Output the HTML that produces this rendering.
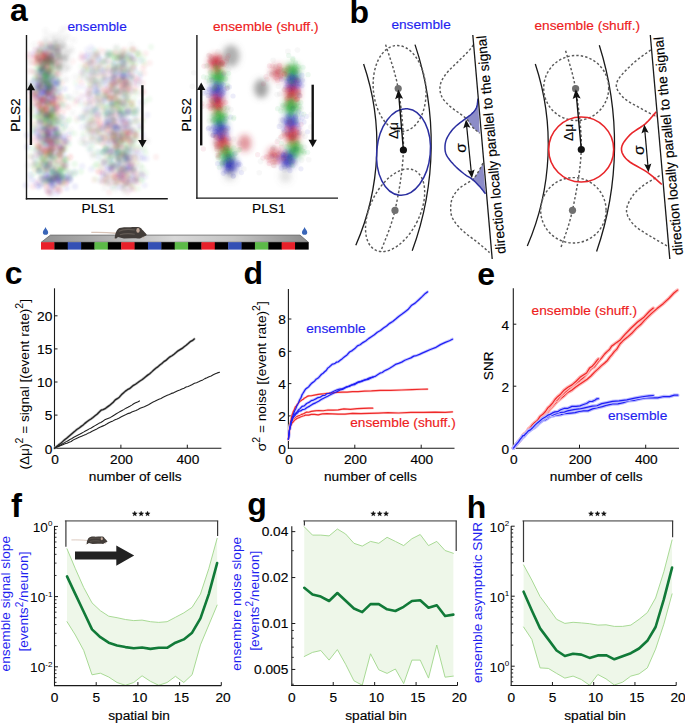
<!DOCTYPE html>
<html><head><meta charset="utf-8"><style>html,body{margin:0;padding:0;background:#fff;}svg{display:block;}text{font-family:"Liberation Sans", sans-serif;}</style></head>
<body><svg width="685" height="724" viewBox="0 0 685 724" font-family="Liberation Sans, sans-serif">
<rect width="685" height="724" fill="#fff"/>
<text x="10.1" y="21.4" font-size="32" text-anchor="start" fill="#000" font-weight="bold">a</text>
<text x="67.4" y="30.5" font-size="13.7" text-anchor="start" fill="#1f1ff0" stroke="#1f1ff0" stroke-width="0.15">ensemble</text>
<text x="213" y="30.5" font-size="13.7" text-anchor="start" fill="#ee2020" stroke="#ee2020" stroke-width="0.15">ensemble (shuff.)</text>
<defs><filter id="bl" x="-20%" y="-20%" width="140%" height="140%"><feGaussianBlur stdDeviation="0.8"/></filter><filter id="bl2" x="-50%" y="-50%" width="200%" height="200%"><feGaussianBlur stdDeviation="3.2"/></filter><filter id="bl3" x="-20%" y="-20%" width="140%" height="140%"><feGaussianBlur stdDeviation="0.7"/></filter></defs>
<g filter="url(#bl)">
<circle cx="47.92" cy="137.46" r="3.2" fill="rgb(225,40,40)" fill-opacity="0.07"/>
<circle cx="65.46" cy="170.79" r="3.2" fill="rgb(40,180,40)" fill-opacity="0.07"/>
<circle cx="47.79" cy="93.25" r="3.2" fill="rgb(225,40,40)" fill-opacity="0.07"/>
<circle cx="38.27" cy="122.41" r="3.2" fill="rgb(225,40,40)" fill-opacity="0.07"/>
<circle cx="51.55" cy="179.11" r="3.2" fill="rgb(40,40,200)" fill-opacity="0.07"/>
<circle cx="28.9" cy="54.18" r="3.2" fill="rgb(225,40,40)" fill-opacity="0.07"/>
<circle cx="45.29" cy="114.83" r="3.2" fill="rgb(40,40,200)" fill-opacity="0.07"/>
<circle cx="45.78" cy="74.45" r="3.2" fill="rgb(40,180,40)" fill-opacity="0.07"/>
<circle cx="47.13" cy="87.37" r="3.2" fill="rgb(40,40,200)" fill-opacity="0.07"/>
<circle cx="59.12" cy="146.18" r="3.2" fill="rgb(40,40,200)" fill-opacity="0.07"/>
<circle cx="59.94" cy="178.25" r="3.2" fill="rgb(110,110,110)" fill-opacity="0.07"/>
<circle cx="46.45" cy="105.8" r="3.2" fill="rgb(225,40,40)" fill-opacity="0.07"/>
<circle cx="47.09" cy="190.82" r="3.2" fill="rgb(40,40,200)" fill-opacity="0.07"/>
<circle cx="41.68" cy="66.06" r="3.2" fill="rgb(40,40,200)" fill-opacity="0.07"/>
<circle cx="45.83" cy="178.27" r="3.2" fill="rgb(225,40,40)" fill-opacity="0.07"/>
<circle cx="51.82" cy="168.77" r="3.2" fill="rgb(40,40,200)" fill-opacity="0.07"/>
<circle cx="50.63" cy="173.27" r="3.2" fill="rgb(40,40,200)" fill-opacity="0.07"/>
<circle cx="48.53" cy="127.63" r="3.2" fill="rgb(40,180,40)" fill-opacity="0.07"/>
<circle cx="56.51" cy="100.15" r="3.2" fill="rgb(110,110,110)" fill-opacity="0.07"/>
<circle cx="49.53" cy="173.59" r="3.2" fill="rgb(40,40,200)" fill-opacity="0.07"/>
<circle cx="39.89" cy="156.02" r="3.2" fill="rgb(110,110,110)" fill-opacity="0.07"/>
<circle cx="43.25" cy="58.82" r="3.2" fill="rgb(225,40,40)" fill-opacity="0.07"/>
<circle cx="46.81" cy="167.12" r="3.2" fill="rgb(40,40,200)" fill-opacity="0.07"/>
<circle cx="54.86" cy="120.81" r="3.2" fill="rgb(110,110,110)" fill-opacity="0.07"/>
<circle cx="53.68" cy="178.5" r="3.2" fill="rgb(40,40,200)" fill-opacity="0.07"/>
<circle cx="49.67" cy="111.7" r="3.2" fill="rgb(225,40,40)" fill-opacity="0.07"/>
<circle cx="40.02" cy="112.8" r="3.2" fill="rgb(40,180,40)" fill-opacity="0.07"/>
<circle cx="34.62" cy="103.5" r="3.2" fill="rgb(225,40,40)" fill-opacity="0.07"/>
<circle cx="36.09" cy="97.45" r="3.2" fill="rgb(225,40,40)" fill-opacity="0.07"/>
<circle cx="47.87" cy="120.05" r="3.2" fill="rgb(40,180,40)" fill-opacity="0.07"/>
<circle cx="42.15" cy="108.67" r="3.2" fill="rgb(225,40,40)" fill-opacity="0.07"/>
<circle cx="55.76" cy="108.72" r="3.2" fill="rgb(40,40,200)" fill-opacity="0.07"/>
<circle cx="46.89" cy="159.93" r="3.2" fill="rgb(40,180,40)" fill-opacity="0.07"/>
<circle cx="37.22" cy="94.71" r="3.2" fill="rgb(110,110,110)" fill-opacity="0.07"/>
<circle cx="38.91" cy="76.7" r="3.2" fill="rgb(110,110,110)" fill-opacity="0.07"/>
<circle cx="37.8" cy="138.95" r="3.2" fill="rgb(40,40,200)" fill-opacity="0.07"/>
<circle cx="53.38" cy="185.61" r="3.2" fill="rgb(40,40,200)" fill-opacity="0.07"/>
<circle cx="43.73" cy="56.38" r="3.2" fill="rgb(225,40,40)" fill-opacity="0.07"/>
<circle cx="47.01" cy="63.59" r="3.2" fill="rgb(225,40,40)" fill-opacity="0.07"/>
<circle cx="50.24" cy="178.88" r="3.2" fill="rgb(110,110,110)" fill-opacity="0.07"/>
<circle cx="51.3" cy="89.59" r="3.2" fill="rgb(40,40,200)" fill-opacity="0.07"/>
<circle cx="57.98" cy="135.27" r="3.2" fill="rgb(110,110,110)" fill-opacity="0.07"/>
<circle cx="53.13" cy="95.98" r="3.2" fill="rgb(40,40,200)" fill-opacity="0.07"/>
<circle cx="57.38" cy="129.3" r="3.2" fill="rgb(110,110,110)" fill-opacity="0.07"/>
<circle cx="65.68" cy="168.15" r="3.2" fill="rgb(110,110,110)" fill-opacity="0.07"/>
<circle cx="39.92" cy="100" r="3.2" fill="rgb(225,40,40)" fill-opacity="0.07"/>
<circle cx="49.02" cy="84.85" r="3.2" fill="rgb(110,110,110)" fill-opacity="0.07"/>
<circle cx="43.87" cy="155.98" r="3.2" fill="rgb(225,40,40)" fill-opacity="0.07"/>
<circle cx="54.36" cy="127.51" r="3.2" fill="rgb(40,40,200)" fill-opacity="0.07"/>
<circle cx="42.83" cy="158.25" r="3.2" fill="rgb(40,180,40)" fill-opacity="0.07"/>
<circle cx="47.87" cy="73.71" r="3.2" fill="rgb(225,40,40)" fill-opacity="0.07"/>
<circle cx="53.31" cy="180.03" r="3.2" fill="rgb(40,180,40)" fill-opacity="0.07"/>
<circle cx="49.86" cy="143.67" r="3.2" fill="rgb(110,110,110)" fill-opacity="0.07"/>
<circle cx="50.44" cy="146.04" r="3.2" fill="rgb(40,180,40)" fill-opacity="0.07"/>
<circle cx="42.51" cy="66.67" r="3.2" fill="rgb(110,110,110)" fill-opacity="0.07"/>
<circle cx="43.05" cy="149.19" r="3.2" fill="rgb(110,110,110)" fill-opacity="0.07"/>
<circle cx="51.15" cy="155.51" r="3.2" fill="rgb(110,110,110)" fill-opacity="0.07"/>
<circle cx="46.18" cy="63.42" r="3.2" fill="rgb(40,180,40)" fill-opacity="0.07"/>
<circle cx="62.53" cy="162.19" r="3.2" fill="rgb(225,40,40)" fill-opacity="0.07"/>
<circle cx="60.67" cy="96.5" r="3.2" fill="rgb(225,40,40)" fill-opacity="0.07"/>
<circle cx="27.94" cy="165.47" r="3.2" fill="rgb(110,110,110)" fill-opacity="0.07"/>
<circle cx="40.49" cy="121.92" r="3.2" fill="rgb(40,40,200)" fill-opacity="0.07"/>
<circle cx="52.08" cy="128.74" r="3.2" fill="rgb(110,110,110)" fill-opacity="0.07"/>
<circle cx="43.22" cy="73.21" r="3.2" fill="rgb(40,40,200)" fill-opacity="0.07"/>
<circle cx="59.92" cy="183.27" r="3.2" fill="rgb(225,40,40)" fill-opacity="0.07"/>
<circle cx="46.21" cy="74.64" r="3.2" fill="rgb(40,180,40)" fill-opacity="0.07"/>
<circle cx="43.01" cy="99.87" r="3.2" fill="rgb(225,40,40)" fill-opacity="0.07"/>
<circle cx="39.5" cy="102.09" r="3.2" fill="rgb(40,180,40)" fill-opacity="0.07"/>
<circle cx="50.19" cy="163.06" r="3.2" fill="rgb(110,110,110)" fill-opacity="0.07"/>
<circle cx="49.48" cy="148.56" r="3.2" fill="rgb(40,180,40)" fill-opacity="0.07"/>
<circle cx="67.97" cy="179.35" r="3.2" fill="rgb(110,110,110)" fill-opacity="0.07"/>
<circle cx="47.05" cy="71.99" r="3.2" fill="rgb(40,180,40)" fill-opacity="0.07"/>
<circle cx="50.65" cy="184.25" r="3.2" fill="rgb(110,110,110)" fill-opacity="0.07"/>
<circle cx="38.89" cy="116.61" r="3.2" fill="rgb(40,180,40)" fill-opacity="0.07"/>
<circle cx="60.47" cy="117.12" r="3.2" fill="rgb(40,180,40)" fill-opacity="0.07"/>
<circle cx="42.32" cy="83.24" r="3.2" fill="rgb(110,110,110)" fill-opacity="0.07"/>
<circle cx="53.4" cy="54.72" r="3.2" fill="rgb(110,110,110)" fill-opacity="0.07"/>
<circle cx="47.84" cy="165.32" r="3.2" fill="rgb(40,180,40)" fill-opacity="0.07"/>
<circle cx="46.85" cy="123.9" r="3.2" fill="rgb(40,180,40)" fill-opacity="0.07"/>
<circle cx="62.14" cy="106.61" r="3.2" fill="rgb(110,110,110)" fill-opacity="0.07"/>
<circle cx="47.9" cy="62.07" r="3.2" fill="rgb(225,40,40)" fill-opacity="0.07"/>
<circle cx="52.22" cy="186.67" r="3.2" fill="rgb(40,40,200)" fill-opacity="0.07"/>
<circle cx="59.3" cy="173.55" r="3.2" fill="rgb(40,40,200)" fill-opacity="0.07"/>
<circle cx="45.98" cy="77.96" r="3.2" fill="rgb(40,180,40)" fill-opacity="0.07"/>
<circle cx="61.67" cy="150.42" r="3.2" fill="rgb(40,180,40)" fill-opacity="0.07"/>
<circle cx="46.06" cy="93.69" r="3.2" fill="rgb(110,110,110)" fill-opacity="0.07"/>
<circle cx="39.22" cy="171.69" r="3.2" fill="rgb(40,40,200)" fill-opacity="0.07"/>
<circle cx="35.18" cy="125" r="3.2" fill="rgb(40,180,40)" fill-opacity="0.07"/>
<circle cx="54.15" cy="87.4" r="3.2" fill="rgb(40,40,200)" fill-opacity="0.07"/>
<circle cx="51.92" cy="113.04" r="3.2" fill="rgb(40,180,40)" fill-opacity="0.07"/>
<circle cx="47.37" cy="147.79" r="3.2" fill="rgb(40,40,200)" fill-opacity="0.07"/>
<circle cx="65.43" cy="149.74" r="3.2" fill="rgb(40,180,40)" fill-opacity="0.07"/>
<circle cx="59.94" cy="147.89" r="3.2" fill="rgb(110,110,110)" fill-opacity="0.07"/>
<circle cx="41.01" cy="129.01" r="3.2" fill="rgb(110,110,110)" fill-opacity="0.07"/>
<circle cx="44.34" cy="112.29" r="3.2" fill="rgb(110,110,110)" fill-opacity="0.07"/>
<circle cx="39.14" cy="127.76" r="3.2" fill="rgb(40,40,200)" fill-opacity="0.07"/>
<circle cx="43.46" cy="112.71" r="3.2" fill="rgb(40,180,40)" fill-opacity="0.07"/>
<circle cx="42.53" cy="120.28" r="3.2" fill="rgb(40,180,40)" fill-opacity="0.07"/>
<circle cx="46.88" cy="108.4" r="3.2" fill="rgb(225,40,40)" fill-opacity="0.07"/>
<circle cx="49.07" cy="113.99" r="3.2" fill="rgb(40,180,40)" fill-opacity="0.07"/>
<circle cx="36.24" cy="163.94" r="3.2" fill="rgb(40,180,40)" fill-opacity="0.07"/>
<circle cx="60.92" cy="148.14" r="3.2" fill="rgb(225,40,40)" fill-opacity="0.07"/>
<circle cx="53.93" cy="137.22" r="3.2" fill="rgb(225,40,40)" fill-opacity="0.07"/>
<circle cx="50.03" cy="87.36" r="3.2" fill="rgb(40,40,200)" fill-opacity="0.07"/>
<circle cx="62.97" cy="104.4" r="3.2" fill="rgb(40,180,40)" fill-opacity="0.07"/>
<circle cx="48.14" cy="102.68" r="3.2" fill="rgb(225,40,40)" fill-opacity="0.07"/>
<circle cx="42.01" cy="138.37" r="3.2" fill="rgb(40,40,200)" fill-opacity="0.07"/>
<circle cx="39.33" cy="160.43" r="3.2" fill="rgb(40,180,40)" fill-opacity="0.07"/>
<circle cx="39.67" cy="103.63" r="3.2" fill="rgb(40,180,40)" fill-opacity="0.07"/>
<circle cx="37.77" cy="146.36" r="3.2" fill="rgb(225,40,40)" fill-opacity="0.07"/>
<circle cx="41.68" cy="109.83" r="3.2" fill="rgb(40,180,40)" fill-opacity="0.07"/>
<circle cx="47.06" cy="101.64" r="3.2" fill="rgb(40,180,40)" fill-opacity="0.07"/>
<circle cx="59.7" cy="122.25" r="3.2" fill="rgb(40,180,40)" fill-opacity="0.07"/>
<circle cx="42.67" cy="91.97" r="3.2" fill="rgb(40,40,200)" fill-opacity="0.07"/>
<circle cx="50.18" cy="150.34" r="3.2" fill="rgb(40,40,200)" fill-opacity="0.07"/>
<circle cx="43.08" cy="153.11" r="3.2" fill="rgb(225,40,40)" fill-opacity="0.07"/>
<circle cx="39.32" cy="155.92" r="3.2" fill="rgb(40,40,200)" fill-opacity="0.07"/>
<circle cx="32.38" cy="116.34" r="3.2" fill="rgb(40,180,40)" fill-opacity="0.07"/>
<circle cx="42.93" cy="67.35" r="3.2" fill="rgb(40,180,40)" fill-opacity="0.07"/>
<circle cx="37.73" cy="75.72" r="3.2" fill="rgb(110,110,110)" fill-opacity="0.07"/>
<circle cx="47.47" cy="114.94" r="3.2" fill="rgb(40,180,40)" fill-opacity="0.07"/>
<circle cx="52.23" cy="137.01" r="3.2" fill="rgb(40,40,200)" fill-opacity="0.07"/>
<circle cx="59.41" cy="176.45" r="3.2" fill="rgb(110,110,110)" fill-opacity="0.07"/>
<circle cx="55.29" cy="135.48" r="3.2" fill="rgb(40,180,40)" fill-opacity="0.07"/>
<circle cx="38.25" cy="182.5" r="3.2" fill="rgb(225,40,40)" fill-opacity="0.07"/>
<circle cx="38.4" cy="166.18" r="3.2" fill="rgb(40,180,40)" fill-opacity="0.07"/>
<circle cx="53.15" cy="142.14" r="3.2" fill="rgb(225,40,40)" fill-opacity="0.07"/>
<circle cx="38.98" cy="119.81" r="3.2" fill="rgb(40,180,40)" fill-opacity="0.07"/>
<circle cx="61.87" cy="167.95" r="3.2" fill="rgb(110,110,110)" fill-opacity="0.07"/>
<circle cx="49.14" cy="71.17" r="3.2" fill="rgb(225,40,40)" fill-opacity="0.07"/>
<circle cx="56.8" cy="176.83" r="3.2" fill="rgb(40,180,40)" fill-opacity="0.07"/>
<circle cx="50.38" cy="105.43" r="3.2" fill="rgb(225,40,40)" fill-opacity="0.07"/>
<circle cx="31.25" cy="156.87" r="3.2" fill="rgb(225,40,40)" fill-opacity="0.07"/>
<circle cx="47.53" cy="181.14" r="3.2" fill="rgb(110,110,110)" fill-opacity="0.07"/>
<circle cx="51" cy="151.43" r="3.2" fill="rgb(110,110,110)" fill-opacity="0.07"/>
<circle cx="58.81" cy="132.71" r="3.2" fill="rgb(40,40,200)" fill-opacity="0.07"/>
<circle cx="49.74" cy="131.76" r="3.2" fill="rgb(40,40,200)" fill-opacity="0.07"/>
<circle cx="52.17" cy="168.37" r="3.2" fill="rgb(40,40,200)" fill-opacity="0.07"/>
<circle cx="40.52" cy="108.08" r="3.2" fill="rgb(225,40,40)" fill-opacity="0.07"/>
<circle cx="38.76" cy="187.06" r="3.2" fill="rgb(40,40,200)" fill-opacity="0.07"/>
<circle cx="56.87" cy="108.67" r="3.2" fill="rgb(225,40,40)" fill-opacity="0.07"/>
<circle cx="54.49" cy="90.26" r="3.2" fill="rgb(225,40,40)" fill-opacity="0.07"/>
<circle cx="45.91" cy="55.29" r="3.2" fill="rgb(225,40,40)" fill-opacity="0.07"/>
<circle cx="47.25" cy="83.98" r="3.2" fill="rgb(110,110,110)" fill-opacity="0.07"/>
<circle cx="51.2" cy="68.09" r="3.2" fill="rgb(225,40,40)" fill-opacity="0.07"/>
<circle cx="66.7" cy="141.04" r="3.2" fill="rgb(110,110,110)" fill-opacity="0.07"/>
<circle cx="48.21" cy="128.13" r="3.2" fill="rgb(110,110,110)" fill-opacity="0.07"/>
<circle cx="40.8" cy="88.37" r="3.2" fill="rgb(225,40,40)" fill-opacity="0.07"/>
<circle cx="46.2" cy="186.32" r="3.2" fill="rgb(225,40,40)" fill-opacity="0.07"/>
<circle cx="47.97" cy="59.96" r="3.2" fill="rgb(225,40,40)" fill-opacity="0.07"/>
<circle cx="47.04" cy="99.19" r="3.2" fill="rgb(40,40,200)" fill-opacity="0.07"/>
<circle cx="36.42" cy="128.77" r="3.2" fill="rgb(225,40,40)" fill-opacity="0.07"/>
<circle cx="52.03" cy="83.03" r="3.2" fill="rgb(110,110,110)" fill-opacity="0.07"/>
<circle cx="47.54" cy="133.43" r="3.2" fill="rgb(40,40,200)" fill-opacity="0.07"/>
<circle cx="45.27" cy="127.44" r="3.2" fill="rgb(110,110,110)" fill-opacity="0.07"/>
<circle cx="58.52" cy="165.13" r="3.2" fill="rgb(40,180,40)" fill-opacity="0.07"/>
<circle cx="44.44" cy="76.52" r="3.2" fill="rgb(110,110,110)" fill-opacity="0.07"/>
<circle cx="34.93" cy="94.51" r="3.2" fill="rgb(40,40,200)" fill-opacity="0.07"/>
<circle cx="43.43" cy="71.22" r="3.2" fill="rgb(40,180,40)" fill-opacity="0.07"/>
<circle cx="58.41" cy="73.92" r="3.2" fill="rgb(225,40,40)" fill-opacity="0.07"/>
<circle cx="47.45" cy="156.71" r="3.2" fill="rgb(110,110,110)" fill-opacity="0.07"/>
<circle cx="38.39" cy="171.61" r="3.2" fill="rgb(40,180,40)" fill-opacity="0.07"/>
<circle cx="42.06" cy="72.53" r="3.2" fill="rgb(110,110,110)" fill-opacity="0.07"/>
<circle cx="58.84" cy="79.76" r="3.2" fill="rgb(40,180,40)" fill-opacity="0.07"/>
<circle cx="57.09" cy="86.06" r="3.2" fill="rgb(40,40,200)" fill-opacity="0.07"/>
<circle cx="44.73" cy="106.2" r="3.2" fill="rgb(225,40,40)" fill-opacity="0.07"/>
<circle cx="46.6" cy="101.98" r="3.2" fill="rgb(110,110,110)" fill-opacity="0.07"/>
<circle cx="39.75" cy="113.26" r="3.2" fill="rgb(110,110,110)" fill-opacity="0.07"/>
<circle cx="52.2" cy="149.39" r="3.2" fill="rgb(225,40,40)" fill-opacity="0.07"/>
<circle cx="55" cy="65.7" r="3.2" fill="rgb(110,110,110)" fill-opacity="0.07"/>
<circle cx="52.18" cy="93.64" r="3.2" fill="rgb(225,40,40)" fill-opacity="0.07"/>
<circle cx="42.83" cy="62.26" r="3.2" fill="rgb(225,40,40)" fill-opacity="0.07"/>
<circle cx="47.56" cy="135.34" r="3.2" fill="rgb(40,40,200)" fill-opacity="0.07"/>
<circle cx="66.33" cy="159.34" r="3.2" fill="rgb(40,180,40)" fill-opacity="0.07"/>
<circle cx="41.35" cy="109.48" r="3.2" fill="rgb(40,180,40)" fill-opacity="0.07"/>
<circle cx="53.37" cy="98.1" r="3.2" fill="rgb(40,40,200)" fill-opacity="0.07"/>
<circle cx="53.21" cy="110.15" r="3.2" fill="rgb(40,180,40)" fill-opacity="0.07"/>
<circle cx="54.28" cy="144.29" r="3.2" fill="rgb(40,180,40)" fill-opacity="0.07"/>
<circle cx="37.24" cy="92.77" r="3.2" fill="rgb(225,40,40)" fill-opacity="0.07"/>
<circle cx="35.76" cy="132.96" r="3.2" fill="rgb(40,40,200)" fill-opacity="0.07"/>
<circle cx="42.36" cy="91.27" r="3.2" fill="rgb(40,40,200)" fill-opacity="0.07"/>
<circle cx="64.57" cy="88.89" r="3.2" fill="rgb(40,40,200)" fill-opacity="0.07"/>
<circle cx="40.93" cy="150.65" r="3.2" fill="rgb(40,180,40)" fill-opacity="0.07"/>
<circle cx="39.82" cy="81.07" r="3.2" fill="rgb(40,180,40)" fill-opacity="0.07"/>
<circle cx="55.38" cy="185.06" r="3.2" fill="rgb(40,180,40)" fill-opacity="0.07"/>
<circle cx="56.72" cy="131.12" r="3.2" fill="rgb(40,40,200)" fill-opacity="0.07"/>
<circle cx="40.8" cy="57.39" r="3.2" fill="rgb(225,40,40)" fill-opacity="0.07"/>
<circle cx="48.95" cy="101.78" r="3.2" fill="rgb(40,40,200)" fill-opacity="0.07"/>
<circle cx="44.98" cy="75.87" r="3.2" fill="rgb(40,180,40)" fill-opacity="0.07"/>
<circle cx="56.11" cy="173.54" r="3.2" fill="rgb(40,40,200)" fill-opacity="0.07"/>
<circle cx="42.57" cy="46.89" r="3.2" fill="rgb(110,110,110)" fill-opacity="0.07"/>
<circle cx="53.03" cy="142.65" r="3.2" fill="rgb(40,40,200)" fill-opacity="0.07"/>
<circle cx="53" cy="104.34" r="3.2" fill="rgb(225,40,40)" fill-opacity="0.07"/>
<circle cx="49.24" cy="131.56" r="3.2" fill="rgb(40,40,200)" fill-opacity="0.07"/>
<circle cx="49.6" cy="163.99" r="3.2" fill="rgb(110,110,110)" fill-opacity="0.07"/>
<circle cx="52.71" cy="168.35" r="3.2" fill="rgb(40,180,40)" fill-opacity="0.07"/>
<circle cx="42.08" cy="161.2" r="3.2" fill="rgb(110,110,110)" fill-opacity="0.07"/>
<circle cx="74.27" cy="172.03" r="3.2" fill="rgb(40,180,40)" fill-opacity="0.07"/>
<circle cx="47.85" cy="93.45" r="3.2" fill="rgb(40,40,200)" fill-opacity="0.07"/>
<circle cx="63.59" cy="148.12" r="3.2" fill="rgb(225,40,40)" fill-opacity="0.07"/>
<circle cx="47.06" cy="91.64" r="3.2" fill="rgb(110,110,110)" fill-opacity="0.07"/>
<circle cx="50.02" cy="47.8" r="3.2" fill="rgb(110,110,110)" fill-opacity="0.07"/>
<circle cx="57.45" cy="120.83" r="3.2" fill="rgb(40,180,40)" fill-opacity="0.07"/>
<circle cx="44.02" cy="68.48" r="3.2" fill="rgb(225,40,40)" fill-opacity="0.07"/>
<circle cx="41.48" cy="148.16" r="3.2" fill="rgb(225,40,40)" fill-opacity="0.07"/>
<circle cx="59.17" cy="144.96" r="3.2" fill="rgb(225,40,40)" fill-opacity="0.07"/>
<circle cx="40.55" cy="60.72" r="3.2" fill="rgb(110,110,110)" fill-opacity="0.07"/>
<circle cx="43.08" cy="82.72" r="3.2" fill="rgb(225,40,40)" fill-opacity="0.07"/>
<circle cx="45.62" cy="117.25" r="3.2" fill="rgb(110,110,110)" fill-opacity="0.07"/>
<circle cx="64.64" cy="178.66" r="3.2" fill="rgb(40,180,40)" fill-opacity="0.07"/>
<circle cx="44.62" cy="93.23" r="3.2" fill="rgb(225,40,40)" fill-opacity="0.07"/>
<circle cx="55.61" cy="129.28" r="3.2" fill="rgb(40,40,200)" fill-opacity="0.07"/>
<circle cx="52.7" cy="104.13" r="3.2" fill="rgb(40,40,200)" fill-opacity="0.07"/>
<circle cx="55.61" cy="126.95" r="3.2" fill="rgb(40,40,200)" fill-opacity="0.07"/>
<circle cx="56.47" cy="169.16" r="3.2" fill="rgb(40,180,40)" fill-opacity="0.07"/>
<circle cx="57.4" cy="169.82" r="3.2" fill="rgb(225,40,40)" fill-opacity="0.07"/>
<circle cx="46.24" cy="90.18" r="3.2" fill="rgb(40,40,200)" fill-opacity="0.07"/>
<circle cx="44.36" cy="68.6" r="3.2" fill="rgb(110,110,110)" fill-opacity="0.07"/>
<circle cx="43.18" cy="80.14" r="3.2" fill="rgb(40,180,40)" fill-opacity="0.07"/>
<circle cx="48.73" cy="79.81" r="3.2" fill="rgb(40,40,200)" fill-opacity="0.07"/>
<circle cx="62.27" cy="181.92" r="3.2" fill="rgb(40,180,40)" fill-opacity="0.07"/>
<circle cx="53.53" cy="175.18" r="3.2" fill="rgb(40,180,40)" fill-opacity="0.07"/>
<circle cx="30.8" cy="62.12" r="3.2" fill="rgb(110,110,110)" fill-opacity="0.07"/>
<circle cx="45.43" cy="88.66" r="3.2" fill="rgb(110,110,110)" fill-opacity="0.07"/>
<circle cx="38.83" cy="72.45" r="3.2" fill="rgb(40,180,40)" fill-opacity="0.07"/>
<circle cx="49.28" cy="60.77" r="3.2" fill="rgb(40,180,40)" fill-opacity="0.07"/>
<circle cx="54.06" cy="124.54" r="3.2" fill="rgb(40,180,40)" fill-opacity="0.07"/>
<circle cx="53.8" cy="116.61" r="3.2" fill="rgb(40,180,40)" fill-opacity="0.07"/>
<circle cx="32.63" cy="92.43" r="3.2" fill="rgb(40,40,200)" fill-opacity="0.07"/>
<circle cx="49.37" cy="154.38" r="3.2" fill="rgb(40,180,40)" fill-opacity="0.07"/>
<circle cx="42.2" cy="175.08" r="3.2" fill="rgb(40,180,40)" fill-opacity="0.07"/>
<circle cx="45.24" cy="180.89" r="3.2" fill="rgb(40,180,40)" fill-opacity="0.07"/>
<circle cx="42.53" cy="179.32" r="3.2" fill="rgb(40,40,200)" fill-opacity="0.07"/>
<circle cx="43.94" cy="121.59" r="3.2" fill="rgb(40,40,200)" fill-opacity="0.07"/>
<circle cx="39.08" cy="105.47" r="3.2" fill="rgb(225,40,40)" fill-opacity="0.07"/>
<circle cx="46.49" cy="91.57" r="3.2" fill="rgb(225,40,40)" fill-opacity="0.07"/>
<circle cx="43.44" cy="61.97" r="3.2" fill="rgb(40,40,200)" fill-opacity="0.07"/>
<circle cx="49.84" cy="158.47" r="3.2" fill="rgb(110,110,110)" fill-opacity="0.07"/>
<circle cx="40.56" cy="66.42" r="3.2" fill="rgb(110,110,110)" fill-opacity="0.07"/>
<circle cx="43.97" cy="117.21" r="3.2" fill="rgb(40,180,40)" fill-opacity="0.07"/>
<circle cx="58.99" cy="66.3" r="3.2" fill="rgb(225,40,40)" fill-opacity="0.07"/>
<circle cx="46.38" cy="66.56" r="3.2" fill="rgb(225,40,40)" fill-opacity="0.07"/>
<circle cx="49.21" cy="55.7" r="3.2" fill="rgb(40,40,200)" fill-opacity="0.07"/>
<circle cx="46.89" cy="90.01" r="3.2" fill="rgb(40,40,200)" fill-opacity="0.07"/>
<circle cx="49.35" cy="78.16" r="3.2" fill="rgb(40,180,40)" fill-opacity="0.07"/>
<circle cx="58.46" cy="153.67" r="3.2" fill="rgb(110,110,110)" fill-opacity="0.07"/>
<circle cx="42.75" cy="113.93" r="3.2" fill="rgb(110,110,110)" fill-opacity="0.07"/>
<circle cx="42.83" cy="111.37" r="3.2" fill="rgb(225,40,40)" fill-opacity="0.07"/>
<circle cx="32.61" cy="93.73" r="3.2" fill="rgb(225,40,40)" fill-opacity="0.07"/>
<circle cx="42.7" cy="109.63" r="3.2" fill="rgb(40,180,40)" fill-opacity="0.07"/>
<circle cx="52.15" cy="65.54" r="3.2" fill="rgb(40,180,40)" fill-opacity="0.07"/>
<circle cx="54.05" cy="121.66" r="3.2" fill="rgb(110,110,110)" fill-opacity="0.07"/>
<circle cx="44.31" cy="183.4" r="3.2" fill="rgb(110,110,110)" fill-opacity="0.07"/>
<circle cx="44.74" cy="181.59" r="3.2" fill="rgb(40,180,40)" fill-opacity="0.07"/>
<circle cx="59.36" cy="140.1" r="3.2" fill="rgb(110,110,110)" fill-opacity="0.07"/>
<circle cx="41.45" cy="109.31" r="3.2" fill="rgb(110,110,110)" fill-opacity="0.07"/>
<circle cx="46.11" cy="116.42" r="3.2" fill="rgb(40,40,200)" fill-opacity="0.07"/>
<circle cx="33.96" cy="93.17" r="3.2" fill="rgb(40,180,40)" fill-opacity="0.07"/>
<circle cx="42.7" cy="52.82" r="3.2" fill="rgb(225,40,40)" fill-opacity="0.07"/>
<circle cx="53.32" cy="178.98" r="3.2" fill="rgb(40,40,200)" fill-opacity="0.07"/>
<circle cx="46.68" cy="151.98" r="3.2" fill="rgb(40,180,40)" fill-opacity="0.07"/>
<circle cx="59.35" cy="146.82" r="3.2" fill="rgb(40,40,200)" fill-opacity="0.07"/>
<circle cx="44.06" cy="69.23" r="3.2" fill="rgb(40,40,200)" fill-opacity="0.07"/>
<circle cx="45.23" cy="128.09" r="3.2" fill="rgb(40,40,200)" fill-opacity="0.07"/>
<circle cx="36.58" cy="185.61" r="3.2" fill="rgb(40,40,200)" fill-opacity="0.07"/>
<circle cx="52.38" cy="180.32" r="3.2" fill="rgb(40,180,40)" fill-opacity="0.07"/>
<circle cx="55.98" cy="141.72" r="3.2" fill="rgb(225,40,40)" fill-opacity="0.07"/>
<circle cx="35.22" cy="56.81" r="3.2" fill="rgb(225,40,40)" fill-opacity="0.07"/>
<circle cx="45.87" cy="61.63" r="3.2" fill="rgb(110,110,110)" fill-opacity="0.07"/>
<circle cx="46.41" cy="128.63" r="3.2" fill="rgb(110,110,110)" fill-opacity="0.07"/>
<circle cx="52.99" cy="107.72" r="3.2" fill="rgb(40,180,40)" fill-opacity="0.07"/>
<circle cx="52.36" cy="103.38" r="3.2" fill="rgb(225,40,40)" fill-opacity="0.07"/>
<circle cx="60.04" cy="155.37" r="3.2" fill="rgb(40,180,40)" fill-opacity="0.07"/>
<circle cx="56.08" cy="189.22" r="3.2" fill="rgb(225,40,40)" fill-opacity="0.07"/>
<circle cx="42.96" cy="97.18" r="3.2" fill="rgb(40,180,40)" fill-opacity="0.07"/>
<circle cx="54.73" cy="84.2" r="3.2" fill="rgb(40,40,200)" fill-opacity="0.07"/>
<circle cx="40.9" cy="165.2" r="3.2" fill="rgb(40,180,40)" fill-opacity="0.07"/>
<circle cx="45.54" cy="129.71" r="3.2" fill="rgb(40,40,200)" fill-opacity="0.07"/>
<circle cx="56.91" cy="180.69" r="3.2" fill="rgb(225,40,40)" fill-opacity="0.07"/>
<circle cx="46.88" cy="100.56" r="3.2" fill="rgb(40,40,200)" fill-opacity="0.07"/>
<circle cx="61.87" cy="147.62" r="3.2" fill="rgb(40,40,200)" fill-opacity="0.07"/>
<circle cx="55.69" cy="143.9" r="3.2" fill="rgb(110,110,110)" fill-opacity="0.07"/>
<circle cx="63.75" cy="145.67" r="3.2" fill="rgb(40,180,40)" fill-opacity="0.07"/>
<circle cx="65.43" cy="144.42" r="3.2" fill="rgb(225,40,40)" fill-opacity="0.07"/>
<circle cx="55.77" cy="64.46" r="3.2" fill="rgb(225,40,40)" fill-opacity="0.07"/>
<circle cx="45.66" cy="58.23" r="3.2" fill="rgb(225,40,40)" fill-opacity="0.07"/>
<circle cx="49.1" cy="87.64" r="3.2" fill="rgb(40,40,200)" fill-opacity="0.07"/>
<circle cx="57.52" cy="143.37" r="3.2" fill="rgb(40,180,40)" fill-opacity="0.07"/>
<circle cx="50.03" cy="115.91" r="3.2" fill="rgb(40,180,40)" fill-opacity="0.07"/>
<circle cx="56.89" cy="81.24" r="3.2" fill="rgb(40,40,200)" fill-opacity="0.07"/>
<circle cx="60.95" cy="104.66" r="3.2" fill="rgb(110,110,110)" fill-opacity="0.07"/>
<circle cx="61.37" cy="166.57" r="3.2" fill="rgb(225,40,40)" fill-opacity="0.07"/>
<circle cx="40.02" cy="96.16" r="3.2" fill="rgb(40,40,200)" fill-opacity="0.07"/>
<circle cx="60" cy="160.23" r="3.2" fill="rgb(225,40,40)" fill-opacity="0.07"/>
<circle cx="37.66" cy="86.72" r="3.2" fill="rgb(110,110,110)" fill-opacity="0.07"/>
<circle cx="37.85" cy="85.12" r="3.2" fill="rgb(40,40,200)" fill-opacity="0.07"/>
<circle cx="55.65" cy="179.28" r="3.2" fill="rgb(40,180,40)" fill-opacity="0.07"/>
<circle cx="57.99" cy="133.33" r="3.2" fill="rgb(40,180,40)" fill-opacity="0.07"/>
<circle cx="42.16" cy="59.91" r="3.2" fill="rgb(40,40,200)" fill-opacity="0.07"/>
<circle cx="38.75" cy="142.25" r="3.2" fill="rgb(225,40,40)" fill-opacity="0.07"/>
<circle cx="57.04" cy="150.24" r="3.2" fill="rgb(40,180,40)" fill-opacity="0.07"/>
<circle cx="49.23" cy="81.12" r="3.2" fill="rgb(40,180,40)" fill-opacity="0.07"/>
<circle cx="64.05" cy="142.36" r="3.2" fill="rgb(225,40,40)" fill-opacity="0.07"/>
<circle cx="61.82" cy="150.07" r="3.2" fill="rgb(225,40,40)" fill-opacity="0.07"/>
<circle cx="42.12" cy="99.13" r="3.2" fill="rgb(40,40,200)" fill-opacity="0.07"/>
<circle cx="41.21" cy="115.44" r="3.2" fill="rgb(40,180,40)" fill-opacity="0.07"/>
<circle cx="37.92" cy="79.98" r="3.2" fill="rgb(40,180,40)" fill-opacity="0.07"/>
<circle cx="54.4" cy="174.34" r="3.2" fill="rgb(40,40,200)" fill-opacity="0.07"/>
<circle cx="63.9" cy="167.79" r="3.2" fill="rgb(40,40,200)" fill-opacity="0.07"/>
<circle cx="53.66" cy="91.09" r="3.2" fill="rgb(225,40,40)" fill-opacity="0.07"/>
<circle cx="47.1" cy="76.3" r="3.2" fill="rgb(40,180,40)" fill-opacity="0.07"/>
<circle cx="40.6" cy="135.7" r="3.2" fill="rgb(110,110,110)" fill-opacity="0.07"/>
<circle cx="48.14" cy="73.76" r="3.2" fill="rgb(40,180,40)" fill-opacity="0.07"/>
<circle cx="47.38" cy="73.39" r="3.2" fill="rgb(110,110,110)" fill-opacity="0.07"/>
<circle cx="49.49" cy="177.92" r="3.2" fill="rgb(110,110,110)" fill-opacity="0.07"/>
<circle cx="49.28" cy="134.31" r="3.2" fill="rgb(40,40,200)" fill-opacity="0.07"/>
<circle cx="44.39" cy="152.04" r="3.2" fill="rgb(225,40,40)" fill-opacity="0.07"/>
<circle cx="50.42" cy="190.03" r="3.2" fill="rgb(40,40,200)" fill-opacity="0.07"/>
<circle cx="41.79" cy="88.33" r="3.2" fill="rgb(40,180,40)" fill-opacity="0.07"/>
<circle cx="52.97" cy="148.66" r="3.2" fill="rgb(40,40,200)" fill-opacity="0.07"/>
<circle cx="42.76" cy="98.04" r="3.2" fill="rgb(225,40,40)" fill-opacity="0.07"/>
<circle cx="59.56" cy="60.77" r="3.2" fill="rgb(225,40,40)" fill-opacity="0.07"/>
<circle cx="63.07" cy="145.04" r="3.2" fill="rgb(40,40,200)" fill-opacity="0.07"/>
<circle cx="39.37" cy="88.63" r="3.2" fill="rgb(40,40,200)" fill-opacity="0.07"/>
<circle cx="51.67" cy="94.08" r="3.2" fill="rgb(40,40,200)" fill-opacity="0.07"/>
<circle cx="55.18" cy="98.61" r="3.2" fill="rgb(40,40,200)" fill-opacity="0.07"/>
<circle cx="38.88" cy="49.7" r="3.2" fill="rgb(225,40,40)" fill-opacity="0.07"/>
<circle cx="42.21" cy="55.57" r="3.2" fill="rgb(225,40,40)" fill-opacity="0.07"/>
<circle cx="38.75" cy="104.61" r="3.2" fill="rgb(225,40,40)" fill-opacity="0.07"/>
<circle cx="51.26" cy="83.12" r="3.2" fill="rgb(40,180,40)" fill-opacity="0.07"/>
<circle cx="37.07" cy="71.96" r="3.2" fill="rgb(40,40,200)" fill-opacity="0.07"/>
<circle cx="57.95" cy="110.31" r="3.2" fill="rgb(225,40,40)" fill-opacity="0.07"/>
<circle cx="40.98" cy="61.5" r="3.2" fill="rgb(225,40,40)" fill-opacity="0.07"/>
<circle cx="36.42" cy="88.74" r="3.2" fill="rgb(40,40,200)" fill-opacity="0.07"/>
<circle cx="46.55" cy="92.95" r="3.2" fill="rgb(40,40,200)" fill-opacity="0.07"/>
<circle cx="80.77" cy="171.46" r="3.2" fill="rgb(40,180,40)" fill-opacity="0.07"/>
<circle cx="51.35" cy="167.75" r="3.2" fill="rgb(40,180,40)" fill-opacity="0.07"/>
<circle cx="49.84" cy="161.87" r="3.2" fill="rgb(110,110,110)" fill-opacity="0.07"/>
<circle cx="59.81" cy="101.12" r="3.2" fill="rgb(225,40,40)" fill-opacity="0.07"/>
<circle cx="50.34" cy="153.46" r="3.2" fill="rgb(40,180,40)" fill-opacity="0.07"/>
<circle cx="41.28" cy="45.98" r="3.2" fill="rgb(110,110,110)" fill-opacity="0.07"/>
<circle cx="57.91" cy="89.19" r="3.2" fill="rgb(110,110,110)" fill-opacity="0.07"/>
<circle cx="40.02" cy="83.07" r="3.2" fill="rgb(40,40,200)" fill-opacity="0.07"/>
<circle cx="46.57" cy="80.72" r="3.2" fill="rgb(40,40,200)" fill-opacity="0.07"/>
<circle cx="38.18" cy="79.82" r="3.2" fill="rgb(225,40,40)" fill-opacity="0.07"/>
<circle cx="47.39" cy="114.56" r="3.2" fill="rgb(40,40,200)" fill-opacity="0.07"/>
<circle cx="57.15" cy="130.07" r="3.2" fill="rgb(40,40,200)" fill-opacity="0.07"/>
<circle cx="48.75" cy="115.93" r="3.2" fill="rgb(40,180,40)" fill-opacity="0.07"/>
<circle cx="54.33" cy="145.33" r="3.2" fill="rgb(225,40,40)" fill-opacity="0.07"/>
<circle cx="45.33" cy="77.5" r="3.2" fill="rgb(110,110,110)" fill-opacity="0.07"/>
<circle cx="47.42" cy="133.9" r="3.2" fill="rgb(110,110,110)" fill-opacity="0.07"/>
<circle cx="55.98" cy="133.8" r="3.2" fill="rgb(40,180,40)" fill-opacity="0.07"/>
<circle cx="41.64" cy="92.32" r="3.2" fill="rgb(40,40,200)" fill-opacity="0.07"/>
<circle cx="52.51" cy="139.18" r="3.2" fill="rgb(40,180,40)" fill-opacity="0.07"/>
<circle cx="41.93" cy="144.17" r="3.2" fill="rgb(110,110,110)" fill-opacity="0.07"/>
<circle cx="56.49" cy="177.12" r="3.2" fill="rgb(40,180,40)" fill-opacity="0.07"/>
<circle cx="50.26" cy="118.46" r="3.2" fill="rgb(40,180,40)" fill-opacity="0.07"/>
<circle cx="51.2" cy="155.16" r="3.2" fill="rgb(40,40,200)" fill-opacity="0.07"/>
<circle cx="51.65" cy="181.48" r="3.2" fill="rgb(225,40,40)" fill-opacity="0.07"/>
<circle cx="38.03" cy="58.14" r="3.2" fill="rgb(225,40,40)" fill-opacity="0.07"/>
<circle cx="43.76" cy="99.93" r="3.2" fill="rgb(225,40,40)" fill-opacity="0.07"/>
<circle cx="68.66" cy="143.94" r="3.2" fill="rgb(40,180,40)" fill-opacity="0.07"/>
<circle cx="56.36" cy="148.1" r="3.2" fill="rgb(225,40,40)" fill-opacity="0.07"/>
<circle cx="31.46" cy="86.09" r="3.2" fill="rgb(40,180,40)" fill-opacity="0.07"/>
<circle cx="46.42" cy="106.45" r="3.2" fill="rgb(225,40,40)" fill-opacity="0.07"/>
<circle cx="52.33" cy="148.35" r="3.2" fill="rgb(225,40,40)" fill-opacity="0.07"/>
<circle cx="50.79" cy="147.59" r="3.2" fill="rgb(110,110,110)" fill-opacity="0.07"/>
<circle cx="56.9" cy="136.98" r="3.2" fill="rgb(40,40,200)" fill-opacity="0.07"/>
<circle cx="38.67" cy="111.66" r="3.2" fill="rgb(40,40,200)" fill-opacity="0.07"/>
<circle cx="31.62" cy="91.15" r="3.2" fill="rgb(40,40,200)" fill-opacity="0.07"/>
<circle cx="38.17" cy="76.7" r="3.2" fill="rgb(225,40,40)" fill-opacity="0.07"/>
<circle cx="52.15" cy="101.48" r="3.2" fill="rgb(225,40,40)" fill-opacity="0.07"/>
<circle cx="51.77" cy="105.66" r="3.2" fill="rgb(40,180,40)" fill-opacity="0.07"/>
<circle cx="46.82" cy="56.34" r="3.2" fill="rgb(225,40,40)" fill-opacity="0.07"/>
<circle cx="65.36" cy="179.84" r="3.2" fill="rgb(110,110,110)" fill-opacity="0.07"/>
<circle cx="54.48" cy="178.7" r="3.2" fill="rgb(40,180,40)" fill-opacity="0.07"/>
<circle cx="40.42" cy="177.86" r="3.2" fill="rgb(110,110,110)" fill-opacity="0.07"/>
<circle cx="31.29" cy="113.46" r="3.2" fill="rgb(110,110,110)" fill-opacity="0.07"/>
<circle cx="47.91" cy="91.86" r="3.2" fill="rgb(40,40,200)" fill-opacity="0.07"/>
<circle cx="50.25" cy="57.85" r="3.2" fill="rgb(225,40,40)" fill-opacity="0.07"/>
<circle cx="43.46" cy="163.2" r="3.2" fill="rgb(40,180,40)" fill-opacity="0.07"/>
<circle cx="45.47" cy="95.72" r="3.2" fill="rgb(40,40,200)" fill-opacity="0.07"/>
<circle cx="40.4" cy="68.81" r="3.2" fill="rgb(40,40,200)" fill-opacity="0.07"/>
<circle cx="55.45" cy="95.82" r="3.2" fill="rgb(40,180,40)" fill-opacity="0.07"/>
<circle cx="35.68" cy="50.43" r="3.2" fill="rgb(40,40,200)" fill-opacity="0.07"/>
<circle cx="47.39" cy="184.45" r="3.2" fill="rgb(225,40,40)" fill-opacity="0.07"/>
<circle cx="56.89" cy="173.24" r="3.2" fill="rgb(40,40,200)" fill-opacity="0.07"/>
<circle cx="52.17" cy="149.8" r="3.2" fill="rgb(40,180,40)" fill-opacity="0.07"/>
<circle cx="49.04" cy="87.26" r="3.2" fill="rgb(40,40,200)" fill-opacity="0.07"/>
<circle cx="54.5" cy="139.41" r="3.2" fill="rgb(40,180,40)" fill-opacity="0.07"/>
<circle cx="40.41" cy="94.92" r="3.2" fill="rgb(40,40,200)" fill-opacity="0.07"/>
<circle cx="61.56" cy="153" r="3.2" fill="rgb(40,180,40)" fill-opacity="0.07"/>
<circle cx="42.3" cy="179.26" r="3.2" fill="rgb(40,40,200)" fill-opacity="0.07"/>
<circle cx="38.04" cy="82.55" r="3.2" fill="rgb(40,40,200)" fill-opacity="0.07"/>
<circle cx="55.36" cy="46.2" r="3.2" fill="rgb(40,180,40)" fill-opacity="0.07"/>
<circle cx="65.49" cy="165.67" r="3.2" fill="rgb(225,40,40)" fill-opacity="0.07"/>
<circle cx="45.22" cy="169.66" r="3.2" fill="rgb(40,40,200)" fill-opacity="0.07"/>
<circle cx="74.46" cy="174.16" r="3.2" fill="rgb(40,180,40)" fill-opacity="0.07"/>
<circle cx="40.11" cy="136.57" r="3.2" fill="rgb(40,40,200)" fill-opacity="0.07"/>
<circle cx="45.46" cy="52.66" r="3.2" fill="rgb(110,110,110)" fill-opacity="0.07"/>
<circle cx="33.25" cy="165.51" r="3.2" fill="rgb(40,180,40)" fill-opacity="0.07"/>
<circle cx="36.88" cy="58.08" r="3.2" fill="rgb(225,40,40)" fill-opacity="0.07"/>
<circle cx="41.04" cy="152.89" r="3.2" fill="rgb(40,40,200)" fill-opacity="0.07"/>
<circle cx="50.28" cy="55.04" r="3.2" fill="rgb(110,110,110)" fill-opacity="0.07"/>
<circle cx="60.9" cy="151.31" r="3.2" fill="rgb(40,180,40)" fill-opacity="0.07"/>
<circle cx="56.5" cy="99.77" r="3.2" fill="rgb(225,40,40)" fill-opacity="0.07"/>
<circle cx="51.49" cy="128.46" r="3.2" fill="rgb(225,40,40)" fill-opacity="0.07"/>
<circle cx="44.19" cy="68.92" r="3.2" fill="rgb(225,40,40)" fill-opacity="0.07"/>
<circle cx="50.17" cy="184.56" r="3.2" fill="rgb(40,40,200)" fill-opacity="0.07"/>
<circle cx="52.19" cy="147.14" r="3.2" fill="rgb(40,40,200)" fill-opacity="0.07"/>
<circle cx="70.38" cy="177.58" r="3.2" fill="rgb(40,40,200)" fill-opacity="0.07"/>
<circle cx="51.52" cy="152.12" r="3.2" fill="rgb(40,40,200)" fill-opacity="0.07"/>
<circle cx="52.92" cy="116.89" r="3.2" fill="rgb(225,40,40)" fill-opacity="0.07"/>
<circle cx="62.08" cy="168.57" r="3.2" fill="rgb(40,180,40)" fill-opacity="0.07"/>
<circle cx="45.29" cy="95.08" r="3.2" fill="rgb(40,40,200)" fill-opacity="0.07"/>
<circle cx="47.37" cy="88.98" r="3.2" fill="rgb(40,180,40)" fill-opacity="0.07"/>
<circle cx="48.15" cy="170.28" r="3.2" fill="rgb(110,110,110)" fill-opacity="0.07"/>
<circle cx="41.59" cy="72.46" r="3.2" fill="rgb(40,180,40)" fill-opacity="0.07"/>
<circle cx="59.88" cy="69.9" r="3.2" fill="rgb(110,110,110)" fill-opacity="0.07"/>
<circle cx="48.75" cy="87.06" r="3.2" fill="rgb(40,40,200)" fill-opacity="0.07"/>
<circle cx="52.86" cy="97.17" r="3.2" fill="rgb(40,40,200)" fill-opacity="0.07"/>
<circle cx="45.91" cy="80.54" r="3.2" fill="rgb(110,110,110)" fill-opacity="0.07"/>
<circle cx="45.98" cy="110.46" r="3.2" fill="rgb(40,180,40)" fill-opacity="0.07"/>
<circle cx="44.5" cy="136.06" r="3.2" fill="rgb(40,40,200)" fill-opacity="0.07"/>
<circle cx="33.62" cy="128.75" r="3.2" fill="rgb(40,180,40)" fill-opacity="0.07"/>
<circle cx="46.06" cy="89.3" r="3.2" fill="rgb(40,40,200)" fill-opacity="0.07"/>
<circle cx="44.69" cy="74.86" r="3.2" fill="rgb(110,110,110)" fill-opacity="0.07"/>
<circle cx="51.27" cy="85.01" r="3.2" fill="rgb(40,40,200)" fill-opacity="0.07"/>
<circle cx="38.69" cy="85.26" r="3.2" fill="rgb(110,110,110)" fill-opacity="0.07"/>
<circle cx="41.2" cy="87.63" r="3.2" fill="rgb(40,180,40)" fill-opacity="0.07"/>
<circle cx="49.46" cy="115.59" r="3.2" fill="rgb(225,40,40)" fill-opacity="0.07"/>
<circle cx="45.52" cy="74.99" r="3.2" fill="rgb(40,40,200)" fill-opacity="0.07"/>
<circle cx="45.08" cy="174.49" r="3.2" fill="rgb(40,40,200)" fill-opacity="0.07"/>
<circle cx="58.8" cy="162.91" r="3.2" fill="rgb(110,110,110)" fill-opacity="0.07"/>
<circle cx="45.5" cy="138.9" r="3.2" fill="rgb(110,110,110)" fill-opacity="0.07"/>
<circle cx="49.99" cy="117.21" r="3.2" fill="rgb(110,110,110)" fill-opacity="0.07"/>
<circle cx="40.07" cy="43.53" r="3.2" fill="rgb(225,40,40)" fill-opacity="0.07"/>
<circle cx="43.6" cy="75.52" r="3.2" fill="rgb(40,180,40)" fill-opacity="0.07"/>
<circle cx="47.33" cy="168.7" r="3.2" fill="rgb(225,40,40)" fill-opacity="0.07"/>
<circle cx="34.94" cy="77.85" r="3.2" fill="rgb(110,110,110)" fill-opacity="0.07"/>
<circle cx="54.05" cy="156.96" r="3.2" fill="rgb(110,110,110)" fill-opacity="0.07"/>
<circle cx="53.46" cy="155.84" r="3.2" fill="rgb(225,40,40)" fill-opacity="0.07"/>
<circle cx="50.56" cy="115.77" r="3.2" fill="rgb(110,110,110)" fill-opacity="0.07"/>
<circle cx="45.8" cy="74.01" r="3.2" fill="rgb(40,180,40)" fill-opacity="0.07"/>
<circle cx="40.39" cy="138.99" r="3.2" fill="rgb(110,110,110)" fill-opacity="0.07"/>
<circle cx="29.91" cy="84.62" r="3.2" fill="rgb(110,110,110)" fill-opacity="0.07"/>
<circle cx="68.72" cy="138.11" r="3.2" fill="rgb(225,40,40)" fill-opacity="0.07"/>
<circle cx="38.97" cy="79.05" r="3.2" fill="rgb(40,180,40)" fill-opacity="0.07"/>
<circle cx="69.17" cy="173.6" r="3.2" fill="rgb(40,40,200)" fill-opacity="0.07"/>
<circle cx="63.04" cy="141.79" r="3.2" fill="rgb(225,40,40)" fill-opacity="0.07"/>
<circle cx="37.88" cy="115.22" r="3.2" fill="rgb(40,180,40)" fill-opacity="0.07"/>
<circle cx="51.51" cy="150.27" r="3.2" fill="rgb(225,40,40)" fill-opacity="0.07"/>
<circle cx="34.64" cy="96.54" r="3.2" fill="rgb(225,40,40)" fill-opacity="0.07"/>
<circle cx="35.99" cy="55.06" r="3.2" fill="rgb(225,40,40)" fill-opacity="0.07"/>
<circle cx="46.75" cy="132.18" r="3.2" fill="rgb(40,40,200)" fill-opacity="0.07"/>
<circle cx="46.58" cy="114.81" r="3.2" fill="rgb(40,40,200)" fill-opacity="0.07"/>
<circle cx="40.77" cy="61.46" r="3.2" fill="rgb(40,40,200)" fill-opacity="0.07"/>
<circle cx="70.36" cy="156.72" r="3.2" fill="rgb(225,40,40)" fill-opacity="0.07"/>
<circle cx="64.49" cy="119.71" r="3.2" fill="rgb(110,110,110)" fill-opacity="0.07"/>
<circle cx="63.76" cy="138.85" r="3.2" fill="rgb(40,40,200)" fill-opacity="0.07"/>
<circle cx="48.36" cy="148.12" r="3.2" fill="rgb(225,40,40)" fill-opacity="0.07"/>
<circle cx="40.88" cy="97.53" r="3.2" fill="rgb(40,40,200)" fill-opacity="0.07"/>
<circle cx="46.71" cy="100.65" r="3.2" fill="rgb(40,40,200)" fill-opacity="0.07"/>
<circle cx="53.07" cy="143.93" r="3.2" fill="rgb(40,40,200)" fill-opacity="0.07"/>
<circle cx="50.44" cy="63.38" r="3.2" fill="rgb(40,180,40)" fill-opacity="0.07"/>
<circle cx="25.89" cy="185.33" r="3.2" fill="rgb(40,40,200)" fill-opacity="0.07"/>
<circle cx="43.76" cy="110.01" r="3.2" fill="rgb(225,40,40)" fill-opacity="0.07"/>
<circle cx="65.47" cy="177.82" r="3.2" fill="rgb(40,40,200)" fill-opacity="0.07"/>
<circle cx="56.1" cy="175.98" r="3.2" fill="rgb(40,40,200)" fill-opacity="0.07"/>
<circle cx="46.95" cy="144.13" r="3.2" fill="rgb(40,40,200)" fill-opacity="0.07"/>
<circle cx="58.42" cy="171.27" r="3.2" fill="rgb(40,180,40)" fill-opacity="0.07"/>
<circle cx="51.61" cy="77.32" r="3.2" fill="rgb(40,180,40)" fill-opacity="0.07"/>
<circle cx="55.36" cy="75.84" r="3.2" fill="rgb(40,40,200)" fill-opacity="0.07"/>
<circle cx="45.8" cy="109.13" r="3.2" fill="rgb(40,180,40)" fill-opacity="0.07"/>
<circle cx="56.66" cy="192.94" r="3.2" fill="rgb(40,40,200)" fill-opacity="0.07"/>
<circle cx="42.07" cy="69.03" r="3.2" fill="rgb(40,180,40)" fill-opacity="0.07"/>
<circle cx="39.05" cy="57.68" r="3.2" fill="rgb(40,40,200)" fill-opacity="0.07"/>
<circle cx="44.09" cy="83.59" r="3.2" fill="rgb(40,40,200)" fill-opacity="0.07"/>
<circle cx="41.13" cy="87.1" r="3.2" fill="rgb(40,180,40)" fill-opacity="0.07"/>
<circle cx="67.29" cy="181.9" r="3.2" fill="rgb(40,40,200)" fill-opacity="0.07"/>
<circle cx="41.36" cy="135.64" r="3.2" fill="rgb(40,180,40)" fill-opacity="0.07"/>
<circle cx="69.39" cy="119.74" r="3.2" fill="rgb(40,180,40)" fill-opacity="0.07"/>
<circle cx="44.78" cy="83.51" r="3.2" fill="rgb(40,40,200)" fill-opacity="0.07"/>
<circle cx="57.61" cy="177.94" r="3.2" fill="rgb(110,110,110)" fill-opacity="0.07"/>
<circle cx="51.83" cy="76.79" r="3.2" fill="rgb(40,40,200)" fill-opacity="0.07"/>
<circle cx="66.4" cy="159.21" r="3.2" fill="rgb(40,180,40)" fill-opacity="0.07"/>
<circle cx="49.99" cy="141.43" r="3.2" fill="rgb(225,40,40)" fill-opacity="0.07"/>
<circle cx="43.9" cy="56.75" r="3.2" fill="rgb(225,40,40)" fill-opacity="0.07"/>
<circle cx="39.75" cy="48.46" r="3.2" fill="rgb(40,40,200)" fill-opacity="0.07"/>
<circle cx="63.14" cy="158.2" r="3.2" fill="rgb(110,110,110)" fill-opacity="0.07"/>
<circle cx="47.9" cy="154.82" r="3.2" fill="rgb(225,40,40)" fill-opacity="0.07"/>
<circle cx="47.88" cy="102.08" r="3.2" fill="rgb(225,40,40)" fill-opacity="0.07"/>
<circle cx="65.58" cy="181.64" r="3.2" fill="rgb(225,40,40)" fill-opacity="0.07"/>
<circle cx="46.59" cy="108.91" r="3.2" fill="rgb(40,40,200)" fill-opacity="0.07"/>
<circle cx="68.98" cy="157.88" r="3.2" fill="rgb(225,40,40)" fill-opacity="0.07"/>
<circle cx="45.83" cy="80.52" r="3.2" fill="rgb(40,180,40)" fill-opacity="0.07"/>
<circle cx="49.24" cy="163.71" r="3.2" fill="rgb(40,40,200)" fill-opacity="0.07"/>
<circle cx="44.17" cy="56.91" r="3.2" fill="rgb(225,40,40)" fill-opacity="0.07"/>
<circle cx="40.99" cy="68.14" r="3.2" fill="rgb(110,110,110)" fill-opacity="0.07"/>
<circle cx="66.59" cy="188.14" r="3.2" fill="rgb(40,40,200)" fill-opacity="0.07"/>
<circle cx="43.75" cy="92.15" r="3.2" fill="rgb(40,40,200)" fill-opacity="0.07"/>
<circle cx="52.22" cy="47.21" r="3.2" fill="rgb(40,40,200)" fill-opacity="0.07"/>
<circle cx="62.87" cy="162.33" r="3.2" fill="rgb(40,180,40)" fill-opacity="0.07"/>
<circle cx="54.81" cy="170.7" r="3.2" fill="rgb(40,40,200)" fill-opacity="0.07"/>
<circle cx="46.39" cy="59.77" r="3.2" fill="rgb(225,40,40)" fill-opacity="0.07"/>
<circle cx="48.51" cy="90.18" r="3.2" fill="rgb(40,180,40)" fill-opacity="0.07"/>
<circle cx="42.56" cy="84.93" r="3.2" fill="rgb(110,110,110)" fill-opacity="0.07"/>
<circle cx="59.51" cy="147.48" r="3.2" fill="rgb(225,40,40)" fill-opacity="0.07"/>
<circle cx="48.32" cy="67.28" r="3.2" fill="rgb(40,180,40)" fill-opacity="0.07"/>
<circle cx="65.32" cy="141.16" r="3.2" fill="rgb(40,40,200)" fill-opacity="0.07"/>
<circle cx="59.17" cy="190.46" r="3.2" fill="rgb(225,40,40)" fill-opacity="0.07"/>
<circle cx="45.73" cy="93" r="3.2" fill="rgb(40,40,200)" fill-opacity="0.07"/>
<circle cx="51.69" cy="115.37" r="3.2" fill="rgb(225,40,40)" fill-opacity="0.07"/>
<circle cx="38.77" cy="164.69" r="3.2" fill="rgb(40,180,40)" fill-opacity="0.07"/>
<circle cx="44.04" cy="118.62" r="3.2" fill="rgb(225,40,40)" fill-opacity="0.07"/>
<circle cx="55.5" cy="105.94" r="3.2" fill="rgb(225,40,40)" fill-opacity="0.07"/>
<circle cx="58.86" cy="106.63" r="3.2" fill="rgb(225,40,40)" fill-opacity="0.07"/>
<circle cx="57.36" cy="107.14" r="3.2" fill="rgb(40,40,200)" fill-opacity="0.07"/>
<circle cx="47.25" cy="85.97" r="3.2" fill="rgb(225,40,40)" fill-opacity="0.07"/>
<circle cx="54.01" cy="161.11" r="3.2" fill="rgb(225,40,40)" fill-opacity="0.07"/>
<circle cx="46.02" cy="109.72" r="3.2" fill="rgb(225,40,40)" fill-opacity="0.07"/>
<circle cx="38.35" cy="70.31" r="3.2" fill="rgb(40,180,40)" fill-opacity="0.07"/>
<circle cx="44.66" cy="111.35" r="3.2" fill="rgb(225,40,40)" fill-opacity="0.07"/>
<circle cx="55.93" cy="163.96" r="3.2" fill="rgb(40,180,40)" fill-opacity="0.07"/>
<circle cx="58.83" cy="176.8" r="3.2" fill="rgb(225,40,40)" fill-opacity="0.07"/>
<circle cx="50.64" cy="118.55" r="3.2" fill="rgb(40,180,40)" fill-opacity="0.07"/>
<circle cx="44.54" cy="155.12" r="3.2" fill="rgb(40,180,40)" fill-opacity="0.07"/>
<circle cx="49.36" cy="88.49" r="3.2" fill="rgb(40,40,200)" fill-opacity="0.07"/>
<circle cx="44.23" cy="82.41" r="3.2" fill="rgb(40,180,40)" fill-opacity="0.07"/>
<circle cx="46.24" cy="149.65" r="3.2" fill="rgb(225,40,40)" fill-opacity="0.07"/>
<circle cx="67.32" cy="141.91" r="3.2" fill="rgb(40,40,200)" fill-opacity="0.07"/>
<circle cx="59.91" cy="103.15" r="3.2" fill="rgb(40,180,40)" fill-opacity="0.07"/>
<circle cx="50.52" cy="121.09" r="3.2" fill="rgb(40,180,40)" fill-opacity="0.07"/>
<circle cx="45.91" cy="153.61" r="3.2" fill="rgb(40,180,40)" fill-opacity="0.07"/>
<circle cx="52.93" cy="95.23" r="3.2" fill="rgb(40,180,40)" fill-opacity="0.07"/>
<circle cx="55.41" cy="58.13" r="3.2" fill="rgb(225,40,40)" fill-opacity="0.07"/>
<circle cx="57.77" cy="133.68" r="3.2" fill="rgb(40,180,40)" fill-opacity="0.07"/>
<circle cx="45.48" cy="76.74" r="3.2" fill="rgb(40,180,40)" fill-opacity="0.07"/>
<circle cx="51.19" cy="108.25" r="3.2" fill="rgb(110,110,110)" fill-opacity="0.07"/>
<circle cx="51.4" cy="145.96" r="3.2" fill="rgb(225,40,40)" fill-opacity="0.07"/>
<circle cx="53.05" cy="173.12" r="3.2" fill="rgb(40,40,200)" fill-opacity="0.07"/>
<circle cx="55.11" cy="151.77" r="3.2" fill="rgb(40,40,200)" fill-opacity="0.07"/>
<circle cx="52.37" cy="81.08" r="3.2" fill="rgb(110,110,110)" fill-opacity="0.07"/>
<circle cx="55.22" cy="84.51" r="3.2" fill="rgb(40,180,40)" fill-opacity="0.07"/>
<circle cx="42.12" cy="184.12" r="3.2" fill="rgb(110,110,110)" fill-opacity="0.07"/>
<circle cx="58.45" cy="190.3" r="3.2" fill="rgb(40,40,200)" fill-opacity="0.07"/>
<circle cx="40.12" cy="115.74" r="3.2" fill="rgb(225,40,40)" fill-opacity="0.07"/>
<circle cx="31.6" cy="91.73" r="3.2" fill="rgb(225,40,40)" fill-opacity="0.07"/>
<circle cx="48.29" cy="192.29" r="3.2" fill="rgb(225,40,40)" fill-opacity="0.07"/>
<circle cx="53.36" cy="125.21" r="3.2" fill="rgb(40,180,40)" fill-opacity="0.07"/>
<circle cx="63.71" cy="100.14" r="3.2" fill="rgb(225,40,40)" fill-opacity="0.07"/>
<circle cx="40" cy="167.87" r="3.2" fill="rgb(225,40,40)" fill-opacity="0.07"/>
<circle cx="60.26" cy="141.02" r="3.2" fill="rgb(40,180,40)" fill-opacity="0.07"/>
<circle cx="46.39" cy="58.57" r="3.2" fill="rgb(225,40,40)" fill-opacity="0.07"/>
<circle cx="48.7" cy="114.87" r="3.2" fill="rgb(40,180,40)" fill-opacity="0.07"/>
<circle cx="52.37" cy="184.44" r="3.2" fill="rgb(40,40,200)" fill-opacity="0.07"/>
<circle cx="64.86" cy="178.42" r="3.2" fill="rgb(40,40,200)" fill-opacity="0.07"/>
<circle cx="45.54" cy="117.13" r="3.2" fill="rgb(40,180,40)" fill-opacity="0.07"/>
<circle cx="44.66" cy="90.14" r="3.2" fill="rgb(40,40,200)" fill-opacity="0.07"/>
<circle cx="46.32" cy="60.55" r="3.2" fill="rgb(225,40,40)" fill-opacity="0.07"/>
<circle cx="45.54" cy="121.44" r="3.2" fill="rgb(110,110,110)" fill-opacity="0.07"/>
<circle cx="52.18" cy="87.99" r="3.2" fill="rgb(40,40,200)" fill-opacity="0.07"/>
<circle cx="52.69" cy="80.53" r="3.2" fill="rgb(40,40,200)" fill-opacity="0.07"/>
<circle cx="51.43" cy="114.85" r="3.2" fill="rgb(40,180,40)" fill-opacity="0.07"/>
<circle cx="49.74" cy="83.57" r="3.2" fill="rgb(40,180,40)" fill-opacity="0.07"/>
<circle cx="37.7" cy="154.63" r="3.2" fill="rgb(225,40,40)" fill-opacity="0.07"/>
<circle cx="41.28" cy="178.09" r="3.2" fill="rgb(110,110,110)" fill-opacity="0.07"/>
<circle cx="46.67" cy="174.86" r="3.2" fill="rgb(40,40,200)" fill-opacity="0.07"/>
<circle cx="44.88" cy="134.22" r="3.2" fill="rgb(40,180,40)" fill-opacity="0.07"/>
<circle cx="54.8" cy="178.27" r="3.2" fill="rgb(40,40,200)" fill-opacity="0.07"/>
<circle cx="48.36" cy="162.75" r="3.2" fill="rgb(225,40,40)" fill-opacity="0.07"/>
<circle cx="53.43" cy="130.31" r="3.2" fill="rgb(40,40,200)" fill-opacity="0.07"/>
<circle cx="51.85" cy="124.78" r="3.2" fill="rgb(110,110,110)" fill-opacity="0.07"/>
<circle cx="39.48" cy="67.83" r="3.2" fill="rgb(40,180,40)" fill-opacity="0.07"/>
<circle cx="46.81" cy="70.93" r="3.2" fill="rgb(225,40,40)" fill-opacity="0.07"/>
<circle cx="62.02" cy="150.52" r="3.2" fill="rgb(225,40,40)" fill-opacity="0.07"/>
<circle cx="49.62" cy="85.13" r="3.2" fill="rgb(40,40,200)" fill-opacity="0.07"/>
<circle cx="57.44" cy="83.17" r="3.2" fill="rgb(40,40,200)" fill-opacity="0.07"/>
<circle cx="50.32" cy="91.94" r="3.2" fill="rgb(225,40,40)" fill-opacity="0.07"/>
<circle cx="46.38" cy="154.31" r="3.2" fill="rgb(225,40,40)" fill-opacity="0.07"/>
<circle cx="36.8" cy="150.48" r="3.2" fill="rgb(40,40,200)" fill-opacity="0.07"/>
<circle cx="54.67" cy="130.27" r="3.2" fill="rgb(40,40,200)" fill-opacity="0.07"/>
<circle cx="53.54" cy="98.77" r="3.2" fill="rgb(225,40,40)" fill-opacity="0.07"/>
<circle cx="44.12" cy="103.9" r="3.2" fill="rgb(40,40,200)" fill-opacity="0.07"/>
<circle cx="40.58" cy="108.7" r="3.2" fill="rgb(225,40,40)" fill-opacity="0.07"/>
<circle cx="50.93" cy="57.8" r="3.2" fill="rgb(110,110,110)" fill-opacity="0.07"/>
<circle cx="38.24" cy="146.55" r="3.2" fill="rgb(225,40,40)" fill-opacity="0.07"/>
<circle cx="46.49" cy="47.83" r="3.2" fill="rgb(40,40,200)" fill-opacity="0.07"/>
<circle cx="46.6" cy="81.75" r="3.2" fill="rgb(225,40,40)" fill-opacity="0.07"/>
<circle cx="44.72" cy="115.09" r="3.2" fill="rgb(40,180,40)" fill-opacity="0.07"/>
<circle cx="44.8" cy="135.18" r="3.2" fill="rgb(40,180,40)" fill-opacity="0.07"/>
<circle cx="40.58" cy="152.61" r="3.2" fill="rgb(225,40,40)" fill-opacity="0.07"/>
<circle cx="63.53" cy="161.25" r="3.2" fill="rgb(110,110,110)" fill-opacity="0.07"/>
<circle cx="56.94" cy="155.98" r="3.2" fill="rgb(40,180,40)" fill-opacity="0.07"/>
<circle cx="38.19" cy="56.16" r="3.2" fill="rgb(225,40,40)" fill-opacity="0.07"/>
<circle cx="37.75" cy="62.3" r="3.2" fill="rgb(225,40,40)" fill-opacity="0.07"/>
<circle cx="64.74" cy="160.92" r="3.2" fill="rgb(40,180,40)" fill-opacity="0.07"/>
<circle cx="37.78" cy="64.56" r="3.2" fill="rgb(110,110,110)" fill-opacity="0.07"/>
<circle cx="53.6" cy="122.49" r="3.2" fill="rgb(40,180,40)" fill-opacity="0.07"/>
<circle cx="31.45" cy="83.33" r="3.2" fill="rgb(40,40,200)" fill-opacity="0.07"/>
<circle cx="40.12" cy="147.29" r="3.2" fill="rgb(225,40,40)" fill-opacity="0.07"/>
<circle cx="51.6" cy="100.47" r="3.2" fill="rgb(40,40,200)" fill-opacity="0.07"/>
<circle cx="63.12" cy="111.73" r="3.2" fill="rgb(225,40,40)" fill-opacity="0.07"/>
<circle cx="40.57" cy="87.02" r="3.2" fill="rgb(40,40,200)" fill-opacity="0.07"/>
<circle cx="49.42" cy="69.27" r="3.2" fill="rgb(225,40,40)" fill-opacity="0.07"/>
<circle cx="45.13" cy="161.18" r="3.2" fill="rgb(40,180,40)" fill-opacity="0.07"/>
<circle cx="41.43" cy="147.78" r="3.2" fill="rgb(225,40,40)" fill-opacity="0.07"/>
<circle cx="46.45" cy="59.46" r="3.2" fill="rgb(225,40,40)" fill-opacity="0.07"/>
<circle cx="41.64" cy="62.13" r="3.2" fill="rgb(110,110,110)" fill-opacity="0.07"/>
<circle cx="55.84" cy="112.51" r="3.2" fill="rgb(40,180,40)" fill-opacity="0.07"/>
<circle cx="42.87" cy="106.66" r="3.2" fill="rgb(110,110,110)" fill-opacity="0.07"/>
<circle cx="38.26" cy="86.28" r="3.2" fill="rgb(40,40,200)" fill-opacity="0.07"/>
<circle cx="53.86" cy="117.7" r="3.2" fill="rgb(40,180,40)" fill-opacity="0.07"/>
<circle cx="46.41" cy="83.94" r="3.2" fill="rgb(110,110,110)" fill-opacity="0.07"/>
<circle cx="41.3" cy="101.17" r="3.2" fill="rgb(40,40,200)" fill-opacity="0.07"/>
<circle cx="45.65" cy="166.21" r="3.2" fill="rgb(40,180,40)" fill-opacity="0.07"/>
<circle cx="41.11" cy="153.45" r="3.2" fill="rgb(40,180,40)" fill-opacity="0.07"/>
<circle cx="46.93" cy="178.27" r="3.2" fill="rgb(110,110,110)" fill-opacity="0.07"/>
<circle cx="32.8" cy="109.32" r="3.2" fill="rgb(40,180,40)" fill-opacity="0.07"/>
<circle cx="53.34" cy="101.17" r="3.2" fill="rgb(225,40,40)" fill-opacity="0.07"/>
<circle cx="51.01" cy="113.97" r="3.2" fill="rgb(110,110,110)" fill-opacity="0.07"/>
<circle cx="50.65" cy="109.76" r="3.2" fill="rgb(40,40,200)" fill-opacity="0.07"/>
<circle cx="56.1" cy="78.15" r="3.2" fill="rgb(40,180,40)" fill-opacity="0.07"/>
<circle cx="45.17" cy="138.87" r="3.2" fill="rgb(225,40,40)" fill-opacity="0.07"/>
<circle cx="41.42" cy="102.49" r="3.2" fill="rgb(40,40,200)" fill-opacity="0.07"/>
<circle cx="57.26" cy="157.31" r="3.2" fill="rgb(40,180,40)" fill-opacity="0.07"/>
<circle cx="60.25" cy="176.1" r="3.2" fill="rgb(40,40,200)" fill-opacity="0.07"/>
<circle cx="45.22" cy="50.69" r="3.2" fill="rgb(40,40,200)" fill-opacity="0.07"/>
<circle cx="53.7" cy="102.45" r="3.2" fill="rgb(225,40,40)" fill-opacity="0.07"/>
<circle cx="40.56" cy="52.82" r="3.2" fill="rgb(225,40,40)" fill-opacity="0.07"/>
<circle cx="68.23" cy="176.45" r="3.2" fill="rgb(40,40,200)" fill-opacity="0.07"/>
<circle cx="46.08" cy="113.35" r="3.2" fill="rgb(225,40,40)" fill-opacity="0.07"/>
<circle cx="37.65" cy="62.44" r="3.2" fill="rgb(225,40,40)" fill-opacity="0.07"/>
<circle cx="54.2" cy="167.91" r="3.2" fill="rgb(225,40,40)" fill-opacity="0.07"/>
<circle cx="48.91" cy="117" r="3.2" fill="rgb(225,40,40)" fill-opacity="0.07"/>
<circle cx="44.53" cy="142.52" r="3.2" fill="rgb(40,180,40)" fill-opacity="0.07"/>
<circle cx="49.67" cy="55.32" r="3.2" fill="rgb(225,40,40)" fill-opacity="0.07"/>
<circle cx="51.16" cy="67.68" r="3.2" fill="rgb(40,180,40)" fill-opacity="0.07"/>
<circle cx="49.88" cy="91.5" r="3.2" fill="rgb(225,40,40)" fill-opacity="0.07"/>
<circle cx="46.83" cy="179.02" r="3.2" fill="rgb(40,40,200)" fill-opacity="0.07"/>
<circle cx="49.49" cy="182.33" r="3.2" fill="rgb(40,40,200)" fill-opacity="0.07"/>
<circle cx="58.32" cy="135.87" r="3.2" fill="rgb(40,40,200)" fill-opacity="0.07"/>
<circle cx="49.39" cy="135.25" r="3.2" fill="rgb(225,40,40)" fill-opacity="0.07"/>
<circle cx="53" cy="132.11" r="3.2" fill="rgb(40,40,200)" fill-opacity="0.07"/>
<circle cx="57.79" cy="179.26" r="3.2" fill="rgb(225,40,40)" fill-opacity="0.07"/>
<circle cx="58.02" cy="124.88" r="3.2" fill="rgb(40,180,40)" fill-opacity="0.07"/>
<circle cx="59.48" cy="148.9" r="3.2" fill="rgb(40,40,200)" fill-opacity="0.07"/>
<circle cx="50.44" cy="119.04" r="3.2" fill="rgb(110,110,110)" fill-opacity="0.07"/>
<circle cx="33.98" cy="103.32" r="3.2" fill="rgb(225,40,40)" fill-opacity="0.07"/>
<circle cx="42.88" cy="55.57" r="3.2" fill="rgb(225,40,40)" fill-opacity="0.07"/>
<circle cx="48.11" cy="134.45" r="3.2" fill="rgb(40,40,200)" fill-opacity="0.07"/>
<circle cx="46.25" cy="108.88" r="3.2" fill="rgb(225,40,40)" fill-opacity="0.07"/>
<circle cx="35.85" cy="129.57" r="3.2" fill="rgb(40,40,200)" fill-opacity="0.07"/>
<circle cx="38.54" cy="83.29" r="3.2" fill="rgb(110,110,110)" fill-opacity="0.07"/>
<circle cx="45.74" cy="143.82" r="3.2" fill="rgb(110,110,110)" fill-opacity="0.07"/>
<circle cx="52.89" cy="178.15" r="3.2" fill="rgb(225,40,40)" fill-opacity="0.07"/>
<circle cx="35.72" cy="87.85" r="3.2" fill="rgb(110,110,110)" fill-opacity="0.07"/>
<circle cx="48.13" cy="116.51" r="3.2" fill="rgb(40,180,40)" fill-opacity="0.07"/>
<circle cx="62.52" cy="174.68" r="3.2" fill="rgb(40,180,40)" fill-opacity="0.07"/>
<circle cx="58.13" cy="154.42" r="3.2" fill="rgb(40,40,200)" fill-opacity="0.07"/>
<circle cx="55.09" cy="136.47" r="3.2" fill="rgb(110,110,110)" fill-opacity="0.07"/>
<circle cx="46.18" cy="73.84" r="3.2" fill="rgb(110,110,110)" fill-opacity="0.07"/>
<circle cx="44.08" cy="63" r="3.2" fill="rgb(40,180,40)" fill-opacity="0.07"/>
<circle cx="56.86" cy="104.36" r="3.2" fill="rgb(225,40,40)" fill-opacity="0.07"/>
<circle cx="48.88" cy="92.27" r="3.2" fill="rgb(225,40,40)" fill-opacity="0.07"/>
<circle cx="31.5" cy="179.41" r="3.2" fill="rgb(40,40,200)" fill-opacity="0.07"/>
<circle cx="58.03" cy="52.46" r="3.2" fill="rgb(225,40,40)" fill-opacity="0.07"/>
<circle cx="54.62" cy="188.23" r="3.2" fill="rgb(225,40,40)" fill-opacity="0.07"/>
<circle cx="47.24" cy="82.73" r="3.2" fill="rgb(110,110,110)" fill-opacity="0.07"/>
<circle cx="41.4" cy="131.94" r="3.2" fill="rgb(110,110,110)" fill-opacity="0.07"/>
<circle cx="42.05" cy="52.58" r="3.2" fill="rgb(110,110,110)" fill-opacity="0.07"/>
<circle cx="58.95" cy="140.37" r="3.2" fill="rgb(225,40,40)" fill-opacity="0.07"/>
<circle cx="62.38" cy="184.65" r="3.2" fill="rgb(40,180,40)" fill-opacity="0.07"/>
<circle cx="47.68" cy="82.99" r="3.2" fill="rgb(40,180,40)" fill-opacity="0.07"/>
<circle cx="53.06" cy="99.5" r="3.2" fill="rgb(40,40,200)" fill-opacity="0.07"/>
<circle cx="59.38" cy="170.99" r="3.2" fill="rgb(40,180,40)" fill-opacity="0.07"/>
<circle cx="59.93" cy="190.36" r="3.2" fill="rgb(225,40,40)" fill-opacity="0.07"/>
<circle cx="39.05" cy="148.42" r="3.2" fill="rgb(225,40,40)" fill-opacity="0.07"/>
<circle cx="43.4" cy="84.02" r="3.2" fill="rgb(40,40,200)" fill-opacity="0.07"/>
<circle cx="58.02" cy="54.84" r="3.2" fill="rgb(40,180,40)" fill-opacity="0.07"/>
<circle cx="40.96" cy="70.43" r="3.2" fill="rgb(40,180,40)" fill-opacity="0.07"/>
<circle cx="47.86" cy="139.66" r="3.2" fill="rgb(225,40,40)" fill-opacity="0.07"/>
<circle cx="45.07" cy="170.77" r="3.2" fill="rgb(40,180,40)" fill-opacity="0.07"/>
<circle cx="39.97" cy="81.54" r="3.2" fill="rgb(40,40,200)" fill-opacity="0.07"/>
<circle cx="62.52" cy="178.11" r="3.2" fill="rgb(40,40,200)" fill-opacity="0.07"/>
<circle cx="49.36" cy="153.99" r="3.2" fill="rgb(110,110,110)" fill-opacity="0.07"/>
<circle cx="58.1" cy="183.52" r="3.2" fill="rgb(40,40,200)" fill-opacity="0.07"/>
<circle cx="47.18" cy="58.86" r="3.2" fill="rgb(225,40,40)" fill-opacity="0.07"/>
<circle cx="60.07" cy="155.06" r="3.2" fill="rgb(225,40,40)" fill-opacity="0.07"/>
<circle cx="48.41" cy="64.25" r="3.2" fill="rgb(225,40,40)" fill-opacity="0.07"/>
<circle cx="51.61" cy="181.5" r="3.2" fill="rgb(40,40,200)" fill-opacity="0.07"/>
<circle cx="64.9" cy="140.75" r="3.2" fill="rgb(110,110,110)" fill-opacity="0.07"/>
<circle cx="36.3" cy="74.02" r="3.2" fill="rgb(40,180,40)" fill-opacity="0.07"/>
<circle cx="69.74" cy="180.31" r="3.2" fill="rgb(40,40,200)" fill-opacity="0.07"/>
<circle cx="46.02" cy="60.74" r="3.2" fill="rgb(40,180,40)" fill-opacity="0.07"/>
<circle cx="66.4" cy="96.96" r="3.2" fill="rgb(40,180,40)" fill-opacity="0.07"/>
<circle cx="39.06" cy="170.43" r="3.2" fill="rgb(40,40,200)" fill-opacity="0.07"/>
<circle cx="74.54" cy="164.03" r="3.2" fill="rgb(40,180,40)" fill-opacity="0.07"/>
<circle cx="49.28" cy="79.41" r="3.2" fill="rgb(110,110,110)" fill-opacity="0.07"/>
<circle cx="51.59" cy="119.21" r="3.2" fill="rgb(225,40,40)" fill-opacity="0.07"/>
<circle cx="70.01" cy="176.6" r="3.2" fill="rgb(40,180,40)" fill-opacity="0.07"/>
<circle cx="47.6" cy="136.83" r="3.2" fill="rgb(40,40,200)" fill-opacity="0.07"/>
<circle cx="51.91" cy="148.32" r="3.2" fill="rgb(225,40,40)" fill-opacity="0.07"/>
<circle cx="45.77" cy="168.4" r="3.2" fill="rgb(40,180,40)" fill-opacity="0.07"/>
<circle cx="51.75" cy="69.29" r="3.2" fill="rgb(40,180,40)" fill-opacity="0.07"/>
<circle cx="41.5" cy="109.28" r="3.2" fill="rgb(225,40,40)" fill-opacity="0.07"/>
<circle cx="46.82" cy="106.93" r="3.2" fill="rgb(225,40,40)" fill-opacity="0.07"/>
<circle cx="52.3" cy="60.18" r="3.2" fill="rgb(225,40,40)" fill-opacity="0.07"/>
<circle cx="48.4" cy="155.39" r="3.2" fill="rgb(40,180,40)" fill-opacity="0.07"/>
<circle cx="45.18" cy="169.63" r="3.2" fill="rgb(225,40,40)" fill-opacity="0.07"/>
<circle cx="50.81" cy="151.55" r="3.2" fill="rgb(225,40,40)" fill-opacity="0.07"/>
<circle cx="43.69" cy="126.56" r="3.2" fill="rgb(110,110,110)" fill-opacity="0.07"/>
<circle cx="35.82" cy="154.08" r="3.2" fill="rgb(110,110,110)" fill-opacity="0.07"/>
<circle cx="59.04" cy="98.69" r="3.2" fill="rgb(225,40,40)" fill-opacity="0.07"/>
<circle cx="52.44" cy="181.73" r="3.2" fill="rgb(40,40,200)" fill-opacity="0.07"/>
<circle cx="44.71" cy="124.9" r="3.2" fill="rgb(225,40,40)" fill-opacity="0.07"/>
<circle cx="39.75" cy="96.99" r="3.2" fill="rgb(40,40,200)" fill-opacity="0.07"/>
<circle cx="52.17" cy="111.68" r="3.2" fill="rgb(110,110,110)" fill-opacity="0.07"/>
<circle cx="41.25" cy="145.46" r="3.2" fill="rgb(40,40,200)" fill-opacity="0.07"/>
<circle cx="46.99" cy="133.68" r="3.2" fill="rgb(40,40,200)" fill-opacity="0.07"/>
<circle cx="42.47" cy="100.05" r="3.2" fill="rgb(225,40,40)" fill-opacity="0.07"/>
<circle cx="53.69" cy="179.06" r="3.2" fill="rgb(40,40,200)" fill-opacity="0.07"/>
<circle cx="50.58" cy="153.78" r="3.2" fill="rgb(110,110,110)" fill-opacity="0.07"/>
<circle cx="41.52" cy="59.34" r="3.2" fill="rgb(225,40,40)" fill-opacity="0.07"/>
<circle cx="57.23" cy="120.69" r="3.2" fill="rgb(110,110,110)" fill-opacity="0.07"/>
<circle cx="41.12" cy="122.06" r="3.2" fill="rgb(225,40,40)" fill-opacity="0.07"/>
<circle cx="39.19" cy="84.58" r="3.2" fill="rgb(110,110,110)" fill-opacity="0.07"/>
<circle cx="70" cy="173.56" r="3.2" fill="rgb(110,110,110)" fill-opacity="0.07"/>
<circle cx="51.03" cy="143.06" r="3.2" fill="rgb(40,40,200)" fill-opacity="0.07"/>
<circle cx="44.61" cy="62.82" r="3.2" fill="rgb(110,110,110)" fill-opacity="0.07"/>
<circle cx="47.38" cy="62.28" r="3.2" fill="rgb(225,40,40)" fill-opacity="0.07"/>
<circle cx="44.51" cy="53.01" r="3.2" fill="rgb(225,40,40)" fill-opacity="0.07"/>
<circle cx="56.36" cy="104.74" r="3.2" fill="rgb(225,40,40)" fill-opacity="0.07"/>
<circle cx="49.76" cy="141.3" r="3.2" fill="rgb(225,40,40)" fill-opacity="0.07"/>
<circle cx="57.44" cy="82.9" r="3.2" fill="rgb(40,40,200)" fill-opacity="0.07"/>
<circle cx="52.26" cy="55.36" r="3.2" fill="rgb(40,40,200)" fill-opacity="0.07"/>
<circle cx="38.11" cy="53.04" r="3.2" fill="rgb(40,180,40)" fill-opacity="0.07"/>
<circle cx="53.27" cy="163.52" r="3.2" fill="rgb(40,180,40)" fill-opacity="0.07"/>
<circle cx="49.83" cy="70.38" r="3.2" fill="rgb(40,180,40)" fill-opacity="0.07"/>
<circle cx="31.89" cy="54.46" r="3.2" fill="rgb(40,40,200)" fill-opacity="0.07"/>
<circle cx="40.09" cy="90.79" r="3.2" fill="rgb(225,40,40)" fill-opacity="0.07"/>
<circle cx="42.47" cy="80.01" r="3.2" fill="rgb(40,180,40)" fill-opacity="0.07"/>
<circle cx="53.8" cy="90.95" r="3.2" fill="rgb(40,40,200)" fill-opacity="0.07"/>
<circle cx="64.81" cy="125.23" r="3.2" fill="rgb(40,40,200)" fill-opacity="0.07"/>
<circle cx="55.94" cy="74.46" r="3.2" fill="rgb(225,40,40)" fill-opacity="0.07"/>
<circle cx="46.57" cy="134.98" r="3.2" fill="rgb(40,180,40)" fill-opacity="0.07"/>
<circle cx="39.55" cy="109.72" r="3.2" fill="rgb(225,40,40)" fill-opacity="0.07"/>
<circle cx="37.27" cy="149.01" r="3.2" fill="rgb(40,180,40)" fill-opacity="0.07"/>
<circle cx="63.11" cy="131.91" r="3.2" fill="rgb(110,110,110)" fill-opacity="0.07"/>
<circle cx="49.75" cy="179.84" r="3.2" fill="rgb(110,110,110)" fill-opacity="0.07"/>
<circle cx="31.65" cy="101.17" r="3.2" fill="rgb(110,110,110)" fill-opacity="0.07"/>
<circle cx="39.76" cy="167.37" r="3.2" fill="rgb(40,180,40)" fill-opacity="0.07"/>
<circle cx="46.61" cy="118.45" r="3.2" fill="rgb(110,110,110)" fill-opacity="0.07"/>
<circle cx="48.29" cy="140.81" r="3.2" fill="rgb(110,110,110)" fill-opacity="0.07"/>
<circle cx="52.32" cy="181.08" r="3.2" fill="rgb(40,40,200)" fill-opacity="0.07"/>
<circle cx="60.32" cy="96.69" r="3.2" fill="rgb(40,180,40)" fill-opacity="0.07"/>
<circle cx="43.8" cy="85.47" r="3.2" fill="rgb(40,40,200)" fill-opacity="0.07"/>
<circle cx="33.69" cy="79.7" r="3.2" fill="rgb(40,180,40)" fill-opacity="0.07"/>
<circle cx="38.55" cy="117.91" r="3.2" fill="rgb(40,180,40)" fill-opacity="0.07"/>
<circle cx="40.99" cy="88.38" r="3.2" fill="rgb(225,40,40)" fill-opacity="0.07"/>
<circle cx="47.54" cy="53.56" r="3.2" fill="rgb(225,40,40)" fill-opacity="0.07"/>
<circle cx="51.07" cy="107.99" r="3.2" fill="rgb(40,180,40)" fill-opacity="0.07"/>
<circle cx="50.99" cy="142.2" r="3.2" fill="rgb(225,40,40)" fill-opacity="0.07"/>
<circle cx="55.39" cy="62.66" r="3.2" fill="rgb(225,40,40)" fill-opacity="0.07"/>
<circle cx="44.41" cy="63.54" r="3.2" fill="rgb(40,180,40)" fill-opacity="0.07"/>
<circle cx="44.17" cy="141.7" r="3.2" fill="rgb(225,40,40)" fill-opacity="0.07"/>
<circle cx="36.08" cy="94.51" r="3.2" fill="rgb(225,40,40)" fill-opacity="0.07"/>
<circle cx="46.8" cy="105.8" r="3.2" fill="rgb(225,40,40)" fill-opacity="0.07"/>
<circle cx="47.97" cy="69.27" r="3.2" fill="rgb(40,180,40)" fill-opacity="0.07"/>
<circle cx="36.53" cy="132.12" r="3.2" fill="rgb(40,40,200)" fill-opacity="0.07"/>
<circle cx="42.36" cy="129.99" r="3.2" fill="rgb(40,40,200)" fill-opacity="0.07"/>
<circle cx="47.72" cy="83.98" r="3.2" fill="rgb(225,40,40)" fill-opacity="0.07"/>
<circle cx="49.65" cy="152.39" r="3.2" fill="rgb(225,40,40)" fill-opacity="0.07"/>
<circle cx="44.62" cy="139.33" r="3.2" fill="rgb(40,40,200)" fill-opacity="0.07"/>
<circle cx="45.97" cy="150.56" r="3.2" fill="rgb(225,40,40)" fill-opacity="0.07"/>
<circle cx="65.46" cy="181.56" r="3.2" fill="rgb(225,40,40)" fill-opacity="0.07"/>
<circle cx="42.81" cy="64.49" r="3.2" fill="rgb(225,40,40)" fill-opacity="0.07"/>
<circle cx="49.46" cy="62.62" r="3.2" fill="rgb(40,40,200)" fill-opacity="0.07"/>
<circle cx="48.18" cy="94.84" r="3.2" fill="rgb(225,40,40)" fill-opacity="0.07"/>
<circle cx="44" cy="142.73" r="3.2" fill="rgb(110,110,110)" fill-opacity="0.07"/>
<circle cx="32.92" cy="186.47" r="3.2" fill="rgb(225,40,40)" fill-opacity="0.07"/>
<circle cx="40.57" cy="134.03" r="3.2" fill="rgb(40,40,200)" fill-opacity="0.07"/>
<circle cx="47.55" cy="91.56" r="3.2" fill="rgb(40,180,40)" fill-opacity="0.07"/>
<circle cx="45.18" cy="118.54" r="3.2" fill="rgb(40,180,40)" fill-opacity="0.07"/>
<circle cx="36.87" cy="97.65" r="3.2" fill="rgb(40,40,200)" fill-opacity="0.07"/>
<circle cx="43.62" cy="98.82" r="3.2" fill="rgb(225,40,40)" fill-opacity="0.07"/>
<circle cx="45.97" cy="66.25" r="3.2" fill="rgb(110,110,110)" fill-opacity="0.07"/>
<circle cx="56.84" cy="121.43" r="3.2" fill="rgb(110,110,110)" fill-opacity="0.07"/>
<circle cx="43.8" cy="83.3" r="3.2" fill="rgb(40,180,40)" fill-opacity="0.07"/>
<circle cx="44.45" cy="165.56" r="3.2" fill="rgb(110,110,110)" fill-opacity="0.07"/>
<circle cx="36.33" cy="63.45" r="3.2" fill="rgb(225,40,40)" fill-opacity="0.07"/>
<circle cx="53.25" cy="137.23" r="3.2" fill="rgb(110,110,110)" fill-opacity="0.07"/>
<circle cx="52.14" cy="111.03" r="3.2" fill="rgb(40,40,200)" fill-opacity="0.07"/>
<circle cx="57.4" cy="116.74" r="3.2" fill="rgb(225,40,40)" fill-opacity="0.07"/>
<circle cx="27.2" cy="146.75" r="3.2" fill="rgb(40,40,200)" fill-opacity="0.07"/>
<circle cx="35.69" cy="49.86" r="3.2" fill="rgb(225,40,40)" fill-opacity="0.07"/>
<circle cx="43.98" cy="164.31" r="3.2" fill="rgb(40,40,200)" fill-opacity="0.07"/>
<circle cx="47.69" cy="104.04" r="3.2" fill="rgb(110,110,110)" fill-opacity="0.07"/>
<circle cx="39.34" cy="184.61" r="3.2" fill="rgb(40,40,200)" fill-opacity="0.07"/>
<circle cx="37.17" cy="146.8" r="3.2" fill="rgb(40,180,40)" fill-opacity="0.07"/>
<circle cx="59.18" cy="175.77" r="3.2" fill="rgb(40,180,40)" fill-opacity="0.07"/>
<circle cx="43.77" cy="68.6" r="3.2" fill="rgb(40,180,40)" fill-opacity="0.07"/>
<circle cx="51.84" cy="95.06" r="3.2" fill="rgb(225,40,40)" fill-opacity="0.07"/>
<circle cx="45.8" cy="143.63" r="3.2" fill="rgb(40,180,40)" fill-opacity="0.07"/>
<circle cx="47.64" cy="101.91" r="3.2" fill="rgb(225,40,40)" fill-opacity="0.07"/>
<circle cx="47.19" cy="176.41" r="3.2" fill="rgb(40,40,200)" fill-opacity="0.07"/>
<circle cx="53.41" cy="69.59" r="3.2" fill="rgb(40,180,40)" fill-opacity="0.07"/>
<circle cx="69.88" cy="178.84" r="3.2" fill="rgb(110,110,110)" fill-opacity="0.07"/>
<circle cx="40.1" cy="51.5" r="3.2" fill="rgb(40,180,40)" fill-opacity="0.07"/>
<circle cx="59.49" cy="66.96" r="3.2" fill="rgb(40,180,40)" fill-opacity="0.07"/>
<circle cx="48.18" cy="114.52" r="3.2" fill="rgb(40,40,200)" fill-opacity="0.07"/>
<circle cx="51.39" cy="95.11" r="3.2" fill="rgb(40,40,200)" fill-opacity="0.07"/>
<circle cx="35.12" cy="78.08" r="3.2" fill="rgb(40,180,40)" fill-opacity="0.07"/>
<circle cx="45.38" cy="59.9" r="3.2" fill="rgb(110,110,110)" fill-opacity="0.07"/>
<circle cx="52.23" cy="117.56" r="3.2" fill="rgb(40,180,40)" fill-opacity="0.07"/>
<circle cx="50.78" cy="138.73" r="3.2" fill="rgb(40,180,40)" fill-opacity="0.07"/>
<circle cx="54.66" cy="110.14" r="3.2" fill="rgb(40,40,200)" fill-opacity="0.07"/>
<circle cx="43.89" cy="99.76" r="3.2" fill="rgb(225,40,40)" fill-opacity="0.07"/>
<circle cx="27.03" cy="135.28" r="3.2" fill="rgb(40,40,200)" fill-opacity="0.07"/>
<circle cx="37.43" cy="104.78" r="3.2" fill="rgb(225,40,40)" fill-opacity="0.07"/>
<circle cx="38.83" cy="104.18" r="3.2" fill="rgb(110,110,110)" fill-opacity="0.07"/>
<circle cx="37.66" cy="58.51" r="3.2" fill="rgb(110,110,110)" fill-opacity="0.07"/>
<circle cx="46.09" cy="140.07" r="3.2" fill="rgb(110,110,110)" fill-opacity="0.07"/>
<circle cx="45.06" cy="130.01" r="3.2" fill="rgb(40,40,200)" fill-opacity="0.07"/>
<circle cx="41.36" cy="74.1" r="3.2" fill="rgb(225,40,40)" fill-opacity="0.07"/>
<circle cx="43.37" cy="122.68" r="3.2" fill="rgb(40,180,40)" fill-opacity="0.07"/>
<circle cx="56.61" cy="141.29" r="3.2" fill="rgb(110,110,110)" fill-opacity="0.07"/>
<circle cx="58.02" cy="114.87" r="3.2" fill="rgb(110,110,110)" fill-opacity="0.07"/>
<circle cx="38.87" cy="123.8" r="3.2" fill="rgb(110,110,110)" fill-opacity="0.07"/>
<circle cx="47.84" cy="146.58" r="3.2" fill="rgb(225,40,40)" fill-opacity="0.07"/>
<circle cx="46.98" cy="86.27" r="3.2" fill="rgb(40,40,200)" fill-opacity="0.07"/>
<circle cx="42.38" cy="81.54" r="3.2" fill="rgb(40,180,40)" fill-opacity="0.07"/>
<circle cx="46.01" cy="118.18" r="3.2" fill="rgb(40,180,40)" fill-opacity="0.07"/>
<circle cx="38.09" cy="92.89" r="3.2" fill="rgb(40,40,200)" fill-opacity="0.07"/>
<circle cx="62.68" cy="175.86" r="3.2" fill="rgb(40,40,200)" fill-opacity="0.07"/>
<circle cx="43.59" cy="54.98" r="3.2" fill="rgb(225,40,40)" fill-opacity="0.07"/>
<circle cx="49.96" cy="125.73" r="3.2" fill="rgb(40,40,200)" fill-opacity="0.07"/>
<circle cx="59.37" cy="134.84" r="3.2" fill="rgb(40,180,40)" fill-opacity="0.07"/>
<circle cx="53.02" cy="108.53" r="3.2" fill="rgb(110,110,110)" fill-opacity="0.07"/>
<circle cx="34.29" cy="92.28" r="3.2" fill="rgb(225,40,40)" fill-opacity="0.07"/>
<circle cx="63.38" cy="164.11" r="3.2" fill="rgb(110,110,110)" fill-opacity="0.07"/>
<circle cx="64.85" cy="176.63" r="3.2" fill="rgb(40,40,200)" fill-opacity="0.07"/>
<circle cx="57.19" cy="173.53" r="3.2" fill="rgb(40,180,40)" fill-opacity="0.07"/>
<circle cx="47.17" cy="140.1" r="3.2" fill="rgb(225,40,40)" fill-opacity="0.07"/>
<circle cx="53.2" cy="104.2" r="3.2" fill="rgb(225,40,40)" fill-opacity="0.07"/>
<circle cx="48.59" cy="151.61" r="3.2" fill="rgb(40,180,40)" fill-opacity="0.07"/>
<circle cx="54.64" cy="135.23" r="3.2" fill="rgb(110,110,110)" fill-opacity="0.07"/>
<circle cx="48.76" cy="178.54" r="3.2" fill="rgb(40,40,200)" fill-opacity="0.07"/>
<circle cx="41.18" cy="163" r="3.2" fill="rgb(225,40,40)" fill-opacity="0.07"/>
<circle cx="56.7" cy="128.59" r="3.2" fill="rgb(225,40,40)" fill-opacity="0.07"/>
<circle cx="39.33" cy="85.7" r="3.2" fill="rgb(225,40,40)" fill-opacity="0.07"/>
<circle cx="39.88" cy="121.2" r="3.2" fill="rgb(110,110,110)" fill-opacity="0.07"/>
<circle cx="47.53" cy="132.51" r="3.2" fill="rgb(40,180,40)" fill-opacity="0.07"/>
<circle cx="40.4" cy="105.39" r="3.2" fill="rgb(225,40,40)" fill-opacity="0.07"/>
<circle cx="45.81" cy="119.97" r="3.2" fill="rgb(40,180,40)" fill-opacity="0.07"/>
<circle cx="58.15" cy="92.29" r="3.2" fill="rgb(40,40,200)" fill-opacity="0.07"/>
<circle cx="46.8" cy="67.11" r="3.2" fill="rgb(225,40,40)" fill-opacity="0.07"/>
<circle cx="40.42" cy="77.86" r="3.2" fill="rgb(110,110,110)" fill-opacity="0.07"/>
<circle cx="47.89" cy="80.64" r="3.2" fill="rgb(40,40,200)" fill-opacity="0.07"/>
<circle cx="68.73" cy="134.35" r="3.2" fill="rgb(40,40,200)" fill-opacity="0.07"/>
<circle cx="49.7" cy="122.8" r="3.2" fill="rgb(40,40,200)" fill-opacity="0.07"/>
<circle cx="43.09" cy="70.48" r="3.2" fill="rgb(110,110,110)" fill-opacity="0.07"/>
<circle cx="59.67" cy="177.03" r="3.2" fill="rgb(110,110,110)" fill-opacity="0.07"/>
<circle cx="54.65" cy="117.7" r="3.2" fill="rgb(40,180,40)" fill-opacity="0.07"/>
<circle cx="40.77" cy="129.68" r="3.2" fill="rgb(110,110,110)" fill-opacity="0.07"/>
<circle cx="44.02" cy="56.63" r="3.2" fill="rgb(40,180,40)" fill-opacity="0.07"/>
<circle cx="58.74" cy="137.3" r="3.2" fill="rgb(110,110,110)" fill-opacity="0.07"/>
<circle cx="53.61" cy="115.54" r="3.2" fill="rgb(40,180,40)" fill-opacity="0.07"/>
<circle cx="56.31" cy="142.96" r="3.2" fill="rgb(40,40,200)" fill-opacity="0.07"/>
<circle cx="39.71" cy="138.27" r="3.2" fill="rgb(225,40,40)" fill-opacity="0.07"/>
<circle cx="38.46" cy="116.98" r="3.2" fill="rgb(110,110,110)" fill-opacity="0.07"/>
<circle cx="51.47" cy="152.18" r="3.2" fill="rgb(40,180,40)" fill-opacity="0.07"/>
<circle cx="42.09" cy="91.48" r="3.2" fill="rgb(40,40,200)" fill-opacity="0.07"/>
<circle cx="38.35" cy="60.97" r="3.2" fill="rgb(110,110,110)" fill-opacity="0.07"/>
<circle cx="46.93" cy="104.44" r="3.2" fill="rgb(40,180,40)" fill-opacity="0.07"/>
<circle cx="50.85" cy="171.95" r="3.2" fill="rgb(40,180,40)" fill-opacity="0.07"/>
<circle cx="49.35" cy="113.34" r="3.2" fill="rgb(110,110,110)" fill-opacity="0.07"/>
<circle cx="54.89" cy="174.61" r="3.2" fill="rgb(40,180,40)" fill-opacity="0.07"/>
<circle cx="52.02" cy="122.55" r="3.2" fill="rgb(40,180,40)" fill-opacity="0.07"/>
<circle cx="39.55" cy="90.74" r="3.2" fill="rgb(40,40,200)" fill-opacity="0.07"/>
<circle cx="49.31" cy="123.69" r="3.2" fill="rgb(40,180,40)" fill-opacity="0.07"/>
<circle cx="51.98" cy="126.53" r="3.2" fill="rgb(225,40,40)" fill-opacity="0.07"/>
<circle cx="51.64" cy="112.78" r="3.2" fill="rgb(40,180,40)" fill-opacity="0.07"/>
<circle cx="74.84" cy="172.3" r="3.2" fill="rgb(40,40,200)" fill-opacity="0.07"/>
<circle cx="46.24" cy="65.7" r="3.2" fill="rgb(110,110,110)" fill-opacity="0.07"/>
<circle cx="56.01" cy="146.84" r="3.2" fill="rgb(225,40,40)" fill-opacity="0.07"/>
<circle cx="47.31" cy="84.11" r="3.2" fill="rgb(40,180,40)" fill-opacity="0.07"/>
<circle cx="32.95" cy="131.74" r="3.2" fill="rgb(40,180,40)" fill-opacity="0.07"/>
<circle cx="39.32" cy="57.4" r="3.2" fill="rgb(40,180,40)" fill-opacity="0.07"/>
<circle cx="41.2" cy="59.13" r="3.2" fill="rgb(225,40,40)" fill-opacity="0.07"/>
<circle cx="45.01" cy="150.73" r="3.2" fill="rgb(225,40,40)" fill-opacity="0.07"/>
<circle cx="35.88" cy="89.86" r="3.2" fill="rgb(110,110,110)" fill-opacity="0.07"/>
<circle cx="50.19" cy="85.38" r="3.2" fill="rgb(40,180,40)" fill-opacity="0.07"/>
<circle cx="46.84" cy="58.58" r="3.2" fill="rgb(40,180,40)" fill-opacity="0.07"/>
<circle cx="62.42" cy="128.56" r="3.2" fill="rgb(40,180,40)" fill-opacity="0.07"/>
<circle cx="54.9" cy="120.13" r="3.2" fill="rgb(110,110,110)" fill-opacity="0.07"/>
<circle cx="59.64" cy="172.34" r="3.2" fill="rgb(40,40,200)" fill-opacity="0.07"/>
<circle cx="48.31" cy="72.65" r="3.2" fill="rgb(40,180,40)" fill-opacity="0.07"/>
<circle cx="41.47" cy="104.87" r="3.2" fill="rgb(110,110,110)" fill-opacity="0.07"/>
<circle cx="42.35" cy="127.33" r="3.2" fill="rgb(40,40,200)" fill-opacity="0.07"/>
<circle cx="47.28" cy="114.71" r="3.2" fill="rgb(225,40,40)" fill-opacity="0.07"/>
<circle cx="46.74" cy="57.35" r="3.2" fill="rgb(110,110,110)" fill-opacity="0.07"/>
<circle cx="55.62" cy="79.79" r="3.2" fill="rgb(40,40,200)" fill-opacity="0.07"/>
<circle cx="47.96" cy="103.25" r="3.2" fill="rgb(40,180,40)" fill-opacity="0.07"/>
<circle cx="45.61" cy="164.41" r="3.2" fill="rgb(40,40,200)" fill-opacity="0.07"/>
<circle cx="49.25" cy="177.17" r="3.2" fill="rgb(110,110,110)" fill-opacity="0.07"/>
<circle cx="47.97" cy="98.17" r="3.2" fill="rgb(40,40,200)" fill-opacity="0.07"/>
<circle cx="51.6" cy="56.16" r="3.2" fill="rgb(40,40,200)" fill-opacity="0.07"/>
<circle cx="48.9" cy="178.18" r="3.2" fill="rgb(40,40,200)" fill-opacity="0.07"/>
<circle cx="42.22" cy="70.82" r="3.2" fill="rgb(110,110,110)" fill-opacity="0.07"/>
<circle cx="30.39" cy="174.93" r="3.2" fill="rgb(40,40,200)" fill-opacity="0.07"/>
<circle cx="46.78" cy="84.81" r="3.2" fill="rgb(40,40,200)" fill-opacity="0.07"/>
<circle cx="51.59" cy="78.39" r="3.2" fill="rgb(110,110,110)" fill-opacity="0.07"/>
<circle cx="50.53" cy="193.02" r="3.2" fill="rgb(110,110,110)" fill-opacity="0.07"/>
<circle cx="53.11" cy="111.18" r="3.2" fill="rgb(40,180,40)" fill-opacity="0.07"/>
<circle cx="46.82" cy="165.31" r="3.2" fill="rgb(110,110,110)" fill-opacity="0.07"/>
<circle cx="43.97" cy="179.26" r="3.2" fill="rgb(110,110,110)" fill-opacity="0.07"/>
<circle cx="46.94" cy="148.15" r="3.2" fill="rgb(40,40,200)" fill-opacity="0.07"/>
<circle cx="47.86" cy="126.91" r="3.2" fill="rgb(225,40,40)" fill-opacity="0.07"/>
<circle cx="51.91" cy="63.54" r="3.2" fill="rgb(40,180,40)" fill-opacity="0.07"/>
<circle cx="32.15" cy="140.89" r="3.2" fill="rgb(225,40,40)" fill-opacity="0.07"/>
<circle cx="51.97" cy="144.08" r="3.2" fill="rgb(225,40,40)" fill-opacity="0.07"/>
<circle cx="31.38" cy="106.46" r="3.2" fill="rgb(40,180,40)" fill-opacity="0.07"/>
<circle cx="41.02" cy="61.46" r="3.2" fill="rgb(225,40,40)" fill-opacity="0.07"/>
<circle cx="42.85" cy="165.23" r="3.2" fill="rgb(110,110,110)" fill-opacity="0.07"/>
<circle cx="33.82" cy="81.24" r="3.2" fill="rgb(40,40,200)" fill-opacity="0.07"/>
<circle cx="49.58" cy="86.3" r="3.2" fill="rgb(110,110,110)" fill-opacity="0.07"/>
<circle cx="38.43" cy="87.49" r="3.2" fill="rgb(40,40,200)" fill-opacity="0.07"/>
<circle cx="40.13" cy="122.38" r="3.2" fill="rgb(40,40,200)" fill-opacity="0.07"/>
<circle cx="42.75" cy="111.7" r="3.2" fill="rgb(110,110,110)" fill-opacity="0.07"/>
<circle cx="43.29" cy="157.93" r="3.2" fill="rgb(40,180,40)" fill-opacity="0.07"/>
<circle cx="64.14" cy="158.56" r="3.2" fill="rgb(40,180,40)" fill-opacity="0.07"/>
<circle cx="48.4" cy="70.61" r="3.2" fill="rgb(40,180,40)" fill-opacity="0.07"/>
<circle cx="52.49" cy="89.95" r="3.2" fill="rgb(40,40,200)" fill-opacity="0.07"/>
<circle cx="43.74" cy="71.5" r="3.2" fill="rgb(110,110,110)" fill-opacity="0.07"/>
<circle cx="47.89" cy="102.08" r="3.2" fill="rgb(110,110,110)" fill-opacity="0.07"/>
<circle cx="46.54" cy="136.25" r="3.2" fill="rgb(40,40,200)" fill-opacity="0.07"/>
<circle cx="56.3" cy="164.69" r="3.2" fill="rgb(110,110,110)" fill-opacity="0.07"/>
<circle cx="42.93" cy="78.33" r="3.2" fill="rgb(110,110,110)" fill-opacity="0.07"/>
<circle cx="44.46" cy="77.02" r="3.2" fill="rgb(40,180,40)" fill-opacity="0.07"/>
<circle cx="43.78" cy="59.12" r="3.2" fill="rgb(225,40,40)" fill-opacity="0.07"/>
<circle cx="50.87" cy="56.18" r="3.2" fill="rgb(225,40,40)" fill-opacity="0.07"/>
<circle cx="48.54" cy="132" r="3.2" fill="rgb(225,40,40)" fill-opacity="0.07"/>
<circle cx="45.97" cy="129.83" r="3.2" fill="rgb(225,40,40)" fill-opacity="0.07"/>
<circle cx="69.69" cy="179.31" r="3.2" fill="rgb(40,40,200)" fill-opacity="0.07"/>
<circle cx="39.91" cy="97.27" r="3.2" fill="rgb(110,110,110)" fill-opacity="0.07"/>
<circle cx="41.58" cy="68.03" r="3.2" fill="rgb(40,180,40)" fill-opacity="0.07"/>
<circle cx="48.91" cy="92.67" r="3.2" fill="rgb(110,110,110)" fill-opacity="0.07"/>
<circle cx="42.68" cy="120.78" r="3.2" fill="rgb(40,180,40)" fill-opacity="0.07"/>
<circle cx="43.57" cy="140.17" r="3.2" fill="rgb(40,40,200)" fill-opacity="0.07"/>
<circle cx="37.09" cy="99.11" r="3.2" fill="rgb(225,40,40)" fill-opacity="0.07"/>
<circle cx="44.75" cy="138.1" r="3.2" fill="rgb(225,40,40)" fill-opacity="0.07"/>
<circle cx="50.79" cy="61.02" r="3.2" fill="rgb(225,40,40)" fill-opacity="0.07"/>
<circle cx="48.91" cy="88.39" r="3.2" fill="rgb(40,180,40)" fill-opacity="0.07"/>
<circle cx="61.44" cy="82.87" r="3.2" fill="rgb(225,40,40)" fill-opacity="0.07"/>
<circle cx="33.77" cy="164.04" r="3.2" fill="rgb(225,40,40)" fill-opacity="0.07"/>
<circle cx="46.36" cy="58.85" r="3.2" fill="rgb(40,40,200)" fill-opacity="0.07"/>
<circle cx="45.7" cy="136.19" r="3.2" fill="rgb(40,180,40)" fill-opacity="0.07"/>
<circle cx="66.29" cy="164.15" r="3.2" fill="rgb(40,180,40)" fill-opacity="0.07"/>
<circle cx="39.18" cy="170" r="3.2" fill="rgb(40,180,40)" fill-opacity="0.07"/>
<circle cx="51.9" cy="47.91" r="3.2" fill="rgb(110,110,110)" fill-opacity="0.07"/>
<circle cx="41.25" cy="185" r="3.2" fill="rgb(40,40,200)" fill-opacity="0.07"/>
<circle cx="49.13" cy="164.3" r="3.2" fill="rgb(40,40,200)" fill-opacity="0.07"/>
<circle cx="50.54" cy="88.13" r="3.2" fill="rgb(40,40,200)" fill-opacity="0.07"/>
<circle cx="44.23" cy="127.04" r="3.2" fill="rgb(40,180,40)" fill-opacity="0.07"/>
<circle cx="52.65" cy="186.63" r="3.2" fill="rgb(40,40,200)" fill-opacity="0.07"/>
<circle cx="62.15" cy="176.97" r="3.2" fill="rgb(40,180,40)" fill-opacity="0.07"/>
<circle cx="56.04" cy="173.64" r="3.2" fill="rgb(225,40,40)" fill-opacity="0.07"/>
<circle cx="63.1" cy="150.09" r="3.2" fill="rgb(40,40,200)" fill-opacity="0.07"/>
<circle cx="42.71" cy="101.32" r="3.2" fill="rgb(40,40,200)" fill-opacity="0.07"/>
<circle cx="49.36" cy="179.37" r="3.2" fill="rgb(40,180,40)" fill-opacity="0.07"/>
<circle cx="47.34" cy="59.3" r="3.2" fill="rgb(40,40,200)" fill-opacity="0.07"/>
<circle cx="67.05" cy="121.85" r="3.2" fill="rgb(40,180,40)" fill-opacity="0.07"/>
<circle cx="31.5" cy="97.53" r="3.2" fill="rgb(225,40,40)" fill-opacity="0.07"/>
<circle cx="38.15" cy="57.53" r="3.2" fill="rgb(225,40,40)" fill-opacity="0.07"/>
<circle cx="52.82" cy="103.5" r="3.2" fill="rgb(225,40,40)" fill-opacity="0.07"/>
<circle cx="47.41" cy="132.92" r="3.2" fill="rgb(40,40,200)" fill-opacity="0.07"/>
<circle cx="36.87" cy="135.78" r="3.2" fill="rgb(40,40,200)" fill-opacity="0.07"/>
<circle cx="45.14" cy="162.53" r="3.2" fill="rgb(40,180,40)" fill-opacity="0.07"/>
<circle cx="43.98" cy="53.24" r="3.2" fill="rgb(40,40,200)" fill-opacity="0.07"/>
<circle cx="43.32" cy="171.7" r="3.2" fill="rgb(40,180,40)" fill-opacity="0.07"/>
<circle cx="63.01" cy="176.38" r="3.2" fill="rgb(40,180,40)" fill-opacity="0.07"/>
<circle cx="55.94" cy="131.48" r="3.2" fill="rgb(40,180,40)" fill-opacity="0.07"/>
<circle cx="51.88" cy="88.67" r="3.2" fill="rgb(40,180,40)" fill-opacity="0.07"/>
<circle cx="35.35" cy="160.85" r="3.2" fill="rgb(40,180,40)" fill-opacity="0.07"/>
<circle cx="58.76" cy="82.64" r="3.2" fill="rgb(40,180,40)" fill-opacity="0.07"/>
<circle cx="47.57" cy="156.49" r="3.2" fill="rgb(110,110,110)" fill-opacity="0.07"/>
<circle cx="34.89" cy="163.26" r="3.2" fill="rgb(40,40,200)" fill-opacity="0.07"/>
<circle cx="31.14" cy="156.09" r="3.2" fill="rgb(40,180,40)" fill-opacity="0.07"/>
<circle cx="54.93" cy="158.62" r="3.2" fill="rgb(40,180,40)" fill-opacity="0.07"/>
<circle cx="44.3" cy="129.24" r="3.2" fill="rgb(40,180,40)" fill-opacity="0.07"/>
<circle cx="51.37" cy="63.24" r="3.2" fill="rgb(40,180,40)" fill-opacity="0.07"/>
<circle cx="42.16" cy="44.9" r="3.2" fill="rgb(225,40,40)" fill-opacity="0.07"/>
<circle cx="49.83" cy="53.66" r="3.2" fill="rgb(110,110,110)" fill-opacity="0.07"/>
<circle cx="35.06" cy="81.25" r="3.2" fill="rgb(40,40,200)" fill-opacity="0.07"/>
<circle cx="41.12" cy="67.96" r="3.2" fill="rgb(225,40,40)" fill-opacity="0.07"/>
<circle cx="36.13" cy="150.6" r="3.2" fill="rgb(110,110,110)" fill-opacity="0.07"/>
<circle cx="47.91" cy="93.49" r="3.2" fill="rgb(40,40,200)" fill-opacity="0.07"/>
<circle cx="40.63" cy="50.04" r="3.2" fill="rgb(40,180,40)" fill-opacity="0.07"/>
<circle cx="41.79" cy="103.81" r="3.2" fill="rgb(225,40,40)" fill-opacity="0.07"/>
<circle cx="38.12" cy="106.67" r="3.2" fill="rgb(225,40,40)" fill-opacity="0.07"/>
<circle cx="47.07" cy="96.8" r="3.2" fill="rgb(225,40,40)" fill-opacity="0.07"/>
<circle cx="46.59" cy="125.51" r="3.2" fill="rgb(40,180,40)" fill-opacity="0.07"/>
<circle cx="41.14" cy="152.07" r="3.2" fill="rgb(40,40,200)" fill-opacity="0.07"/>
<circle cx="37.49" cy="58.17" r="3.2" fill="rgb(110,110,110)" fill-opacity="0.07"/>
<circle cx="32.35" cy="123.57" r="3.2" fill="rgb(225,40,40)" fill-opacity="0.07"/>
<circle cx="65.23" cy="183.97" r="3.2" fill="rgb(225,40,40)" fill-opacity="0.07"/>
<circle cx="46" cy="110.54" r="3.2" fill="rgb(225,40,40)" fill-opacity="0.07"/>
<circle cx="44.32" cy="61.75" r="3.2" fill="rgb(40,180,40)" fill-opacity="0.07"/>
<circle cx="57.98" cy="81.95" r="3.2" fill="rgb(40,40,200)" fill-opacity="0.07"/>
<circle cx="38.29" cy="100.22" r="3.2" fill="rgb(110,110,110)" fill-opacity="0.07"/>
<circle cx="45.78" cy="89.13" r="3.2" fill="rgb(225,40,40)" fill-opacity="0.07"/>
<circle cx="38.87" cy="76.93" r="3.2" fill="rgb(110,110,110)" fill-opacity="0.07"/>
<circle cx="42.06" cy="71.45" r="3.2" fill="rgb(40,40,200)" fill-opacity="0.07"/>
<circle cx="51.39" cy="82.79" r="3.2" fill="rgb(40,40,200)" fill-opacity="0.07"/>
<circle cx="44.22" cy="100.69" r="3.2" fill="rgb(110,110,110)" fill-opacity="0.07"/>
<circle cx="53.75" cy="148.67" r="3.2" fill="rgb(110,110,110)" fill-opacity="0.07"/>
<circle cx="85.37" cy="143.56" r="3.2" fill="rgb(110,110,110)" fill-opacity="0.07"/>
<circle cx="50.15" cy="46.35" r="3.2" fill="rgb(40,40,200)" fill-opacity="0.07"/>
<circle cx="39.53" cy="136.23" r="3.2" fill="rgb(40,40,200)" fill-opacity="0.07"/>
<circle cx="42.05" cy="86.09" r="3.2" fill="rgb(40,180,40)" fill-opacity="0.07"/>
<circle cx="59.06" cy="181.41" r="3.2" fill="rgb(40,40,200)" fill-opacity="0.07"/>
<circle cx="38.24" cy="170.64" r="3.2" fill="rgb(40,180,40)" fill-opacity="0.07"/>
<circle cx="43.7" cy="80.4" r="3.2" fill="rgb(40,40,200)" fill-opacity="0.07"/>
<circle cx="48.86" cy="95.96" r="3.2" fill="rgb(40,40,200)" fill-opacity="0.07"/>
<circle cx="66.02" cy="105.58" r="3.2" fill="rgb(110,110,110)" fill-opacity="0.07"/>
<circle cx="62.63" cy="171.62" r="3.2" fill="rgb(40,180,40)" fill-opacity="0.07"/>
<circle cx="43.5" cy="132.33" r="3.2" fill="rgb(225,40,40)" fill-opacity="0.07"/>
<circle cx="42.6" cy="159.16" r="3.2" fill="rgb(40,180,40)" fill-opacity="0.07"/>
<circle cx="60.43" cy="170.65" r="3.2" fill="rgb(40,180,40)" fill-opacity="0.07"/>
<circle cx="62.35" cy="180.58" r="3.2" fill="rgb(40,180,40)" fill-opacity="0.07"/>
<circle cx="42.08" cy="112.92" r="3.2" fill="rgb(110,110,110)" fill-opacity="0.07"/>
<circle cx="50.23" cy="59.98" r="3.2" fill="rgb(225,40,40)" fill-opacity="0.07"/>
<circle cx="49.11" cy="71.35" r="3.2" fill="rgb(225,40,40)" fill-opacity="0.07"/>
<circle cx="48.97" cy="77.12" r="3.2" fill="rgb(40,180,40)" fill-opacity="0.07"/>
<circle cx="49.1" cy="182.1" r="3.2" fill="rgb(40,40,200)" fill-opacity="0.07"/>
<circle cx="56.84" cy="112.46" r="3.2" fill="rgb(225,40,40)" fill-opacity="0.07"/>
<circle cx="36.74" cy="86.54" r="3.2" fill="rgb(40,40,200)" fill-opacity="0.07"/>
<circle cx="50.9" cy="122.23" r="3.2" fill="rgb(40,180,40)" fill-opacity="0.07"/>
<circle cx="47.04" cy="150.52" r="3.2" fill="rgb(225,40,40)" fill-opacity="0.07"/>
<circle cx="38.54" cy="61.77" r="3.2" fill="rgb(40,180,40)" fill-opacity="0.07"/>
<circle cx="57.6" cy="51.01" r="3.2" fill="rgb(40,40,200)" fill-opacity="0.07"/>
<circle cx="41.63" cy="92.95" r="3.2" fill="rgb(40,40,200)" fill-opacity="0.07"/>
<circle cx="36.04" cy="105.95" r="3.2" fill="rgb(40,40,200)" fill-opacity="0.07"/>
<circle cx="48.08" cy="77.81" r="3.2" fill="rgb(40,180,40)" fill-opacity="0.07"/>
<circle cx="40.2" cy="80.21" r="3.2" fill="rgb(40,40,200)" fill-opacity="0.07"/>
<circle cx="44.79" cy="75.12" r="3.2" fill="rgb(40,180,40)" fill-opacity="0.07"/>
<circle cx="62.6" cy="149.69" r="3.2" fill="rgb(225,40,40)" fill-opacity="0.07"/>
<circle cx="49.98" cy="100" r="3.2" fill="rgb(110,110,110)" fill-opacity="0.07"/>
<circle cx="52.64" cy="95.4" r="3.2" fill="rgb(110,110,110)" fill-opacity="0.07"/>
<circle cx="29.41" cy="58.01" r="3.2" fill="rgb(225,40,40)" fill-opacity="0.07"/>
<circle cx="49.51" cy="123.18" r="3.2" fill="rgb(110,110,110)" fill-opacity="0.07"/>
<circle cx="53.87" cy="109.74" r="3.2" fill="rgb(225,40,40)" fill-opacity="0.07"/>
<circle cx="45.07" cy="174.89" r="3.2" fill="rgb(40,40,200)" fill-opacity="0.07"/>
<circle cx="42.48" cy="72.61" r="3.2" fill="rgb(40,180,40)" fill-opacity="0.07"/>
<circle cx="41.36" cy="85.3" r="3.2" fill="rgb(225,40,40)" fill-opacity="0.07"/>
<circle cx="46.4" cy="180.55" r="3.2" fill="rgb(110,110,110)" fill-opacity="0.07"/>
<circle cx="49.87" cy="164.86" r="3.2" fill="rgb(225,40,40)" fill-opacity="0.07"/>
<circle cx="64.72" cy="127.24" r="3.2" fill="rgb(40,180,40)" fill-opacity="0.07"/>
<circle cx="50.53" cy="58.45" r="3.2" fill="rgb(225,40,40)" fill-opacity="0.07"/>
<circle cx="50.72" cy="114.84" r="3.2" fill="rgb(225,40,40)" fill-opacity="0.07"/>
<circle cx="48.62" cy="59.7" r="3.2" fill="rgb(110,110,110)" fill-opacity="0.07"/>
<circle cx="49.77" cy="192.7" r="3.2" fill="rgb(225,40,40)" fill-opacity="0.07"/>
<circle cx="55.71" cy="71.53" r="3.2" fill="rgb(225,40,40)" fill-opacity="0.07"/>
<circle cx="59.49" cy="135.42" r="3.2" fill="rgb(225,40,40)" fill-opacity="0.07"/>
<circle cx="48.13" cy="121.75" r="3.2" fill="rgb(110,110,110)" fill-opacity="0.07"/>
<circle cx="42.84" cy="66.21" r="3.2" fill="rgb(225,40,40)" fill-opacity="0.07"/>
<circle cx="43.64" cy="65.34" r="3.2" fill="rgb(40,40,200)" fill-opacity="0.07"/>
<circle cx="50.19" cy="178.56" r="3.2" fill="rgb(40,40,200)" fill-opacity="0.07"/>
<circle cx="42.23" cy="114.27" r="3.2" fill="rgb(40,180,40)" fill-opacity="0.07"/>
<circle cx="54.77" cy="131.89" r="3.2" fill="rgb(110,110,110)" fill-opacity="0.07"/>
<circle cx="46" cy="160.76" r="3.2" fill="rgb(40,180,40)" fill-opacity="0.07"/>
<circle cx="31.89" cy="63.14" r="3.2" fill="rgb(225,40,40)" fill-opacity="0.07"/>
<circle cx="57.33" cy="176.3" r="3.2" fill="rgb(40,40,200)" fill-opacity="0.07"/>
<circle cx="46.96" cy="64.59" r="3.2" fill="rgb(225,40,40)" fill-opacity="0.07"/>
<circle cx="41.76" cy="127.98" r="3.2" fill="rgb(110,110,110)" fill-opacity="0.07"/>
<circle cx="47.22" cy="95.85" r="3.2" fill="rgb(110,110,110)" fill-opacity="0.07"/>
<circle cx="50.82" cy="136.58" r="3.2" fill="rgb(40,40,200)" fill-opacity="0.07"/>
<circle cx="34.4" cy="167.79" r="3.2" fill="rgb(40,180,40)" fill-opacity="0.07"/>
<circle cx="53.65" cy="136.09" r="3.2" fill="rgb(40,40,200)" fill-opacity="0.07"/>
<circle cx="41.62" cy="76.52" r="3.2" fill="rgb(40,40,200)" fill-opacity="0.07"/>
<circle cx="43.69" cy="115.02" r="3.2" fill="rgb(225,40,40)" fill-opacity="0.07"/>
<circle cx="46.49" cy="168.41" r="3.2" fill="rgb(110,110,110)" fill-opacity="0.07"/>
<circle cx="51.92" cy="175.65" r="3.2" fill="rgb(40,180,40)" fill-opacity="0.07"/>
<circle cx="45.93" cy="120.39" r="3.2" fill="rgb(40,180,40)" fill-opacity="0.07"/>
<circle cx="63.64" cy="168.26" r="3.2" fill="rgb(40,180,40)" fill-opacity="0.07"/>
<circle cx="54.55" cy="131.52" r="3.2" fill="rgb(110,110,110)" fill-opacity="0.07"/>
<circle cx="53.19" cy="172.46" r="3.2" fill="rgb(40,180,40)" fill-opacity="0.07"/>
<circle cx="53.24" cy="88.18" r="3.2" fill="rgb(225,40,40)" fill-opacity="0.07"/>
<circle cx="57.41" cy="179.55" r="3.2" fill="rgb(40,40,200)" fill-opacity="0.07"/>
<circle cx="61.25" cy="183.67" r="3.2" fill="rgb(225,40,40)" fill-opacity="0.07"/>
<circle cx="35.56" cy="97.74" r="3.2" fill="rgb(40,40,200)" fill-opacity="0.07"/>
<circle cx="55.81" cy="97.71" r="3.2" fill="rgb(225,40,40)" fill-opacity="0.07"/>
<circle cx="49.61" cy="156.73" r="3.2" fill="rgb(40,180,40)" fill-opacity="0.07"/>
<circle cx="45.4" cy="61.51" r="3.2" fill="rgb(110,110,110)" fill-opacity="0.07"/>
<circle cx="41.54" cy="92.64" r="3.2" fill="rgb(40,40,200)" fill-opacity="0.07"/>
<circle cx="48.39" cy="49.52" r="3.2" fill="rgb(110,110,110)" fill-opacity="0.07"/>
<circle cx="40.65" cy="132.53" r="3.2" fill="rgb(225,40,40)" fill-opacity="0.07"/>
<circle cx="52.76" cy="156.89" r="3.2" fill="rgb(40,180,40)" fill-opacity="0.07"/>
<circle cx="59.13" cy="154.18" r="3.2" fill="rgb(225,40,40)" fill-opacity="0.07"/>
<circle cx="61.43" cy="167.87" r="3.2" fill="rgb(40,180,40)" fill-opacity="0.07"/>
<circle cx="58.91" cy="55.86" r="3.2" fill="rgb(110,110,110)" fill-opacity="0.07"/>
<circle cx="54.13" cy="96.71" r="3.2" fill="rgb(225,40,40)" fill-opacity="0.07"/>
<circle cx="37.93" cy="88.95" r="3.2" fill="rgb(40,180,40)" fill-opacity="0.07"/>
<circle cx="59.52" cy="180.73" r="3.2" fill="rgb(40,40,200)" fill-opacity="0.07"/>
<circle cx="50.23" cy="143.17" r="3.2" fill="rgb(40,40,200)" fill-opacity="0.07"/>
<circle cx="57.35" cy="161.15" r="3.2" fill="rgb(225,40,40)" fill-opacity="0.07"/>
<circle cx="47.52" cy="71.28" r="3.2" fill="rgb(40,40,200)" fill-opacity="0.07"/>
<circle cx="42.23" cy="101.67" r="3.2" fill="rgb(225,40,40)" fill-opacity="0.07"/>
<circle cx="48.83" cy="149.68" r="3.2" fill="rgb(225,40,40)" fill-opacity="0.07"/>
<circle cx="44.37" cy="76.59" r="3.2" fill="rgb(40,180,40)" fill-opacity="0.07"/>
<circle cx="58.38" cy="142" r="3.2" fill="rgb(110,110,110)" fill-opacity="0.07"/>
<circle cx="37.41" cy="92.29" r="3.2" fill="rgb(40,180,40)" fill-opacity="0.07"/>
<circle cx="39.59" cy="170.2" r="3.2" fill="rgb(40,40,200)" fill-opacity="0.07"/>
<circle cx="37.8" cy="59.39" r="3.2" fill="rgb(225,40,40)" fill-opacity="0.07"/>
<circle cx="47.24" cy="58.93" r="3.2" fill="rgb(225,40,40)" fill-opacity="0.07"/>
<circle cx="58.86" cy="186.47" r="3.2" fill="rgb(225,40,40)" fill-opacity="0.07"/>
<circle cx="38.79" cy="52.64" r="3.2" fill="rgb(225,40,40)" fill-opacity="0.07"/>
<circle cx="32.83" cy="174.12" r="3.2" fill="rgb(40,180,40)" fill-opacity="0.07"/>
<circle cx="39.75" cy="72.21" r="3.2" fill="rgb(40,40,200)" fill-opacity="0.07"/>
<circle cx="42.85" cy="150.59" r="3.2" fill="rgb(225,40,40)" fill-opacity="0.07"/>
<circle cx="60.61" cy="181.76" r="3.2" fill="rgb(40,40,200)" fill-opacity="0.07"/>
<circle cx="34.8" cy="62.43" r="3.2" fill="rgb(225,40,40)" fill-opacity="0.07"/>
<circle cx="44.31" cy="179.61" r="3.2" fill="rgb(40,40,200)" fill-opacity="0.07"/>
<circle cx="41.32" cy="54.86" r="3.2" fill="rgb(225,40,40)" fill-opacity="0.07"/>
<circle cx="58.71" cy="151.36" r="3.2" fill="rgb(225,40,40)" fill-opacity="0.07"/>
<circle cx="46.86" cy="142" r="3.2" fill="rgb(40,40,200)" fill-opacity="0.07"/>
<circle cx="44.45" cy="159.15" r="3.2" fill="rgb(225,40,40)" fill-opacity="0.07"/>
<circle cx="35.27" cy="72.56" r="3.2" fill="rgb(225,40,40)" fill-opacity="0.07"/>
<circle cx="60.23" cy="137.31" r="3.2" fill="rgb(40,40,200)" fill-opacity="0.07"/>
<circle cx="52.74" cy="86.13" r="3.2" fill="rgb(110,110,110)" fill-opacity="0.07"/>
<circle cx="39.72" cy="119.86" r="3.2" fill="rgb(110,110,110)" fill-opacity="0.07"/>
<circle cx="37.72" cy="111.8" r="3.2" fill="rgb(40,40,200)" fill-opacity="0.07"/>
<circle cx="48.14" cy="165.07" r="3.2" fill="rgb(40,180,40)" fill-opacity="0.07"/>
<circle cx="50.69" cy="101.44" r="3.2" fill="rgb(225,40,40)" fill-opacity="0.07"/>
<circle cx="55.16" cy="119.23" r="3.2" fill="rgb(40,180,40)" fill-opacity="0.07"/>
<circle cx="48.43" cy="134.23" r="3.2" fill="rgb(225,40,40)" fill-opacity="0.07"/>
<circle cx="41.86" cy="98.6" r="3.2" fill="rgb(225,40,40)" fill-opacity="0.07"/>
<circle cx="47.99" cy="112.34" r="3.2" fill="rgb(40,180,40)" fill-opacity="0.07"/>
<circle cx="54.65" cy="182.77" r="3.2" fill="rgb(40,40,200)" fill-opacity="0.07"/>
<circle cx="52.94" cy="171.57" r="3.2" fill="rgb(40,180,40)" fill-opacity="0.07"/>
<circle cx="43.67" cy="159.61" r="3.2" fill="rgb(110,110,110)" fill-opacity="0.07"/>
<circle cx="48.98" cy="52.44" r="3.2" fill="rgb(225,40,40)" fill-opacity="0.07"/>
<circle cx="55.23" cy="175.13" r="3.2" fill="rgb(40,40,200)" fill-opacity="0.07"/>
<circle cx="54.2" cy="159.26" r="3.2" fill="rgb(110,110,110)" fill-opacity="0.07"/>
<circle cx="48.95" cy="117.15" r="3.2" fill="rgb(40,180,40)" fill-opacity="0.07"/>
<circle cx="34.59" cy="116.87" r="3.2" fill="rgb(40,180,40)" fill-opacity="0.07"/>
<circle cx="41.61" cy="142.03" r="3.2" fill="rgb(40,180,40)" fill-opacity="0.07"/>
<circle cx="40.69" cy="77" r="3.2" fill="rgb(40,40,200)" fill-opacity="0.07"/>
<circle cx="49.59" cy="123.61" r="3.2" fill="rgb(225,40,40)" fill-opacity="0.07"/>
<circle cx="58.33" cy="181.52" r="3.2" fill="rgb(40,40,200)" fill-opacity="0.07"/>
<circle cx="42.28" cy="69.25" r="3.2" fill="rgb(40,40,200)" fill-opacity="0.07"/>
<circle cx="47.72" cy="82.31" r="3.2" fill="rgb(40,180,40)" fill-opacity="0.07"/>
<circle cx="50.48" cy="126.2" r="3.2" fill="rgb(40,180,40)" fill-opacity="0.07"/>
<circle cx="46.61" cy="114.71" r="3.2" fill="rgb(110,110,110)" fill-opacity="0.07"/>
<circle cx="45.22" cy="67.05" r="3.2" fill="rgb(110,110,110)" fill-opacity="0.07"/>
<circle cx="68.15" cy="171.04" r="3.2" fill="rgb(40,180,40)" fill-opacity="0.07"/>
<circle cx="48.26" cy="111.65" r="3.2" fill="rgb(225,40,40)" fill-opacity="0.07"/>
<circle cx="45.02" cy="79.59" r="3.2" fill="rgb(40,180,40)" fill-opacity="0.07"/>
<circle cx="53.53" cy="74.44" r="3.2" fill="rgb(40,180,40)" fill-opacity="0.07"/>
<circle cx="38.14" cy="66.45" r="3.2" fill="rgb(40,180,40)" fill-opacity="0.07"/>
<circle cx="52.54" cy="109.81" r="3.2" fill="rgb(110,110,110)" fill-opacity="0.07"/>
<circle cx="64.01" cy="165.79" r="3.2" fill="rgb(225,40,40)" fill-opacity="0.07"/>
<circle cx="47.19" cy="117.51" r="3.2" fill="rgb(40,40,200)" fill-opacity="0.07"/>
<circle cx="31.72" cy="148.4" r="3.2" fill="rgb(40,180,40)" fill-opacity="0.07"/>
<circle cx="48.64" cy="62.54" r="3.2" fill="rgb(40,180,40)" fill-opacity="0.07"/>
<circle cx="57.05" cy="105.59" r="3.2" fill="rgb(110,110,110)" fill-opacity="0.07"/>
<circle cx="47.22" cy="139.42" r="3.2" fill="rgb(110,110,110)" fill-opacity="0.07"/>
<circle cx="48.57" cy="140.95" r="3.2" fill="rgb(225,40,40)" fill-opacity="0.07"/>
<circle cx="59.21" cy="177.45" r="3.2" fill="rgb(40,40,200)" fill-opacity="0.07"/>
<circle cx="56.87" cy="136.82" r="3.2" fill="rgb(40,40,200)" fill-opacity="0.07"/>
<circle cx="62.29" cy="117.24" r="3.2" fill="rgb(40,40,200)" fill-opacity="0.07"/>
<circle cx="45.2" cy="55.39" r="3.2" fill="rgb(225,40,40)" fill-opacity="0.07"/>
<circle cx="35.37" cy="137.53" r="3.2" fill="rgb(225,40,40)" fill-opacity="0.07"/>
<circle cx="53.28" cy="178.71" r="3.2" fill="rgb(40,40,200)" fill-opacity="0.07"/>
<circle cx="36.07" cy="92.89" r="3.2" fill="rgb(225,40,40)" fill-opacity="0.07"/>
<circle cx="51.67" cy="170.75" r="3.2" fill="rgb(40,180,40)" fill-opacity="0.07"/>
<circle cx="40.99" cy="61.73" r="3.2" fill="rgb(225,40,40)" fill-opacity="0.07"/>
<circle cx="49.13" cy="49.71" r="3.2" fill="rgb(110,110,110)" fill-opacity="0.07"/>
<circle cx="57" cy="68.73" r="3.2" fill="rgb(40,180,40)" fill-opacity="0.07"/>
<circle cx="40.38" cy="140.72" r="3.2" fill="rgb(110,110,110)" fill-opacity="0.07"/>
<circle cx="41" cy="70.77" r="3.2" fill="rgb(40,40,200)" fill-opacity="0.07"/>
<circle cx="61" cy="156.51" r="3.2" fill="rgb(225,40,40)" fill-opacity="0.07"/>
<circle cx="51.16" cy="86.77" r="3.2" fill="rgb(225,40,40)" fill-opacity="0.07"/>
<circle cx="63.79" cy="155.49" r="3.2" fill="rgb(40,40,200)" fill-opacity="0.07"/>
<circle cx="30.66" cy="71.02" r="3.2" fill="rgb(225,40,40)" fill-opacity="0.07"/>
<circle cx="33.61" cy="87.3" r="3.2" fill="rgb(110,110,110)" fill-opacity="0.07"/>
<circle cx="40.72" cy="157.7" r="3.2" fill="rgb(40,180,40)" fill-opacity="0.07"/>
<circle cx="42.62" cy="115.72" r="3.2" fill="rgb(110,110,110)" fill-opacity="0.07"/>
<circle cx="59.15" cy="179.96" r="3.2" fill="rgb(40,40,200)" fill-opacity="0.07"/>
<circle cx="42.2" cy="80.08" r="3.2" fill="rgb(225,40,40)" fill-opacity="0.07"/>
<circle cx="53.25" cy="103.76" r="3.2" fill="rgb(40,180,40)" fill-opacity="0.07"/>
<circle cx="55.07" cy="134.15" r="3.2" fill="rgb(110,110,110)" fill-opacity="0.07"/>
<circle cx="61.2" cy="123.01" r="3.2" fill="rgb(40,180,40)" fill-opacity="0.07"/>
<circle cx="58.62" cy="152.78" r="3.2" fill="rgb(110,110,110)" fill-opacity="0.07"/>
<circle cx="42.64" cy="67.88" r="3.2" fill="rgb(40,180,40)" fill-opacity="0.07"/>
<circle cx="45.6" cy="79.98" r="3.2" fill="rgb(40,180,40)" fill-opacity="0.07"/>
<circle cx="59.76" cy="95.41" r="3.2" fill="rgb(225,40,40)" fill-opacity="0.07"/>
<circle cx="50.17" cy="139.69" r="3.2" fill="rgb(40,180,40)" fill-opacity="0.07"/>
<circle cx="35.87" cy="182.31" r="3.2" fill="rgb(40,40,200)" fill-opacity="0.07"/>
<circle cx="35.84" cy="169.62" r="3.2" fill="rgb(225,40,40)" fill-opacity="0.07"/>
<circle cx="49.31" cy="122.57" r="3.2" fill="rgb(40,40,200)" fill-opacity="0.07"/>
<circle cx="51.32" cy="157.43" r="3.2" fill="rgb(40,40,200)" fill-opacity="0.07"/>
<circle cx="46.19" cy="114.85" r="3.2" fill="rgb(110,110,110)" fill-opacity="0.07"/>
<circle cx="44.67" cy="88.52" r="3.2" fill="rgb(40,40,200)" fill-opacity="0.07"/>
<circle cx="41.57" cy="177.92" r="3.2" fill="rgb(110,110,110)" fill-opacity="0.07"/>
<circle cx="57.11" cy="106.92" r="3.2" fill="rgb(225,40,40)" fill-opacity="0.07"/>
<circle cx="53.65" cy="60.43" r="3.2" fill="rgb(110,110,110)" fill-opacity="0.07"/>
<circle cx="35.56" cy="55.41" r="3.2" fill="rgb(225,40,40)" fill-opacity="0.07"/>
<circle cx="53.4" cy="140.77" r="3.2" fill="rgb(40,40,200)" fill-opacity="0.07"/>
<circle cx="48.87" cy="127.15" r="3.2" fill="rgb(225,40,40)" fill-opacity="0.07"/>
<circle cx="66.09" cy="164.24" r="3.2" fill="rgb(40,40,200)" fill-opacity="0.07"/>
<circle cx="46.28" cy="46.15" r="3.2" fill="rgb(40,180,40)" fill-opacity="0.07"/>
<circle cx="57.19" cy="170.43" r="3.2" fill="rgb(40,180,40)" fill-opacity="0.07"/>
<circle cx="63.58" cy="136.09" r="3.2" fill="rgb(40,40,200)" fill-opacity="0.07"/>
<circle cx="47.33" cy="189.47" r="3.2" fill="rgb(225,40,40)" fill-opacity="0.07"/>
<circle cx="30.75" cy="110.27" r="3.2" fill="rgb(225,40,40)" fill-opacity="0.07"/>
<circle cx="51.66" cy="114.79" r="3.2" fill="rgb(40,180,40)" fill-opacity="0.07"/>
<circle cx="64.36" cy="137.61" r="3.2" fill="rgb(40,40,200)" fill-opacity="0.07"/>
<circle cx="49.54" cy="58.27" r="3.2" fill="rgb(40,180,40)" fill-opacity="0.07"/>
<circle cx="51.17" cy="143.18" r="3.2" fill="rgb(225,40,40)" fill-opacity="0.07"/>
<circle cx="57.58" cy="47.13" r="3.2" fill="rgb(225,40,40)" fill-opacity="0.07"/>
<circle cx="39.68" cy="86.65" r="3.2" fill="rgb(40,40,200)" fill-opacity="0.07"/>
<circle cx="48.03" cy="137.23" r="3.2" fill="rgb(110,110,110)" fill-opacity="0.07"/>
<circle cx="31.84" cy="71.45" r="3.2" fill="rgb(110,110,110)" fill-opacity="0.07"/>
<circle cx="34.81" cy="98.2" r="3.2" fill="rgb(225,40,40)" fill-opacity="0.07"/>
<circle cx="59.09" cy="173.75" r="3.2" fill="rgb(110,110,110)" fill-opacity="0.07"/>
<circle cx="47.16" cy="131.19" r="3.2" fill="rgb(225,40,40)" fill-opacity="0.07"/>
<circle cx="61.53" cy="175.49" r="3.2" fill="rgb(40,180,40)" fill-opacity="0.07"/>
<circle cx="51.28" cy="79.81" r="3.2" fill="rgb(40,40,200)" fill-opacity="0.07"/>
<circle cx="47.94" cy="90.6" r="3.2" fill="rgb(40,180,40)" fill-opacity="0.07"/>
<circle cx="52.59" cy="171.53" r="3.2" fill="rgb(40,40,200)" fill-opacity="0.07"/>
<circle cx="48.4" cy="74.57" r="3.2" fill="rgb(40,40,200)" fill-opacity="0.07"/>
<circle cx="58.54" cy="92.02" r="3.2" fill="rgb(40,40,200)" fill-opacity="0.07"/>
<circle cx="45.08" cy="58.19" r="3.2" fill="rgb(225,40,40)" fill-opacity="0.07"/>
<circle cx="46.34" cy="121.82" r="3.2" fill="rgb(40,180,40)" fill-opacity="0.07"/>
<circle cx="51.55" cy="132.46" r="3.2" fill="rgb(40,40,200)" fill-opacity="0.07"/>
<circle cx="60.69" cy="117.16" r="3.2" fill="rgb(110,110,110)" fill-opacity="0.07"/>
<circle cx="40.42" cy="99.06" r="3.2" fill="rgb(225,40,40)" fill-opacity="0.07"/>
<circle cx="54.12" cy="137.27" r="3.2" fill="rgb(40,40,200)" fill-opacity="0.07"/>
<circle cx="51.19" cy="139.85" r="3.2" fill="rgb(40,40,200)" fill-opacity="0.07"/>
<circle cx="45.87" cy="72.51" r="3.2" fill="rgb(40,180,40)" fill-opacity="0.07"/>
<circle cx="42.19" cy="146.98" r="3.2" fill="rgb(110,110,110)" fill-opacity="0.07"/>
<circle cx="47.39" cy="74.58" r="3.2" fill="rgb(40,40,200)" fill-opacity="0.07"/>
<circle cx="48.38" cy="137.47" r="3.2" fill="rgb(40,40,200)" fill-opacity="0.07"/>
<circle cx="55.77" cy="91.67" r="3.2" fill="rgb(40,180,40)" fill-opacity="0.07"/>
<circle cx="56.93" cy="116.44" r="3.2" fill="rgb(110,110,110)" fill-opacity="0.07"/>
<circle cx="52.95" cy="79.09" r="3.2" fill="rgb(110,110,110)" fill-opacity="0.07"/>
<circle cx="52.68" cy="156.47" r="3.2" fill="rgb(110,110,110)" fill-opacity="0.07"/>
<circle cx="60.56" cy="170.13" r="3.2" fill="rgb(40,180,40)" fill-opacity="0.07"/>
<circle cx="51.04" cy="193.57" r="3.2" fill="rgb(40,40,200)" fill-opacity="0.07"/>
<circle cx="59.34" cy="87.37" r="3.2" fill="rgb(40,180,40)" fill-opacity="0.07"/>
<circle cx="49.32" cy="84.94" r="3.2" fill="rgb(40,180,40)" fill-opacity="0.07"/>
<circle cx="58.21" cy="177.7" r="3.2" fill="rgb(40,40,200)" fill-opacity="0.07"/>
<circle cx="43.38" cy="103.53" r="3.2" fill="rgb(225,40,40)" fill-opacity="0.07"/>
<circle cx="56.83" cy="120.41" r="3.2" fill="rgb(110,110,110)" fill-opacity="0.07"/>
<circle cx="50.7" cy="75.94" r="3.2" fill="rgb(40,180,40)" fill-opacity="0.07"/>
<circle cx="47.06" cy="153.62" r="3.2" fill="rgb(225,40,40)" fill-opacity="0.07"/>
<circle cx="47.87" cy="92.74" r="3.2" fill="rgb(225,40,40)" fill-opacity="0.07"/>
<circle cx="34.59" cy="58.76" r="3.2" fill="rgb(225,40,40)" fill-opacity="0.07"/>
<circle cx="55.15" cy="139.18" r="3.2" fill="rgb(225,40,40)" fill-opacity="0.07"/>
<circle cx="59.46" cy="155.45" r="3.2" fill="rgb(225,40,40)" fill-opacity="0.07"/>
<circle cx="49.02" cy="180.42" r="3.2" fill="rgb(40,180,40)" fill-opacity="0.07"/>
<circle cx="46.18" cy="79.73" r="3.2" fill="rgb(40,40,200)" fill-opacity="0.07"/>
<circle cx="38.8" cy="101.72" r="3.2" fill="rgb(225,40,40)" fill-opacity="0.07"/>
<circle cx="55.95" cy="112.12" r="3.2" fill="rgb(225,40,40)" fill-opacity="0.07"/>
<circle cx="48.01" cy="98.26" r="3.2" fill="rgb(225,40,40)" fill-opacity="0.07"/>
<circle cx="51.87" cy="60.76" r="3.2" fill="rgb(40,180,40)" fill-opacity="0.07"/>
<circle cx="42.69" cy="63.61" r="3.2" fill="rgb(40,180,40)" fill-opacity="0.07"/>
<circle cx="49.65" cy="141.39" r="3.2" fill="rgb(225,40,40)" fill-opacity="0.07"/>
<circle cx="49.44" cy="86.91" r="3.2" fill="rgb(40,180,40)" fill-opacity="0.07"/>
<circle cx="49.78" cy="44.58" r="3.2" fill="rgb(225,40,40)" fill-opacity="0.07"/>
<circle cx="40.46" cy="109.92" r="3.2" fill="rgb(40,180,40)" fill-opacity="0.07"/>
<circle cx="74.93" cy="186.53" r="3.2" fill="rgb(40,40,200)" fill-opacity="0.07"/>
<circle cx="48.76" cy="72.74" r="3.2" fill="rgb(110,110,110)" fill-opacity="0.07"/>
<circle cx="53.59" cy="73.83" r="3.2" fill="rgb(40,180,40)" fill-opacity="0.07"/>
<circle cx="34.09" cy="157.47" r="3.2" fill="rgb(40,40,200)" fill-opacity="0.07"/>
<circle cx="46.69" cy="143.1" r="3.2" fill="rgb(40,40,200)" fill-opacity="0.07"/>
<circle cx="47.57" cy="128.22" r="3.2" fill="rgb(40,40,200)" fill-opacity="0.07"/>
<circle cx="52.9" cy="129.45" r="3.2" fill="rgb(225,40,40)" fill-opacity="0.07"/>
<circle cx="44.71" cy="123.27" r="3.2" fill="rgb(225,40,40)" fill-opacity="0.07"/>
<circle cx="45.11" cy="96.36" r="3.2" fill="rgb(40,180,40)" fill-opacity="0.07"/>
<circle cx="54.23" cy="83.09" r="3.2" fill="rgb(40,40,200)" fill-opacity="0.07"/>
<circle cx="46.59" cy="87.79" r="3.2" fill="rgb(40,40,200)" fill-opacity="0.07"/>
<circle cx="47.43" cy="167.76" r="3.2" fill="rgb(40,40,200)" fill-opacity="0.07"/>
<circle cx="68.29" cy="107.2" r="3.2" fill="rgb(225,40,40)" fill-opacity="0.07"/>
<circle cx="63.73" cy="148.23" r="3.2" fill="rgb(40,180,40)" fill-opacity="0.07"/>
<circle cx="52.24" cy="138.49" r="3.2" fill="rgb(225,40,40)" fill-opacity="0.07"/>
<circle cx="53.61" cy="177.6" r="3.2" fill="rgb(225,40,40)" fill-opacity="0.07"/>
<circle cx="47" cy="85.32" r="3.2" fill="rgb(40,180,40)" fill-opacity="0.07"/>
<circle cx="47.92" cy="128.43" r="3.2" fill="rgb(40,40,200)" fill-opacity="0.07"/>
<circle cx="56.55" cy="141.26" r="3.2" fill="rgb(40,180,40)" fill-opacity="0.07"/>
<circle cx="56.33" cy="84.46" r="3.2" fill="rgb(40,40,200)" fill-opacity="0.07"/>
<circle cx="52.32" cy="159.17" r="3.2" fill="rgb(40,180,40)" fill-opacity="0.07"/>
<circle cx="44.97" cy="53.12" r="3.2" fill="rgb(225,40,40)" fill-opacity="0.07"/>
<circle cx="47.53" cy="134.79" r="3.2" fill="rgb(225,40,40)" fill-opacity="0.07"/>
<circle cx="59.5" cy="123.56" r="3.2" fill="rgb(40,40,200)" fill-opacity="0.07"/>
<circle cx="35.87" cy="68.33" r="3.2" fill="rgb(40,180,40)" fill-opacity="0.07"/>
<circle cx="54.16" cy="152.18" r="3.2" fill="rgb(225,40,40)" fill-opacity="0.07"/>
<circle cx="37.34" cy="145.06" r="3.2" fill="rgb(225,40,40)" fill-opacity="0.07"/>
<circle cx="54.28" cy="48.02" r="3.2" fill="rgb(110,110,110)" fill-opacity="0.04"/>
<circle cx="55.45" cy="49.55" r="3.2" fill="rgb(110,110,110)" fill-opacity="0.04"/>
<circle cx="59.72" cy="53.19" r="3.2" fill="rgb(110,110,110)" fill-opacity="0.04"/>
<circle cx="53.21" cy="50.59" r="3.2" fill="rgb(110,110,110)" fill-opacity="0.04"/>
<circle cx="61.82" cy="66.18" r="3.2" fill="rgb(110,110,110)" fill-opacity="0.04"/>
<circle cx="63.73" cy="63.3" r="3.2" fill="rgb(110,110,110)" fill-opacity="0.04"/>
<circle cx="34.32" cy="44.62" r="3.2" fill="rgb(110,110,110)" fill-opacity="0.04"/>
<circle cx="55.21" cy="57.91" r="3.2" fill="rgb(110,110,110)" fill-opacity="0.04"/>
<circle cx="46.09" cy="71.29" r="3.2" fill="rgb(110,110,110)" fill-opacity="0.04"/>
<circle cx="59.54" cy="48.82" r="3.2" fill="rgb(110,110,110)" fill-opacity="0.04"/>
<circle cx="58.56" cy="51.84" r="3.2" fill="rgb(110,110,110)" fill-opacity="0.04"/>
<circle cx="52.1" cy="61.22" r="3.2" fill="rgb(110,110,110)" fill-opacity="0.04"/>
<circle cx="54.24" cy="40.13" r="3.2" fill="rgb(110,110,110)" fill-opacity="0.04"/>
<circle cx="52.98" cy="54.4" r="3.2" fill="rgb(110,110,110)" fill-opacity="0.04"/>
<circle cx="49.87" cy="69.54" r="3.2" fill="rgb(110,110,110)" fill-opacity="0.04"/>
<circle cx="49.8" cy="75" r="3.2" fill="rgb(110,110,110)" fill-opacity="0.04"/>
<circle cx="63.69" cy="45.32" r="3.2" fill="rgb(110,110,110)" fill-opacity="0.04"/>
<circle cx="58.34" cy="68.69" r="3.2" fill="rgb(110,110,110)" fill-opacity="0.04"/>
<circle cx="56.1" cy="42.57" r="3.2" fill="rgb(110,110,110)" fill-opacity="0.04"/>
<circle cx="58.23" cy="77.59" r="3.2" fill="rgb(110,110,110)" fill-opacity="0.04"/>
<circle cx="47.02" cy="61.81" r="3.2" fill="rgb(110,110,110)" fill-opacity="0.04"/>
<circle cx="57.52" cy="54.42" r="3.2" fill="rgb(110,110,110)" fill-opacity="0.04"/>
<circle cx="54.73" cy="52.21" r="3.2" fill="rgb(110,110,110)" fill-opacity="0.04"/>
<circle cx="64.73" cy="62.3" r="3.2" fill="rgb(110,110,110)" fill-opacity="0.04"/>
<circle cx="50.49" cy="72.89" r="3.2" fill="rgb(110,110,110)" fill-opacity="0.04"/>
<circle cx="48.39" cy="63.04" r="3.2" fill="rgb(110,110,110)" fill-opacity="0.04"/>
<circle cx="58.77" cy="68.94" r="3.2" fill="rgb(110,110,110)" fill-opacity="0.04"/>
<circle cx="59.98" cy="67.38" r="3.2" fill="rgb(110,110,110)" fill-opacity="0.04"/>
<circle cx="57.32" cy="66.47" r="3.2" fill="rgb(110,110,110)" fill-opacity="0.04"/>
<circle cx="59.9" cy="79.42" r="3.2" fill="rgb(110,110,110)" fill-opacity="0.04"/>
<circle cx="52.63" cy="68.92" r="3.2" fill="rgb(110,110,110)" fill-opacity="0.04"/>
<circle cx="60.75" cy="57.73" r="3.2" fill="rgb(110,110,110)" fill-opacity="0.04"/>
<circle cx="53.54" cy="60.71" r="3.2" fill="rgb(110,110,110)" fill-opacity="0.04"/>
<circle cx="47.19" cy="40.74" r="3.2" fill="rgb(110,110,110)" fill-opacity="0.04"/>
<circle cx="62.49" cy="38.7" r="3.2" fill="rgb(110,110,110)" fill-opacity="0.04"/>
<circle cx="67.57" cy="52.79" r="3.2" fill="rgb(110,110,110)" fill-opacity="0.04"/>
<circle cx="59.26" cy="56.64" r="3.2" fill="rgb(110,110,110)" fill-opacity="0.04"/>
<circle cx="60.46" cy="52.75" r="3.2" fill="rgb(110,110,110)" fill-opacity="0.04"/>
<circle cx="54.95" cy="54.44" r="3.2" fill="rgb(110,110,110)" fill-opacity="0.04"/>
<circle cx="64.87" cy="68.29" r="3.2" fill="rgb(110,110,110)" fill-opacity="0.04"/>
<circle cx="66.44" cy="59.85" r="3.2" fill="rgb(110,110,110)" fill-opacity="0.04"/>
<circle cx="56.12" cy="37.35" r="3.2" fill="rgb(110,110,110)" fill-opacity="0.04"/>
<circle cx="62.03" cy="65.08" r="3.2" fill="rgb(110,110,110)" fill-opacity="0.04"/>
<circle cx="54.71" cy="64.71" r="3.2" fill="rgb(110,110,110)" fill-opacity="0.04"/>
<circle cx="66.56" cy="56.88" r="3.2" fill="rgb(110,110,110)" fill-opacity="0.04"/>
<circle cx="64.93" cy="59.22" r="3.2" fill="rgb(110,110,110)" fill-opacity="0.04"/>
<circle cx="45.39" cy="50.64" r="3.2" fill="rgb(110,110,110)" fill-opacity="0.04"/>
<circle cx="54.67" cy="61.67" r="3.2" fill="rgb(110,110,110)" fill-opacity="0.04"/>
<circle cx="51.49" cy="51.02" r="3.2" fill="rgb(110,110,110)" fill-opacity="0.04"/>
<circle cx="50.8" cy="55.42" r="3.2" fill="rgb(110,110,110)" fill-opacity="0.04"/>
<circle cx="58.03" cy="66.57" r="3.2" fill="rgb(110,110,110)" fill-opacity="0.04"/>
<circle cx="63.12" cy="57.66" r="3.2" fill="rgb(110,110,110)" fill-opacity="0.04"/>
<circle cx="59.23" cy="57.04" r="3.2" fill="rgb(110,110,110)" fill-opacity="0.04"/>
<circle cx="58.33" cy="72.86" r="3.2" fill="rgb(110,110,110)" fill-opacity="0.04"/>
<circle cx="40.14" cy="53.92" r="3.2" fill="rgb(110,110,110)" fill-opacity="0.04"/>
<circle cx="59.73" cy="68.28" r="3.2" fill="rgb(110,110,110)" fill-opacity="0.04"/>
<circle cx="49.88" cy="59.66" r="3.2" fill="rgb(110,110,110)" fill-opacity="0.04"/>
<circle cx="63.57" cy="50.95" r="3.2" fill="rgb(110,110,110)" fill-opacity="0.04"/>
<circle cx="44.18" cy="51.89" r="3.2" fill="rgb(110,110,110)" fill-opacity="0.04"/>
<circle cx="49.13" cy="63.01" r="3.2" fill="rgb(110,110,110)" fill-opacity="0.04"/>
<circle cx="51.58" cy="75.43" r="3.2" fill="rgb(110,110,110)" fill-opacity="0.04"/>
<circle cx="58.53" cy="46.99" r="3.2" fill="rgb(110,110,110)" fill-opacity="0.04"/>
<circle cx="54.01" cy="43.83" r="3.2" fill="rgb(110,110,110)" fill-opacity="0.04"/>
<circle cx="60.27" cy="72.25" r="3.2" fill="rgb(110,110,110)" fill-opacity="0.04"/>
<circle cx="56.03" cy="66.02" r="3.2" fill="rgb(110,110,110)" fill-opacity="0.04"/>
<circle cx="50.94" cy="59.24" r="3.2" fill="rgb(110,110,110)" fill-opacity="0.04"/>
<circle cx="73.67" cy="40.39" r="3.2" fill="rgb(110,110,110)" fill-opacity="0.04"/>
<circle cx="66.17" cy="68.76" r="3.2" fill="rgb(110,110,110)" fill-opacity="0.04"/>
<circle cx="44.38" cy="40.07" r="3.2" fill="rgb(110,110,110)" fill-opacity="0.04"/>
<circle cx="50.71" cy="66.5" r="3.2" fill="rgb(110,110,110)" fill-opacity="0.04"/>
<circle cx="54.54" cy="54" r="3.2" fill="rgb(110,110,110)" fill-opacity="0.04"/>
<circle cx="62.49" cy="57.14" r="3.2" fill="rgb(110,110,110)" fill-opacity="0.04"/>
<circle cx="59.12" cy="52.31" r="3.2" fill="rgb(110,110,110)" fill-opacity="0.04"/>
<circle cx="65.4" cy="47.28" r="3.2" fill="rgb(110,110,110)" fill-opacity="0.04"/>
<circle cx="69.26" cy="52.12" r="3.2" fill="rgb(110,110,110)" fill-opacity="0.04"/>
<circle cx="51.95" cy="62.95" r="3.2" fill="rgb(110,110,110)" fill-opacity="0.04"/>
<circle cx="60.69" cy="34.05" r="3.2" fill="rgb(110,110,110)" fill-opacity="0.04"/>
<circle cx="59.08" cy="40.98" r="3.2" fill="rgb(110,110,110)" fill-opacity="0.04"/>
<circle cx="51.72" cy="64.48" r="3.2" fill="rgb(110,110,110)" fill-opacity="0.04"/>
<circle cx="51.48" cy="59.72" r="3.2" fill="rgb(110,110,110)" fill-opacity="0.04"/>
<circle cx="54.86" cy="77.07" r="3.2" fill="rgb(110,110,110)" fill-opacity="0.04"/>
<circle cx="56.84" cy="42.88" r="3.2" fill="rgb(110,110,110)" fill-opacity="0.04"/>
<circle cx="49.77" cy="45.83" r="3.2" fill="rgb(110,110,110)" fill-opacity="0.04"/>
<circle cx="58.39" cy="55.74" r="3.2" fill="rgb(110,110,110)" fill-opacity="0.04"/>
<circle cx="64.28" cy="57.6" r="3.2" fill="rgb(110,110,110)" fill-opacity="0.04"/>
<circle cx="58.38" cy="59.32" r="3.2" fill="rgb(110,110,110)" fill-opacity="0.04"/>
<circle cx="56.57" cy="58.96" r="3.2" fill="rgb(110,110,110)" fill-opacity="0.04"/>
<circle cx="62.95" cy="64.35" r="3.2" fill="rgb(110,110,110)" fill-opacity="0.04"/>
<circle cx="53.65" cy="36.28" r="3.2" fill="rgb(110,110,110)" fill-opacity="0.04"/>
<circle cx="51.8" cy="58.82" r="3.2" fill="rgb(110,110,110)" fill-opacity="0.04"/>
<circle cx="40.03" cy="50.48" r="3.2" fill="rgb(110,110,110)" fill-opacity="0.04"/>
<circle cx="60.59" cy="49.5" r="3.2" fill="rgb(110,110,110)" fill-opacity="0.04"/>
<circle cx="49.61" cy="74.98" r="3.2" fill="rgb(110,110,110)" fill-opacity="0.04"/>
<circle cx="67.13" cy="52.84" r="3.2" fill="rgb(110,110,110)" fill-opacity="0.04"/>
<circle cx="66.69" cy="69.95" r="3.2" fill="rgb(110,110,110)" fill-opacity="0.04"/>
<circle cx="49.51" cy="85.14" r="3.2" fill="rgb(110,110,110)" fill-opacity="0.04"/>
<circle cx="50.86" cy="52.76" r="3.2" fill="rgb(110,110,110)" fill-opacity="0.04"/>
<circle cx="49.74" cy="56.49" r="3.2" fill="rgb(110,110,110)" fill-opacity="0.04"/>
<circle cx="48.2" cy="55.55" r="3.2" fill="rgb(110,110,110)" fill-opacity="0.04"/>
<circle cx="64.97" cy="57.97" r="3.2" fill="rgb(110,110,110)" fill-opacity="0.04"/>
<circle cx="55.54" cy="72.61" r="3.2" fill="rgb(110,110,110)" fill-opacity="0.04"/>
<circle cx="51.11" cy="66.25" r="3.2" fill="rgb(110,110,110)" fill-opacity="0.04"/>
<circle cx="55.26" cy="57.96" r="3.2" fill="rgb(110,110,110)" fill-opacity="0.04"/>
<circle cx="57.59" cy="56.98" r="3.2" fill="rgb(110,110,110)" fill-opacity="0.04"/>
<circle cx="56.99" cy="46.96" r="3.2" fill="rgb(110,110,110)" fill-opacity="0.04"/>
<circle cx="53.38" cy="60.41" r="3.2" fill="rgb(110,110,110)" fill-opacity="0.04"/>
<circle cx="56.59" cy="42.74" r="3.2" fill="rgb(110,110,110)" fill-opacity="0.04"/>
<circle cx="52.4" cy="47.9" r="3.2" fill="rgb(110,110,110)" fill-opacity="0.04"/>
<circle cx="56.94" cy="57.47" r="3.2" fill="rgb(110,110,110)" fill-opacity="0.04"/>
<circle cx="57.95" cy="48.3" r="3.2" fill="rgb(110,110,110)" fill-opacity="0.04"/>
<circle cx="57.43" cy="40.42" r="3.2" fill="rgb(110,110,110)" fill-opacity="0.04"/>
<circle cx="37.11" cy="54.85" r="3.2" fill="rgb(110,110,110)" fill-opacity="0.04"/>
<circle cx="45.71" cy="45.02" r="3.2" fill="rgb(110,110,110)" fill-opacity="0.04"/>
<circle cx="48.83" cy="62.33" r="3.2" fill="rgb(110,110,110)" fill-opacity="0.04"/>
<circle cx="48.79" cy="58.42" r="3.2" fill="rgb(110,110,110)" fill-opacity="0.04"/>
<circle cx="53.82" cy="41.76" r="3.2" fill="rgb(110,110,110)" fill-opacity="0.04"/>
<circle cx="46.2" cy="60.41" r="3.2" fill="rgb(110,110,110)" fill-opacity="0.04"/>
<circle cx="59.91" cy="63.82" r="3.2" fill="rgb(110,110,110)" fill-opacity="0.04"/>
<circle cx="70.01" cy="58.28" r="3.2" fill="rgb(110,110,110)" fill-opacity="0.04"/>
<circle cx="59.14" cy="53.91" r="3.2" fill="rgb(110,110,110)" fill-opacity="0.04"/>
<circle cx="57.9" cy="51.39" r="3.2" fill="rgb(110,110,110)" fill-opacity="0.04"/>
<circle cx="50.89" cy="77.15" r="3.2" fill="rgb(110,110,110)" fill-opacity="0.04"/>
<circle cx="44.1" cy="57.99" r="3.2" fill="rgb(110,110,110)" fill-opacity="0.04"/>
<circle cx="60.22" cy="56.83" r="3.2" fill="rgb(110,110,110)" fill-opacity="0.04"/>
<circle cx="50.38" cy="53.05" r="3.2" fill="rgb(110,110,110)" fill-opacity="0.04"/>
<circle cx="53.86" cy="43.32" r="3.2" fill="rgb(110,110,110)" fill-opacity="0.04"/>
<circle cx="56.75" cy="50.63" r="3.2" fill="rgb(110,110,110)" fill-opacity="0.04"/>
<circle cx="53.2" cy="62.6" r="3.2" fill="rgb(110,110,110)" fill-opacity="0.04"/>
<circle cx="49.63" cy="59.9" r="3.2" fill="rgb(110,110,110)" fill-opacity="0.04"/>
<circle cx="52.76" cy="59.73" r="3.2" fill="rgb(110,110,110)" fill-opacity="0.04"/>
<circle cx="57.5" cy="57.67" r="3.2" fill="rgb(110,110,110)" fill-opacity="0.04"/>
<circle cx="50.15" cy="46.48" r="3.2" fill="rgb(110,110,110)" fill-opacity="0.04"/>
<circle cx="51.01" cy="56.89" r="3.2" fill="rgb(110,110,110)" fill-opacity="0.04"/>
<circle cx="62.21" cy="66.82" r="3.2" fill="rgb(110,110,110)" fill-opacity="0.04"/>
<circle cx="53.47" cy="55.89" r="3.2" fill="rgb(110,110,110)" fill-opacity="0.04"/>
<circle cx="45.66" cy="30.58" r="3.2" fill="rgb(110,110,110)" fill-opacity="0.04"/>
<circle cx="50.9" cy="47.61" r="3.2" fill="rgb(110,110,110)" fill-opacity="0.04"/>
<circle cx="46.09" cy="35.38" r="3.2" fill="rgb(110,110,110)" fill-opacity="0.04"/>
<circle cx="60.66" cy="46.07" r="3.2" fill="rgb(110,110,110)" fill-opacity="0.04"/>
<circle cx="45.18" cy="80.35" r="3.2" fill="rgb(110,110,110)" fill-opacity="0.04"/>
<circle cx="58.11" cy="51.36" r="3.2" fill="rgb(110,110,110)" fill-opacity="0.04"/>
<circle cx="61.63" cy="46.49" r="3.2" fill="rgb(110,110,110)" fill-opacity="0.04"/>
<circle cx="67.97" cy="37.92" r="3.2" fill="rgb(110,110,110)" fill-opacity="0.04"/>
<circle cx="47.75" cy="53.28" r="3.2" fill="rgb(110,110,110)" fill-opacity="0.04"/>
<circle cx="51.52" cy="70.24" r="3.2" fill="rgb(110,110,110)" fill-opacity="0.04"/>
<circle cx="45.66" cy="46.73" r="3.2" fill="rgb(110,110,110)" fill-opacity="0.04"/>
<circle cx="58.49" cy="60.89" r="3.2" fill="rgb(110,110,110)" fill-opacity="0.04"/>
<circle cx="63.81" cy="58.47" r="3.2" fill="rgb(110,110,110)" fill-opacity="0.04"/>
<circle cx="72.19" cy="49.49" r="3.2" fill="rgb(110,110,110)" fill-opacity="0.04"/>
<circle cx="58.02" cy="64.06" r="3.2" fill="rgb(110,110,110)" fill-opacity="0.04"/>
<circle cx="54.58" cy="51.44" r="3.2" fill="rgb(110,110,110)" fill-opacity="0.04"/>
<circle cx="53.53" cy="47.57" r="3.2" fill="rgb(110,110,110)" fill-opacity="0.04"/>
<circle cx="48.88" cy="48.53" r="3.2" fill="rgb(110,110,110)" fill-opacity="0.04"/>
<circle cx="45.94" cy="58.76" r="3.2" fill="rgb(110,110,110)" fill-opacity="0.04"/>
<circle cx="45.63" cy="77.21" r="3.2" fill="rgb(110,110,110)" fill-opacity="0.04"/>
<circle cx="68.58" cy="66.68" r="3.2" fill="rgb(110,110,110)" fill-opacity="0.04"/>
<circle cx="55.24" cy="48.11" r="3.2" fill="rgb(110,110,110)" fill-opacity="0.04"/>
<circle cx="65.25" cy="56.52" r="3.2" fill="rgb(110,110,110)" fill-opacity="0.04"/>
<circle cx="60.6" cy="46.63" r="3.2" fill="rgb(110,110,110)" fill-opacity="0.04"/>
<circle cx="64.13" cy="45.74" r="3.2" fill="rgb(110,110,110)" fill-opacity="0.04"/>
<circle cx="57.43" cy="35.53" r="3.2" fill="rgb(110,110,110)" fill-opacity="0.04"/>
<circle cx="52.11" cy="59.98" r="3.2" fill="rgb(110,110,110)" fill-opacity="0.04"/>
<circle cx="53.53" cy="49.58" r="3.2" fill="rgb(110,110,110)" fill-opacity="0.04"/>
<circle cx="62.16" cy="53.66" r="3.2" fill="rgb(110,110,110)" fill-opacity="0.04"/>
<circle cx="65.32" cy="27.98" r="3.2" fill="rgb(110,110,110)" fill-opacity="0.04"/>
<circle cx="60.62" cy="60.01" r="3.2" fill="rgb(110,110,110)" fill-opacity="0.04"/>
<circle cx="45.88" cy="40.22" r="3.2" fill="rgb(110,110,110)" fill-opacity="0.04"/>
<circle cx="62.77" cy="42.75" r="3.2" fill="rgb(110,110,110)" fill-opacity="0.04"/>
<circle cx="52.2" cy="60.99" r="3.2" fill="rgb(110,110,110)" fill-opacity="0.04"/>
<circle cx="54.32" cy="59.65" r="3.2" fill="rgb(110,110,110)" fill-opacity="0.04"/>
<circle cx="50.58" cy="57.68" r="3.2" fill="rgb(110,110,110)" fill-opacity="0.04"/>
<circle cx="64.18" cy="57.98" r="3.2" fill="rgb(110,110,110)" fill-opacity="0.04"/>
<circle cx="41.33" cy="61.55" r="3.2" fill="rgb(110,110,110)" fill-opacity="0.04"/>
<circle cx="57.04" cy="44.49" r="3.2" fill="rgb(110,110,110)" fill-opacity="0.04"/>
<circle cx="66.34" cy="35.32" r="3.2" fill="rgb(110,110,110)" fill-opacity="0.04"/>
<circle cx="69.69" cy="47.48" r="3.2" fill="rgb(110,110,110)" fill-opacity="0.04"/>
<circle cx="67.6" cy="53.92" r="3.2" fill="rgb(110,110,110)" fill-opacity="0.04"/>
<circle cx="47.35" cy="55.45" r="3.2" fill="rgb(110,110,110)" fill-opacity="0.04"/>
<circle cx="58.94" cy="60.34" r="3.2" fill="rgb(110,110,110)" fill-opacity="0.04"/>
<circle cx="64.02" cy="44.58" r="3.2" fill="rgb(110,110,110)" fill-opacity="0.04"/>
<circle cx="60.05" cy="62.48" r="3.2" fill="rgb(110,110,110)" fill-opacity="0.04"/>
<circle cx="54.73" cy="44.15" r="3.2" fill="rgb(110,110,110)" fill-opacity="0.04"/>
<circle cx="49.96" cy="62.61" r="3.2" fill="rgb(110,110,110)" fill-opacity="0.04"/>
<circle cx="62.19" cy="45.32" r="3.2" fill="rgb(110,110,110)" fill-opacity="0.04"/>
<circle cx="47.29" cy="67.97" r="3.2" fill="rgb(110,110,110)" fill-opacity="0.04"/>
<circle cx="45.79" cy="56.14" r="3.2" fill="rgb(110,110,110)" fill-opacity="0.04"/>
<circle cx="51" cy="35.17" r="3.2" fill="rgb(110,110,110)" fill-opacity="0.04"/>
<circle cx="57.48" cy="52.31" r="3.2" fill="rgb(110,110,110)" fill-opacity="0.04"/>
<circle cx="66.64" cy="79.27" r="3.2" fill="rgb(110,110,110)" fill-opacity="0.04"/>
<circle cx="55.3" cy="65.62" r="3.2" fill="rgb(110,110,110)" fill-opacity="0.04"/>
<circle cx="63.89" cy="48.66" r="3.2" fill="rgb(110,110,110)" fill-opacity="0.04"/>
<circle cx="50.57" cy="72.02" r="3.2" fill="rgb(110,110,110)" fill-opacity="0.04"/>
<circle cx="54.06" cy="54.1" r="3.2" fill="rgb(110,110,110)" fill-opacity="0.04"/>
<circle cx="54.58" cy="52.93" r="3.2" fill="rgb(110,110,110)" fill-opacity="0.04"/>
<circle cx="52.4" cy="62.58" r="3.2" fill="rgb(110,110,110)" fill-opacity="0.04"/>
<circle cx="65.36" cy="50.3" r="3.2" fill="rgb(110,110,110)" fill-opacity="0.04"/>
<circle cx="46.99" cy="54.94" r="3.2" fill="rgb(110,110,110)" fill-opacity="0.04"/>
<circle cx="46.25" cy="47.38" r="3.2" fill="rgb(110,110,110)" fill-opacity="0.04"/>
<circle cx="65.18" cy="79.79" r="3.2" fill="rgb(110,110,110)" fill-opacity="0.04"/>
<circle cx="59.23" cy="42.72" r="3.2" fill="rgb(110,110,110)" fill-opacity="0.04"/>
<circle cx="62.04" cy="29.79" r="3.2" fill="rgb(110,110,110)" fill-opacity="0.04"/>
<circle cx="51.77" cy="71.06" r="3.2" fill="rgb(110,110,110)" fill-opacity="0.04"/>
<circle cx="61.8" cy="39.27" r="3.2" fill="rgb(110,110,110)" fill-opacity="0.04"/>
<circle cx="45.02" cy="63.74" r="3.2" fill="rgb(110,110,110)" fill-opacity="0.04"/>
<circle cx="56.28" cy="47.89" r="3.2" fill="rgb(110,110,110)" fill-opacity="0.04"/>
<circle cx="59.48" cy="48.1" r="3.2" fill="rgb(110,110,110)" fill-opacity="0.04"/>
<circle cx="43.22" cy="63.23" r="3.2" fill="rgb(110,110,110)" fill-opacity="0.04"/>
<circle cx="52.09" cy="43.4" r="3.2" fill="rgb(110,110,110)" fill-opacity="0.04"/>
<circle cx="47.32" cy="57.12" r="3.2" fill="rgb(110,110,110)" fill-opacity="0.04"/>
<circle cx="51" cy="61.22" r="3.2" fill="rgb(110,110,110)" fill-opacity="0.04"/>
<circle cx="54.75" cy="66.21" r="3.2" fill="rgb(110,110,110)" fill-opacity="0.04"/>
<circle cx="53.92" cy="47.23" r="3.2" fill="rgb(110,110,110)" fill-opacity="0.04"/>
<circle cx="42.89" cy="42.36" r="3.2" fill="rgb(110,110,110)" fill-opacity="0.04"/>
<circle cx="61.63" cy="87.83" r="3.2" fill="rgb(110,110,110)" fill-opacity="0.04"/>
<circle cx="47.89" cy="43.03" r="3.2" fill="rgb(110,110,110)" fill-opacity="0.04"/>
<circle cx="58.96" cy="59.61" r="3.2" fill="rgb(110,110,110)" fill-opacity="0.04"/>
<circle cx="51.9" cy="55.25" r="3.2" fill="rgb(110,110,110)" fill-opacity="0.04"/>
<circle cx="45.41" cy="51.13" r="3.2" fill="rgb(110,110,110)" fill-opacity="0.04"/>
<circle cx="62.89" cy="72.28" r="3.2" fill="rgb(110,110,110)" fill-opacity="0.04"/>
<circle cx="55.45" cy="51.56" r="3.2" fill="rgb(110,110,110)" fill-opacity="0.04"/>
<circle cx="59.77" cy="66.51" r="3.2" fill="rgb(110,110,110)" fill-opacity="0.04"/>
<circle cx="60.01" cy="46.18" r="3.2" fill="rgb(110,110,110)" fill-opacity="0.04"/>
<circle cx="59.1" cy="64.99" r="3.2" fill="rgb(110,110,110)" fill-opacity="0.04"/>
<circle cx="51.65" cy="39.78" r="3.2" fill="rgb(110,110,110)" fill-opacity="0.04"/>
<circle cx="60.17" cy="58.41" r="3.2" fill="rgb(110,110,110)" fill-opacity="0.04"/>
<circle cx="63.35" cy="55.38" r="3.2" fill="rgb(110,110,110)" fill-opacity="0.04"/>
<circle cx="52.14" cy="49.63" r="3.2" fill="rgb(110,110,110)" fill-opacity="0.04"/>
<circle cx="49.46" cy="44.05" r="3.2" fill="rgb(110,110,110)" fill-opacity="0.04"/>
<circle cx="52.72" cy="49.13" r="3.2" fill="rgb(110,110,110)" fill-opacity="0.04"/>
<circle cx="64.39" cy="41" r="3.2" fill="rgb(110,110,110)" fill-opacity="0.04"/>
<circle cx="56.3" cy="47.98" r="3.2" fill="rgb(110,110,110)" fill-opacity="0.04"/>
<circle cx="67" cy="57.31" r="3.2" fill="rgb(110,110,110)" fill-opacity="0.04"/>
<circle cx="54.04" cy="63.36" r="3.2" fill="rgb(110,110,110)" fill-opacity="0.04"/>
<circle cx="57.11" cy="49.24" r="3.2" fill="rgb(110,110,110)" fill-opacity="0.04"/>
<circle cx="67.34" cy="62.23" r="3.2" fill="rgb(110,110,110)" fill-opacity="0.04"/>
<circle cx="68.7" cy="67.12" r="3.2" fill="rgb(110,110,110)" fill-opacity="0.04"/>
<circle cx="62.06" cy="55.92" r="3.2" fill="rgb(110,110,110)" fill-opacity="0.04"/>
<circle cx="49.12" cy="62.24" r="3.2" fill="rgb(110,110,110)" fill-opacity="0.04"/>
<circle cx="57.18" cy="61.88" r="3.2" fill="rgb(110,110,110)" fill-opacity="0.04"/>
<circle cx="56.62" cy="46.95" r="3.2" fill="rgb(110,110,110)" fill-opacity="0.04"/>
<circle cx="133.81" cy="82.79" r="3.2" fill="rgb(40,40,200)" fill-opacity="0.05"/>
<circle cx="114.84" cy="121.98" r="3.2" fill="rgb(225,40,40)" fill-opacity="0.05"/>
<circle cx="101.22" cy="85.12" r="3.2" fill="rgb(40,180,40)" fill-opacity="0.05"/>
<circle cx="114.49" cy="144.46" r="3.2" fill="rgb(225,40,40)" fill-opacity="0.05"/>
<circle cx="110.27" cy="104.79" r="3.2" fill="rgb(40,180,40)" fill-opacity="0.05"/>
<circle cx="121.33" cy="142.61" r="3.2" fill="rgb(40,180,40)" fill-opacity="0.05"/>
<circle cx="123.8" cy="96.16" r="3.2" fill="rgb(40,180,40)" fill-opacity="0.05"/>
<circle cx="127" cy="136.15" r="3.2" fill="rgb(225,40,40)" fill-opacity="0.05"/>
<circle cx="107.61" cy="152.12" r="3.2" fill="rgb(40,180,40)" fill-opacity="0.05"/>
<circle cx="127.69" cy="110.93" r="3.2" fill="rgb(110,110,110)" fill-opacity="0.05"/>
<circle cx="104.56" cy="161.69" r="3.2" fill="rgb(110,110,110)" fill-opacity="0.05"/>
<circle cx="123.23" cy="154.02" r="3.2" fill="rgb(225,40,40)" fill-opacity="0.05"/>
<circle cx="113.92" cy="96.31" r="3.2" fill="rgb(110,110,110)" fill-opacity="0.05"/>
<circle cx="122.28" cy="152.36" r="3.2" fill="rgb(40,180,40)" fill-opacity="0.05"/>
<circle cx="112.1" cy="166.85" r="3.2" fill="rgb(40,40,200)" fill-opacity="0.05"/>
<circle cx="114.54" cy="76.59" r="3.2" fill="rgb(225,40,40)" fill-opacity="0.05"/>
<circle cx="134.34" cy="121.47" r="3.2" fill="rgb(110,110,110)" fill-opacity="0.05"/>
<circle cx="115.69" cy="149.02" r="3.2" fill="rgb(40,40,200)" fill-opacity="0.05"/>
<circle cx="121.4" cy="179.75" r="3.2" fill="rgb(225,40,40)" fill-opacity="0.05"/>
<circle cx="113.44" cy="136.25" r="3.2" fill="rgb(40,180,40)" fill-opacity="0.05"/>
<circle cx="123.29" cy="114.72" r="3.2" fill="rgb(40,40,200)" fill-opacity="0.05"/>
<circle cx="99.74" cy="140.53" r="3.2" fill="rgb(40,180,40)" fill-opacity="0.05"/>
<circle cx="113.53" cy="127.55" r="3.2" fill="rgb(40,40,200)" fill-opacity="0.05"/>
<circle cx="113.97" cy="165.51" r="3.2" fill="rgb(225,40,40)" fill-opacity="0.05"/>
<circle cx="118.84" cy="177.74" r="3.2" fill="rgb(40,180,40)" fill-opacity="0.05"/>
<circle cx="111.68" cy="169.34" r="3.2" fill="rgb(40,40,200)" fill-opacity="0.05"/>
<circle cx="120.63" cy="143.88" r="3.2" fill="rgb(225,40,40)" fill-opacity="0.05"/>
<circle cx="110.58" cy="90.32" r="3.2" fill="rgb(225,40,40)" fill-opacity="0.05"/>
<circle cx="126.51" cy="143.27" r="3.2" fill="rgb(40,180,40)" fill-opacity="0.05"/>
<circle cx="97.64" cy="71.66" r="3.2" fill="rgb(110,110,110)" fill-opacity="0.05"/>
<circle cx="138.05" cy="182.79" r="3.2" fill="rgb(225,40,40)" fill-opacity="0.05"/>
<circle cx="117.03" cy="146.11" r="3.2" fill="rgb(40,180,40)" fill-opacity="0.05"/>
<circle cx="140.62" cy="60.41" r="3.2" fill="rgb(40,40,200)" fill-opacity="0.05"/>
<circle cx="105.09" cy="130.34" r="3.2" fill="rgb(225,40,40)" fill-opacity="0.05"/>
<circle cx="113.73" cy="148.63" r="3.2" fill="rgb(225,40,40)" fill-opacity="0.05"/>
<circle cx="118.89" cy="127.13" r="3.2" fill="rgb(225,40,40)" fill-opacity="0.05"/>
<circle cx="125.49" cy="158.41" r="3.2" fill="rgb(40,40,200)" fill-opacity="0.05"/>
<circle cx="103.59" cy="132.37" r="3.2" fill="rgb(40,180,40)" fill-opacity="0.05"/>
<circle cx="116.9" cy="128.71" r="3.2" fill="rgb(40,40,200)" fill-opacity="0.05"/>
<circle cx="120.3" cy="132.66" r="3.2" fill="rgb(40,40,200)" fill-opacity="0.05"/>
<circle cx="107.73" cy="130.14" r="3.2" fill="rgb(110,110,110)" fill-opacity="0.05"/>
<circle cx="98.99" cy="151.95" r="3.2" fill="rgb(40,40,200)" fill-opacity="0.05"/>
<circle cx="119.57" cy="132.68" r="3.2" fill="rgb(40,180,40)" fill-opacity="0.05"/>
<circle cx="126.91" cy="157.32" r="3.2" fill="rgb(110,110,110)" fill-opacity="0.05"/>
<circle cx="125.11" cy="73.12" r="3.2" fill="rgb(40,180,40)" fill-opacity="0.05"/>
<circle cx="108.81" cy="149.63" r="3.2" fill="rgb(40,180,40)" fill-opacity="0.05"/>
<circle cx="131.87" cy="162.92" r="3.2" fill="rgb(40,40,200)" fill-opacity="0.05"/>
<circle cx="134.15" cy="182.29" r="3.2" fill="rgb(225,40,40)" fill-opacity="0.05"/>
<circle cx="120.16" cy="171.68" r="3.2" fill="rgb(40,40,200)" fill-opacity="0.05"/>
<circle cx="139.85" cy="158.11" r="3.2" fill="rgb(40,40,200)" fill-opacity="0.05"/>
<circle cx="110.31" cy="183.34" r="3.2" fill="rgb(225,40,40)" fill-opacity="0.05"/>
<circle cx="135.4" cy="110.93" r="3.2" fill="rgb(40,40,200)" fill-opacity="0.05"/>
<circle cx="145.66" cy="53.34" r="3.2" fill="rgb(225,40,40)" fill-opacity="0.05"/>
<circle cx="117.12" cy="148.32" r="3.2" fill="rgb(40,180,40)" fill-opacity="0.05"/>
<circle cx="139.63" cy="81" r="3.2" fill="rgb(40,40,200)" fill-opacity="0.05"/>
<circle cx="120.87" cy="114.87" r="3.2" fill="rgb(110,110,110)" fill-opacity="0.05"/>
<circle cx="110.14" cy="124.57" r="3.2" fill="rgb(110,110,110)" fill-opacity="0.05"/>
<circle cx="115.82" cy="139.22" r="3.2" fill="rgb(40,180,40)" fill-opacity="0.05"/>
<circle cx="120.73" cy="110.89" r="3.2" fill="rgb(40,180,40)" fill-opacity="0.05"/>
<circle cx="123.44" cy="64.66" r="3.2" fill="rgb(40,40,200)" fill-opacity="0.05"/>
<circle cx="126.79" cy="86.55" r="3.2" fill="rgb(40,180,40)" fill-opacity="0.05"/>
<circle cx="149.12" cy="99.27" r="3.2" fill="rgb(40,180,40)" fill-opacity="0.05"/>
<circle cx="115.39" cy="95.09" r="3.2" fill="rgb(40,180,40)" fill-opacity="0.05"/>
<circle cx="106.59" cy="182.06" r="3.2" fill="rgb(110,110,110)" fill-opacity="0.05"/>
<circle cx="130.66" cy="60.14" r="3.2" fill="rgb(40,180,40)" fill-opacity="0.05"/>
<circle cx="120.12" cy="103.56" r="3.2" fill="rgb(110,110,110)" fill-opacity="0.05"/>
<circle cx="119.9" cy="54.56" r="3.2" fill="rgb(110,110,110)" fill-opacity="0.05"/>
<circle cx="139.46" cy="166.72" r="3.2" fill="rgb(110,110,110)" fill-opacity="0.05"/>
<circle cx="133.43" cy="77.12" r="3.2" fill="rgb(225,40,40)" fill-opacity="0.05"/>
<circle cx="122.09" cy="165.67" r="3.2" fill="rgb(40,180,40)" fill-opacity="0.05"/>
<circle cx="133.34" cy="125.39" r="3.2" fill="rgb(110,110,110)" fill-opacity="0.05"/>
<circle cx="142.94" cy="90.64" r="3.2" fill="rgb(225,40,40)" fill-opacity="0.05"/>
<circle cx="110.14" cy="98.27" r="3.2" fill="rgb(225,40,40)" fill-opacity="0.05"/>
<circle cx="126.77" cy="84.28" r="3.2" fill="rgb(225,40,40)" fill-opacity="0.05"/>
<circle cx="114.05" cy="90.3" r="3.2" fill="rgb(225,40,40)" fill-opacity="0.05"/>
<circle cx="118.3" cy="101.04" r="3.2" fill="rgb(225,40,40)" fill-opacity="0.05"/>
<circle cx="128.16" cy="98.46" r="3.2" fill="rgb(40,180,40)" fill-opacity="0.05"/>
<circle cx="121.22" cy="140.04" r="3.2" fill="rgb(40,180,40)" fill-opacity="0.05"/>
<circle cx="133.99" cy="134.33" r="3.2" fill="rgb(225,40,40)" fill-opacity="0.05"/>
<circle cx="126.15" cy="154.97" r="3.2" fill="rgb(225,40,40)" fill-opacity="0.05"/>
<circle cx="119.62" cy="150.35" r="3.2" fill="rgb(40,180,40)" fill-opacity="0.05"/>
<circle cx="105.53" cy="179.28" r="3.2" fill="rgb(225,40,40)" fill-opacity="0.05"/>
<circle cx="124.36" cy="127.77" r="3.2" fill="rgb(40,40,200)" fill-opacity="0.05"/>
<circle cx="109.02" cy="176.43" r="3.2" fill="rgb(225,40,40)" fill-opacity="0.05"/>
<circle cx="130.19" cy="121.88" r="3.2" fill="rgb(40,40,200)" fill-opacity="0.05"/>
<circle cx="126.38" cy="85.67" r="3.2" fill="rgb(110,110,110)" fill-opacity="0.05"/>
<circle cx="105.82" cy="164.7" r="3.2" fill="rgb(40,40,200)" fill-opacity="0.05"/>
<circle cx="125.21" cy="54.45" r="3.2" fill="rgb(40,40,200)" fill-opacity="0.05"/>
<circle cx="128.79" cy="59.11" r="3.2" fill="rgb(40,180,40)" fill-opacity="0.05"/>
<circle cx="117.89" cy="58.77" r="3.2" fill="rgb(40,180,40)" fill-opacity="0.05"/>
<circle cx="128.37" cy="147.87" r="3.2" fill="rgb(225,40,40)" fill-opacity="0.05"/>
<circle cx="125.31" cy="187.53" r="3.2" fill="rgb(110,110,110)" fill-opacity="0.05"/>
<circle cx="122.45" cy="76.87" r="3.2" fill="rgb(225,40,40)" fill-opacity="0.05"/>
<circle cx="107.44" cy="121.94" r="3.2" fill="rgb(40,40,200)" fill-opacity="0.05"/>
<circle cx="115.88" cy="139.84" r="3.2" fill="rgb(40,180,40)" fill-opacity="0.05"/>
<circle cx="108.02" cy="96.07" r="3.2" fill="rgb(40,180,40)" fill-opacity="0.05"/>
<circle cx="114.45" cy="75.5" r="3.2" fill="rgb(40,40,200)" fill-opacity="0.05"/>
<circle cx="110.97" cy="158.24" r="3.2" fill="rgb(40,180,40)" fill-opacity="0.05"/>
<circle cx="129.84" cy="83.83" r="3.2" fill="rgb(110,110,110)" fill-opacity="0.05"/>
<circle cx="128.7" cy="121.23" r="3.2" fill="rgb(40,40,200)" fill-opacity="0.05"/>
<circle cx="114.67" cy="123.66" r="3.2" fill="rgb(225,40,40)" fill-opacity="0.05"/>
<circle cx="110.94" cy="103.77" r="3.2" fill="rgb(110,110,110)" fill-opacity="0.05"/>
<circle cx="136.73" cy="52.6" r="3.2" fill="rgb(40,180,40)" fill-opacity="0.05"/>
<circle cx="121.63" cy="152.63" r="3.2" fill="rgb(40,180,40)" fill-opacity="0.05"/>
<circle cx="115.13" cy="53.35" r="3.2" fill="rgb(225,40,40)" fill-opacity="0.05"/>
<circle cx="114.77" cy="138.81" r="3.2" fill="rgb(40,40,200)" fill-opacity="0.05"/>
<circle cx="128.22" cy="69.33" r="3.2" fill="rgb(40,180,40)" fill-opacity="0.05"/>
<circle cx="110.06" cy="90.52" r="3.2" fill="rgb(225,40,40)" fill-opacity="0.05"/>
<circle cx="120.37" cy="79.49" r="3.2" fill="rgb(225,40,40)" fill-opacity="0.05"/>
<circle cx="127.96" cy="132.25" r="3.2" fill="rgb(225,40,40)" fill-opacity="0.05"/>
<circle cx="114.77" cy="66.53" r="3.2" fill="rgb(40,180,40)" fill-opacity="0.05"/>
<circle cx="105.08" cy="137.54" r="3.2" fill="rgb(225,40,40)" fill-opacity="0.05"/>
<circle cx="131.85" cy="76.02" r="3.2" fill="rgb(110,110,110)" fill-opacity="0.05"/>
<circle cx="129.61" cy="67.56" r="3.2" fill="rgb(110,110,110)" fill-opacity="0.05"/>
<circle cx="128.99" cy="146.35" r="3.2" fill="rgb(110,110,110)" fill-opacity="0.05"/>
<circle cx="136.39" cy="134.2" r="3.2" fill="rgb(40,180,40)" fill-opacity="0.05"/>
<circle cx="109.3" cy="126.25" r="3.2" fill="rgb(225,40,40)" fill-opacity="0.05"/>
<circle cx="118.83" cy="158.67" r="3.2" fill="rgb(40,40,200)" fill-opacity="0.05"/>
<circle cx="121.13" cy="57.33" r="3.2" fill="rgb(40,180,40)" fill-opacity="0.05"/>
<circle cx="135.71" cy="134.47" r="3.2" fill="rgb(225,40,40)" fill-opacity="0.05"/>
<circle cx="120.34" cy="113.82" r="3.2" fill="rgb(40,40,200)" fill-opacity="0.05"/>
<circle cx="111.84" cy="103.87" r="3.2" fill="rgb(40,180,40)" fill-opacity="0.05"/>
<circle cx="112.72" cy="112.48" r="3.2" fill="rgb(40,180,40)" fill-opacity="0.05"/>
<circle cx="116.57" cy="66.99" r="3.2" fill="rgb(110,110,110)" fill-opacity="0.05"/>
<circle cx="118.42" cy="179.75" r="3.2" fill="rgb(225,40,40)" fill-opacity="0.05"/>
<circle cx="108.96" cy="99.24" r="3.2" fill="rgb(40,180,40)" fill-opacity="0.05"/>
<circle cx="125.39" cy="123.86" r="3.2" fill="rgb(225,40,40)" fill-opacity="0.05"/>
<circle cx="136.39" cy="53.47" r="3.2" fill="rgb(40,180,40)" fill-opacity="0.05"/>
<circle cx="131.83" cy="111.46" r="3.2" fill="rgb(110,110,110)" fill-opacity="0.05"/>
<circle cx="114.02" cy="135.23" r="3.2" fill="rgb(40,180,40)" fill-opacity="0.05"/>
<circle cx="121.9" cy="54.11" r="3.2" fill="rgb(225,40,40)" fill-opacity="0.05"/>
<circle cx="109.07" cy="192.25" r="3.2" fill="rgb(225,40,40)" fill-opacity="0.05"/>
<circle cx="125.52" cy="78.88" r="3.2" fill="rgb(110,110,110)" fill-opacity="0.05"/>
<circle cx="128.83" cy="162.5" r="3.2" fill="rgb(110,110,110)" fill-opacity="0.05"/>
<circle cx="124.13" cy="143.8" r="3.2" fill="rgb(40,180,40)" fill-opacity="0.05"/>
<circle cx="112.63" cy="151.6" r="3.2" fill="rgb(40,40,200)" fill-opacity="0.05"/>
<circle cx="133.55" cy="91.43" r="3.2" fill="rgb(225,40,40)" fill-opacity="0.05"/>
<circle cx="123.89" cy="185.08" r="3.2" fill="rgb(40,40,200)" fill-opacity="0.05"/>
<circle cx="119.02" cy="145.14" r="3.2" fill="rgb(40,40,200)" fill-opacity="0.05"/>
<circle cx="121.2" cy="178.86" r="3.2" fill="rgb(40,40,200)" fill-opacity="0.05"/>
<circle cx="93.07" cy="156.71" r="3.2" fill="rgb(110,110,110)" fill-opacity="0.05"/>
<circle cx="128.74" cy="93.54" r="3.2" fill="rgb(40,180,40)" fill-opacity="0.05"/>
<circle cx="134.38" cy="166.25" r="3.2" fill="rgb(110,110,110)" fill-opacity="0.05"/>
<circle cx="129.28" cy="133.95" r="3.2" fill="rgb(225,40,40)" fill-opacity="0.05"/>
<circle cx="124.11" cy="168.56" r="3.2" fill="rgb(40,40,200)" fill-opacity="0.05"/>
<circle cx="127.68" cy="92.92" r="3.2" fill="rgb(110,110,110)" fill-opacity="0.05"/>
<circle cx="124.08" cy="131.19" r="3.2" fill="rgb(225,40,40)" fill-opacity="0.05"/>
<circle cx="126.72" cy="99.85" r="3.2" fill="rgb(40,180,40)" fill-opacity="0.05"/>
<circle cx="107.29" cy="125.82" r="3.2" fill="rgb(110,110,110)" fill-opacity="0.05"/>
<circle cx="131.64" cy="188.28" r="3.2" fill="rgb(225,40,40)" fill-opacity="0.05"/>
<circle cx="103.81" cy="96.16" r="3.2" fill="rgb(110,110,110)" fill-opacity="0.05"/>
<circle cx="122.78" cy="159.64" r="3.2" fill="rgb(40,180,40)" fill-opacity="0.05"/>
<circle cx="117.88" cy="89.7" r="3.2" fill="rgb(110,110,110)" fill-opacity="0.05"/>
<circle cx="101.23" cy="159.78" r="3.2" fill="rgb(40,180,40)" fill-opacity="0.05"/>
<circle cx="128.51" cy="145.9" r="3.2" fill="rgb(40,180,40)" fill-opacity="0.05"/>
<circle cx="122.84" cy="169.51" r="3.2" fill="rgb(225,40,40)" fill-opacity="0.05"/>
<circle cx="117.55" cy="151.54" r="3.2" fill="rgb(40,40,200)" fill-opacity="0.05"/>
<circle cx="109.8" cy="98.53" r="3.2" fill="rgb(225,40,40)" fill-opacity="0.05"/>
<circle cx="113.66" cy="182" r="3.2" fill="rgb(225,40,40)" fill-opacity="0.05"/>
<circle cx="140.93" cy="172.54" r="3.2" fill="rgb(110,110,110)" fill-opacity="0.05"/>
<circle cx="106.29" cy="67.34" r="3.2" fill="rgb(40,180,40)" fill-opacity="0.05"/>
<circle cx="112.58" cy="119.73" r="3.2" fill="rgb(40,180,40)" fill-opacity="0.05"/>
<circle cx="106.26" cy="149.48" r="3.2" fill="rgb(40,180,40)" fill-opacity="0.05"/>
<circle cx="131.75" cy="150.44" r="3.2" fill="rgb(40,180,40)" fill-opacity="0.05"/>
<circle cx="112.2" cy="106.41" r="3.2" fill="rgb(225,40,40)" fill-opacity="0.05"/>
<circle cx="110.59" cy="113.59" r="3.2" fill="rgb(40,180,40)" fill-opacity="0.05"/>
<circle cx="106.9" cy="141.67" r="3.2" fill="rgb(110,110,110)" fill-opacity="0.05"/>
<circle cx="100.68" cy="139.34" r="3.2" fill="rgb(40,40,200)" fill-opacity="0.05"/>
<circle cx="103.66" cy="106.48" r="3.2" fill="rgb(40,180,40)" fill-opacity="0.05"/>
<circle cx="112.7" cy="70.43" r="3.2" fill="rgb(40,180,40)" fill-opacity="0.05"/>
<circle cx="129.9" cy="87.21" r="3.2" fill="rgb(110,110,110)" fill-opacity="0.05"/>
<circle cx="109.95" cy="160.1" r="3.2" fill="rgb(40,40,200)" fill-opacity="0.05"/>
<circle cx="111.54" cy="186.61" r="3.2" fill="rgb(40,40,200)" fill-opacity="0.05"/>
<circle cx="120.42" cy="56.1" r="3.2" fill="rgb(110,110,110)" fill-opacity="0.05"/>
<circle cx="119.06" cy="91.55" r="3.2" fill="rgb(40,40,200)" fill-opacity="0.05"/>
<circle cx="126.49" cy="183.16" r="3.2" fill="rgb(225,40,40)" fill-opacity="0.05"/>
<circle cx="128.02" cy="178.82" r="3.2" fill="rgb(225,40,40)" fill-opacity="0.05"/>
<circle cx="121.23" cy="90.05" r="3.2" fill="rgb(40,40,200)" fill-opacity="0.05"/>
<circle cx="124.71" cy="152.53" r="3.2" fill="rgb(40,40,200)" fill-opacity="0.05"/>
<circle cx="118.53" cy="144.1" r="3.2" fill="rgb(40,180,40)" fill-opacity="0.05"/>
<circle cx="90.33" cy="62.87" r="3.2" fill="rgb(110,110,110)" fill-opacity="0.05"/>
<circle cx="110.82" cy="104.85" r="3.2" fill="rgb(40,40,200)" fill-opacity="0.05"/>
<circle cx="120" cy="62.45" r="3.2" fill="rgb(40,180,40)" fill-opacity="0.05"/>
<circle cx="126.79" cy="178.28" r="3.2" fill="rgb(110,110,110)" fill-opacity="0.05"/>
<circle cx="106.6" cy="116.91" r="3.2" fill="rgb(40,180,40)" fill-opacity="0.05"/>
<circle cx="113.08" cy="118.11" r="3.2" fill="rgb(40,180,40)" fill-opacity="0.05"/>
<circle cx="118.88" cy="80.78" r="3.2" fill="rgb(225,40,40)" fill-opacity="0.05"/>
<circle cx="122.32" cy="178.84" r="3.2" fill="rgb(225,40,40)" fill-opacity="0.05"/>
<circle cx="114.77" cy="78.17" r="3.2" fill="rgb(40,40,200)" fill-opacity="0.05"/>
<circle cx="109.52" cy="70.64" r="3.2" fill="rgb(110,110,110)" fill-opacity="0.05"/>
<circle cx="139" cy="125.02" r="3.2" fill="rgb(40,40,200)" fill-opacity="0.05"/>
<circle cx="118.33" cy="155.89" r="3.2" fill="rgb(40,180,40)" fill-opacity="0.05"/>
<circle cx="131.68" cy="165.82" r="3.2" fill="rgb(225,40,40)" fill-opacity="0.05"/>
<circle cx="125.25" cy="106.23" r="3.2" fill="rgb(40,180,40)" fill-opacity="0.05"/>
<circle cx="122.26" cy="59.29" r="3.2" fill="rgb(40,40,200)" fill-opacity="0.05"/>
<circle cx="127.47" cy="183.46" r="3.2" fill="rgb(40,180,40)" fill-opacity="0.05"/>
<circle cx="108.4" cy="93.98" r="3.2" fill="rgb(225,40,40)" fill-opacity="0.05"/>
<circle cx="113.2" cy="70.45" r="3.2" fill="rgb(40,180,40)" fill-opacity="0.05"/>
<circle cx="114.34" cy="132.74" r="3.2" fill="rgb(40,40,200)" fill-opacity="0.05"/>
<circle cx="114.43" cy="166.31" r="3.2" fill="rgb(110,110,110)" fill-opacity="0.05"/>
<circle cx="121.44" cy="68.48" r="3.2" fill="rgb(40,40,200)" fill-opacity="0.05"/>
<circle cx="101.9" cy="153.55" r="3.2" fill="rgb(40,180,40)" fill-opacity="0.05"/>
<circle cx="107.66" cy="183.47" r="3.2" fill="rgb(225,40,40)" fill-opacity="0.05"/>
<circle cx="118.07" cy="68.64" r="3.2" fill="rgb(110,110,110)" fill-opacity="0.05"/>
<circle cx="117.8" cy="103.06" r="3.2" fill="rgb(110,110,110)" fill-opacity="0.05"/>
<circle cx="112.27" cy="91.97" r="3.2" fill="rgb(110,110,110)" fill-opacity="0.05"/>
<circle cx="120.13" cy="173.85" r="3.2" fill="rgb(225,40,40)" fill-opacity="0.05"/>
<circle cx="113.1" cy="135.85" r="3.2" fill="rgb(40,180,40)" fill-opacity="0.05"/>
<circle cx="122.62" cy="135.37" r="3.2" fill="rgb(40,180,40)" fill-opacity="0.05"/>
<circle cx="118.25" cy="104.13" r="3.2" fill="rgb(110,110,110)" fill-opacity="0.05"/>
<circle cx="124.4" cy="92.8" r="3.2" fill="rgb(40,40,200)" fill-opacity="0.05"/>
<circle cx="138.24" cy="109.07" r="3.2" fill="rgb(40,40,200)" fill-opacity="0.05"/>
<circle cx="116.44" cy="144.41" r="3.2" fill="rgb(40,40,200)" fill-opacity="0.05"/>
<circle cx="127.53" cy="176.18" r="3.2" fill="rgb(40,180,40)" fill-opacity="0.05"/>
<circle cx="111.17" cy="132.78" r="3.2" fill="rgb(40,40,200)" fill-opacity="0.05"/>
<circle cx="121.97" cy="90.74" r="3.2" fill="rgb(225,40,40)" fill-opacity="0.05"/>
<circle cx="129.85" cy="55.06" r="3.2" fill="rgb(40,40,200)" fill-opacity="0.05"/>
<circle cx="111.61" cy="107.19" r="3.2" fill="rgb(40,40,200)" fill-opacity="0.05"/>
<circle cx="133.26" cy="66.04" r="3.2" fill="rgb(225,40,40)" fill-opacity="0.05"/>
<circle cx="124.51" cy="88.54" r="3.2" fill="rgb(110,110,110)" fill-opacity="0.05"/>
<circle cx="122.28" cy="86.76" r="3.2" fill="rgb(225,40,40)" fill-opacity="0.05"/>
<circle cx="124.33" cy="133.69" r="3.2" fill="rgb(225,40,40)" fill-opacity="0.05"/>
<circle cx="114.87" cy="181.52" r="3.2" fill="rgb(40,40,200)" fill-opacity="0.05"/>
<circle cx="111.42" cy="156.37" r="3.2" fill="rgb(40,40,200)" fill-opacity="0.05"/>
<circle cx="121.88" cy="94.63" r="3.2" fill="rgb(40,40,200)" fill-opacity="0.05"/>
<circle cx="111.87" cy="178.14" r="3.2" fill="rgb(225,40,40)" fill-opacity="0.05"/>
<circle cx="98.95" cy="133.64" r="3.2" fill="rgb(225,40,40)" fill-opacity="0.05"/>
<circle cx="121.74" cy="83.61" r="3.2" fill="rgb(110,110,110)" fill-opacity="0.05"/>
<circle cx="127.45" cy="89.48" r="3.2" fill="rgb(225,40,40)" fill-opacity="0.05"/>
<circle cx="112.97" cy="143.8" r="3.2" fill="rgb(40,180,40)" fill-opacity="0.05"/>
<circle cx="115.78" cy="145.55" r="3.2" fill="rgb(225,40,40)" fill-opacity="0.05"/>
<circle cx="141.45" cy="180.7" r="3.2" fill="rgb(40,180,40)" fill-opacity="0.05"/>
<circle cx="143.45" cy="92.7" r="3.2" fill="rgb(225,40,40)" fill-opacity="0.05"/>
<circle cx="114.92" cy="132.43" r="3.2" fill="rgb(225,40,40)" fill-opacity="0.05"/>
<circle cx="135.7" cy="112.18" r="3.2" fill="rgb(40,180,40)" fill-opacity="0.05"/>
<circle cx="131.5" cy="169.31" r="3.2" fill="rgb(40,40,200)" fill-opacity="0.05"/>
<circle cx="127.07" cy="120.87" r="3.2" fill="rgb(40,40,200)" fill-opacity="0.05"/>
<circle cx="119.74" cy="146.27" r="3.2" fill="rgb(110,110,110)" fill-opacity="0.05"/>
<circle cx="113.05" cy="121.51" r="3.2" fill="rgb(40,180,40)" fill-opacity="0.05"/>
<circle cx="114.27" cy="85.12" r="3.2" fill="rgb(40,180,40)" fill-opacity="0.05"/>
<circle cx="129.59" cy="140.46" r="3.2" fill="rgb(225,40,40)" fill-opacity="0.05"/>
<circle cx="124.75" cy="154.38" r="3.2" fill="rgb(110,110,110)" fill-opacity="0.05"/>
<circle cx="120.73" cy="107.13" r="3.2" fill="rgb(40,180,40)" fill-opacity="0.05"/>
<circle cx="110.27" cy="117.39" r="3.2" fill="rgb(40,40,200)" fill-opacity="0.05"/>
<circle cx="111.59" cy="76.53" r="3.2" fill="rgb(40,40,200)" fill-opacity="0.05"/>
<circle cx="110.85" cy="163.34" r="3.2" fill="rgb(40,180,40)" fill-opacity="0.05"/>
<circle cx="129.82" cy="166.71" r="3.2" fill="rgb(40,40,200)" fill-opacity="0.05"/>
<circle cx="122.44" cy="62.5" r="3.2" fill="rgb(40,40,200)" fill-opacity="0.05"/>
<circle cx="116.88" cy="104.98" r="3.2" fill="rgb(40,180,40)" fill-opacity="0.05"/>
<circle cx="119.29" cy="134.26" r="3.2" fill="rgb(225,40,40)" fill-opacity="0.05"/>
<circle cx="115.28" cy="121.1" r="3.2" fill="rgb(225,40,40)" fill-opacity="0.05"/>
<circle cx="124.47" cy="74.09" r="3.2" fill="rgb(40,40,200)" fill-opacity="0.05"/>
<circle cx="119.12" cy="159.03" r="3.2" fill="rgb(110,110,110)" fill-opacity="0.05"/>
<circle cx="123.45" cy="188.26" r="3.2" fill="rgb(110,110,110)" fill-opacity="0.05"/>
<circle cx="135.55" cy="111.53" r="3.2" fill="rgb(110,110,110)" fill-opacity="0.05"/>
<circle cx="121.77" cy="107.02" r="3.2" fill="rgb(110,110,110)" fill-opacity="0.05"/>
<circle cx="114.76" cy="149.27" r="3.2" fill="rgb(225,40,40)" fill-opacity="0.05"/>
<circle cx="102.36" cy="61.48" r="3.2" fill="rgb(40,180,40)" fill-opacity="0.05"/>
<circle cx="111.47" cy="97.27" r="3.2" fill="rgb(225,40,40)" fill-opacity="0.05"/>
<circle cx="105.81" cy="148.54" r="3.2" fill="rgb(40,180,40)" fill-opacity="0.05"/>
<circle cx="137.99" cy="53.1" r="3.2" fill="rgb(225,40,40)" fill-opacity="0.05"/>
<circle cx="123.53" cy="190.2" r="3.2" fill="rgb(110,110,110)" fill-opacity="0.05"/>
<circle cx="133.95" cy="135.47" r="3.2" fill="rgb(225,40,40)" fill-opacity="0.05"/>
<circle cx="107.82" cy="120.84" r="3.2" fill="rgb(40,40,200)" fill-opacity="0.05"/>
<circle cx="123.27" cy="70.77" r="3.2" fill="rgb(40,180,40)" fill-opacity="0.05"/>
<circle cx="143.36" cy="158.77" r="3.2" fill="rgb(40,40,200)" fill-opacity="0.05"/>
<circle cx="135.95" cy="49.38" r="3.2" fill="rgb(110,110,110)" fill-opacity="0.05"/>
<circle cx="131.87" cy="176.37" r="3.2" fill="rgb(40,40,200)" fill-opacity="0.05"/>
<circle cx="133.03" cy="107.71" r="3.2" fill="rgb(225,40,40)" fill-opacity="0.05"/>
<circle cx="140.05" cy="173.06" r="3.2" fill="rgb(40,180,40)" fill-opacity="0.05"/>
<circle cx="117.57" cy="53.99" r="3.2" fill="rgb(110,110,110)" fill-opacity="0.05"/>
<circle cx="121.51" cy="163.9" r="3.2" fill="rgb(110,110,110)" fill-opacity="0.05"/>
<circle cx="124.59" cy="55.04" r="3.2" fill="rgb(40,180,40)" fill-opacity="0.05"/>
<circle cx="119.02" cy="110.68" r="3.2" fill="rgb(225,40,40)" fill-opacity="0.05"/>
<circle cx="120.12" cy="170.47" r="3.2" fill="rgb(40,40,200)" fill-opacity="0.05"/>
<circle cx="126.74" cy="181.72" r="3.2" fill="rgb(225,40,40)" fill-opacity="0.05"/>
<circle cx="104.88" cy="148.69" r="3.2" fill="rgb(40,180,40)" fill-opacity="0.05"/>
<circle cx="104.15" cy="61.19" r="3.2" fill="rgb(225,40,40)" fill-opacity="0.05"/>
<circle cx="102.17" cy="128.2" r="3.2" fill="rgb(110,110,110)" fill-opacity="0.05"/>
<circle cx="108.3" cy="142.14" r="3.2" fill="rgb(110,110,110)" fill-opacity="0.05"/>
<circle cx="121.61" cy="71.72" r="3.2" fill="rgb(40,180,40)" fill-opacity="0.05"/>
<circle cx="106.46" cy="154.86" r="3.2" fill="rgb(225,40,40)" fill-opacity="0.05"/>
<circle cx="123.59" cy="188.4" r="3.2" fill="rgb(225,40,40)" fill-opacity="0.05"/>
<circle cx="128.46" cy="88.86" r="3.2" fill="rgb(225,40,40)" fill-opacity="0.05"/>
<circle cx="110.55" cy="151.62" r="3.2" fill="rgb(40,40,200)" fill-opacity="0.05"/>
<circle cx="137.28" cy="108.97" r="3.2" fill="rgb(40,180,40)" fill-opacity="0.05"/>
<circle cx="118.21" cy="109.95" r="3.2" fill="rgb(40,180,40)" fill-opacity="0.05"/>
<circle cx="110.4" cy="159.46" r="3.2" fill="rgb(40,40,200)" fill-opacity="0.05"/>
<circle cx="125.46" cy="148.87" r="3.2" fill="rgb(40,180,40)" fill-opacity="0.05"/>
<circle cx="111.24" cy="85.06" r="3.2" fill="rgb(225,40,40)" fill-opacity="0.05"/>
<circle cx="128.62" cy="136.89" r="3.2" fill="rgb(225,40,40)" fill-opacity="0.05"/>
<circle cx="106.27" cy="85.25" r="3.2" fill="rgb(40,40,200)" fill-opacity="0.05"/>
<circle cx="128.5" cy="160.85" r="3.2" fill="rgb(40,40,200)" fill-opacity="0.05"/>
<circle cx="134.06" cy="98.52" r="3.2" fill="rgb(40,180,40)" fill-opacity="0.05"/>
<circle cx="109.74" cy="63.43" r="3.2" fill="rgb(225,40,40)" fill-opacity="0.05"/>
<circle cx="107.12" cy="132.62" r="3.2" fill="rgb(225,40,40)" fill-opacity="0.05"/>
<circle cx="119.7" cy="101.85" r="3.2" fill="rgb(40,40,200)" fill-opacity="0.05"/>
<circle cx="131.14" cy="157.25" r="3.2" fill="rgb(110,110,110)" fill-opacity="0.05"/>
<circle cx="110.91" cy="89.54" r="3.2" fill="rgb(110,110,110)" fill-opacity="0.05"/>
<circle cx="95.91" cy="122.79" r="3.2" fill="rgb(40,40,200)" fill-opacity="0.05"/>
<circle cx="112" cy="84.75" r="3.2" fill="rgb(40,180,40)" fill-opacity="0.05"/>
<circle cx="104.76" cy="138.3" r="3.2" fill="rgb(225,40,40)" fill-opacity="0.05"/>
<circle cx="145.8" cy="152.92" r="3.2" fill="rgb(40,180,40)" fill-opacity="0.05"/>
<circle cx="132.36" cy="175.76" r="3.2" fill="rgb(40,40,200)" fill-opacity="0.05"/>
<circle cx="137.14" cy="152.23" r="3.2" fill="rgb(40,40,200)" fill-opacity="0.05"/>
<circle cx="135.79" cy="120.37" r="3.2" fill="rgb(225,40,40)" fill-opacity="0.05"/>
<circle cx="111.88" cy="112.67" r="3.2" fill="rgb(225,40,40)" fill-opacity="0.05"/>
<circle cx="105.43" cy="133.88" r="3.2" fill="rgb(110,110,110)" fill-opacity="0.05"/>
<circle cx="92.56" cy="144.65" r="3.2" fill="rgb(40,180,40)" fill-opacity="0.05"/>
<circle cx="104.04" cy="152.06" r="3.2" fill="rgb(40,40,200)" fill-opacity="0.05"/>
<circle cx="126.08" cy="181.8" r="3.2" fill="rgb(225,40,40)" fill-opacity="0.05"/>
<circle cx="115.59" cy="81.29" r="3.2" fill="rgb(225,40,40)" fill-opacity="0.05"/>
<circle cx="140.38" cy="74.19" r="3.2" fill="rgb(40,40,200)" fill-opacity="0.05"/>
<circle cx="95.54" cy="154.69" r="3.2" fill="rgb(40,180,40)" fill-opacity="0.05"/>
<circle cx="111.92" cy="88.47" r="3.2" fill="rgb(40,180,40)" fill-opacity="0.05"/>
<circle cx="112.93" cy="82.38" r="3.2" fill="rgb(40,40,200)" fill-opacity="0.05"/>
<circle cx="114.2" cy="93.71" r="3.2" fill="rgb(40,40,200)" fill-opacity="0.05"/>
<circle cx="101.99" cy="142.12" r="3.2" fill="rgb(225,40,40)" fill-opacity="0.05"/>
<circle cx="107.95" cy="125.5" r="3.2" fill="rgb(40,180,40)" fill-opacity="0.05"/>
<circle cx="111.35" cy="98.2" r="3.2" fill="rgb(225,40,40)" fill-opacity="0.05"/>
<circle cx="132.63" cy="105.57" r="3.2" fill="rgb(40,180,40)" fill-opacity="0.05"/>
<circle cx="124.44" cy="114.03" r="3.2" fill="rgb(40,180,40)" fill-opacity="0.05"/>
<circle cx="130.3" cy="50.24" r="3.2" fill="rgb(40,180,40)" fill-opacity="0.05"/>
<circle cx="116.71" cy="166.19" r="3.2" fill="rgb(40,180,40)" fill-opacity="0.05"/>
<circle cx="116.77" cy="103.18" r="3.2" fill="rgb(40,180,40)" fill-opacity="0.05"/>
<circle cx="112.63" cy="54.76" r="3.2" fill="rgb(40,180,40)" fill-opacity="0.05"/>
<circle cx="139.27" cy="179.31" r="3.2" fill="rgb(110,110,110)" fill-opacity="0.05"/>
<circle cx="133.73" cy="139.41" r="3.2" fill="rgb(40,180,40)" fill-opacity="0.05"/>
<circle cx="116.02" cy="181.28" r="3.2" fill="rgb(40,180,40)" fill-opacity="0.05"/>
<circle cx="122.08" cy="103.66" r="3.2" fill="rgb(40,180,40)" fill-opacity="0.05"/>
<circle cx="131.36" cy="183.81" r="3.2" fill="rgb(40,180,40)" fill-opacity="0.05"/>
<circle cx="107.4" cy="91.7" r="3.2" fill="rgb(225,40,40)" fill-opacity="0.05"/>
<circle cx="114.76" cy="89" r="3.2" fill="rgb(40,40,200)" fill-opacity="0.05"/>
<circle cx="126.72" cy="98.57" r="3.2" fill="rgb(225,40,40)" fill-opacity="0.05"/>
<circle cx="129.88" cy="58.65" r="3.2" fill="rgb(40,180,40)" fill-opacity="0.05"/>
<circle cx="136.98" cy="58.16" r="3.2" fill="rgb(40,180,40)" fill-opacity="0.05"/>
<circle cx="113.56" cy="125.44" r="3.2" fill="rgb(225,40,40)" fill-opacity="0.05"/>
<circle cx="123.98" cy="123.18" r="3.2" fill="rgb(110,110,110)" fill-opacity="0.05"/>
<circle cx="115.35" cy="166.1" r="3.2" fill="rgb(40,40,200)" fill-opacity="0.05"/>
<circle cx="121.41" cy="67.68" r="3.2" fill="rgb(110,110,110)" fill-opacity="0.05"/>
<circle cx="114.79" cy="74.95" r="3.2" fill="rgb(40,40,200)" fill-opacity="0.05"/>
<circle cx="106.76" cy="123.05" r="3.2" fill="rgb(40,40,200)" fill-opacity="0.05"/>
<circle cx="96.86" cy="142.02" r="3.2" fill="rgb(225,40,40)" fill-opacity="0.05"/>
<circle cx="97.34" cy="163.61" r="3.2" fill="rgb(40,180,40)" fill-opacity="0.05"/>
<circle cx="121.91" cy="51.58" r="3.2" fill="rgb(40,180,40)" fill-opacity="0.05"/>
<circle cx="122.39" cy="162.16" r="3.2" fill="rgb(225,40,40)" fill-opacity="0.05"/>
<circle cx="115.63" cy="177.6" r="3.2" fill="rgb(225,40,40)" fill-opacity="0.05"/>
<circle cx="97.95" cy="115.11" r="3.2" fill="rgb(40,40,200)" fill-opacity="0.05"/>
<circle cx="117.67" cy="126.77" r="3.2" fill="rgb(110,110,110)" fill-opacity="0.05"/>
<circle cx="119.99" cy="157.79" r="3.2" fill="rgb(110,110,110)" fill-opacity="0.05"/>
<circle cx="103.42" cy="162.49" r="3.2" fill="rgb(40,40,200)" fill-opacity="0.05"/>
<circle cx="116.01" cy="141.95" r="3.2" fill="rgb(40,40,200)" fill-opacity="0.05"/>
<circle cx="105.71" cy="149.63" r="3.2" fill="rgb(40,40,200)" fill-opacity="0.05"/>
<circle cx="115.38" cy="135.11" r="3.2" fill="rgb(40,40,200)" fill-opacity="0.05"/>
<circle cx="110.65" cy="74.82" r="3.2" fill="rgb(225,40,40)" fill-opacity="0.05"/>
<circle cx="139.1" cy="159.12" r="3.2" fill="rgb(110,110,110)" fill-opacity="0.05"/>
<circle cx="117.78" cy="151.5" r="3.2" fill="rgb(40,40,200)" fill-opacity="0.05"/>
<circle cx="120.71" cy="141.4" r="3.2" fill="rgb(40,180,40)" fill-opacity="0.05"/>
<circle cx="122.26" cy="174.63" r="3.2" fill="rgb(225,40,40)" fill-opacity="0.05"/>
<circle cx="112.98" cy="99.68" r="3.2" fill="rgb(40,180,40)" fill-opacity="0.05"/>
<circle cx="112.01" cy="170.14" r="3.2" fill="rgb(40,180,40)" fill-opacity="0.05"/>
<circle cx="131.84" cy="62.45" r="3.2" fill="rgb(40,180,40)" fill-opacity="0.05"/>
<circle cx="129.95" cy="131.65" r="3.2" fill="rgb(40,40,200)" fill-opacity="0.05"/>
<circle cx="126.04" cy="183.76" r="3.2" fill="rgb(110,110,110)" fill-opacity="0.05"/>
<circle cx="136.32" cy="136.09" r="3.2" fill="rgb(225,40,40)" fill-opacity="0.05"/>
<circle cx="122.67" cy="141.66" r="3.2" fill="rgb(40,40,200)" fill-opacity="0.05"/>
<circle cx="119.3" cy="109.82" r="3.2" fill="rgb(40,180,40)" fill-opacity="0.05"/>
<circle cx="118.57" cy="93.71" r="3.2" fill="rgb(225,40,40)" fill-opacity="0.05"/>
<circle cx="132.21" cy="51.11" r="3.2" fill="rgb(40,180,40)" fill-opacity="0.05"/>
<circle cx="125" cy="98.73" r="3.2" fill="rgb(40,40,200)" fill-opacity="0.05"/>
<circle cx="110.65" cy="101.91" r="3.2" fill="rgb(40,40,200)" fill-opacity="0.05"/>
<circle cx="129.62" cy="105.7" r="3.2" fill="rgb(40,180,40)" fill-opacity="0.05"/>
<circle cx="156.05" cy="156.93" r="3.2" fill="rgb(225,40,40)" fill-opacity="0.05"/>
<circle cx="130.89" cy="156.88" r="3.2" fill="rgb(40,40,200)" fill-opacity="0.05"/>
<circle cx="122.01" cy="88.59" r="3.2" fill="rgb(225,40,40)" fill-opacity="0.05"/>
<circle cx="103.87" cy="137.15" r="3.2" fill="rgb(225,40,40)" fill-opacity="0.05"/>
<circle cx="117.45" cy="143.99" r="3.2" fill="rgb(40,180,40)" fill-opacity="0.05"/>
<circle cx="117" cy="99.35" r="3.2" fill="rgb(110,110,110)" fill-opacity="0.05"/>
<circle cx="108.21" cy="91.49" r="3.2" fill="rgb(40,40,200)" fill-opacity="0.05"/>
<circle cx="126.29" cy="113.95" r="3.2" fill="rgb(110,110,110)" fill-opacity="0.05"/>
<circle cx="124.62" cy="155.91" r="3.2" fill="rgb(225,40,40)" fill-opacity="0.05"/>
<circle cx="114.78" cy="100.68" r="3.2" fill="rgb(110,110,110)" fill-opacity="0.05"/>
<circle cx="131.31" cy="77.08" r="3.2" fill="rgb(40,180,40)" fill-opacity="0.05"/>
<circle cx="115.14" cy="56.28" r="3.2" fill="rgb(40,180,40)" fill-opacity="0.05"/>
<circle cx="134.57" cy="171.27" r="3.2" fill="rgb(110,110,110)" fill-opacity="0.05"/>
<circle cx="124.38" cy="109.76" r="3.2" fill="rgb(40,180,40)" fill-opacity="0.05"/>
<circle cx="110.52" cy="155.4" r="3.2" fill="rgb(40,180,40)" fill-opacity="0.05"/>
<circle cx="122.84" cy="59.78" r="3.2" fill="rgb(40,180,40)" fill-opacity="0.05"/>
<circle cx="144.23" cy="73.26" r="3.2" fill="rgb(225,40,40)" fill-opacity="0.05"/>
<circle cx="123.65" cy="169.38" r="3.2" fill="rgb(40,40,200)" fill-opacity="0.05"/>
<circle cx="117.75" cy="71.24" r="3.2" fill="rgb(40,40,200)" fill-opacity="0.05"/>
<circle cx="124.17" cy="133.55" r="3.2" fill="rgb(40,40,200)" fill-opacity="0.05"/>
<circle cx="123.17" cy="75.95" r="3.2" fill="rgb(40,40,200)" fill-opacity="0.05"/>
<circle cx="124.7" cy="154.61" r="3.2" fill="rgb(40,40,200)" fill-opacity="0.05"/>
<circle cx="130.86" cy="64.88" r="3.2" fill="rgb(40,180,40)" fill-opacity="0.05"/>
<circle cx="118.09" cy="129.64" r="3.2" fill="rgb(110,110,110)" fill-opacity="0.05"/>
<circle cx="114.15" cy="138.32" r="3.2" fill="rgb(225,40,40)" fill-opacity="0.05"/>
<circle cx="135.35" cy="180.21" r="3.2" fill="rgb(40,40,200)" fill-opacity="0.05"/>
<circle cx="112.55" cy="187.7" r="3.2" fill="rgb(40,180,40)" fill-opacity="0.05"/>
<circle cx="104.68" cy="92.02" r="3.2" fill="rgb(110,110,110)" fill-opacity="0.05"/>
<circle cx="124.02" cy="84.24" r="3.2" fill="rgb(225,40,40)" fill-opacity="0.05"/>
<circle cx="126.19" cy="136.45" r="3.2" fill="rgb(110,110,110)" fill-opacity="0.05"/>
<circle cx="112.45" cy="102.98" r="3.2" fill="rgb(40,40,200)" fill-opacity="0.05"/>
<circle cx="127.19" cy="161.07" r="3.2" fill="rgb(40,180,40)" fill-opacity="0.05"/>
<circle cx="130.44" cy="103.24" r="3.2" fill="rgb(225,40,40)" fill-opacity="0.05"/>
<circle cx="108.29" cy="89.78" r="3.2" fill="rgb(225,40,40)" fill-opacity="0.05"/>
<circle cx="105.94" cy="140.09" r="3.2" fill="rgb(110,110,110)" fill-opacity="0.05"/>
<circle cx="92.95" cy="154.46" r="3.2" fill="rgb(110,110,110)" fill-opacity="0.05"/>
<circle cx="109.51" cy="174.92" r="3.2" fill="rgb(110,110,110)" fill-opacity="0.05"/>
<circle cx="118.3" cy="81.87" r="3.2" fill="rgb(40,40,200)" fill-opacity="0.05"/>
<circle cx="141.22" cy="126.36" r="3.2" fill="rgb(225,40,40)" fill-opacity="0.05"/>
<circle cx="128.08" cy="174.03" r="3.2" fill="rgb(225,40,40)" fill-opacity="0.05"/>
<circle cx="117.89" cy="153.05" r="3.2" fill="rgb(40,180,40)" fill-opacity="0.05"/>
<circle cx="126.91" cy="126.68" r="3.2" fill="rgb(40,40,200)" fill-opacity="0.05"/>
<circle cx="125.39" cy="157.91" r="3.2" fill="rgb(40,40,200)" fill-opacity="0.05"/>
<circle cx="132.82" cy="169.03" r="3.2" fill="rgb(40,180,40)" fill-opacity="0.05"/>
<circle cx="130.42" cy="74.39" r="3.2" fill="rgb(225,40,40)" fill-opacity="0.05"/>
<circle cx="122.87" cy="172.67" r="3.2" fill="rgb(40,40,200)" fill-opacity="0.05"/>
<circle cx="112.08" cy="72.42" r="3.2" fill="rgb(40,40,200)" fill-opacity="0.05"/>
<circle cx="98.42" cy="156.95" r="3.2" fill="rgb(40,40,200)" fill-opacity="0.05"/>
<circle cx="121.52" cy="139.28" r="3.2" fill="rgb(40,180,40)" fill-opacity="0.05"/>
<circle cx="138.29" cy="130.32" r="3.2" fill="rgb(40,180,40)" fill-opacity="0.05"/>
<circle cx="133" cy="49.27" r="3.2" fill="rgb(225,40,40)" fill-opacity="0.05"/>
<circle cx="109.85" cy="136.51" r="3.2" fill="rgb(40,180,40)" fill-opacity="0.05"/>
<circle cx="113.45" cy="108.93" r="3.2" fill="rgb(40,180,40)" fill-opacity="0.05"/>
<circle cx="120.74" cy="79.61" r="3.2" fill="rgb(40,40,200)" fill-opacity="0.05"/>
<circle cx="134.06" cy="131.09" r="3.2" fill="rgb(225,40,40)" fill-opacity="0.05"/>
<circle cx="118.96" cy="70.21" r="3.2" fill="rgb(40,180,40)" fill-opacity="0.05"/>
<circle cx="121.62" cy="78.99" r="3.2" fill="rgb(40,180,40)" fill-opacity="0.05"/>
<circle cx="135.19" cy="92.27" r="3.2" fill="rgb(40,180,40)" fill-opacity="0.05"/>
<circle cx="121.75" cy="121.76" r="3.2" fill="rgb(40,40,200)" fill-opacity="0.05"/>
<circle cx="109.45" cy="98.34" r="3.2" fill="rgb(110,110,110)" fill-opacity="0.05"/>
<circle cx="105.75" cy="62.38" r="3.2" fill="rgb(40,180,40)" fill-opacity="0.05"/>
<circle cx="124.17" cy="185.42" r="3.2" fill="rgb(40,180,40)" fill-opacity="0.05"/>
<circle cx="126.57" cy="101.76" r="3.2" fill="rgb(225,40,40)" fill-opacity="0.05"/>
<circle cx="104.57" cy="125.05" r="3.2" fill="rgb(40,40,200)" fill-opacity="0.05"/>
<circle cx="116.93" cy="164.28" r="3.2" fill="rgb(40,40,200)" fill-opacity="0.05"/>
<circle cx="100.92" cy="124.46" r="3.2" fill="rgb(225,40,40)" fill-opacity="0.05"/>
<circle cx="124.1" cy="80.45" r="3.2" fill="rgb(225,40,40)" fill-opacity="0.05"/>
<circle cx="110.01" cy="166.56" r="3.2" fill="rgb(110,110,110)" fill-opacity="0.05"/>
<circle cx="129.51" cy="169.92" r="3.2" fill="rgb(110,110,110)" fill-opacity="0.05"/>
<circle cx="102.9" cy="182.61" r="3.2" fill="rgb(225,40,40)" fill-opacity="0.05"/>
<circle cx="100.25" cy="68.65" r="3.2" fill="rgb(40,180,40)" fill-opacity="0.05"/>
<circle cx="126.52" cy="118.68" r="3.2" fill="rgb(40,40,200)" fill-opacity="0.05"/>
<circle cx="120.9" cy="125.05" r="3.2" fill="rgb(110,110,110)" fill-opacity="0.05"/>
<circle cx="121.64" cy="132.86" r="3.2" fill="rgb(225,40,40)" fill-opacity="0.05"/>
<circle cx="115.69" cy="182.15" r="3.2" fill="rgb(225,40,40)" fill-opacity="0.05"/>
<circle cx="121.5" cy="86.85" r="3.2" fill="rgb(225,40,40)" fill-opacity="0.05"/>
<circle cx="115.74" cy="141.9" r="3.2" fill="rgb(225,40,40)" fill-opacity="0.05"/>
<circle cx="93.92" cy="74.23" r="3.2" fill="rgb(110,110,110)" fill-opacity="0.05"/>
<circle cx="125.75" cy="160.71" r="3.2" fill="rgb(110,110,110)" fill-opacity="0.05"/>
<circle cx="117.43" cy="152.55" r="3.2" fill="rgb(110,110,110)" fill-opacity="0.05"/>
<circle cx="119.05" cy="167.79" r="3.2" fill="rgb(225,40,40)" fill-opacity="0.05"/>
<circle cx="124.37" cy="71.07" r="3.2" fill="rgb(40,180,40)" fill-opacity="0.05"/>
<circle cx="144.83" cy="176.69" r="3.2" fill="rgb(40,40,200)" fill-opacity="0.05"/>
<circle cx="122.47" cy="98.17" r="3.2" fill="rgb(40,180,40)" fill-opacity="0.05"/>
<circle cx="129.98" cy="123.6" r="3.2" fill="rgb(40,180,40)" fill-opacity="0.05"/>
<circle cx="125.79" cy="160.1" r="3.2" fill="rgb(40,180,40)" fill-opacity="0.05"/>
<circle cx="125.5" cy="98.07" r="3.2" fill="rgb(110,110,110)" fill-opacity="0.05"/>
<circle cx="118.84" cy="152.29" r="3.2" fill="rgb(40,180,40)" fill-opacity="0.05"/>
<circle cx="123.71" cy="117.55" r="3.2" fill="rgb(40,40,200)" fill-opacity="0.05"/>
<circle cx="119.4" cy="53.72" r="3.2" fill="rgb(40,180,40)" fill-opacity="0.05"/>
<circle cx="118.31" cy="133.98" r="3.2" fill="rgb(225,40,40)" fill-opacity="0.05"/>
<circle cx="122.11" cy="64.63" r="3.2" fill="rgb(110,110,110)" fill-opacity="0.05"/>
<circle cx="126.17" cy="127.92" r="3.2" fill="rgb(40,40,200)" fill-opacity="0.05"/>
<circle cx="143.04" cy="134.98" r="3.2" fill="rgb(40,40,200)" fill-opacity="0.05"/>
<circle cx="142.09" cy="174.47" r="3.2" fill="rgb(40,40,200)" fill-opacity="0.05"/>
<circle cx="144.45" cy="62.78" r="3.2" fill="rgb(40,180,40)" fill-opacity="0.05"/>
<circle cx="117.76" cy="126.06" r="3.2" fill="rgb(225,40,40)" fill-opacity="0.05"/>
<circle cx="106.39" cy="144.44" r="3.2" fill="rgb(40,40,200)" fill-opacity="0.05"/>
<circle cx="104.71" cy="114.51" r="3.2" fill="rgb(40,180,40)" fill-opacity="0.05"/>
<circle cx="122.3" cy="183.27" r="3.2" fill="rgb(225,40,40)" fill-opacity="0.05"/>
<circle cx="115.03" cy="150.05" r="3.2" fill="rgb(40,180,40)" fill-opacity="0.05"/>
<circle cx="114.6" cy="98.29" r="3.2" fill="rgb(225,40,40)" fill-opacity="0.05"/>
<circle cx="135.34" cy="172.16" r="3.2" fill="rgb(225,40,40)" fill-opacity="0.05"/>
<circle cx="114.96" cy="134.12" r="3.2" fill="rgb(40,180,40)" fill-opacity="0.05"/>
<circle cx="137.7" cy="83.86" r="3.2" fill="rgb(40,40,200)" fill-opacity="0.05"/>
<circle cx="124.24" cy="178.85" r="3.2" fill="rgb(110,110,110)" fill-opacity="0.05"/>
<circle cx="149.7" cy="62.93" r="3.2" fill="rgb(225,40,40)" fill-opacity="0.05"/>
<circle cx="122.78" cy="179.69" r="3.2" fill="rgb(225,40,40)" fill-opacity="0.05"/>
<circle cx="119.14" cy="74.48" r="3.2" fill="rgb(225,40,40)" fill-opacity="0.05"/>
<circle cx="103.6" cy="80.95" r="3.2" fill="rgb(110,110,110)" fill-opacity="0.05"/>
<circle cx="135.93" cy="181.78" r="3.2" fill="rgb(40,40,200)" fill-opacity="0.05"/>
<circle cx="122.79" cy="139.85" r="3.2" fill="rgb(225,40,40)" fill-opacity="0.05"/>
<circle cx="128.2" cy="69.87" r="3.2" fill="rgb(40,180,40)" fill-opacity="0.05"/>
<circle cx="121.27" cy="73.15" r="3.2" fill="rgb(40,40,200)" fill-opacity="0.05"/>
<circle cx="101.13" cy="100.22" r="3.2" fill="rgb(40,180,40)" fill-opacity="0.05"/>
<circle cx="125.32" cy="64.51" r="3.2" fill="rgb(110,110,110)" fill-opacity="0.05"/>
<circle cx="112.12" cy="112.25" r="3.2" fill="rgb(40,40,200)" fill-opacity="0.05"/>
<circle cx="113.96" cy="85.31" r="3.2" fill="rgb(110,110,110)" fill-opacity="0.05"/>
<circle cx="126.97" cy="70.63" r="3.2" fill="rgb(225,40,40)" fill-opacity="0.05"/>
<circle cx="130.81" cy="166.78" r="3.2" fill="rgb(40,40,200)" fill-opacity="0.05"/>
<circle cx="115.27" cy="115.21" r="3.2" fill="rgb(225,40,40)" fill-opacity="0.05"/>
<circle cx="111.95" cy="81.99" r="3.2" fill="rgb(225,40,40)" fill-opacity="0.05"/>
<circle cx="101.27" cy="151.8" r="3.2" fill="rgb(40,180,40)" fill-opacity="0.05"/>
<circle cx="131.08" cy="130.18" r="3.2" fill="rgb(40,40,200)" fill-opacity="0.05"/>
<circle cx="126.24" cy="88.89" r="3.2" fill="rgb(225,40,40)" fill-opacity="0.05"/>
<circle cx="123.97" cy="127.35" r="3.2" fill="rgb(110,110,110)" fill-opacity="0.05"/>
<circle cx="107.38" cy="182.26" r="3.2" fill="rgb(40,180,40)" fill-opacity="0.05"/>
<circle cx="106.93" cy="176.1" r="3.2" fill="rgb(225,40,40)" fill-opacity="0.05"/>
<circle cx="92.42" cy="80.12" r="3.2" fill="rgb(225,40,40)" fill-opacity="0.05"/>
<circle cx="110.48" cy="172.42" r="3.2" fill="rgb(225,40,40)" fill-opacity="0.05"/>
<circle cx="121.61" cy="79.67" r="3.2" fill="rgb(225,40,40)" fill-opacity="0.05"/>
<circle cx="124.81" cy="77.21" r="3.2" fill="rgb(110,110,110)" fill-opacity="0.05"/>
<circle cx="121.54" cy="116.91" r="3.2" fill="rgb(110,110,110)" fill-opacity="0.05"/>
<circle cx="116.96" cy="91.59" r="3.2" fill="rgb(40,40,200)" fill-opacity="0.05"/>
<circle cx="123.13" cy="76.21" r="3.2" fill="rgb(40,40,200)" fill-opacity="0.05"/>
<circle cx="120.34" cy="144.88" r="3.2" fill="rgb(225,40,40)" fill-opacity="0.05"/>
<circle cx="112.6" cy="136.36" r="3.2" fill="rgb(225,40,40)" fill-opacity="0.05"/>
<circle cx="118.08" cy="136.04" r="3.2" fill="rgb(40,180,40)" fill-opacity="0.05"/>
<circle cx="119.17" cy="157.14" r="3.2" fill="rgb(110,110,110)" fill-opacity="0.05"/>
<circle cx="117.11" cy="48.81" r="3.2" fill="rgb(40,180,40)" fill-opacity="0.05"/>
<circle cx="119.95" cy="152.65" r="3.2" fill="rgb(40,180,40)" fill-opacity="0.05"/>
<circle cx="124.05" cy="116.27" r="3.2" fill="rgb(110,110,110)" fill-opacity="0.05"/>
<circle cx="112.11" cy="164.44" r="3.2" fill="rgb(40,180,40)" fill-opacity="0.05"/>
<circle cx="113.67" cy="57.9" r="3.2" fill="rgb(40,180,40)" fill-opacity="0.05"/>
<circle cx="119.6" cy="176.23" r="3.2" fill="rgb(40,40,200)" fill-opacity="0.05"/>
<circle cx="129.71" cy="175.69" r="3.2" fill="rgb(40,180,40)" fill-opacity="0.05"/>
<circle cx="107.75" cy="114.59" r="3.2" fill="rgb(40,180,40)" fill-opacity="0.05"/>
<circle cx="130.61" cy="106.14" r="3.2" fill="rgb(40,180,40)" fill-opacity="0.05"/>
<circle cx="114.63" cy="166.12" r="3.2" fill="rgb(40,40,200)" fill-opacity="0.05"/>
<circle cx="97.62" cy="171.03" r="3.2" fill="rgb(225,40,40)" fill-opacity="0.05"/>
<circle cx="106.53" cy="68.49" r="3.2" fill="rgb(225,40,40)" fill-opacity="0.05"/>
<circle cx="105.38" cy="108.71" r="3.2" fill="rgb(110,110,110)" fill-opacity="0.05"/>
<circle cx="108.08" cy="107.72" r="3.2" fill="rgb(40,180,40)" fill-opacity="0.05"/>
<circle cx="116.88" cy="164.04" r="3.2" fill="rgb(110,110,110)" fill-opacity="0.05"/>
<circle cx="123.89" cy="175.59" r="3.2" fill="rgb(225,40,40)" fill-opacity="0.05"/>
<circle cx="110.01" cy="106.51" r="3.2" fill="rgb(40,180,40)" fill-opacity="0.05"/>
<circle cx="121.22" cy="177.88" r="3.2" fill="rgb(225,40,40)" fill-opacity="0.05"/>
<circle cx="123.52" cy="112.07" r="3.2" fill="rgb(40,180,40)" fill-opacity="0.05"/>
<circle cx="116.3" cy="100.45" r="3.2" fill="rgb(40,180,40)" fill-opacity="0.05"/>
<circle cx="126" cy="176.78" r="3.2" fill="rgb(225,40,40)" fill-opacity="0.05"/>
<circle cx="117.75" cy="182.6" r="3.2" fill="rgb(225,40,40)" fill-opacity="0.05"/>
<circle cx="118.72" cy="99.41" r="3.2" fill="rgb(225,40,40)" fill-opacity="0.05"/>
<circle cx="116.26" cy="72.53" r="3.2" fill="rgb(40,40,200)" fill-opacity="0.05"/>
<circle cx="128.76" cy="154.7" r="3.2" fill="rgb(40,180,40)" fill-opacity="0.05"/>
<circle cx="117.67" cy="86.99" r="3.2" fill="rgb(110,110,110)" fill-opacity="0.05"/>
<circle cx="110.12" cy="140.01" r="3.2" fill="rgb(40,180,40)" fill-opacity="0.05"/>
<circle cx="133.44" cy="143.65" r="3.2" fill="rgb(40,180,40)" fill-opacity="0.05"/>
<circle cx="126.31" cy="111.52" r="3.2" fill="rgb(40,40,200)" fill-opacity="0.05"/>
<circle cx="115.84" cy="52.44" r="3.2" fill="rgb(225,40,40)" fill-opacity="0.05"/>
<circle cx="122.89" cy="137.34" r="3.2" fill="rgb(110,110,110)" fill-opacity="0.05"/>
<circle cx="141.26" cy="129.53" r="3.2" fill="rgb(40,180,40)" fill-opacity="0.05"/>
<circle cx="119.73" cy="100.96" r="3.2" fill="rgb(110,110,110)" fill-opacity="0.05"/>
<circle cx="103.55" cy="100.3" r="3.2" fill="rgb(40,40,200)" fill-opacity="0.05"/>
<circle cx="82.19" cy="166.22" r="3.2" fill="rgb(40,40,200)" fill-opacity="0.05"/>
<circle cx="124.3" cy="154.9" r="3.2" fill="rgb(40,180,40)" fill-opacity="0.05"/>
<circle cx="120.62" cy="173.78" r="3.2" fill="rgb(40,40,200)" fill-opacity="0.05"/>
<circle cx="134.3" cy="131.76" r="3.2" fill="rgb(40,180,40)" fill-opacity="0.05"/>
<circle cx="121.09" cy="65.06" r="3.2" fill="rgb(110,110,110)" fill-opacity="0.05"/>
<circle cx="91.16" cy="169.22" r="3.2" fill="rgb(40,40,200)" fill-opacity="0.05"/>
<circle cx="118.24" cy="66.25" r="3.2" fill="rgb(40,180,40)" fill-opacity="0.05"/>
<circle cx="136.15" cy="156.92" r="3.2" fill="rgb(110,110,110)" fill-opacity="0.05"/>
<circle cx="113.74" cy="132.08" r="3.2" fill="rgb(40,40,200)" fill-opacity="0.05"/>
<circle cx="122.02" cy="120.81" r="3.2" fill="rgb(40,40,200)" fill-opacity="0.05"/>
<circle cx="124.03" cy="167.55" r="3.2" fill="rgb(225,40,40)" fill-opacity="0.05"/>
<circle cx="117.32" cy="155.51" r="3.2" fill="rgb(40,40,200)" fill-opacity="0.05"/>
<circle cx="126.39" cy="96.44" r="3.2" fill="rgb(40,40,200)" fill-opacity="0.05"/>
<circle cx="123.04" cy="121.41" r="3.2" fill="rgb(40,40,200)" fill-opacity="0.05"/>
<circle cx="130.03" cy="166.67" r="3.2" fill="rgb(40,40,200)" fill-opacity="0.05"/>
<circle cx="131.82" cy="143.08" r="3.2" fill="rgb(110,110,110)" fill-opacity="0.05"/>
<circle cx="111.12" cy="147.57" r="3.2" fill="rgb(40,180,40)" fill-opacity="0.05"/>
<circle cx="125.59" cy="180.42" r="3.2" fill="rgb(40,40,200)" fill-opacity="0.05"/>
<circle cx="110.86" cy="133.68" r="3.2" fill="rgb(225,40,40)" fill-opacity="0.05"/>
<circle cx="117.42" cy="92" r="3.2" fill="rgb(225,40,40)" fill-opacity="0.05"/>
<circle cx="120.56" cy="72.52" r="3.2" fill="rgb(40,40,200)" fill-opacity="0.05"/>
<circle cx="112.42" cy="83.76" r="3.2" fill="rgb(225,40,40)" fill-opacity="0.05"/>
<circle cx="129.76" cy="102.36" r="3.2" fill="rgb(40,180,40)" fill-opacity="0.05"/>
<circle cx="123.77" cy="56.58" r="3.2" fill="rgb(40,180,40)" fill-opacity="0.05"/>
<circle cx="104.1" cy="152.24" r="3.2" fill="rgb(40,40,200)" fill-opacity="0.05"/>
<circle cx="104.68" cy="60.98" r="3.2" fill="rgb(40,180,40)" fill-opacity="0.05"/>
<circle cx="108.12" cy="114.03" r="3.2" fill="rgb(40,40,200)" fill-opacity="0.05"/>
<circle cx="129.31" cy="84.24" r="3.2" fill="rgb(110,110,110)" fill-opacity="0.05"/>
<circle cx="110.41" cy="54.66" r="3.2" fill="rgb(40,180,40)" fill-opacity="0.05"/>
<circle cx="113.76" cy="120.78" r="3.2" fill="rgb(110,110,110)" fill-opacity="0.05"/>
<circle cx="135.78" cy="178.61" r="3.2" fill="rgb(225,40,40)" fill-opacity="0.05"/>
<circle cx="116.61" cy="103.81" r="3.2" fill="rgb(40,180,40)" fill-opacity="0.05"/>
<circle cx="115.7" cy="184.46" r="3.2" fill="rgb(40,180,40)" fill-opacity="0.05"/>
<circle cx="105.63" cy="77.05" r="3.2" fill="rgb(110,110,110)" fill-opacity="0.05"/>
<circle cx="120.75" cy="136.1" r="3.2" fill="rgb(40,40,200)" fill-opacity="0.05"/>
<circle cx="103.38" cy="138.44" r="3.2" fill="rgb(40,180,40)" fill-opacity="0.05"/>
<circle cx="116.24" cy="126.17" r="3.2" fill="rgb(40,40,200)" fill-opacity="0.05"/>
<circle cx="127.72" cy="111.66" r="3.2" fill="rgb(40,40,200)" fill-opacity="0.05"/>
<circle cx="113.16" cy="65.6" r="3.2" fill="rgb(40,180,40)" fill-opacity="0.05"/>
<circle cx="100.09" cy="166.13" r="3.2" fill="rgb(40,180,40)" fill-opacity="0.05"/>
<circle cx="114.82" cy="152.26" r="3.2" fill="rgb(40,40,200)" fill-opacity="0.05"/>
<circle cx="111.79" cy="53.7" r="3.2" fill="rgb(110,110,110)" fill-opacity="0.05"/>
<circle cx="122.51" cy="79.54" r="3.2" fill="rgb(225,40,40)" fill-opacity="0.05"/>
<circle cx="130.82" cy="186.43" r="3.2" fill="rgb(225,40,40)" fill-opacity="0.05"/>
<circle cx="113.16" cy="102.67" r="3.2" fill="rgb(40,180,40)" fill-opacity="0.05"/>
<circle cx="104.12" cy="162.75" r="3.2" fill="rgb(40,40,200)" fill-opacity="0.05"/>
<circle cx="100.22" cy="172.57" r="3.2" fill="rgb(225,40,40)" fill-opacity="0.05"/>
<circle cx="112.18" cy="177.69" r="3.2" fill="rgb(40,180,40)" fill-opacity="0.05"/>
<circle cx="124.28" cy="103.58" r="3.2" fill="rgb(110,110,110)" fill-opacity="0.05"/>
<circle cx="123.48" cy="159.74" r="3.2" fill="rgb(40,180,40)" fill-opacity="0.05"/>
<circle cx="122.93" cy="51.27" r="3.2" fill="rgb(225,40,40)" fill-opacity="0.05"/>
<circle cx="112.9" cy="125.34" r="3.2" fill="rgb(40,40,200)" fill-opacity="0.05"/>
<circle cx="120.29" cy="113.93" r="3.2" fill="rgb(110,110,110)" fill-opacity="0.05"/>
<circle cx="129.74" cy="178.73" r="3.2" fill="rgb(110,110,110)" fill-opacity="0.05"/>
<circle cx="122.72" cy="133.42" r="3.2" fill="rgb(40,180,40)" fill-opacity="0.05"/>
<circle cx="130.09" cy="152.71" r="3.2" fill="rgb(40,40,200)" fill-opacity="0.05"/>
<circle cx="128.61" cy="182.75" r="3.2" fill="rgb(40,40,200)" fill-opacity="0.05"/>
<circle cx="133.27" cy="60.51" r="3.2" fill="rgb(110,110,110)" fill-opacity="0.05"/>
<circle cx="120.38" cy="119.81" r="3.2" fill="rgb(225,40,40)" fill-opacity="0.05"/>
<circle cx="125.22" cy="175.88" r="3.2" fill="rgb(40,40,200)" fill-opacity="0.05"/>
<circle cx="128.04" cy="99.63" r="3.2" fill="rgb(40,180,40)" fill-opacity="0.05"/>
<circle cx="113.76" cy="151.36" r="3.2" fill="rgb(40,180,40)" fill-opacity="0.05"/>
<circle cx="126.28" cy="132.86" r="3.2" fill="rgb(40,180,40)" fill-opacity="0.05"/>
<circle cx="106.63" cy="118.98" r="3.2" fill="rgb(40,40,200)" fill-opacity="0.05"/>
<circle cx="124.78" cy="153.17" r="3.2" fill="rgb(40,180,40)" fill-opacity="0.05"/>
<circle cx="102.03" cy="101.99" r="3.2" fill="rgb(110,110,110)" fill-opacity="0.05"/>
<circle cx="135.7" cy="134.22" r="3.2" fill="rgb(110,110,110)" fill-opacity="0.05"/>
<circle cx="128.47" cy="129.72" r="3.2" fill="rgb(40,180,40)" fill-opacity="0.05"/>
<circle cx="102.74" cy="172.89" r="3.2" fill="rgb(40,40,200)" fill-opacity="0.05"/>
<circle cx="137.52" cy="150.13" r="3.2" fill="rgb(110,110,110)" fill-opacity="0.05"/>
<circle cx="123.2" cy="112.02" r="3.2" fill="rgb(40,40,200)" fill-opacity="0.05"/>
<circle cx="112.26" cy="92.55" r="3.2" fill="rgb(110,110,110)" fill-opacity="0.05"/>
<circle cx="113.54" cy="154.89" r="3.2" fill="rgb(40,180,40)" fill-opacity="0.05"/>
<circle cx="127.22" cy="72.87" r="3.2" fill="rgb(40,40,200)" fill-opacity="0.05"/>
<circle cx="128.33" cy="139.25" r="3.2" fill="rgb(40,180,40)" fill-opacity="0.05"/>
<circle cx="124.17" cy="157.13" r="3.2" fill="rgb(40,40,200)" fill-opacity="0.05"/>
<circle cx="119.83" cy="155.86" r="3.2" fill="rgb(225,40,40)" fill-opacity="0.05"/>
<circle cx="128.86" cy="138.36" r="3.2" fill="rgb(110,110,110)" fill-opacity="0.05"/>
<circle cx="138.18" cy="79.85" r="3.2" fill="rgb(225,40,40)" fill-opacity="0.05"/>
<circle cx="115.49" cy="138.9" r="3.2" fill="rgb(110,110,110)" fill-opacity="0.05"/>
<circle cx="126.89" cy="108.23" r="3.2" fill="rgb(225,40,40)" fill-opacity="0.05"/>
<circle cx="112.59" cy="155.65" r="3.2" fill="rgb(40,180,40)" fill-opacity="0.05"/>
<circle cx="136.49" cy="80.95" r="3.2" fill="rgb(225,40,40)" fill-opacity="0.05"/>
<circle cx="123.59" cy="87.31" r="3.2" fill="rgb(40,180,40)" fill-opacity="0.05"/>
<circle cx="128.56" cy="84.24" r="3.2" fill="rgb(110,110,110)" fill-opacity="0.05"/>
<circle cx="117.64" cy="167.83" r="3.2" fill="rgb(40,180,40)" fill-opacity="0.05"/>
<circle cx="130.08" cy="165.64" r="3.2" fill="rgb(40,40,200)" fill-opacity="0.05"/>
<circle cx="123.54" cy="122.59" r="3.2" fill="rgb(225,40,40)" fill-opacity="0.05"/>
<circle cx="124.77" cy="49.56" r="3.2" fill="rgb(225,40,40)" fill-opacity="0.05"/>
<circle cx="99.49" cy="180.42" r="3.2" fill="rgb(110,110,110)" fill-opacity="0.05"/>
<circle cx="120.37" cy="148.27" r="3.2" fill="rgb(40,40,200)" fill-opacity="0.05"/>
<circle cx="119.52" cy="169.33" r="3.2" fill="rgb(225,40,40)" fill-opacity="0.05"/>
<circle cx="126.69" cy="77.47" r="3.2" fill="rgb(40,180,40)" fill-opacity="0.05"/>
<circle cx="130.08" cy="168.46" r="3.2" fill="rgb(225,40,40)" fill-opacity="0.05"/>
<circle cx="141.01" cy="152.38" r="3.2" fill="rgb(40,40,200)" fill-opacity="0.05"/>
<circle cx="111.89" cy="169.96" r="3.2" fill="rgb(40,40,200)" fill-opacity="0.05"/>
<circle cx="123.24" cy="67.88" r="3.2" fill="rgb(225,40,40)" fill-opacity="0.05"/>
<circle cx="127.02" cy="101.29" r="3.2" fill="rgb(40,180,40)" fill-opacity="0.05"/>
<circle cx="102.26" cy="167.66" r="3.2" fill="rgb(110,110,110)" fill-opacity="0.05"/>
<circle cx="126.04" cy="151.2" r="3.2" fill="rgb(40,180,40)" fill-opacity="0.05"/>
<circle cx="130.73" cy="69.9" r="3.2" fill="rgb(40,180,40)" fill-opacity="0.05"/>
<circle cx="105.47" cy="69.03" r="3.2" fill="rgb(40,180,40)" fill-opacity="0.05"/>
<circle cx="119.06" cy="173.09" r="3.2" fill="rgb(40,40,200)" fill-opacity="0.05"/>
<circle cx="125.17" cy="106.06" r="3.2" fill="rgb(40,180,40)" fill-opacity="0.05"/>
<circle cx="116.95" cy="57.6" r="3.2" fill="rgb(110,110,110)" fill-opacity="0.05"/>
<circle cx="112.15" cy="87.27" r="3.2" fill="rgb(225,40,40)" fill-opacity="0.05"/>
<circle cx="113.12" cy="139.12" r="3.2" fill="rgb(225,40,40)" fill-opacity="0.05"/>
<circle cx="134.17" cy="157.04" r="3.2" fill="rgb(40,180,40)" fill-opacity="0.05"/>
<circle cx="105.55" cy="111.74" r="3.2" fill="rgb(40,180,40)" fill-opacity="0.05"/>
<circle cx="119.1" cy="140.82" r="3.2" fill="rgb(225,40,40)" fill-opacity="0.05"/>
<circle cx="140.39" cy="146.92" r="3.2" fill="rgb(40,180,40)" fill-opacity="0.05"/>
<circle cx="109.4" cy="148.89" r="3.2" fill="rgb(225,40,40)" fill-opacity="0.05"/>
<circle cx="124.84" cy="114.12" r="3.2" fill="rgb(110,110,110)" fill-opacity="0.05"/>
<circle cx="91.52" cy="154.12" r="3.2" fill="rgb(110,110,110)" fill-opacity="0.05"/>
<circle cx="127.2" cy="148.41" r="3.2" fill="rgb(40,180,40)" fill-opacity="0.05"/>
<circle cx="139.83" cy="52.89" r="3.2" fill="rgb(40,180,40)" fill-opacity="0.05"/>
<circle cx="119.72" cy="128.45" r="3.2" fill="rgb(110,110,110)" fill-opacity="0.05"/>
<circle cx="136.21" cy="78.02" r="3.2" fill="rgb(225,40,40)" fill-opacity="0.05"/>
<circle cx="104.85" cy="90.67" r="3.2" fill="rgb(110,110,110)" fill-opacity="0.05"/>
<circle cx="98.5" cy="171.59" r="3.2" fill="rgb(225,40,40)" fill-opacity="0.05"/>
<circle cx="128.8" cy="87.22" r="3.2" fill="rgb(225,40,40)" fill-opacity="0.05"/>
<circle cx="126.97" cy="81.78" r="3.2" fill="rgb(40,180,40)" fill-opacity="0.05"/>
<circle cx="118.01" cy="81.17" r="3.2" fill="rgb(110,110,110)" fill-opacity="0.05"/>
<circle cx="128.57" cy="68.93" r="3.2" fill="rgb(40,40,200)" fill-opacity="0.05"/>
<circle cx="106.59" cy="122.65" r="3.2" fill="rgb(110,110,110)" fill-opacity="0.05"/>
<circle cx="126.49" cy="125.65" r="3.2" fill="rgb(110,110,110)" fill-opacity="0.05"/>
<circle cx="117.87" cy="130.35" r="3.2" fill="rgb(40,40,200)" fill-opacity="0.05"/>
<circle cx="117.61" cy="158.51" r="3.2" fill="rgb(225,40,40)" fill-opacity="0.05"/>
<circle cx="133.29" cy="59.11" r="3.2" fill="rgb(110,110,110)" fill-opacity="0.05"/>
<circle cx="126.73" cy="125.74" r="3.2" fill="rgb(110,110,110)" fill-opacity="0.05"/>
<circle cx="122.01" cy="118.81" r="3.2" fill="rgb(40,40,200)" fill-opacity="0.05"/>
<circle cx="119.66" cy="101.37" r="3.2" fill="rgb(40,180,40)" fill-opacity="0.05"/>
<circle cx="103.53" cy="106.53" r="3.2" fill="rgb(40,180,40)" fill-opacity="0.05"/>
<circle cx="108.41" cy="112.77" r="3.2" fill="rgb(40,180,40)" fill-opacity="0.05"/>
<circle cx="111.98" cy="89.45" r="3.2" fill="rgb(40,40,200)" fill-opacity="0.05"/>
<circle cx="128.93" cy="127.44" r="3.2" fill="rgb(40,40,200)" fill-opacity="0.05"/>
<circle cx="123.2" cy="173.4" r="3.2" fill="rgb(40,40,200)" fill-opacity="0.05"/>
<circle cx="110.7" cy="166.77" r="3.2" fill="rgb(40,40,200)" fill-opacity="0.05"/>
<circle cx="120.66" cy="175.22" r="3.2" fill="rgb(225,40,40)" fill-opacity="0.05"/>
<circle cx="133.67" cy="171.3" r="3.2" fill="rgb(110,110,110)" fill-opacity="0.05"/>
<circle cx="122.6" cy="128.08" r="3.2" fill="rgb(225,40,40)" fill-opacity="0.05"/>
<circle cx="143.33" cy="57.13" r="3.2" fill="rgb(40,180,40)" fill-opacity="0.05"/>
<circle cx="126.4" cy="164.6" r="3.2" fill="rgb(110,110,110)" fill-opacity="0.05"/>
<circle cx="118.41" cy="67.31" r="3.2" fill="rgb(225,40,40)" fill-opacity="0.05"/>
<circle cx="111.22" cy="164.26" r="3.2" fill="rgb(40,180,40)" fill-opacity="0.05"/>
<circle cx="133.26" cy="79.02" r="3.2" fill="rgb(40,40,200)" fill-opacity="0.05"/>
<circle cx="134.78" cy="138.53" r="3.2" fill="rgb(40,180,40)" fill-opacity="0.05"/>
<circle cx="134.03" cy="67.7" r="3.2" fill="rgb(40,40,200)" fill-opacity="0.05"/>
<circle cx="115.92" cy="68.61" r="3.2" fill="rgb(40,40,200)" fill-opacity="0.05"/>
<circle cx="103.15" cy="126.92" r="3.2" fill="rgb(225,40,40)" fill-opacity="0.05"/>
<circle cx="143.08" cy="121.05" r="3.2" fill="rgb(40,180,40)" fill-opacity="0.05"/>
<circle cx="106.37" cy="94.79" r="3.2" fill="rgb(225,40,40)" fill-opacity="0.05"/>
<circle cx="129" cy="178.04" r="3.2" fill="rgb(225,40,40)" fill-opacity="0.05"/>
<circle cx="113.44" cy="97.03" r="3.2" fill="rgb(40,180,40)" fill-opacity="0.05"/>
<circle cx="134.58" cy="64.25" r="3.2" fill="rgb(40,180,40)" fill-opacity="0.05"/>
<circle cx="121.09" cy="187.49" r="3.2" fill="rgb(40,40,200)" fill-opacity="0.05"/>
<circle cx="113.69" cy="84.49" r="3.2" fill="rgb(225,40,40)" fill-opacity="0.05"/>
<circle cx="123.82" cy="183.42" r="3.2" fill="rgb(225,40,40)" fill-opacity="0.05"/>
<circle cx="128.91" cy="85" r="3.2" fill="rgb(110,110,110)" fill-opacity="0.05"/>
<circle cx="117.92" cy="88.25" r="3.2" fill="rgb(225,40,40)" fill-opacity="0.05"/>
<circle cx="137.67" cy="54.02" r="3.2" fill="rgb(40,180,40)" fill-opacity="0.05"/>
<circle cx="116.09" cy="141.53" r="3.2" fill="rgb(225,40,40)" fill-opacity="0.05"/>
<circle cx="126.21" cy="132.41" r="3.2" fill="rgb(225,40,40)" fill-opacity="0.05"/>
<circle cx="135.97" cy="178" r="3.2" fill="rgb(110,110,110)" fill-opacity="0.05"/>
<circle cx="127.5" cy="159.77" r="3.2" fill="rgb(40,40,200)" fill-opacity="0.05"/>
<circle cx="123.59" cy="77.08" r="3.2" fill="rgb(40,180,40)" fill-opacity="0.05"/>
<circle cx="113.99" cy="69.39" r="3.2" fill="rgb(225,40,40)" fill-opacity="0.05"/>
<circle cx="121.65" cy="76.69" r="3.2" fill="rgb(40,40,200)" fill-opacity="0.05"/>
<circle cx="97.34" cy="84.82" r="3.2" fill="rgb(225,40,40)" fill-opacity="0.05"/>
<circle cx="110.42" cy="170.2" r="3.2" fill="rgb(40,40,200)" fill-opacity="0.05"/>
<circle cx="127.41" cy="129.89" r="3.2" fill="rgb(110,110,110)" fill-opacity="0.05"/>
<circle cx="118.73" cy="83.85" r="3.2" fill="rgb(225,40,40)" fill-opacity="0.05"/>
<circle cx="102.37" cy="62.48" r="3.2" fill="rgb(40,180,40)" fill-opacity="0.05"/>
<circle cx="106.21" cy="147.4" r="3.2" fill="rgb(40,180,40)" fill-opacity="0.05"/>
<circle cx="122.09" cy="169.77" r="3.2" fill="rgb(225,40,40)" fill-opacity="0.05"/>
<circle cx="106.54" cy="125.19" r="3.2" fill="rgb(40,40,200)" fill-opacity="0.05"/>
<circle cx="130.34" cy="141.27" r="3.2" fill="rgb(110,110,110)" fill-opacity="0.05"/>
<circle cx="122.65" cy="56.55" r="3.2" fill="rgb(225,40,40)" fill-opacity="0.05"/>
<circle cx="115.66" cy="89.21" r="3.2" fill="rgb(40,180,40)" fill-opacity="0.05"/>
<circle cx="131.13" cy="131.46" r="3.2" fill="rgb(225,40,40)" fill-opacity="0.05"/>
<circle cx="119.94" cy="56.52" r="3.2" fill="rgb(40,180,40)" fill-opacity="0.05"/>
<circle cx="119.94" cy="161.2" r="3.2" fill="rgb(40,180,40)" fill-opacity="0.05"/>
<circle cx="130.33" cy="142.23" r="3.2" fill="rgb(225,40,40)" fill-opacity="0.05"/>
<circle cx="120.36" cy="91.01" r="3.2" fill="rgb(40,180,40)" fill-opacity="0.05"/>
<circle cx="125.9" cy="171.74" r="3.2" fill="rgb(110,110,110)" fill-opacity="0.05"/>
<circle cx="102.68" cy="175.85" r="3.2" fill="rgb(40,40,200)" fill-opacity="0.05"/>
<circle cx="107.14" cy="168.76" r="3.2" fill="rgb(40,40,200)" fill-opacity="0.05"/>
<circle cx="104.17" cy="94.74" r="3.2" fill="rgb(40,180,40)" fill-opacity="0.05"/>
<circle cx="123.83" cy="81.45" r="3.2" fill="rgb(40,40,200)" fill-opacity="0.05"/>
<circle cx="136.98" cy="178.79" r="3.2" fill="rgb(40,180,40)" fill-opacity="0.05"/>
<circle cx="122.75" cy="62.43" r="3.2" fill="rgb(40,40,200)" fill-opacity="0.05"/>
<circle cx="110.81" cy="128.54" r="3.2" fill="rgb(225,40,40)" fill-opacity="0.05"/>
<circle cx="122.52" cy="132.76" r="3.2" fill="rgb(40,180,40)" fill-opacity="0.05"/>
<circle cx="112.92" cy="103.84" r="3.2" fill="rgb(110,110,110)" fill-opacity="0.05"/>
<circle cx="109.63" cy="141.05" r="3.2" fill="rgb(40,40,200)" fill-opacity="0.05"/>
<circle cx="112.46" cy="89.73" r="3.2" fill="rgb(225,40,40)" fill-opacity="0.05"/>
<circle cx="101.24" cy="166.05" r="3.2" fill="rgb(225,40,40)" fill-opacity="0.05"/>
<circle cx="134.07" cy="189.46" r="3.2" fill="rgb(225,40,40)" fill-opacity="0.05"/>
<circle cx="101.29" cy="128.53" r="3.2" fill="rgb(40,40,200)" fill-opacity="0.05"/>
<circle cx="115.4" cy="189.62" r="3.2" fill="rgb(110,110,110)" fill-opacity="0.05"/>
<circle cx="116.86" cy="74.65" r="3.2" fill="rgb(40,40,200)" fill-opacity="0.05"/>
<circle cx="123.83" cy="167.3" r="3.2" fill="rgb(40,180,40)" fill-opacity="0.05"/>
<circle cx="116.48" cy="145.8" r="3.2" fill="rgb(225,40,40)" fill-opacity="0.05"/>
<circle cx="91.25" cy="148.21" r="3.2" fill="rgb(40,180,40)" fill-opacity="0.05"/>
<circle cx="118.96" cy="167.94" r="3.2" fill="rgb(110,110,110)" fill-opacity="0.05"/>
<circle cx="120.04" cy="181.2" r="3.2" fill="rgb(40,180,40)" fill-opacity="0.05"/>
<circle cx="131.59" cy="44.91" r="3.2" fill="rgb(110,110,110)" fill-opacity="0.05"/>
<circle cx="119.06" cy="128.14" r="3.2" fill="rgb(40,180,40)" fill-opacity="0.05"/>
<circle cx="108.73" cy="148.43" r="3.2" fill="rgb(40,40,200)" fill-opacity="0.05"/>
<circle cx="125.37" cy="158.25" r="3.2" fill="rgb(40,40,200)" fill-opacity="0.05"/>
<circle cx="115.84" cy="70.18" r="3.2" fill="rgb(110,110,110)" fill-opacity="0.05"/>
<circle cx="105.98" cy="149.7" r="3.2" fill="rgb(110,110,110)" fill-opacity="0.05"/>
<circle cx="136.68" cy="146.61" r="3.2" fill="rgb(40,180,40)" fill-opacity="0.05"/>
<circle cx="123.99" cy="59.19" r="3.2" fill="rgb(110,110,110)" fill-opacity="0.05"/>
<circle cx="141.54" cy="140.05" r="3.2" fill="rgb(225,40,40)" fill-opacity="0.05"/>
<circle cx="140.27" cy="126.82" r="3.2" fill="rgb(40,40,200)" fill-opacity="0.05"/>
<circle cx="101.09" cy="94.76" r="3.2" fill="rgb(110,110,110)" fill-opacity="0.05"/>
<circle cx="127.3" cy="108.67" r="3.2" fill="rgb(110,110,110)" fill-opacity="0.05"/>
<circle cx="111.54" cy="120.02" r="3.2" fill="rgb(40,40,200)" fill-opacity="0.05"/>
<circle cx="136.74" cy="138.78" r="3.2" fill="rgb(40,180,40)" fill-opacity="0.05"/>
<circle cx="113.31" cy="119.68" r="3.2" fill="rgb(110,110,110)" fill-opacity="0.05"/>
<circle cx="94.02" cy="179.93" r="3.2" fill="rgb(225,40,40)" fill-opacity="0.05"/>
<circle cx="108.72" cy="133.59" r="3.2" fill="rgb(40,40,200)" fill-opacity="0.05"/>
<circle cx="126.93" cy="137.01" r="3.2" fill="rgb(225,40,40)" fill-opacity="0.05"/>
<circle cx="103.25" cy="173.79" r="3.2" fill="rgb(40,40,200)" fill-opacity="0.05"/>
<circle cx="124.11" cy="147.91" r="3.2" fill="rgb(225,40,40)" fill-opacity="0.05"/>
<circle cx="94.86" cy="60.88" r="3.2" fill="rgb(40,40,200)" fill-opacity="0.05"/>
<circle cx="122.28" cy="136.41" r="3.2" fill="rgb(225,40,40)" fill-opacity="0.05"/>
<circle cx="134.08" cy="140.23" r="3.2" fill="rgb(110,110,110)" fill-opacity="0.05"/>
<circle cx="125.28" cy="149.89" r="3.2" fill="rgb(40,180,40)" fill-opacity="0.05"/>
<circle cx="101.66" cy="180.28" r="3.2" fill="rgb(40,40,200)" fill-opacity="0.05"/>
<circle cx="144.53" cy="149.32" r="3.2" fill="rgb(40,180,40)" fill-opacity="0.05"/>
<circle cx="127.47" cy="155.9" r="3.2" fill="rgb(40,180,40)" fill-opacity="0.05"/>
<circle cx="129.51" cy="135.02" r="3.2" fill="rgb(110,110,110)" fill-opacity="0.05"/>
<circle cx="114.06" cy="78.47" r="3.2" fill="rgb(110,110,110)" fill-opacity="0.05"/>
<circle cx="111.79" cy="167.42" r="3.2" fill="rgb(225,40,40)" fill-opacity="0.05"/>
<circle cx="120.78" cy="140.32" r="3.2" fill="rgb(110,110,110)" fill-opacity="0.05"/>
<circle cx="121.15" cy="113.45" r="3.2" fill="rgb(40,180,40)" fill-opacity="0.05"/>
<circle cx="116.94" cy="82.82" r="3.2" fill="rgb(40,180,40)" fill-opacity="0.05"/>
<circle cx="146.61" cy="158.67" r="3.2" fill="rgb(40,40,200)" fill-opacity="0.05"/>
<circle cx="121.26" cy="139.61" r="3.2" fill="rgb(40,180,40)" fill-opacity="0.05"/>
<circle cx="117.34" cy="77.36" r="3.2" fill="rgb(225,40,40)" fill-opacity="0.05"/>
<circle cx="135.29" cy="180.56" r="3.2" fill="rgb(225,40,40)" fill-opacity="0.05"/>
<circle cx="119.45" cy="111.4" r="3.2" fill="rgb(110,110,110)" fill-opacity="0.05"/>
<circle cx="115.77" cy="176.73" r="3.2" fill="rgb(225,40,40)" fill-opacity="0.05"/>
<circle cx="117.98" cy="162.39" r="3.2" fill="rgb(40,180,40)" fill-opacity="0.05"/>
<circle cx="122.81" cy="154.49" r="3.2" fill="rgb(40,40,200)" fill-opacity="0.05"/>
<circle cx="108.37" cy="159.03" r="3.2" fill="rgb(40,180,40)" fill-opacity="0.05"/>
<circle cx="104.98" cy="147.58" r="3.2" fill="rgb(40,180,40)" fill-opacity="0.05"/>
<circle cx="114.3" cy="176.48" r="3.2" fill="rgb(225,40,40)" fill-opacity="0.05"/>
<circle cx="116.79" cy="135.65" r="3.2" fill="rgb(225,40,40)" fill-opacity="0.05"/>
<circle cx="137.03" cy="121.66" r="3.2" fill="rgb(40,180,40)" fill-opacity="0.05"/>
<circle cx="114.3" cy="67.79" r="3.2" fill="rgb(40,40,200)" fill-opacity="0.05"/>
<circle cx="125.83" cy="80.77" r="3.2" fill="rgb(225,40,40)" fill-opacity="0.05"/>
<circle cx="121.25" cy="114.5" r="3.2" fill="rgb(40,40,200)" fill-opacity="0.05"/>
<circle cx="123.63" cy="87.74" r="3.2" fill="rgb(225,40,40)" fill-opacity="0.05"/>
<circle cx="133.58" cy="102.99" r="3.2" fill="rgb(40,180,40)" fill-opacity="0.05"/>
<circle cx="113.54" cy="178.81" r="3.2" fill="rgb(110,110,110)" fill-opacity="0.05"/>
<circle cx="144.49" cy="65.5" r="3.2" fill="rgb(225,40,40)" fill-opacity="0.05"/>
<circle cx="135.28" cy="71.25" r="3.2" fill="rgb(40,40,200)" fill-opacity="0.05"/>
<circle cx="114.51" cy="82.31" r="3.2" fill="rgb(225,40,40)" fill-opacity="0.05"/>
<circle cx="127.64" cy="170.13" r="3.2" fill="rgb(40,40,200)" fill-opacity="0.05"/>
<circle cx="100.94" cy="127.21" r="3.2" fill="rgb(225,40,40)" fill-opacity="0.05"/>
<circle cx="127.68" cy="75.71" r="3.2" fill="rgb(40,40,200)" fill-opacity="0.05"/>
<circle cx="115.9" cy="105.04" r="3.2" fill="rgb(40,180,40)" fill-opacity="0.05"/>
<circle cx="118.11" cy="58.61" r="3.2" fill="rgb(225,40,40)" fill-opacity="0.05"/>
<circle cx="102.51" cy="84.2" r="3.2" fill="rgb(40,40,200)" fill-opacity="0.05"/>
<circle cx="103.8" cy="96.2" r="3.2" fill="rgb(40,180,40)" fill-opacity="0.05"/>
<circle cx="108.88" cy="54.88" r="3.2" fill="rgb(40,180,40)" fill-opacity="0.05"/>
<circle cx="135.87" cy="176.93" r="3.2" fill="rgb(225,40,40)" fill-opacity="0.05"/>
<circle cx="126.44" cy="59.43" r="3.2" fill="rgb(40,180,40)" fill-opacity="0.05"/>
<circle cx="102.7" cy="144.35" r="3.2" fill="rgb(225,40,40)" fill-opacity="0.05"/>
<circle cx="132.06" cy="143.53" r="3.2" fill="rgb(40,180,40)" fill-opacity="0.05"/>
<circle cx="107.36" cy="79.78" r="3.2" fill="rgb(40,40,200)" fill-opacity="0.05"/>
<circle cx="130.1" cy="81.32" r="3.2" fill="rgb(110,110,110)" fill-opacity="0.05"/>
<circle cx="117.88" cy="108.73" r="3.2" fill="rgb(110,110,110)" fill-opacity="0.05"/>
<circle cx="134.97" cy="168.11" r="3.2" fill="rgb(40,40,200)" fill-opacity="0.05"/>
<circle cx="118.37" cy="109.65" r="3.2" fill="rgb(40,180,40)" fill-opacity="0.05"/>
<circle cx="106.73" cy="174.83" r="3.2" fill="rgb(40,40,200)" fill-opacity="0.05"/>
<circle cx="117.04" cy="184.41" r="3.2" fill="rgb(110,110,110)" fill-opacity="0.05"/>
<circle cx="140.16" cy="83.79" r="3.2" fill="rgb(110,110,110)" fill-opacity="0.05"/>
<circle cx="121.81" cy="155.91" r="3.2" fill="rgb(110,110,110)" fill-opacity="0.05"/>
<circle cx="97.85" cy="108.07" r="3.2" fill="rgb(40,180,40)" fill-opacity="0.05"/>
<circle cx="116.85" cy="174.04" r="3.2" fill="rgb(40,40,200)" fill-opacity="0.05"/>
<circle cx="124.43" cy="92.97" r="3.2" fill="rgb(225,40,40)" fill-opacity="0.05"/>
<circle cx="114.24" cy="105.02" r="3.2" fill="rgb(40,180,40)" fill-opacity="0.05"/>
<circle cx="134.49" cy="157.93" r="3.2" fill="rgb(225,40,40)" fill-opacity="0.05"/>
<circle cx="111.15" cy="121.35" r="3.2" fill="rgb(110,110,110)" fill-opacity="0.05"/>
<circle cx="126.2" cy="62.67" r="3.2" fill="rgb(110,110,110)" fill-opacity="0.05"/>
<circle cx="122.34" cy="180.76" r="3.2" fill="rgb(225,40,40)" fill-opacity="0.05"/>
<circle cx="137.39" cy="174.45" r="3.2" fill="rgb(225,40,40)" fill-opacity="0.05"/>
<circle cx="101.34" cy="138.18" r="3.2" fill="rgb(110,110,110)" fill-opacity="0.05"/>
<circle cx="115.84" cy="107.28" r="3.2" fill="rgb(225,40,40)" fill-opacity="0.05"/>
<circle cx="113.32" cy="70.22" r="3.2" fill="rgb(40,40,200)" fill-opacity="0.05"/>
<circle cx="116.93" cy="46.86" r="3.2" fill="rgb(110,110,110)" fill-opacity="0.05"/>
<circle cx="133.37" cy="139.4" r="3.2" fill="rgb(225,40,40)" fill-opacity="0.05"/>
<circle cx="112.9" cy="162.67" r="3.2" fill="rgb(40,40,200)" fill-opacity="0.05"/>
<circle cx="118.69" cy="159.25" r="3.2" fill="rgb(40,40,200)" fill-opacity="0.05"/>
<circle cx="120.01" cy="167.19" r="3.2" fill="rgb(40,40,200)" fill-opacity="0.05"/>
<circle cx="118.7" cy="138.32" r="3.2" fill="rgb(110,110,110)" fill-opacity="0.05"/>
<circle cx="134.67" cy="181.55" r="3.2" fill="rgb(110,110,110)" fill-opacity="0.05"/>
<circle cx="127.31" cy="140.46" r="3.2" fill="rgb(225,40,40)" fill-opacity="0.05"/>
<circle cx="116.74" cy="158.21" r="3.2" fill="rgb(40,180,40)" fill-opacity="0.05"/>
<circle cx="128.38" cy="124.37" r="3.2" fill="rgb(40,40,200)" fill-opacity="0.05"/>
<circle cx="134.1" cy="70.35" r="3.2" fill="rgb(40,180,40)" fill-opacity="0.05"/>
<circle cx="128.18" cy="170.95" r="3.2" fill="rgb(225,40,40)" fill-opacity="0.05"/>
<circle cx="132.05" cy="68.96" r="3.2" fill="rgb(225,40,40)" fill-opacity="0.05"/>
<circle cx="107.36" cy="113.17" r="3.2" fill="rgb(40,40,200)" fill-opacity="0.05"/>
<circle cx="113.65" cy="127.76" r="3.2" fill="rgb(40,180,40)" fill-opacity="0.05"/>
<circle cx="127.82" cy="155.47" r="3.2" fill="rgb(40,40,200)" fill-opacity="0.05"/>
<circle cx="117.98" cy="161.3" r="3.2" fill="rgb(110,110,110)" fill-opacity="0.05"/>
<circle cx="133.37" cy="148.17" r="3.2" fill="rgb(110,110,110)" fill-opacity="0.05"/>
<circle cx="124.57" cy="175.01" r="3.2" fill="rgb(225,40,40)" fill-opacity="0.05"/>
<circle cx="105.81" cy="176.85" r="3.2" fill="rgb(40,180,40)" fill-opacity="0.05"/>
<circle cx="139.63" cy="93.92" r="3.2" fill="rgb(110,110,110)" fill-opacity="0.05"/>
<circle cx="103.15" cy="151.8" r="3.2" fill="rgb(40,180,40)" fill-opacity="0.05"/>
<circle cx="124.3" cy="55.1" r="3.2" fill="rgb(225,40,40)" fill-opacity="0.05"/>
<circle cx="118.78" cy="102.03" r="3.2" fill="rgb(40,180,40)" fill-opacity="0.05"/>
<circle cx="141.98" cy="179.58" r="3.2" fill="rgb(40,180,40)" fill-opacity="0.05"/>
<circle cx="123.16" cy="101.95" r="3.2" fill="rgb(225,40,40)" fill-opacity="0.05"/>
<circle cx="117.2" cy="156.3" r="3.2" fill="rgb(40,180,40)" fill-opacity="0.05"/>
<circle cx="127.81" cy="191.99" r="3.2" fill="rgb(225,40,40)" fill-opacity="0.05"/>
<circle cx="112.98" cy="131.14" r="3.2" fill="rgb(110,110,110)" fill-opacity="0.05"/>
<circle cx="114.15" cy="68.47" r="3.2" fill="rgb(225,40,40)" fill-opacity="0.05"/>
<circle cx="135.86" cy="135.1" r="3.2" fill="rgb(225,40,40)" fill-opacity="0.05"/>
<circle cx="97.74" cy="94.18" r="3.2" fill="rgb(40,180,40)" fill-opacity="0.05"/>
<circle cx="119.98" cy="162.13" r="3.2" fill="rgb(40,40,200)" fill-opacity="0.05"/>
<circle cx="134.32" cy="59.28" r="3.2" fill="rgb(40,40,200)" fill-opacity="0.05"/>
<circle cx="101.07" cy="98.5" r="3.2" fill="rgb(225,40,40)" fill-opacity="0.05"/>
<circle cx="123.67" cy="85.06" r="3.2" fill="rgb(110,110,110)" fill-opacity="0.05"/>
<circle cx="109.66" cy="166.31" r="3.2" fill="rgb(110,110,110)" fill-opacity="0.05"/>
<circle cx="107.29" cy="169.35" r="3.2" fill="rgb(40,40,200)" fill-opacity="0.05"/>
<circle cx="132.68" cy="90.67" r="3.2" fill="rgb(110,110,110)" fill-opacity="0.05"/>
<circle cx="105.48" cy="178.96" r="3.2" fill="rgb(110,110,110)" fill-opacity="0.05"/>
<circle cx="125.7" cy="166.76" r="3.2" fill="rgb(40,40,200)" fill-opacity="0.05"/>
<circle cx="116.98" cy="149.18" r="3.2" fill="rgb(110,110,110)" fill-opacity="0.05"/>
<circle cx="127.96" cy="72.49" r="3.2" fill="rgb(40,40,200)" fill-opacity="0.05"/>
<circle cx="126.9" cy="157.52" r="3.2" fill="rgb(40,180,40)" fill-opacity="0.05"/>
<circle cx="111.91" cy="126.83" r="3.2" fill="rgb(40,40,200)" fill-opacity="0.05"/>
<circle cx="128.6" cy="130.12" r="3.2" fill="rgb(225,40,40)" fill-opacity="0.05"/>
<circle cx="132.87" cy="186.63" r="3.2" fill="rgb(40,180,40)" fill-opacity="0.05"/>
<circle cx="104.62" cy="187.98" r="3.2" fill="rgb(110,110,110)" fill-opacity="0.05"/>
<circle cx="142.93" cy="168.15" r="3.2" fill="rgb(40,180,40)" fill-opacity="0.05"/>
<circle cx="114.28" cy="59.12" r="3.2" fill="rgb(40,180,40)" fill-opacity="0.05"/>
<circle cx="127.12" cy="136.17" r="3.2" fill="rgb(110,110,110)" fill-opacity="0.05"/>
<circle cx="122.69" cy="73.88" r="3.2" fill="rgb(40,40,200)" fill-opacity="0.05"/>
<circle cx="106.47" cy="182.44" r="3.2" fill="rgb(110,110,110)" fill-opacity="0.05"/>
<circle cx="123.61" cy="92.44" r="3.2" fill="rgb(40,180,40)" fill-opacity="0.05"/>
<circle cx="116.45" cy="91.08" r="3.2" fill="rgb(40,180,40)" fill-opacity="0.05"/>
<circle cx="128.29" cy="151.07" r="3.2" fill="rgb(110,110,110)" fill-opacity="0.05"/>
<circle cx="135.98" cy="114.97" r="3.2" fill="rgb(40,180,40)" fill-opacity="0.05"/>
<circle cx="112.42" cy="128.07" r="3.2" fill="rgb(40,40,200)" fill-opacity="0.05"/>
<circle cx="114.7" cy="70.38" r="3.2" fill="rgb(40,180,40)" fill-opacity="0.05"/>
<circle cx="130.72" cy="90.19" r="3.2" fill="rgb(40,40,200)" fill-opacity="0.05"/>
<circle cx="121.71" cy="92.36" r="3.2" fill="rgb(225,40,40)" fill-opacity="0.05"/>
<circle cx="101.66" cy="181.55" r="3.2" fill="rgb(110,110,110)" fill-opacity="0.05"/>
<circle cx="134.73" cy="113.92" r="3.2" fill="rgb(40,40,200)" fill-opacity="0.05"/>
<circle cx="123.53" cy="124.16" r="3.2" fill="rgb(40,40,200)" fill-opacity="0.05"/>
<circle cx="131.09" cy="120.87" r="3.2" fill="rgb(40,180,40)" fill-opacity="0.05"/>
<circle cx="142.61" cy="174.79" r="3.2" fill="rgb(225,40,40)" fill-opacity="0.05"/>
<circle cx="113.12" cy="121.01" r="3.2" fill="rgb(225,40,40)" fill-opacity="0.05"/>
<circle cx="131.83" cy="162.51" r="3.2" fill="rgb(225,40,40)" fill-opacity="0.05"/>
<circle cx="120.86" cy="140.45" r="3.2" fill="rgb(225,40,40)" fill-opacity="0.05"/>
<circle cx="121.76" cy="172.97" r="3.2" fill="rgb(110,110,110)" fill-opacity="0.05"/>
<circle cx="113.1" cy="77.36" r="3.2" fill="rgb(110,110,110)" fill-opacity="0.05"/>
<circle cx="113.86" cy="107.92" r="3.2" fill="rgb(225,40,40)" fill-opacity="0.05"/>
<circle cx="123.15" cy="104.42" r="3.2" fill="rgb(40,40,200)" fill-opacity="0.05"/>
<circle cx="110.42" cy="151.63" r="3.2" fill="rgb(40,40,200)" fill-opacity="0.05"/>
<circle cx="140.84" cy="174.82" r="3.2" fill="rgb(40,40,200)" fill-opacity="0.05"/>
<circle cx="108.33" cy="97.63" r="3.2" fill="rgb(225,40,40)" fill-opacity="0.05"/>
<circle cx="116.99" cy="91.36" r="3.2" fill="rgb(40,180,40)" fill-opacity="0.05"/>
<circle cx="109.54" cy="83.49" r="3.2" fill="rgb(40,180,40)" fill-opacity="0.05"/>
<circle cx="129.92" cy="113.57" r="3.2" fill="rgb(40,40,200)" fill-opacity="0.05"/>
<circle cx="121.73" cy="110.63" r="3.2" fill="rgb(40,180,40)" fill-opacity="0.05"/>
<circle cx="132.5" cy="140.76" r="3.2" fill="rgb(40,40,200)" fill-opacity="0.05"/>
<circle cx="147.35" cy="114.93" r="3.2" fill="rgb(40,40,200)" fill-opacity="0.05"/>
<circle cx="98.43" cy="129.89" r="3.2" fill="rgb(225,40,40)" fill-opacity="0.05"/>
<circle cx="127.23" cy="74.28" r="3.2" fill="rgb(40,40,200)" fill-opacity="0.05"/>
<circle cx="117.98" cy="59.34" r="3.2" fill="rgb(110,110,110)" fill-opacity="0.05"/>
<circle cx="114.79" cy="141.65" r="3.2" fill="rgb(40,40,200)" fill-opacity="0.05"/>
<circle cx="130.66" cy="143.3" r="3.2" fill="rgb(225,40,40)" fill-opacity="0.05"/>
<circle cx="117.67" cy="128.18" r="3.2" fill="rgb(40,40,200)" fill-opacity="0.05"/>
<circle cx="115.31" cy="138.11" r="3.2" fill="rgb(40,180,40)" fill-opacity="0.05"/>
<circle cx="104.3" cy="160.43" r="3.2" fill="rgb(110,110,110)" fill-opacity="0.05"/>
<circle cx="122.9" cy="127.36" r="3.2" fill="rgb(40,40,200)" fill-opacity="0.05"/>
<circle cx="135.66" cy="63.53" r="3.2" fill="rgb(40,180,40)" fill-opacity="0.05"/>
<circle cx="130.78" cy="62.61" r="3.2" fill="rgb(40,180,40)" fill-opacity="0.05"/>
<circle cx="111.01" cy="111.07" r="3.2" fill="rgb(40,40,200)" fill-opacity="0.05"/>
<circle cx="115.78" cy="139.23" r="3.2" fill="rgb(225,40,40)" fill-opacity="0.05"/>
<circle cx="110.03" cy="79.43" r="3.2" fill="rgb(40,40,200)" fill-opacity="0.05"/>
<circle cx="124.56" cy="168.45" r="3.2" fill="rgb(40,40,200)" fill-opacity="0.05"/>
<circle cx="112.48" cy="115.28" r="3.2" fill="rgb(40,40,200)" fill-opacity="0.05"/>
<circle cx="135.92" cy="153.46" r="3.2" fill="rgb(40,40,200)" fill-opacity="0.05"/>
<circle cx="103.42" cy="152.53" r="3.2" fill="rgb(40,180,40)" fill-opacity="0.05"/>
<circle cx="116.04" cy="73.8" r="3.2" fill="rgb(40,180,40)" fill-opacity="0.05"/>
<circle cx="103.1" cy="180.47" r="3.2" fill="rgb(225,40,40)" fill-opacity="0.05"/>
<circle cx="120.32" cy="70.16" r="3.2" fill="rgb(225,40,40)" fill-opacity="0.05"/>
<circle cx="125.09" cy="156.23" r="3.2" fill="rgb(40,40,200)" fill-opacity="0.05"/>
<circle cx="121.25" cy="164.31" r="3.2" fill="rgb(40,40,200)" fill-opacity="0.05"/>
<circle cx="124" cy="136.17" r="3.2" fill="rgb(110,110,110)" fill-opacity="0.05"/>
<circle cx="114.65" cy="94.32" r="3.2" fill="rgb(225,40,40)" fill-opacity="0.05"/>
<circle cx="110.32" cy="151.58" r="3.2" fill="rgb(40,40,200)" fill-opacity="0.05"/>
<circle cx="117.32" cy="94.35" r="3.2" fill="rgb(225,40,40)" fill-opacity="0.05"/>
<circle cx="112.51" cy="103.11" r="3.2" fill="rgb(110,110,110)" fill-opacity="0.05"/>
<circle cx="123.76" cy="77.55" r="3.2" fill="rgb(40,40,200)" fill-opacity="0.05"/>
<circle cx="99.8" cy="127.81" r="3.2" fill="rgb(110,110,110)" fill-opacity="0.05"/>
<circle cx="125.13" cy="121.07" r="3.2" fill="rgb(225,40,40)" fill-opacity="0.05"/>
<circle cx="116.5" cy="119.42" r="3.2" fill="rgb(40,40,200)" fill-opacity="0.05"/>
<circle cx="114.07" cy="139.35" r="3.2" fill="rgb(110,110,110)" fill-opacity="0.05"/>
<circle cx="119.17" cy="66.46" r="3.2" fill="rgb(40,180,40)" fill-opacity="0.05"/>
<circle cx="126.26" cy="161.67" r="3.2" fill="rgb(40,40,200)" fill-opacity="0.05"/>
<circle cx="123.54" cy="84.66" r="3.2" fill="rgb(225,40,40)" fill-opacity="0.05"/>
<circle cx="128.88" cy="123.73" r="3.2" fill="rgb(225,40,40)" fill-opacity="0.05"/>
<circle cx="116.86" cy="182.82" r="3.2" fill="rgb(225,40,40)" fill-opacity="0.05"/>
<circle cx="129.16" cy="111.31" r="3.2" fill="rgb(110,110,110)" fill-opacity="0.05"/>
<circle cx="112.72" cy="83.51" r="3.2" fill="rgb(225,40,40)" fill-opacity="0.05"/>
<circle cx="119.31" cy="115.48" r="3.2" fill="rgb(40,180,40)" fill-opacity="0.05"/>
<circle cx="134.1" cy="173.98" r="3.2" fill="rgb(40,40,200)" fill-opacity="0.05"/>
<circle cx="112.76" cy="52.49" r="3.2" fill="rgb(40,180,40)" fill-opacity="0.05"/>
<circle cx="117.86" cy="157.32" r="3.2" fill="rgb(110,110,110)" fill-opacity="0.05"/>
<circle cx="101.13" cy="106.69" r="3.2" fill="rgb(225,40,40)" fill-opacity="0.05"/>
<circle cx="125.91" cy="183.38" r="3.2" fill="rgb(110,110,110)" fill-opacity="0.05"/>
<circle cx="107.6" cy="95.64" r="3.2" fill="rgb(110,110,110)" fill-opacity="0.05"/>
<circle cx="113.07" cy="135.96" r="3.2" fill="rgb(225,40,40)" fill-opacity="0.05"/>
<circle cx="119.22" cy="174.16" r="3.2" fill="rgb(225,40,40)" fill-opacity="0.05"/>
<circle cx="125.26" cy="149.15" r="3.2" fill="rgb(40,40,200)" fill-opacity="0.05"/>
<circle cx="127.55" cy="82.19" r="3.2" fill="rgb(225,40,40)" fill-opacity="0.05"/>
<circle cx="110.96" cy="123.55" r="3.2" fill="rgb(40,40,200)" fill-opacity="0.05"/>
<circle cx="140.39" cy="102.21" r="3.2" fill="rgb(40,40,200)" fill-opacity="0.05"/>
<circle cx="105.9" cy="160.13" r="3.2" fill="rgb(110,110,110)" fill-opacity="0.05"/>
<circle cx="122.23" cy="101.64" r="3.2" fill="rgb(110,110,110)" fill-opacity="0.05"/>
<circle cx="105.36" cy="105.66" r="3.2" fill="rgb(40,180,40)" fill-opacity="0.05"/>
<circle cx="109.56" cy="152.77" r="3.2" fill="rgb(40,40,200)" fill-opacity="0.05"/>
<circle cx="111.96" cy="79.43" r="3.2" fill="rgb(40,40,200)" fill-opacity="0.05"/>
<circle cx="143.1" cy="83.01" r="3.2" fill="rgb(225,40,40)" fill-opacity="0.05"/>
<circle cx="119.52" cy="110.04" r="3.2" fill="rgb(40,180,40)" fill-opacity="0.05"/>
<circle cx="107.92" cy="115.26" r="3.2" fill="rgb(110,110,110)" fill-opacity="0.05"/>
<circle cx="117.33" cy="113.57" r="3.2" fill="rgb(225,40,40)" fill-opacity="0.05"/>
<circle cx="128.96" cy="138.89" r="3.2" fill="rgb(225,40,40)" fill-opacity="0.05"/>
<circle cx="119.27" cy="141.8" r="3.2" fill="rgb(40,180,40)" fill-opacity="0.05"/>
<circle cx="121.01" cy="50.37" r="3.2" fill="rgb(110,110,110)" fill-opacity="0.05"/>
<circle cx="103.85" cy="161.68" r="3.2" fill="rgb(225,40,40)" fill-opacity="0.05"/>
<circle cx="133.81" cy="171.51" r="3.2" fill="rgb(225,40,40)" fill-opacity="0.05"/>
<circle cx="135.41" cy="118.64" r="3.2" fill="rgb(40,40,200)" fill-opacity="0.05"/>
<circle cx="119.84" cy="57.7" r="3.2" fill="rgb(40,180,40)" fill-opacity="0.05"/>
<circle cx="134.13" cy="131.09" r="3.2" fill="rgb(40,40,200)" fill-opacity="0.05"/>
<circle cx="122.92" cy="68.73" r="3.2" fill="rgb(225,40,40)" fill-opacity="0.05"/>
<circle cx="115.22" cy="173.75" r="3.2" fill="rgb(225,40,40)" fill-opacity="0.05"/>
<circle cx="122.23" cy="153.84" r="3.2" fill="rgb(40,180,40)" fill-opacity="0.05"/>
<circle cx="125.55" cy="83.31" r="3.2" fill="rgb(225,40,40)" fill-opacity="0.05"/>
<circle cx="134.67" cy="87.32" r="3.2" fill="rgb(225,40,40)" fill-opacity="0.05"/>
<circle cx="107.05" cy="94.68" r="3.2" fill="rgb(110,110,110)" fill-opacity="0.05"/>
<circle cx="116.07" cy="84.55" r="3.2" fill="rgb(40,40,200)" fill-opacity="0.05"/>
<circle cx="124.84" cy="131.27" r="3.2" fill="rgb(225,40,40)" fill-opacity="0.05"/>
<circle cx="127.01" cy="167.24" r="3.2" fill="rgb(225,40,40)" fill-opacity="0.05"/>
<circle cx="125.62" cy="170.78" r="3.2" fill="rgb(40,40,200)" fill-opacity="0.05"/>
<circle cx="106.64" cy="55.96" r="3.2" fill="rgb(40,180,40)" fill-opacity="0.05"/>
<circle cx="112.23" cy="110.08" r="3.2" fill="rgb(40,180,40)" fill-opacity="0.05"/>
<circle cx="107.31" cy="117.41" r="3.2" fill="rgb(225,40,40)" fill-opacity="0.05"/>
<circle cx="142.41" cy="61.18" r="3.2" fill="rgb(40,180,40)" fill-opacity="0.05"/>
<circle cx="112.31" cy="165.4" r="3.2" fill="rgb(40,40,200)" fill-opacity="0.05"/>
<circle cx="119.05" cy="112.38" r="3.2" fill="rgb(40,40,200)" fill-opacity="0.05"/>
<circle cx="131.1" cy="56.86" r="3.2" fill="rgb(110,110,110)" fill-opacity="0.05"/>
<circle cx="119.45" cy="137.62" r="3.2" fill="rgb(225,40,40)" fill-opacity="0.05"/>
<circle cx="128.31" cy="135.69" r="3.2" fill="rgb(40,40,200)" fill-opacity="0.05"/>
<circle cx="92.32" cy="131.27" r="3.2" fill="rgb(225,40,40)" fill-opacity="0.05"/>
<circle cx="124.27" cy="71.23" r="3.2" fill="rgb(40,180,40)" fill-opacity="0.05"/>
<circle cx="111.9" cy="168.28" r="3.2" fill="rgb(225,40,40)" fill-opacity="0.05"/>
<circle cx="117.35" cy="167.2" r="3.2" fill="rgb(40,40,200)" fill-opacity="0.05"/>
<circle cx="121.18" cy="135.43" r="3.2" fill="rgb(40,180,40)" fill-opacity="0.05"/>
<circle cx="113.62" cy="66.45" r="3.2" fill="rgb(40,180,40)" fill-opacity="0.05"/>
<circle cx="117.49" cy="94.22" r="3.2" fill="rgb(40,180,40)" fill-opacity="0.05"/>
<circle cx="142.06" cy="119.13" r="3.2" fill="rgb(225,40,40)" fill-opacity="0.05"/>
<circle cx="113.53" cy="164.48" r="3.2" fill="rgb(40,180,40)" fill-opacity="0.05"/>
<circle cx="136.22" cy="134.95" r="3.2" fill="rgb(110,110,110)" fill-opacity="0.05"/>
<circle cx="109.38" cy="98.02" r="3.2" fill="rgb(225,40,40)" fill-opacity="0.05"/>
<circle cx="111.69" cy="78.01" r="3.2" fill="rgb(110,110,110)" fill-opacity="0.05"/>
<circle cx="106.36" cy="178.53" r="3.2" fill="rgb(225,40,40)" fill-opacity="0.05"/>
<circle cx="114.6" cy="97.38" r="3.2" fill="rgb(225,40,40)" fill-opacity="0.05"/>
<circle cx="126.4" cy="171.45" r="3.2" fill="rgb(40,180,40)" fill-opacity="0.05"/>
<circle cx="95.76" cy="131.39" r="3.2" fill="rgb(40,40,200)" fill-opacity="0.05"/>
<circle cx="127.76" cy="132.91" r="3.2" fill="rgb(225,40,40)" fill-opacity="0.05"/>
<circle cx="89.98" cy="149.59" r="3.2" fill="rgb(40,40,200)" fill-opacity="0.05"/>
<circle cx="100.66" cy="133.72" r="3.2" fill="rgb(225,40,40)" fill-opacity="0.05"/>
<circle cx="113.9" cy="134.42" r="3.2" fill="rgb(225,40,40)" fill-opacity="0.05"/>
<circle cx="122.89" cy="76.09" r="3.2" fill="rgb(40,40,200)" fill-opacity="0.05"/>
<circle cx="116.51" cy="142.96" r="3.2" fill="rgb(225,40,40)" fill-opacity="0.05"/>
<circle cx="90.87" cy="88.01" r="3.2" fill="rgb(225,40,40)" fill-opacity="0.05"/>
<circle cx="105.39" cy="122.25" r="3.2" fill="rgb(40,40,200)" fill-opacity="0.05"/>
<circle cx="132.48" cy="180.32" r="3.2" fill="rgb(40,40,200)" fill-opacity="0.05"/>
<circle cx="116.35" cy="140.21" r="3.2" fill="rgb(40,180,40)" fill-opacity="0.05"/>
<circle cx="127.28" cy="140.12" r="3.2" fill="rgb(225,40,40)" fill-opacity="0.05"/>
<circle cx="133.31" cy="59.49" r="3.2" fill="rgb(225,40,40)" fill-opacity="0.05"/>
<circle cx="119.35" cy="159.87" r="3.2" fill="rgb(110,110,110)" fill-opacity="0.05"/>
<circle cx="125.13" cy="77.37" r="3.2" fill="rgb(40,40,200)" fill-opacity="0.05"/>
<circle cx="107.16" cy="156.45" r="3.2" fill="rgb(40,180,40)" fill-opacity="0.05"/>
<circle cx="113.24" cy="61.08" r="3.2" fill="rgb(40,180,40)" fill-opacity="0.05"/>
<circle cx="126.02" cy="52.89" r="3.2" fill="rgb(40,180,40)" fill-opacity="0.05"/>
<circle cx="128.33" cy="112.01" r="3.2" fill="rgb(40,40,200)" fill-opacity="0.05"/>
<circle cx="122.55" cy="59.35" r="3.2" fill="rgb(110,110,110)" fill-opacity="0.05"/>
<circle cx="113.57" cy="105.56" r="3.2" fill="rgb(40,180,40)" fill-opacity="0.05"/>
<circle cx="128.76" cy="148.54" r="3.2" fill="rgb(40,40,200)" fill-opacity="0.05"/>
<circle cx="118.99" cy="56.06" r="3.2" fill="rgb(110,110,110)" fill-opacity="0.05"/>
<circle cx="143.12" cy="156.87" r="3.2" fill="rgb(40,40,200)" fill-opacity="0.05"/>
<circle cx="121.09" cy="177.25" r="3.2" fill="rgb(40,40,200)" fill-opacity="0.05"/>
<circle cx="110.96" cy="160.55" r="3.2" fill="rgb(40,180,40)" fill-opacity="0.05"/>
<circle cx="132.27" cy="103.6" r="3.2" fill="rgb(225,40,40)" fill-opacity="0.05"/>
<circle cx="129.47" cy="88.17" r="3.2" fill="rgb(225,40,40)" fill-opacity="0.05"/>
<circle cx="132.53" cy="108.19" r="3.2" fill="rgb(40,180,40)" fill-opacity="0.05"/>
<circle cx="114.17" cy="120.4" r="3.2" fill="rgb(40,40,200)" fill-opacity="0.05"/>
<circle cx="103.66" cy="98.05" r="3.2" fill="rgb(110,110,110)" fill-opacity="0.05"/>
<circle cx="118.5" cy="91.83" r="3.2" fill="rgb(110,110,110)" fill-opacity="0.05"/>
<circle cx="105.17" cy="71.88" r="3.2" fill="rgb(40,40,200)" fill-opacity="0.05"/>
<circle cx="114.88" cy="96.5" r="3.2" fill="rgb(110,110,110)" fill-opacity="0.05"/>
<circle cx="116.04" cy="127.63" r="3.2" fill="rgb(40,40,200)" fill-opacity="0.05"/>
<circle cx="132.07" cy="112.63" r="3.2" fill="rgb(40,180,40)" fill-opacity="0.05"/>
<circle cx="114.82" cy="132.72" r="3.2" fill="rgb(40,180,40)" fill-opacity="0.05"/>
<circle cx="117.32" cy="174.32" r="3.2" fill="rgb(225,40,40)" fill-opacity="0.05"/>
<circle cx="119.29" cy="105.24" r="3.2" fill="rgb(225,40,40)" fill-opacity="0.05"/>
<circle cx="127.57" cy="152.39" r="3.2" fill="rgb(40,40,200)" fill-opacity="0.05"/>
<circle cx="106.4" cy="127.11" r="3.2" fill="rgb(225,40,40)" fill-opacity="0.05"/>
<circle cx="117.58" cy="178.58" r="3.2" fill="rgb(225,40,40)" fill-opacity="0.05"/>
<circle cx="103.49" cy="171.11" r="3.2" fill="rgb(225,40,40)" fill-opacity="0.05"/>
<circle cx="139.89" cy="76.85" r="3.2" fill="rgb(40,40,200)" fill-opacity="0.05"/>
<circle cx="144.67" cy="101.29" r="3.2" fill="rgb(40,180,40)" fill-opacity="0.05"/>
<circle cx="135.76" cy="88.89" r="3.2" fill="rgb(225,40,40)" fill-opacity="0.05"/>
<circle cx="123.01" cy="156.03" r="3.2" fill="rgb(110,110,110)" fill-opacity="0.05"/>
<circle cx="111.74" cy="71.93" r="3.2" fill="rgb(225,40,40)" fill-opacity="0.05"/>
<circle cx="116.57" cy="57.75" r="3.2" fill="rgb(40,180,40)" fill-opacity="0.05"/>
<circle cx="121.65" cy="97.29" r="3.2" fill="rgb(110,110,110)" fill-opacity="0.05"/>
<circle cx="117.93" cy="152.41" r="3.2" fill="rgb(40,180,40)" fill-opacity="0.05"/>
<circle cx="109.31" cy="54.93" r="3.2" fill="rgb(110,110,110)" fill-opacity="0.05"/>
<circle cx="114.56" cy="116.5" r="3.2" fill="rgb(225,40,40)" fill-opacity="0.05"/>
<circle cx="110.71" cy="80.74" r="3.2" fill="rgb(110,110,110)" fill-opacity="0.05"/>
<circle cx="129.1" cy="157.38" r="3.2" fill="rgb(225,40,40)" fill-opacity="0.05"/>
<circle cx="118.19" cy="81.27" r="3.2" fill="rgb(40,180,40)" fill-opacity="0.05"/>
<circle cx="123.05" cy="175.88" r="3.2" fill="rgb(225,40,40)" fill-opacity="0.05"/>
<circle cx="131.6" cy="148.6" r="3.2" fill="rgb(110,110,110)" fill-opacity="0.05"/>
<circle cx="117.88" cy="176.87" r="3.2" fill="rgb(40,40,200)" fill-opacity="0.05"/>
<circle cx="119.41" cy="57.7" r="3.2" fill="rgb(110,110,110)" fill-opacity="0.05"/>
<circle cx="125.89" cy="79.23" r="3.2" fill="rgb(225,40,40)" fill-opacity="0.05"/>
<circle cx="129.92" cy="158.23" r="3.2" fill="rgb(225,40,40)" fill-opacity="0.05"/>
<circle cx="136.04" cy="162.08" r="3.2" fill="rgb(225,40,40)" fill-opacity="0.05"/>
<circle cx="133.29" cy="83.31" r="3.2" fill="rgb(225,40,40)" fill-opacity="0.05"/>
<circle cx="126.71" cy="81.7" r="3.2" fill="rgb(40,40,200)" fill-opacity="0.05"/>
<circle cx="109.57" cy="85.4" r="3.2" fill="rgb(225,40,40)" fill-opacity="0.05"/>
<circle cx="116.49" cy="92.61" r="3.2" fill="rgb(110,110,110)" fill-opacity="0.05"/>
<circle cx="129.61" cy="158.05" r="3.2" fill="rgb(40,40,200)" fill-opacity="0.05"/>
<circle cx="113.82" cy="82.75" r="3.2" fill="rgb(40,40,200)" fill-opacity="0.05"/>
<circle cx="114.86" cy="125.59" r="3.2" fill="rgb(40,40,200)" fill-opacity="0.05"/>
<circle cx="131.98" cy="58.03" r="3.2" fill="rgb(40,40,200)" fill-opacity="0.05"/>
<circle cx="127.17" cy="166.3" r="3.2" fill="rgb(40,40,200)" fill-opacity="0.05"/>
<circle cx="131.24" cy="130.05" r="3.2" fill="rgb(110,110,110)" fill-opacity="0.05"/>
<circle cx="124.26" cy="58.56" r="3.2" fill="rgb(40,40,200)" fill-opacity="0.05"/>
<circle cx="136.63" cy="178.36" r="3.2" fill="rgb(40,40,200)" fill-opacity="0.05"/>
<circle cx="121.52" cy="76.32" r="3.2" fill="rgb(40,40,200)" fill-opacity="0.05"/>
<circle cx="106.72" cy="107.34" r="3.2" fill="rgb(40,180,40)" fill-opacity="0.05"/>
<circle cx="115.58" cy="156.95" r="3.2" fill="rgb(40,40,200)" fill-opacity="0.05"/>
<circle cx="104.9" cy="74.69" r="3.2" fill="rgb(110,110,110)" fill-opacity="0.05"/>
<circle cx="114.91" cy="141.43" r="3.2" fill="rgb(40,40,200)" fill-opacity="0.05"/>
<circle cx="128.02" cy="61.4" r="3.2" fill="rgb(225,40,40)" fill-opacity="0.05"/>
<circle cx="123.94" cy="63.43" r="3.2" fill="rgb(40,180,40)" fill-opacity="0.05"/>
<circle cx="125.44" cy="173.23" r="3.2" fill="rgb(110,110,110)" fill-opacity="0.05"/>
<circle cx="121.32" cy="57.24" r="3.2" fill="rgb(225,40,40)" fill-opacity="0.05"/>
<circle cx="122.37" cy="55.9" r="3.2" fill="rgb(40,40,200)" fill-opacity="0.05"/>
<circle cx="131.06" cy="172.4" r="3.2" fill="rgb(225,40,40)" fill-opacity="0.05"/>
<circle cx="125.52" cy="134.18" r="3.2" fill="rgb(225,40,40)" fill-opacity="0.05"/>
<circle cx="107.61" cy="162.11" r="3.2" fill="rgb(110,110,110)" fill-opacity="0.05"/>
<circle cx="134.78" cy="109.9" r="3.2" fill="rgb(40,180,40)" fill-opacity="0.05"/>
<circle cx="136.1" cy="149.41" r="3.2" fill="rgb(225,40,40)" fill-opacity="0.05"/>
<circle cx="123.53" cy="65.01" r="3.2" fill="rgb(225,40,40)" fill-opacity="0.05"/>
<circle cx="130.39" cy="178.99" r="3.2" fill="rgb(40,40,200)" fill-opacity="0.05"/>
<circle cx="106.13" cy="163.41" r="3.2" fill="rgb(40,180,40)" fill-opacity="0.05"/>
<circle cx="101.94" cy="71.28" r="3.2" fill="rgb(40,40,200)" fill-opacity="0.05"/>
<circle cx="124.58" cy="64.76" r="3.2" fill="rgb(40,180,40)" fill-opacity="0.05"/>
<circle cx="109.31" cy="152.89" r="3.2" fill="rgb(225,40,40)" fill-opacity="0.05"/>
<circle cx="96.55" cy="151.41" r="3.2" fill="rgb(40,180,40)" fill-opacity="0.05"/>
<circle cx="118.16" cy="186.97" r="3.2" fill="rgb(40,40,200)" fill-opacity="0.05"/>
<circle cx="118.84" cy="64.66" r="3.2" fill="rgb(40,40,200)" fill-opacity="0.05"/>
<circle cx="107.27" cy="121.51" r="3.2" fill="rgb(40,180,40)" fill-opacity="0.05"/>
<circle cx="116.38" cy="132.57" r="3.2" fill="rgb(40,40,200)" fill-opacity="0.05"/>
<circle cx="119.45" cy="147.49" r="3.2" fill="rgb(40,180,40)" fill-opacity="0.05"/>
<circle cx="151.02" cy="47.03" r="3.2" fill="rgb(40,180,40)" fill-opacity="0.05"/>
<circle cx="125.5" cy="172.13" r="3.2" fill="rgb(225,40,40)" fill-opacity="0.05"/>
<circle cx="107.26" cy="155.3" r="3.2" fill="rgb(40,180,40)" fill-opacity="0.05"/>
<circle cx="135.95" cy="162.58" r="3.2" fill="rgb(40,180,40)" fill-opacity="0.05"/>
<circle cx="104.97" cy="72.58" r="3.2" fill="rgb(225,40,40)" fill-opacity="0.05"/>
<circle cx="127.65" cy="90.66" r="3.2" fill="rgb(225,40,40)" fill-opacity="0.05"/>
<circle cx="122.47" cy="155.55" r="3.2" fill="rgb(40,180,40)" fill-opacity="0.05"/>
<circle cx="118.35" cy="65.64" r="3.2" fill="rgb(40,180,40)" fill-opacity="0.05"/>
<circle cx="111.51" cy="156.22" r="3.2" fill="rgb(40,180,40)" fill-opacity="0.05"/>
<circle cx="110.35" cy="125.81" r="3.2" fill="rgb(225,40,40)" fill-opacity="0.05"/>
<circle cx="128.85" cy="94.37" r="3.2" fill="rgb(225,40,40)" fill-opacity="0.05"/>
<circle cx="112.14" cy="111.68" r="3.2" fill="rgb(40,180,40)" fill-opacity="0.05"/>
<circle cx="114.09" cy="99.51" r="3.2" fill="rgb(225,40,40)" fill-opacity="0.05"/>
<circle cx="121.7" cy="178.97" r="3.2" fill="rgb(40,40,200)" fill-opacity="0.05"/>
<circle cx="140.44" cy="165.29" r="3.2" fill="rgb(40,180,40)" fill-opacity="0.05"/>
<circle cx="140.82" cy="113.72" r="3.2" fill="rgb(110,110,110)" fill-opacity="0.05"/>
<circle cx="95.37" cy="178.92" r="3.2" fill="rgb(40,180,40)" fill-opacity="0.05"/>
<circle cx="110.28" cy="70.84" r="3.2" fill="rgb(40,40,200)" fill-opacity="0.05"/>
<circle cx="117.92" cy="158.38" r="3.2" fill="rgb(40,180,40)" fill-opacity="0.05"/>
<circle cx="103.77" cy="76.12" r="3.2" fill="rgb(110,110,110)" fill-opacity="0.05"/>
<circle cx="128.03" cy="166.85" r="3.2" fill="rgb(40,40,200)" fill-opacity="0.05"/>
<circle cx="143.27" cy="103.95" r="3.2" fill="rgb(110,110,110)" fill-opacity="0.05"/>
<circle cx="113.48" cy="130.41" r="3.2" fill="rgb(110,110,110)" fill-opacity="0.05"/>
<circle cx="118.38" cy="119.54" r="3.2" fill="rgb(40,40,200)" fill-opacity="0.05"/>
<circle cx="106.39" cy="174.09" r="3.2" fill="rgb(110,110,110)" fill-opacity="0.05"/>
<circle cx="124.53" cy="138.24" r="3.2" fill="rgb(40,180,40)" fill-opacity="0.05"/>
<circle cx="107.17" cy="99.42" r="3.2" fill="rgb(40,180,40)" fill-opacity="0.05"/>
<circle cx="131.38" cy="161.57" r="3.2" fill="rgb(40,180,40)" fill-opacity="0.05"/>
<circle cx="116.03" cy="111.94" r="3.2" fill="rgb(40,40,200)" fill-opacity="0.05"/>
<circle cx="122.78" cy="139.55" r="3.2" fill="rgb(225,40,40)" fill-opacity="0.05"/>
<circle cx="121.64" cy="138.27" r="3.2" fill="rgb(225,40,40)" fill-opacity="0.05"/>
<circle cx="116.55" cy="75.56" r="3.2" fill="rgb(40,40,200)" fill-opacity="0.05"/>
<circle cx="125.17" cy="82.18" r="3.2" fill="rgb(110,110,110)" fill-opacity="0.05"/>
<circle cx="118.04" cy="100.31" r="3.2" fill="rgb(40,180,40)" fill-opacity="0.05"/>
<circle cx="125.6" cy="139.23" r="3.2" fill="rgb(225,40,40)" fill-opacity="0.05"/>
<circle cx="121.65" cy="170.15" r="3.2" fill="rgb(225,40,40)" fill-opacity="0.05"/>
<circle cx="131.24" cy="77.86" r="3.2" fill="rgb(40,180,40)" fill-opacity="0.05"/>
<circle cx="109.64" cy="86.96" r="3.2" fill="rgb(225,40,40)" fill-opacity="0.05"/>
<circle cx="116.53" cy="147.8" r="3.2" fill="rgb(40,180,40)" fill-opacity="0.05"/>
<circle cx="114.87" cy="125.34" r="3.2" fill="rgb(40,180,40)" fill-opacity="0.05"/>
<circle cx="110.45" cy="131.26" r="3.2" fill="rgb(225,40,40)" fill-opacity="0.05"/>
<circle cx="133.88" cy="167.37" r="3.2" fill="rgb(225,40,40)" fill-opacity="0.05"/>
<circle cx="131.38" cy="150.39" r="3.2" fill="rgb(40,40,200)" fill-opacity="0.05"/>
<circle cx="128.31" cy="94.77" r="3.2" fill="rgb(40,180,40)" fill-opacity="0.05"/>
<circle cx="112.88" cy="77.79" r="3.2" fill="rgb(225,40,40)" fill-opacity="0.05"/>
<circle cx="106.13" cy="127.53" r="3.2" fill="rgb(40,180,40)" fill-opacity="0.05"/>
<circle cx="105.29" cy="89.78" r="3.2" fill="rgb(225,40,40)" fill-opacity="0.05"/>
<circle cx="107.84" cy="55.28" r="3.2" fill="rgb(40,180,40)" fill-opacity="0.05"/>
<circle cx="116.4" cy="145.99" r="3.2" fill="rgb(225,40,40)" fill-opacity="0.05"/>
<circle cx="121.12" cy="119.12" r="3.2" fill="rgb(110,110,110)" fill-opacity="0.05"/>
<circle cx="111.75" cy="169.43" r="3.2" fill="rgb(40,40,200)" fill-opacity="0.05"/>
<circle cx="94.08" cy="166.62" r="3.2" fill="rgb(40,180,40)" fill-opacity="0.05"/>
<circle cx="119.65" cy="114.67" r="3.2" fill="rgb(40,40,200)" fill-opacity="0.05"/>
<circle cx="129.33" cy="76.53" r="3.2" fill="rgb(40,40,200)" fill-opacity="0.05"/>
<circle cx="114.27" cy="171.32" r="3.2" fill="rgb(225,40,40)" fill-opacity="0.05"/>
<circle cx="113.72" cy="176.58" r="3.2" fill="rgb(225,40,40)" fill-opacity="0.05"/>
<circle cx="130.07" cy="57.69" r="3.2" fill="rgb(225,40,40)" fill-opacity="0.05"/>
<circle cx="101.14" cy="118.27" r="3.2" fill="rgb(110,110,110)" fill-opacity="0.05"/>
<circle cx="139.16" cy="56.29" r="3.2" fill="rgb(40,180,40)" fill-opacity="0.05"/>
<circle cx="147.93" cy="140.89" r="3.2" fill="rgb(110,110,110)" fill-opacity="0.05"/>
<circle cx="109.92" cy="135.96" r="3.2" fill="rgb(40,40,200)" fill-opacity="0.05"/>
<circle cx="124.96" cy="60.03" r="3.2" fill="rgb(40,180,40)" fill-opacity="0.05"/>
<circle cx="119.53" cy="59.51" r="3.2" fill="rgb(40,40,200)" fill-opacity="0.05"/>
<circle cx="110.18" cy="52.21" r="3.2" fill="rgb(40,180,40)" fill-opacity="0.05"/>
<circle cx="106.99" cy="56.12" r="3.2" fill="rgb(40,40,200)" fill-opacity="0.05"/>
<circle cx="127.78" cy="113.95" r="3.2" fill="rgb(110,110,110)" fill-opacity="0.05"/>
<circle cx="103.3" cy="128" r="3.2" fill="rgb(40,40,200)" fill-opacity="0.05"/>
<circle cx="130" cy="170.01" r="3.2" fill="rgb(40,40,200)" fill-opacity="0.05"/>
<circle cx="130.51" cy="56.12" r="3.2" fill="rgb(40,40,200)" fill-opacity="0.05"/>
<circle cx="131.76" cy="188.04" r="3.2" fill="rgb(110,110,110)" fill-opacity="0.05"/>
<circle cx="112.24" cy="116.07" r="3.2" fill="rgb(110,110,110)" fill-opacity="0.05"/>
<circle cx="116.82" cy="153.61" r="3.2" fill="rgb(40,40,200)" fill-opacity="0.05"/>
<circle cx="131.78" cy="137.29" r="3.2" fill="rgb(40,180,40)" fill-opacity="0.05"/>
<circle cx="129.06" cy="132.8" r="3.2" fill="rgb(225,40,40)" fill-opacity="0.05"/>
<circle cx="123.18" cy="83.96" r="3.2" fill="rgb(110,110,110)" fill-opacity="0.05"/>
<circle cx="114.74" cy="47.96" r="3.2" fill="rgb(110,110,110)" fill-opacity="0.05"/>
<circle cx="125.34" cy="144.55" r="3.2" fill="rgb(40,180,40)" fill-opacity="0.05"/>
<circle cx="128.57" cy="132.89" r="3.2" fill="rgb(225,40,40)" fill-opacity="0.05"/>
<circle cx="136.41" cy="120.84" r="3.2" fill="rgb(40,180,40)" fill-opacity="0.05"/>
<circle cx="125.02" cy="93.69" r="3.2" fill="rgb(40,180,40)" fill-opacity="0.05"/>
<circle cx="139.98" cy="73.31" r="3.2" fill="rgb(40,180,40)" fill-opacity="0.05"/>
<circle cx="116.48" cy="80.21" r="3.2" fill="rgb(225,40,40)" fill-opacity="0.05"/>
<circle cx="117.79" cy="152.61" r="3.2" fill="rgb(40,180,40)" fill-opacity="0.05"/>
<circle cx="144.63" cy="185.33" r="3.2" fill="rgb(40,40,200)" fill-opacity="0.05"/>
<circle cx="106.55" cy="125.9" r="3.2" fill="rgb(40,40,200)" fill-opacity="0.05"/>
<circle cx="105.61" cy="96.35" r="3.2" fill="rgb(40,180,40)" fill-opacity="0.05"/>
<circle cx="108.91" cy="124.96" r="3.2" fill="rgb(40,40,200)" fill-opacity="0.05"/>
<circle cx="117.8" cy="134.83" r="3.2" fill="rgb(225,40,40)" fill-opacity="0.05"/>
<circle cx="115.08" cy="176.92" r="3.2" fill="rgb(225,40,40)" fill-opacity="0.05"/>
<circle cx="116.74" cy="101.51" r="3.2" fill="rgb(225,40,40)" fill-opacity="0.05"/>
<circle cx="107.56" cy="52.01" r="3.2" fill="rgb(40,180,40)" fill-opacity="0.05"/>
<circle cx="126.64" cy="52.69" r="3.2" fill="rgb(110,110,110)" fill-opacity="0.05"/>
<circle cx="96.33" cy="52.15" r="3.2" fill="rgb(40,180,40)" fill-opacity="0.05"/>
<circle cx="131.83" cy="113.19" r="3.2" fill="rgb(40,180,40)" fill-opacity="0.05"/>
<circle cx="125.98" cy="147.38" r="3.2" fill="rgb(40,180,40)" fill-opacity="0.05"/>
<circle cx="121.65" cy="143.1" r="3.2" fill="rgb(110,110,110)" fill-opacity="0.05"/>
<circle cx="119.48" cy="125.96" r="3.2" fill="rgb(40,40,200)" fill-opacity="0.05"/>
<circle cx="134.26" cy="156.71" r="3.2" fill="rgb(225,40,40)" fill-opacity="0.05"/>
<circle cx="134.71" cy="155.45" r="3.2" fill="rgb(110,110,110)" fill-opacity="0.05"/>
<circle cx="106.73" cy="60.33" r="3.2" fill="rgb(40,40,200)" fill-opacity="0.05"/>
<circle cx="132.88" cy="49.39" r="3.2" fill="rgb(225,40,40)" fill-opacity="0.05"/>
<circle cx="144.73" cy="140.17" r="3.2" fill="rgb(110,110,110)" fill-opacity="0.05"/>
<circle cx="142.36" cy="147.65" r="3.2" fill="rgb(110,110,110)" fill-opacity="0.05"/>
<circle cx="95.98" cy="164.5" r="3.2" fill="rgb(40,180,40)" fill-opacity="0.05"/>
<circle cx="104.72" cy="80.3" r="3.2" fill="rgb(40,40,200)" fill-opacity="0.05"/>
<circle cx="114.6" cy="85.16" r="3.2" fill="rgb(225,40,40)" fill-opacity="0.05"/>
<circle cx="127.09" cy="162.71" r="3.2" fill="rgb(225,40,40)" fill-opacity="0.05"/>
<circle cx="131.52" cy="102.13" r="3.2" fill="rgb(225,40,40)" fill-opacity="0.05"/>
<circle cx="129.57" cy="162.51" r="3.2" fill="rgb(225,40,40)" fill-opacity="0.05"/>
<circle cx="125.23" cy="91.88" r="3.2" fill="rgb(40,180,40)" fill-opacity="0.05"/>
<circle cx="109.05" cy="124.83" r="3.2" fill="rgb(225,40,40)" fill-opacity="0.05"/>
<circle cx="110.82" cy="116.47" r="3.2" fill="rgb(225,40,40)" fill-opacity="0.05"/>
<circle cx="106.57" cy="79.33" r="3.2" fill="rgb(110,110,110)" fill-opacity="0.05"/>
<circle cx="128.89" cy="184.57" r="3.2" fill="rgb(225,40,40)" fill-opacity="0.05"/>
<circle cx="121.42" cy="153.86" r="3.2" fill="rgb(225,40,40)" fill-opacity="0.05"/>
<circle cx="126.5" cy="160.32" r="3.2" fill="rgb(40,40,200)" fill-opacity="0.05"/>
<circle cx="113.2" cy="62.33" r="3.2" fill="rgb(40,40,200)" fill-opacity="0.05"/>
<circle cx="125.79" cy="113.55" r="3.2" fill="rgb(40,180,40)" fill-opacity="0.05"/>
<circle cx="104.89" cy="76.79" r="3.2" fill="rgb(225,40,40)" fill-opacity="0.05"/>
<circle cx="119.4" cy="137.38" r="3.2" fill="rgb(40,40,200)" fill-opacity="0.05"/>
<circle cx="123.71" cy="149.87" r="3.2" fill="rgb(110,110,110)" fill-opacity="0.05"/>
<circle cx="115.09" cy="126.36" r="3.2" fill="rgb(40,40,200)" fill-opacity="0.05"/>
<circle cx="128.38" cy="69.76" r="3.2" fill="rgb(110,110,110)" fill-opacity="0.05"/>
<circle cx="132.64" cy="49.42" r="3.2" fill="rgb(225,40,40)" fill-opacity="0.05"/>
<circle cx="132.95" cy="75.26" r="3.2" fill="rgb(40,40,200)" fill-opacity="0.05"/>
<circle cx="103.46" cy="173.19" r="3.2" fill="rgb(225,40,40)" fill-opacity="0.05"/>
<circle cx="89.29" cy="129.59" r="3.2" fill="rgb(40,180,40)" fill-opacity="0.05"/>
<circle cx="132.19" cy="128.95" r="3.2" fill="rgb(110,110,110)" fill-opacity="0.05"/>
<circle cx="129.27" cy="110.19" r="3.2" fill="rgb(110,110,110)" fill-opacity="0.05"/>
<circle cx="111.47" cy="154.13" r="3.2" fill="rgb(225,40,40)" fill-opacity="0.05"/>
<circle cx="133.21" cy="169.1" r="3.2" fill="rgb(40,180,40)" fill-opacity="0.05"/>
<circle cx="129.86" cy="77.78" r="3.2" fill="rgb(40,40,200)" fill-opacity="0.05"/>
<circle cx="123.7" cy="103.94" r="3.2" fill="rgb(40,180,40)" fill-opacity="0.05"/>
<circle cx="133.63" cy="170.33" r="3.2" fill="rgb(40,40,200)" fill-opacity="0.05"/>
<circle cx="128.8" cy="157.99" r="3.2" fill="rgb(40,40,200)" fill-opacity="0.05"/>
<circle cx="123.5" cy="85.2" r="3.2" fill="rgb(110,110,110)" fill-opacity="0.05"/>
<circle cx="129.55" cy="189.4" r="3.2" fill="rgb(40,40,200)" fill-opacity="0.05"/>
<circle cx="129.07" cy="181.99" r="3.2" fill="rgb(40,40,200)" fill-opacity="0.05"/>
<circle cx="122.17" cy="168.82" r="3.2" fill="rgb(110,110,110)" fill-opacity="0.05"/>
<circle cx="121.64" cy="106.42" r="3.2" fill="rgb(40,180,40)" fill-opacity="0.05"/>
<circle cx="104.73" cy="78.61" r="3.2" fill="rgb(40,40,200)" fill-opacity="0.05"/>
<circle cx="109.05" cy="181.28" r="3.2" fill="rgb(40,40,200)" fill-opacity="0.05"/>
<circle cx="113.21" cy="131.73" r="3.2" fill="rgb(225,40,40)" fill-opacity="0.05"/>
<circle cx="98.31" cy="73.4" r="3.2" fill="rgb(110,110,110)" fill-opacity="0.05"/>
<circle cx="112.06" cy="130.66" r="3.2" fill="rgb(40,180,40)" fill-opacity="0.05"/>
<circle cx="145.9" cy="172.74" r="3.2" fill="rgb(40,180,40)" fill-opacity="0.05"/>
<circle cx="109.51" cy="138.94" r="3.2" fill="rgb(225,40,40)" fill-opacity="0.05"/>
<circle cx="111.1" cy="65.22" r="3.2" fill="rgb(40,180,40)" fill-opacity="0.05"/>
<circle cx="111.13" cy="115.22" r="3.2" fill="rgb(40,40,200)" fill-opacity="0.05"/>
<circle cx="98.46" cy="103.08" r="3.2" fill="rgb(40,180,40)" fill-opacity="0.05"/>
<circle cx="111.5" cy="96.03" r="3.2" fill="rgb(225,40,40)" fill-opacity="0.05"/>
<circle cx="116.83" cy="57.21" r="3.2" fill="rgb(40,180,40)" fill-opacity="0.05"/>
<circle cx="121.92" cy="86.05" r="3.2" fill="rgb(225,40,40)" fill-opacity="0.05"/>
<circle cx="120.86" cy="82.34" r="3.2" fill="rgb(225,40,40)" fill-opacity="0.05"/>
<circle cx="128.85" cy="56.49" r="3.2" fill="rgb(40,180,40)" fill-opacity="0.05"/>
<circle cx="124.7" cy="119.88" r="3.2" fill="rgb(110,110,110)" fill-opacity="0.05"/>
<circle cx="126.21" cy="82.83" r="3.2" fill="rgb(225,40,40)" fill-opacity="0.05"/>
<circle cx="118.87" cy="147.85" r="3.2" fill="rgb(225,40,40)" fill-opacity="0.05"/>
<circle cx="108.42" cy="68.83" r="3.2" fill="rgb(225,40,40)" fill-opacity="0.05"/>
<circle cx="105.67" cy="115.59" r="3.2" fill="rgb(40,40,200)" fill-opacity="0.05"/>
<circle cx="126.95" cy="138.55" r="3.2" fill="rgb(40,180,40)" fill-opacity="0.05"/>
<circle cx="98.68" cy="88.91" r="3.2" fill="rgb(40,40,200)" fill-opacity="0.05"/>
<circle cx="137.85" cy="188.63" r="3.2" fill="rgb(40,180,40)" fill-opacity="0.05"/>
<circle cx="107.65" cy="135.73" r="3.2" fill="rgb(40,180,40)" fill-opacity="0.05"/>
<circle cx="142.7" cy="68.55" r="3.2" fill="rgb(225,40,40)" fill-opacity="0.05"/>
<circle cx="121.45" cy="146.63" r="3.2" fill="rgb(225,40,40)" fill-opacity="0.05"/>
<circle cx="108.76" cy="137.33" r="3.2" fill="rgb(225,40,40)" fill-opacity="0.05"/>
<circle cx="125.87" cy="191.88" r="3.2" fill="rgb(110,110,110)" fill-opacity="0.05"/>
<circle cx="127.12" cy="169.29" r="3.2" fill="rgb(40,40,200)" fill-opacity="0.05"/>
<circle cx="112.44" cy="139.54" r="3.2" fill="rgb(225,40,40)" fill-opacity="0.05"/>
<circle cx="118.53" cy="152.83" r="3.2" fill="rgb(40,40,200)" fill-opacity="0.05"/>
<circle cx="105.67" cy="151.15" r="3.2" fill="rgb(40,40,200)" fill-opacity="0.05"/>
<circle cx="100.67" cy="68.28" r="3.2" fill="rgb(40,40,200)" fill-opacity="0.05"/>
<circle cx="125.34" cy="84.52" r="3.2" fill="rgb(40,40,200)" fill-opacity="0.05"/>
<circle cx="117.05" cy="171.08" r="3.2" fill="rgb(40,180,40)" fill-opacity="0.05"/>
<circle cx="121.34" cy="129.24" r="3.2" fill="rgb(40,40,200)" fill-opacity="0.05"/>
<circle cx="119.69" cy="170.55" r="3.2" fill="rgb(40,180,40)" fill-opacity="0.05"/>
<circle cx="102.22" cy="91.57" r="3.2" fill="rgb(225,40,40)" fill-opacity="0.05"/>
<circle cx="125" cy="63.29" r="3.2" fill="rgb(40,40,200)" fill-opacity="0.05"/>
<circle cx="124.62" cy="169" r="3.2" fill="rgb(40,180,40)" fill-opacity="0.05"/>
<circle cx="114.92" cy="64.23" r="3.2" fill="rgb(40,40,200)" fill-opacity="0.05"/>
<circle cx="106.78" cy="111.78" r="3.2" fill="rgb(40,40,200)" fill-opacity="0.05"/>
<circle cx="126.02" cy="125.2" r="3.2" fill="rgb(225,40,40)" fill-opacity="0.05"/>
<circle cx="128.15" cy="82.23" r="3.2" fill="rgb(110,110,110)" fill-opacity="0.05"/>
<circle cx="122.75" cy="103.08" r="3.2" fill="rgb(225,40,40)" fill-opacity="0.05"/>
<circle cx="116.98" cy="126.13" r="3.2" fill="rgb(40,40,200)" fill-opacity="0.05"/>
<circle cx="134.6" cy="112.78" r="3.2" fill="rgb(40,180,40)" fill-opacity="0.05"/>
<circle cx="111.97" cy="141.41" r="3.2" fill="rgb(225,40,40)" fill-opacity="0.05"/>
<circle cx="119.89" cy="162.52" r="3.2" fill="rgb(40,40,200)" fill-opacity="0.05"/>
<circle cx="105.54" cy="95.61" r="3.2" fill="rgb(225,40,40)" fill-opacity="0.05"/>
<circle cx="109.45" cy="167.43" r="3.2" fill="rgb(40,40,200)" fill-opacity="0.05"/>
<circle cx="104.44" cy="102.19" r="3.2" fill="rgb(40,40,200)" fill-opacity="0.05"/>
<circle cx="110.65" cy="142.07" r="3.2" fill="rgb(40,40,200)" fill-opacity="0.05"/>
<circle cx="124.3" cy="89.24" r="3.2" fill="rgb(40,40,200)" fill-opacity="0.05"/>
<circle cx="113.42" cy="77.01" r="3.2" fill="rgb(40,180,40)" fill-opacity="0.05"/>
<circle cx="122.7" cy="152.89" r="3.2" fill="rgb(110,110,110)" fill-opacity="0.05"/>
<circle cx="117.39" cy="106.03" r="3.2" fill="rgb(40,180,40)" fill-opacity="0.05"/>
<circle cx="135.83" cy="91.88" r="3.2" fill="rgb(40,180,40)" fill-opacity="0.05"/>
<circle cx="115.9" cy="128.08" r="3.2" fill="rgb(40,40,200)" fill-opacity="0.05"/>
<circle cx="96.95" cy="55.16" r="3.2" fill="rgb(225,40,40)" fill-opacity="0.05"/>
<circle cx="112.64" cy="56.68" r="3.2" fill="rgb(40,180,40)" fill-opacity="0.05"/>
<circle cx="113.33" cy="109.16" r="3.2" fill="rgb(110,110,110)" fill-opacity="0.05"/>
<circle cx="121.23" cy="80.11" r="3.2" fill="rgb(40,180,40)" fill-opacity="0.05"/>
<circle cx="118.06" cy="82.51" r="3.2" fill="rgb(225,40,40)" fill-opacity="0.05"/>
<circle cx="119.41" cy="136.8" r="3.2" fill="rgb(40,40,200)" fill-opacity="0.05"/>
<circle cx="132.01" cy="164.61" r="3.2" fill="rgb(225,40,40)" fill-opacity="0.05"/>
<circle cx="122.94" cy="138.88" r="3.2" fill="rgb(225,40,40)" fill-opacity="0.05"/>
<circle cx="111.62" cy="147.16" r="3.2" fill="rgb(40,40,200)" fill-opacity="0.05"/>
<circle cx="128.28" cy="151.58" r="3.2" fill="rgb(40,180,40)" fill-opacity="0.05"/>
<circle cx="133.55" cy="66.76" r="3.2" fill="rgb(225,40,40)" fill-opacity="0.05"/>
<circle cx="114.35" cy="78.14" r="3.2" fill="rgb(40,40,200)" fill-opacity="0.05"/>
<circle cx="126.51" cy="91.6" r="3.2" fill="rgb(110,110,110)" fill-opacity="0.05"/>
<circle cx="130.7" cy="72.75" r="3.2" fill="rgb(225,40,40)" fill-opacity="0.05"/>
<circle cx="125.77" cy="159.12" r="3.2" fill="rgb(110,110,110)" fill-opacity="0.05"/>
<circle cx="126.42" cy="57.12" r="3.2" fill="rgb(40,180,40)" fill-opacity="0.05"/>
<circle cx="122.39" cy="71.99" r="3.2" fill="rgb(110,110,110)" fill-opacity="0.05"/>
<circle cx="124.6" cy="66.62" r="3.2" fill="rgb(40,180,40)" fill-opacity="0.05"/>
<circle cx="104.77" cy="91.54" r="3.2" fill="rgb(225,40,40)" fill-opacity="0.05"/>
<circle cx="132.52" cy="146.14" r="3.2" fill="rgb(40,180,40)" fill-opacity="0.05"/>
<circle cx="127.93" cy="111.96" r="3.2" fill="rgb(40,40,200)" fill-opacity="0.05"/>
<circle cx="123.74" cy="68.08" r="3.2" fill="rgb(40,40,200)" fill-opacity="0.05"/>
<circle cx="124.63" cy="104.25" r="3.2" fill="rgb(40,40,200)" fill-opacity="0.05"/>
<circle cx="129.8" cy="181.98" r="3.2" fill="rgb(225,40,40)" fill-opacity="0.05"/>
<circle cx="95.76" cy="69.08" r="3.2" fill="rgb(40,180,40)" fill-opacity="0.04"/>
<circle cx="99.03" cy="126.98" r="3.2" fill="rgb(110,110,110)" fill-opacity="0.04"/>
<circle cx="83.74" cy="115.97" r="3.2" fill="rgb(40,180,40)" fill-opacity="0.04"/>
<circle cx="90.24" cy="93.57" r="3.2" fill="rgb(40,180,40)" fill-opacity="0.04"/>
<circle cx="97.31" cy="138.84" r="3.2" fill="rgb(110,110,110)" fill-opacity="0.04"/>
<circle cx="85.79" cy="117.85" r="3.2" fill="rgb(110,110,110)" fill-opacity="0.04"/>
<circle cx="92.21" cy="58.77" r="3.2" fill="rgb(225,40,40)" fill-opacity="0.04"/>
<circle cx="97.3" cy="65.6" r="3.2" fill="rgb(110,110,110)" fill-opacity="0.04"/>
<circle cx="103.09" cy="137.56" r="3.2" fill="rgb(225,40,40)" fill-opacity="0.04"/>
<circle cx="96.86" cy="128.08" r="3.2" fill="rgb(225,40,40)" fill-opacity="0.04"/>
<circle cx="106.97" cy="128.74" r="3.2" fill="rgb(225,40,40)" fill-opacity="0.04"/>
<circle cx="90.43" cy="120.96" r="3.2" fill="rgb(225,40,40)" fill-opacity="0.04"/>
<circle cx="103.99" cy="69.84" r="3.2" fill="rgb(40,40,200)" fill-opacity="0.04"/>
<circle cx="97.13" cy="125.02" r="3.2" fill="rgb(225,40,40)" fill-opacity="0.04"/>
<circle cx="79.67" cy="80.65" r="3.2" fill="rgb(225,40,40)" fill-opacity="0.04"/>
<circle cx="81.22" cy="72.76" r="3.2" fill="rgb(40,40,200)" fill-opacity="0.04"/>
<circle cx="94.55" cy="85.71" r="3.2" fill="rgb(40,40,200)" fill-opacity="0.04"/>
<circle cx="99.2" cy="122.47" r="3.2" fill="rgb(225,40,40)" fill-opacity="0.04"/>
<circle cx="88.99" cy="70.52" r="3.2" fill="rgb(40,180,40)" fill-opacity="0.04"/>
<circle cx="97.96" cy="106.35" r="3.2" fill="rgb(40,180,40)" fill-opacity="0.04"/>
<circle cx="86.09" cy="143.96" r="3.2" fill="rgb(40,40,200)" fill-opacity="0.04"/>
<circle cx="100.63" cy="81.96" r="3.2" fill="rgb(40,180,40)" fill-opacity="0.04"/>
<circle cx="91.73" cy="112.66" r="3.2" fill="rgb(40,40,200)" fill-opacity="0.04"/>
<circle cx="95.72" cy="109.79" r="3.2" fill="rgb(40,40,200)" fill-opacity="0.04"/>
<circle cx="68.63" cy="97.04" r="3.2" fill="rgb(40,40,200)" fill-opacity="0.04"/>
<circle cx="91.56" cy="122.66" r="3.2" fill="rgb(225,40,40)" fill-opacity="0.04"/>
<circle cx="95.19" cy="56.51" r="3.2" fill="rgb(40,180,40)" fill-opacity="0.04"/>
<circle cx="81.42" cy="143.01" r="3.2" fill="rgb(40,180,40)" fill-opacity="0.04"/>
<circle cx="93.09" cy="75.18" r="3.2" fill="rgb(110,110,110)" fill-opacity="0.04"/>
<circle cx="88.03" cy="94.1" r="3.2" fill="rgb(225,40,40)" fill-opacity="0.04"/>
<circle cx="90.85" cy="110.21" r="3.2" fill="rgb(40,180,40)" fill-opacity="0.04"/>
<circle cx="94.62" cy="79.2" r="3.2" fill="rgb(40,40,200)" fill-opacity="0.04"/>
<circle cx="95.05" cy="75.92" r="3.2" fill="rgb(110,110,110)" fill-opacity="0.04"/>
<circle cx="95.57" cy="71.68" r="3.2" fill="rgb(40,40,200)" fill-opacity="0.04"/>
<circle cx="112.78" cy="133.84" r="3.2" fill="rgb(225,40,40)" fill-opacity="0.04"/>
<circle cx="88.85" cy="91.46" r="3.2" fill="rgb(225,40,40)" fill-opacity="0.04"/>
<circle cx="90.13" cy="73.11" r="3.2" fill="rgb(40,40,200)" fill-opacity="0.04"/>
<circle cx="101.18" cy="121.01" r="3.2" fill="rgb(225,40,40)" fill-opacity="0.04"/>
<circle cx="98.95" cy="116.17" r="3.2" fill="rgb(225,40,40)" fill-opacity="0.04"/>
<circle cx="108.74" cy="121.15" r="3.2" fill="rgb(40,40,200)" fill-opacity="0.04"/>
<circle cx="81.66" cy="56.61" r="3.2" fill="rgb(40,40,200)" fill-opacity="0.04"/>
<circle cx="102.23" cy="80.95" r="3.2" fill="rgb(110,110,110)" fill-opacity="0.04"/>
<circle cx="94.75" cy="81.44" r="3.2" fill="rgb(110,110,110)" fill-opacity="0.04"/>
<circle cx="72.31" cy="99.15" r="3.2" fill="rgb(40,180,40)" fill-opacity="0.04"/>
<circle cx="105.45" cy="113.25" r="3.2" fill="rgb(40,180,40)" fill-opacity="0.04"/>
<circle cx="79.78" cy="76.36" r="3.2" fill="rgb(40,180,40)" fill-opacity="0.04"/>
<circle cx="109.66" cy="121.44" r="3.2" fill="rgb(40,40,200)" fill-opacity="0.04"/>
<circle cx="93.89" cy="116.23" r="3.2" fill="rgb(225,40,40)" fill-opacity="0.04"/>
<circle cx="93.52" cy="127.51" r="3.2" fill="rgb(110,110,110)" fill-opacity="0.04"/>
<circle cx="105.71" cy="98.25" r="3.2" fill="rgb(40,40,200)" fill-opacity="0.04"/>
<circle cx="90.08" cy="105.26" r="3.2" fill="rgb(40,40,200)" fill-opacity="0.04"/>
<circle cx="82.54" cy="73.32" r="3.2" fill="rgb(40,180,40)" fill-opacity="0.04"/>
<circle cx="107.97" cy="59.15" r="3.2" fill="rgb(225,40,40)" fill-opacity="0.04"/>
<circle cx="99" cy="69.15" r="3.2" fill="rgb(225,40,40)" fill-opacity="0.04"/>
<circle cx="98.54" cy="136.69" r="3.2" fill="rgb(110,110,110)" fill-opacity="0.04"/>
<circle cx="86.23" cy="60.54" r="3.2" fill="rgb(225,40,40)" fill-opacity="0.04"/>
<circle cx="100.78" cy="103.26" r="3.2" fill="rgb(40,180,40)" fill-opacity="0.04"/>
<circle cx="96.81" cy="113.09" r="3.2" fill="rgb(225,40,40)" fill-opacity="0.04"/>
<circle cx="96.5" cy="54.99" r="3.2" fill="rgb(40,40,200)" fill-opacity="0.04"/>
<circle cx="84.48" cy="77.12" r="3.2" fill="rgb(40,180,40)" fill-opacity="0.04"/>
<circle cx="95.15" cy="127.57" r="3.2" fill="rgb(40,180,40)" fill-opacity="0.04"/>
<circle cx="72.99" cy="61.43" r="3.2" fill="rgb(225,40,40)" fill-opacity="0.04"/>
<circle cx="87.91" cy="127.66" r="3.2" fill="rgb(40,40,200)" fill-opacity="0.04"/>
<circle cx="76.8" cy="99.51" r="3.2" fill="rgb(40,40,200)" fill-opacity="0.04"/>
<circle cx="94.32" cy="86.62" r="3.2" fill="rgb(40,40,200)" fill-opacity="0.04"/>
<circle cx="88.8" cy="127.54" r="3.2" fill="rgb(225,40,40)" fill-opacity="0.04"/>
<circle cx="95.48" cy="119.31" r="3.2" fill="rgb(225,40,40)" fill-opacity="0.04"/>
<circle cx="93.97" cy="75.4" r="3.2" fill="rgb(40,180,40)" fill-opacity="0.04"/>
<circle cx="89.53" cy="85.8" r="3.2" fill="rgb(40,180,40)" fill-opacity="0.04"/>
<circle cx="102.46" cy="110.26" r="3.2" fill="rgb(225,40,40)" fill-opacity="0.04"/>
<circle cx="85.44" cy="112.69" r="3.2" fill="rgb(110,110,110)" fill-opacity="0.04"/>
<circle cx="81.79" cy="117.77" r="3.2" fill="rgb(40,40,200)" fill-opacity="0.04"/>
<circle cx="96.1" cy="98.74" r="3.2" fill="rgb(225,40,40)" fill-opacity="0.04"/>
<circle cx="93.07" cy="70.51" r="3.2" fill="rgb(110,110,110)" fill-opacity="0.04"/>
<circle cx="96.62" cy="90.46" r="3.2" fill="rgb(40,40,200)" fill-opacity="0.04"/>
<circle cx="91.02" cy="136.61" r="3.2" fill="rgb(40,180,40)" fill-opacity="0.04"/>
<circle cx="98.43" cy="82.72" r="3.2" fill="rgb(225,40,40)" fill-opacity="0.04"/>
<circle cx="88.2" cy="148.61" r="3.2" fill="rgb(40,180,40)" fill-opacity="0.04"/>
<circle cx="88.79" cy="95.53" r="3.2" fill="rgb(40,40,200)" fill-opacity="0.04"/>
<circle cx="91.54" cy="101.95" r="3.2" fill="rgb(225,40,40)" fill-opacity="0.04"/>
<circle cx="84.46" cy="139.82" r="3.2" fill="rgb(225,40,40)" fill-opacity="0.04"/>
<circle cx="103.72" cy="51.75" r="3.2" fill="rgb(225,40,40)" fill-opacity="0.04"/>
<circle cx="90.5" cy="109.96" r="3.2" fill="rgb(225,40,40)" fill-opacity="0.04"/>
<circle cx="93.02" cy="136.73" r="3.2" fill="rgb(225,40,40)" fill-opacity="0.04"/>
<circle cx="97.97" cy="115.31" r="3.2" fill="rgb(40,40,200)" fill-opacity="0.04"/>
<circle cx="93.5" cy="91.49" r="3.2" fill="rgb(40,180,40)" fill-opacity="0.04"/>
<circle cx="89.87" cy="112.36" r="3.2" fill="rgb(40,180,40)" fill-opacity="0.04"/>
<circle cx="92.12" cy="92.55" r="3.2" fill="rgb(40,40,200)" fill-opacity="0.04"/>
<circle cx="83.68" cy="77.41" r="3.2" fill="rgb(40,40,200)" fill-opacity="0.04"/>
<circle cx="97.05" cy="54.31" r="3.2" fill="rgb(225,40,40)" fill-opacity="0.04"/>
<circle cx="83.58" cy="69.67" r="3.2" fill="rgb(40,40,200)" fill-opacity="0.04"/>
<circle cx="90.65" cy="85.27" r="3.2" fill="rgb(225,40,40)" fill-opacity="0.04"/>
<circle cx="91.05" cy="139.72" r="3.2" fill="rgb(225,40,40)" fill-opacity="0.04"/>
<circle cx="92.49" cy="80.66" r="3.2" fill="rgb(110,110,110)" fill-opacity="0.04"/>
<circle cx="86.83" cy="124.06" r="3.2" fill="rgb(40,40,200)" fill-opacity="0.04"/>
<circle cx="92.61" cy="110.81" r="3.2" fill="rgb(40,180,40)" fill-opacity="0.04"/>
<circle cx="85.16" cy="56.31" r="3.2" fill="rgb(40,40,200)" fill-opacity="0.04"/>
<circle cx="96.04" cy="110.46" r="3.2" fill="rgb(40,40,200)" fill-opacity="0.04"/>
<circle cx="97.79" cy="97.18" r="3.2" fill="rgb(40,180,40)" fill-opacity="0.04"/>
<circle cx="90.83" cy="81.83" r="3.2" fill="rgb(225,40,40)" fill-opacity="0.04"/>
<circle cx="94.07" cy="80.97" r="3.2" fill="rgb(40,180,40)" fill-opacity="0.04"/>
<circle cx="98.26" cy="100.11" r="3.2" fill="rgb(40,40,200)" fill-opacity="0.04"/>
<circle cx="93.48" cy="111.11" r="3.2" fill="rgb(40,40,200)" fill-opacity="0.04"/>
<circle cx="88.36" cy="115.04" r="3.2" fill="rgb(110,110,110)" fill-opacity="0.04"/>
<circle cx="92.74" cy="124.02" r="3.2" fill="rgb(110,110,110)" fill-opacity="0.04"/>
<circle cx="94.05" cy="104.88" r="3.2" fill="rgb(225,40,40)" fill-opacity="0.04"/>
<circle cx="91.01" cy="133.36" r="3.2" fill="rgb(40,40,200)" fill-opacity="0.04"/>
<circle cx="88.73" cy="89.5" r="3.2" fill="rgb(225,40,40)" fill-opacity="0.04"/>
<circle cx="96.83" cy="101.83" r="3.2" fill="rgb(40,40,200)" fill-opacity="0.04"/>
<circle cx="89.45" cy="122" r="3.2" fill="rgb(110,110,110)" fill-opacity="0.04"/>
<circle cx="95.57" cy="138.19" r="3.2" fill="rgb(40,180,40)" fill-opacity="0.04"/>
<circle cx="109.39" cy="53.28" r="3.2" fill="rgb(40,40,200)" fill-opacity="0.04"/>
<circle cx="93.69" cy="67.83" r="3.2" fill="rgb(225,40,40)" fill-opacity="0.04"/>
<circle cx="88.64" cy="70.08" r="3.2" fill="rgb(40,180,40)" fill-opacity="0.04"/>
<circle cx="98.93" cy="128.53" r="3.2" fill="rgb(110,110,110)" fill-opacity="0.04"/>
<circle cx="95.97" cy="74.82" r="3.2" fill="rgb(110,110,110)" fill-opacity="0.04"/>
<circle cx="80.35" cy="58.29" r="3.2" fill="rgb(225,40,40)" fill-opacity="0.04"/>
<circle cx="89.38" cy="124.38" r="3.2" fill="rgb(225,40,40)" fill-opacity="0.04"/>
<circle cx="91.61" cy="69.11" r="3.2" fill="rgb(40,40,200)" fill-opacity="0.04"/>
<circle cx="92.83" cy="71.67" r="3.2" fill="rgb(40,180,40)" fill-opacity="0.04"/>
<circle cx="93.55" cy="108.99" r="3.2" fill="rgb(40,40,200)" fill-opacity="0.04"/>
<circle cx="83.95" cy="120.93" r="3.2" fill="rgb(40,180,40)" fill-opacity="0.04"/>
<circle cx="98.63" cy="53.36" r="3.2" fill="rgb(110,110,110)" fill-opacity="0.04"/>
<circle cx="85.89" cy="129.12" r="3.2" fill="rgb(110,110,110)" fill-opacity="0.04"/>
<circle cx="93.49" cy="54.92" r="3.2" fill="rgb(40,180,40)" fill-opacity="0.04"/>
<circle cx="88.61" cy="120.02" r="3.2" fill="rgb(40,180,40)" fill-opacity="0.04"/>
<circle cx="84.91" cy="111.05" r="3.2" fill="rgb(110,110,110)" fill-opacity="0.04"/>
<circle cx="70.62" cy="97.63" r="3.2" fill="rgb(110,110,110)" fill-opacity="0.04"/>
<circle cx="85.59" cy="102.43" r="3.2" fill="rgb(225,40,40)" fill-opacity="0.04"/>
<circle cx="100.67" cy="74.35" r="3.2" fill="rgb(225,40,40)" fill-opacity="0.04"/>
<circle cx="98.88" cy="72.52" r="3.2" fill="rgb(40,180,40)" fill-opacity="0.04"/>
<circle cx="87.36" cy="89.15" r="3.2" fill="rgb(40,40,200)" fill-opacity="0.04"/>
<circle cx="86.98" cy="49.42" r="3.2" fill="rgb(40,40,200)" fill-opacity="0.04"/>
<circle cx="83.16" cy="138.34" r="3.2" fill="rgb(40,40,200)" fill-opacity="0.04"/>
<circle cx="86.09" cy="65.32" r="3.2" fill="rgb(40,180,40)" fill-opacity="0.04"/>
<circle cx="88.67" cy="101.49" r="3.2" fill="rgb(40,40,200)" fill-opacity="0.04"/>
<circle cx="88.43" cy="75.1" r="3.2" fill="rgb(40,40,200)" fill-opacity="0.04"/>
<circle cx="80.72" cy="101.61" r="3.2" fill="rgb(40,40,200)" fill-opacity="0.04"/>
<circle cx="95.69" cy="81.09" r="3.2" fill="rgb(40,180,40)" fill-opacity="0.04"/>
<circle cx="90.58" cy="141.65" r="3.2" fill="rgb(40,180,40)" fill-opacity="0.04"/>
<circle cx="84.11" cy="72.35" r="3.2" fill="rgb(40,40,200)" fill-opacity="0.04"/>
<circle cx="93.64" cy="61.62" r="3.2" fill="rgb(225,40,40)" fill-opacity="0.04"/>
<circle cx="89.81" cy="60.88" r="3.2" fill="rgb(40,40,200)" fill-opacity="0.04"/>
<circle cx="72.21" cy="132.88" r="3.2" fill="rgb(40,180,40)" fill-opacity="0.04"/>
<circle cx="95" cy="100.05" r="3.2" fill="rgb(110,110,110)" fill-opacity="0.04"/>
<circle cx="82.37" cy="114.08" r="3.2" fill="rgb(110,110,110)" fill-opacity="0.04"/>
<circle cx="82.08" cy="82.87" r="3.2" fill="rgb(225,40,40)" fill-opacity="0.04"/>
<circle cx="99.92" cy="64.72" r="3.2" fill="rgb(110,110,110)" fill-opacity="0.04"/>
<circle cx="98.21" cy="84.47" r="3.2" fill="rgb(40,40,200)" fill-opacity="0.04"/>
<circle cx="87.83" cy="103.48" r="3.2" fill="rgb(225,40,40)" fill-opacity="0.04"/>
<circle cx="92.96" cy="112.53" r="3.2" fill="rgb(40,180,40)" fill-opacity="0.04"/>
<circle cx="94.74" cy="90.95" r="3.2" fill="rgb(40,40,200)" fill-opacity="0.04"/>
<circle cx="93.78" cy="84.19" r="3.2" fill="rgb(110,110,110)" fill-opacity="0.04"/>
<circle cx="89.36" cy="80.41" r="3.2" fill="rgb(110,110,110)" fill-opacity="0.04"/>
<circle cx="94.34" cy="68.72" r="3.2" fill="rgb(110,110,110)" fill-opacity="0.04"/>
<circle cx="89.55" cy="63.47" r="3.2" fill="rgb(225,40,40)" fill-opacity="0.04"/>
<circle cx="96.52" cy="118.3" r="3.2" fill="rgb(225,40,40)" fill-opacity="0.04"/>
<circle cx="88.45" cy="123.63" r="3.2" fill="rgb(110,110,110)" fill-opacity="0.04"/>
<circle cx="85.79" cy="105.02" r="3.2" fill="rgb(40,180,40)" fill-opacity="0.04"/>
<circle cx="93.35" cy="57.56" r="3.2" fill="rgb(225,40,40)" fill-opacity="0.04"/>
<circle cx="74.68" cy="133.54" r="3.2" fill="rgb(40,180,40)" fill-opacity="0.04"/>
<circle cx="90.51" cy="100.03" r="3.2" fill="rgb(225,40,40)" fill-opacity="0.04"/>
<circle cx="99.88" cy="58.04" r="3.2" fill="rgb(40,40,200)" fill-opacity="0.04"/>
<circle cx="96.28" cy="131.16" r="3.2" fill="rgb(40,180,40)" fill-opacity="0.04"/>
<circle cx="82.27" cy="96.83" r="3.2" fill="rgb(40,40,200)" fill-opacity="0.04"/>
<circle cx="91.76" cy="139.44" r="3.2" fill="rgb(110,110,110)" fill-opacity="0.04"/>
<circle cx="83" cy="117.58" r="3.2" fill="rgb(40,180,40)" fill-opacity="0.04"/>
<circle cx="91.44" cy="121.01" r="3.2" fill="rgb(40,180,40)" fill-opacity="0.04"/>
<circle cx="84.15" cy="59.37" r="3.2" fill="rgb(40,40,200)" fill-opacity="0.04"/>
<circle cx="91.4" cy="100.56" r="3.2" fill="rgb(225,40,40)" fill-opacity="0.04"/>
<circle cx="95.86" cy="77.38" r="3.2" fill="rgb(225,40,40)" fill-opacity="0.04"/>
<circle cx="87.84" cy="109.79" r="3.2" fill="rgb(40,40,200)" fill-opacity="0.04"/>
<circle cx="89.42" cy="93.66" r="3.2" fill="rgb(110,110,110)" fill-opacity="0.04"/>
<circle cx="94.39" cy="123.24" r="3.2" fill="rgb(40,180,40)" fill-opacity="0.04"/>
<circle cx="98.97" cy="92.52" r="3.2" fill="rgb(40,180,40)" fill-opacity="0.04"/>
<circle cx="95.52" cy="91.04" r="3.2" fill="rgb(40,40,200)" fill-opacity="0.04"/>
<circle cx="92.27" cy="59.2" r="3.2" fill="rgb(40,180,40)" fill-opacity="0.04"/>
<circle cx="98.4" cy="142.47" r="3.2" fill="rgb(40,180,40)" fill-opacity="0.04"/>
<circle cx="91.07" cy="67.04" r="3.2" fill="rgb(110,110,110)" fill-opacity="0.04"/>
<circle cx="98.33" cy="85.83" r="3.2" fill="rgb(40,180,40)" fill-opacity="0.04"/>
<circle cx="74.65" cy="103.79" r="3.2" fill="rgb(225,40,40)" fill-opacity="0.04"/>
<circle cx="86.92" cy="113.03" r="3.2" fill="rgb(40,180,40)" fill-opacity="0.04"/>
<circle cx="81.33" cy="66.5" r="3.2" fill="rgb(40,180,40)" fill-opacity="0.04"/>
<circle cx="101.96" cy="141.59" r="3.2" fill="rgb(40,40,200)" fill-opacity="0.04"/>
<circle cx="105.58" cy="62.52" r="3.2" fill="rgb(40,40,200)" fill-opacity="0.04"/>
<circle cx="75.68" cy="82.77" r="3.2" fill="rgb(40,180,40)" fill-opacity="0.04"/>
<circle cx="99.6" cy="59.68" r="3.2" fill="rgb(40,40,200)" fill-opacity="0.04"/>
<circle cx="92.66" cy="63.38" r="3.2" fill="rgb(225,40,40)" fill-opacity="0.04"/>
<circle cx="78.82" cy="118.1" r="3.2" fill="rgb(40,40,200)" fill-opacity="0.04"/>
<circle cx="107.35" cy="84.67" r="3.2" fill="rgb(40,40,200)" fill-opacity="0.04"/>
<circle cx="90.63" cy="99.47" r="3.2" fill="rgb(40,40,200)" fill-opacity="0.04"/>
<circle cx="87.62" cy="55.62" r="3.2" fill="rgb(40,40,200)" fill-opacity="0.04"/>
<circle cx="82.16" cy="58.46" r="3.2" fill="rgb(225,40,40)" fill-opacity="0.04"/>
<circle cx="94.96" cy="135.16" r="3.2" fill="rgb(40,40,200)" fill-opacity="0.04"/>
<circle cx="90.4" cy="79.47" r="3.2" fill="rgb(40,40,200)" fill-opacity="0.04"/>
<circle cx="87" cy="65.21" r="3.2" fill="rgb(225,40,40)" fill-opacity="0.04"/>
<circle cx="101.72" cy="61.45" r="3.2" fill="rgb(40,40,200)" fill-opacity="0.04"/>
<circle cx="97.95" cy="93.91" r="3.2" fill="rgb(40,40,200)" fill-opacity="0.04"/>
<circle cx="92.61" cy="61.44" r="3.2" fill="rgb(225,40,40)" fill-opacity="0.04"/>
<circle cx="85.49" cy="105.37" r="3.2" fill="rgb(110,110,110)" fill-opacity="0.04"/>
<circle cx="92.25" cy="116.27" r="3.2" fill="rgb(110,110,110)" fill-opacity="0.04"/>
<circle cx="77.53" cy="86.66" r="3.2" fill="rgb(40,40,200)" fill-opacity="0.04"/>
<circle cx="98.91" cy="95.2" r="3.2" fill="rgb(110,110,110)" fill-opacity="0.04"/>
<circle cx="97.39" cy="132.73" r="3.2" fill="rgb(40,180,40)" fill-opacity="0.04"/>
<circle cx="86.09" cy="73.57" r="3.2" fill="rgb(40,180,40)" fill-opacity="0.04"/>
<circle cx="90.98" cy="142.34" r="3.2" fill="rgb(40,40,200)" fill-opacity="0.04"/>
<circle cx="101.63" cy="102.18" r="3.2" fill="rgb(225,40,40)" fill-opacity="0.04"/>
<circle cx="99.05" cy="98.57" r="3.2" fill="rgb(225,40,40)" fill-opacity="0.04"/>
<circle cx="75" cy="76.85" r="3.2" fill="rgb(110,110,110)" fill-opacity="0.04"/>
<circle cx="88.64" cy="77.89" r="3.2" fill="rgb(40,180,40)" fill-opacity="0.04"/>
<circle cx="98.18" cy="140.73" r="3.2" fill="rgb(40,180,40)" fill-opacity="0.04"/>
<circle cx="99.34" cy="64.35" r="3.2" fill="rgb(225,40,40)" fill-opacity="0.04"/>
<circle cx="71.95" cy="51.17" r="3.2" fill="rgb(110,110,110)" fill-opacity="0.04"/>
<circle cx="76.92" cy="120.76" r="3.2" fill="rgb(40,180,40)" fill-opacity="0.04"/>
<circle cx="94.7" cy="49.97" r="3.2" fill="rgb(40,180,40)" fill-opacity="0.04"/>
<circle cx="101.76" cy="111.46" r="3.2" fill="rgb(110,110,110)" fill-opacity="0.04"/>
<circle cx="91.18" cy="64.48" r="3.2" fill="rgb(40,40,200)" fill-opacity="0.04"/>
<circle cx="97.34" cy="96.6" r="3.2" fill="rgb(40,180,40)" fill-opacity="0.04"/>
<circle cx="82.02" cy="127.05" r="3.2" fill="rgb(40,40,200)" fill-opacity="0.04"/>
<circle cx="92.28" cy="64.24" r="3.2" fill="rgb(40,180,40)" fill-opacity="0.04"/>
<circle cx="89.29" cy="97.62" r="3.2" fill="rgb(40,40,200)" fill-opacity="0.04"/>
<circle cx="95.62" cy="87.73" r="3.2" fill="rgb(40,40,200)" fill-opacity="0.04"/>
<circle cx="106.39" cy="122.48" r="3.2" fill="rgb(225,40,40)" fill-opacity="0.04"/>
<circle cx="99.9" cy="76.15" r="3.2" fill="rgb(225,40,40)" fill-opacity="0.04"/>
<circle cx="87.36" cy="54.11" r="3.2" fill="rgb(40,40,200)" fill-opacity="0.04"/>
<circle cx="92.63" cy="72.34" r="3.2" fill="rgb(110,110,110)" fill-opacity="0.04"/>
<circle cx="97.46" cy="80.74" r="3.2" fill="rgb(40,180,40)" fill-opacity="0.04"/>
<circle cx="106.66" cy="130.28" r="3.2" fill="rgb(225,40,40)" fill-opacity="0.04"/>
<circle cx="89.36" cy="52.37" r="3.2" fill="rgb(110,110,110)" fill-opacity="0.04"/>
<circle cx="87.66" cy="111.32" r="3.2" fill="rgb(40,40,200)" fill-opacity="0.04"/>
<circle cx="85.2" cy="126.59" r="3.2" fill="rgb(110,110,110)" fill-opacity="0.04"/>
<circle cx="84.17" cy="68.61" r="3.2" fill="rgb(40,180,40)" fill-opacity="0.04"/>
<circle cx="105.46" cy="52.55" r="3.2" fill="rgb(110,110,110)" fill-opacity="0.04"/>
<circle cx="102.15" cy="77.87" r="3.2" fill="rgb(40,180,40)" fill-opacity="0.04"/>
<circle cx="106.61" cy="92.6" r="3.2" fill="rgb(225,40,40)" fill-opacity="0.04"/>
<circle cx="100.33" cy="50.15" r="3.2" fill="rgb(225,40,40)" fill-opacity="0.04"/>
<circle cx="92.22" cy="74.59" r="3.2" fill="rgb(225,40,40)" fill-opacity="0.04"/>
<circle cx="92.17" cy="124.79" r="3.2" fill="rgb(225,40,40)" fill-opacity="0.04"/>
<circle cx="106.54" cy="111.33" r="3.2" fill="rgb(40,180,40)" fill-opacity="0.04"/>
<circle cx="90.14" cy="103.43" r="3.2" fill="rgb(40,180,40)" fill-opacity="0.04"/>
<circle cx="88.48" cy="126.41" r="3.2" fill="rgb(40,180,40)" fill-opacity="0.04"/>
<circle cx="84.74" cy="142.78" r="3.2" fill="rgb(40,180,40)" fill-opacity="0.04"/>
<circle cx="95.69" cy="69.18" r="3.2" fill="rgb(40,180,40)" fill-opacity="0.04"/>
<circle cx="77.18" cy="100.82" r="3.2" fill="rgb(225,40,40)" fill-opacity="0.04"/>
<circle cx="95.65" cy="83.33" r="3.2" fill="rgb(110,110,110)" fill-opacity="0.04"/>
<circle cx="94.64" cy="85.56" r="3.2" fill="rgb(40,40,200)" fill-opacity="0.04"/>
<circle cx="96.02" cy="81.64" r="3.2" fill="rgb(40,40,200)" fill-opacity="0.04"/>
<circle cx="88.33" cy="80.95" r="3.2" fill="rgb(40,180,40)" fill-opacity="0.04"/>
<circle cx="76.43" cy="100.45" r="3.2" fill="rgb(225,40,40)" fill-opacity="0.04"/>
<circle cx="94.15" cy="120.86" r="3.2" fill="rgb(225,40,40)" fill-opacity="0.04"/>
<circle cx="104.57" cy="99.56" r="3.2" fill="rgb(40,40,200)" fill-opacity="0.04"/>
<circle cx="83.18" cy="56.08" r="3.2" fill="rgb(225,40,40)" fill-opacity="0.04"/>
<circle cx="91.55" cy="130.27" r="3.2" fill="rgb(110,110,110)" fill-opacity="0.04"/>
<circle cx="81.6" cy="95.73" r="3.2" fill="rgb(225,40,40)" fill-opacity="0.04"/>
<circle cx="90.3" cy="60.09" r="3.2" fill="rgb(40,40,200)" fill-opacity="0.04"/>
<circle cx="92.21" cy="54.32" r="3.2" fill="rgb(40,40,200)" fill-opacity="0.04"/>
<circle cx="96.26" cy="141.09" r="3.2" fill="rgb(40,40,200)" fill-opacity="0.04"/>
<circle cx="84.92" cy="70.52" r="3.2" fill="rgb(40,180,40)" fill-opacity="0.04"/>
<circle cx="91.59" cy="129.57" r="3.2" fill="rgb(110,110,110)" fill-opacity="0.04"/>
<circle cx="99.93" cy="72" r="3.2" fill="rgb(40,40,200)" fill-opacity="0.04"/>
<circle cx="90.71" cy="65.92" r="3.2" fill="rgb(40,40,200)" fill-opacity="0.04"/>
<circle cx="88.29" cy="77.43" r="3.2" fill="rgb(225,40,40)" fill-opacity="0.04"/>
<circle cx="94.09" cy="107.66" r="3.2" fill="rgb(110,110,110)" fill-opacity="0.04"/>
<circle cx="89.56" cy="93.33" r="3.2" fill="rgb(110,110,110)" fill-opacity="0.04"/>
<circle cx="90.46" cy="136.9" r="3.2" fill="rgb(40,180,40)" fill-opacity="0.04"/>
<circle cx="93.04" cy="49.66" r="3.2" fill="rgb(40,40,200)" fill-opacity="0.04"/>
<circle cx="82.08" cy="71.54" r="3.2" fill="rgb(225,40,40)" fill-opacity="0.04"/>
<circle cx="87.85" cy="60.99" r="3.2" fill="rgb(40,40,200)" fill-opacity="0.04"/>
<circle cx="72.55" cy="112.91" r="3.2" fill="rgb(110,110,110)" fill-opacity="0.04"/>
<circle cx="101.51" cy="78.35" r="3.2" fill="rgb(40,180,40)" fill-opacity="0.04"/>
<circle cx="90.78" cy="89.33" r="3.2" fill="rgb(40,40,200)" fill-opacity="0.04"/>
<circle cx="99.2" cy="125.01" r="3.2" fill="rgb(225,40,40)" fill-opacity="0.04"/>
<circle cx="90.43" cy="62.44" r="3.2" fill="rgb(225,40,40)" fill-opacity="0.04"/>
<circle cx="94.02" cy="130.55" r="3.2" fill="rgb(225,40,40)" fill-opacity="0.04"/>
<circle cx="97.23" cy="63.54" r="3.2" fill="rgb(40,40,200)" fill-opacity="0.04"/>
<circle cx="96.57" cy="131.22" r="3.2" fill="rgb(225,40,40)" fill-opacity="0.04"/>
<circle cx="83.05" cy="135.76" r="3.2" fill="rgb(40,180,40)" fill-opacity="0.04"/>
<circle cx="87.36" cy="134.75" r="3.2" fill="rgb(110,110,110)" fill-opacity="0.04"/>
<circle cx="98.39" cy="58.73" r="3.2" fill="rgb(40,40,200)" fill-opacity="0.04"/>
<circle cx="98.71" cy="120.01" r="3.2" fill="rgb(225,40,40)" fill-opacity="0.04"/>
<circle cx="97.97" cy="93.06" r="3.2" fill="rgb(40,40,200)" fill-opacity="0.04"/>
<circle cx="94.76" cy="54.48" r="3.2" fill="rgb(225,40,40)" fill-opacity="0.04"/>
<circle cx="98.18" cy="56.71" r="3.2" fill="rgb(40,40,200)" fill-opacity="0.04"/>
<circle cx="93.16" cy="137.44" r="3.2" fill="rgb(110,110,110)" fill-opacity="0.04"/>
<circle cx="89.58" cy="120.99" r="3.2" fill="rgb(40,180,40)" fill-opacity="0.04"/>
<circle cx="82.41" cy="86.46" r="3.2" fill="rgb(40,40,200)" fill-opacity="0.04"/>
<circle cx="90.34" cy="105.51" r="3.2" fill="rgb(40,40,200)" fill-opacity="0.04"/>
<circle cx="85.89" cy="112.67" r="3.2" fill="rgb(225,40,40)" fill-opacity="0.04"/>
<circle cx="94.59" cy="135.83" r="3.2" fill="rgb(110,110,110)" fill-opacity="0.04"/>
<circle cx="85.58" cy="116.41" r="3.2" fill="rgb(40,40,200)" fill-opacity="0.04"/>
<circle cx="87.54" cy="96.5" r="3.2" fill="rgb(225,40,40)" fill-opacity="0.04"/>
<circle cx="95.76" cy="109.38" r="3.2" fill="rgb(40,40,200)" fill-opacity="0.04"/>
<circle cx="76.67" cy="92.76" r="3.2" fill="rgb(110,110,110)" fill-opacity="0.04"/>
<circle cx="89.16" cy="59.7" r="3.2" fill="rgb(40,180,40)" fill-opacity="0.04"/>
<circle cx="70.01" cy="129.48" r="3.2" fill="rgb(110,110,110)" fill-opacity="0.04"/>
<circle cx="85.05" cy="108.8" r="3.2" fill="rgb(40,40,200)" fill-opacity="0.04"/>
<circle cx="88.82" cy="130.27" r="3.2" fill="rgb(225,40,40)" fill-opacity="0.04"/>
<circle cx="94.77" cy="96.33" r="3.2" fill="rgb(225,40,40)" fill-opacity="0.04"/>
<circle cx="105.66" cy="142.8" r="3.2" fill="rgb(225,40,40)" fill-opacity="0.04"/>
<circle cx="98.34" cy="87.97" r="3.2" fill="rgb(40,180,40)" fill-opacity="0.04"/>
<circle cx="97.44" cy="121.22" r="3.2" fill="rgb(225,40,40)" fill-opacity="0.04"/>
<circle cx="108.3" cy="56.81" r="3.2" fill="rgb(40,180,40)" fill-opacity="0.04"/>
<circle cx="101.76" cy="137.53" r="3.2" fill="rgb(40,40,200)" fill-opacity="0.04"/>
<circle cx="96.95" cy="91.28" r="3.2" fill="rgb(40,40,200)" fill-opacity="0.04"/>
<circle cx="86.36" cy="93.4" r="3.2" fill="rgb(40,40,200)" fill-opacity="0.04"/>
<circle cx="84.11" cy="64.81" r="3.2" fill="rgb(225,40,40)" fill-opacity="0.04"/>
<circle cx="76.88" cy="119.11" r="3.2" fill="rgb(225,40,40)" fill-opacity="0.04"/>
<circle cx="101.76" cy="111.86" r="3.2" fill="rgb(40,180,40)" fill-opacity="0.04"/>
<circle cx="97.58" cy="52.3" r="3.2" fill="rgb(110,110,110)" fill-opacity="0.04"/>
<circle cx="93.92" cy="119.81" r="3.2" fill="rgb(40,180,40)" fill-opacity="0.04"/>
<circle cx="95.02" cy="112.79" r="3.2" fill="rgb(110,110,110)" fill-opacity="0.04"/>
<circle cx="81.49" cy="54.2" r="3.2" fill="rgb(225,40,40)" fill-opacity="0.04"/>
<circle cx="87.68" cy="62.33" r="3.2" fill="rgb(40,180,40)" fill-opacity="0.04"/>
<circle cx="96.63" cy="92.88" r="3.2" fill="rgb(110,110,110)" fill-opacity="0.04"/>
<circle cx="106.86" cy="53.08" r="3.2" fill="rgb(40,40,200)" fill-opacity="0.04"/>
<circle cx="98.03" cy="129.72" r="3.2" fill="rgb(110,110,110)" fill-opacity="0.04"/>
<circle cx="81.27" cy="75.46" r="3.2" fill="rgb(225,40,40)" fill-opacity="0.04"/>
<circle cx="95.85" cy="107.98" r="3.2" fill="rgb(40,180,40)" fill-opacity="0.04"/>
<circle cx="98.58" cy="131.31" r="3.2" fill="rgb(40,180,40)" fill-opacity="0.04"/>
<circle cx="99.31" cy="65.29" r="3.2" fill="rgb(40,180,40)" fill-opacity="0.04"/>
<circle cx="96.6" cy="97.51" r="3.2" fill="rgb(110,110,110)" fill-opacity="0.04"/>
<circle cx="91.47" cy="54.98" r="3.2" fill="rgb(40,40,200)" fill-opacity="0.04"/>
<circle cx="111.86" cy="102.05" r="3.2" fill="rgb(40,40,200)" fill-opacity="0.04"/>
<circle cx="85.53" cy="66.86" r="3.2" fill="rgb(225,40,40)" fill-opacity="0.04"/>
<circle cx="95.91" cy="67.63" r="3.2" fill="rgb(225,40,40)" fill-opacity="0.04"/>
<circle cx="87.58" cy="70.64" r="3.2" fill="rgb(225,40,40)" fill-opacity="0.04"/>
<circle cx="98.17" cy="56.37" r="3.2" fill="rgb(40,180,40)" fill-opacity="0.04"/>
<circle cx="83.45" cy="132.96" r="3.2" fill="rgb(40,180,40)" fill-opacity="0.04"/>
<circle cx="91.47" cy="124.7" r="3.2" fill="rgb(40,40,200)" fill-opacity="0.04"/>
<circle cx="92.31" cy="115.61" r="3.2" fill="rgb(40,180,40)" fill-opacity="0.04"/>
<circle cx="96.86" cy="68.42" r="3.2" fill="rgb(110,110,110)" fill-opacity="0.04"/>
<circle cx="93.55" cy="94.76" r="3.2" fill="rgb(40,40,200)" fill-opacity="0.04"/>
<circle cx="90.96" cy="46.92" r="3.2" fill="rgb(40,40,200)" fill-opacity="0.04"/>
<circle cx="92.78" cy="80.12" r="3.2" fill="rgb(40,180,40)" fill-opacity="0.04"/>
<circle cx="98.31" cy="103.98" r="3.2" fill="rgb(110,110,110)" fill-opacity="0.04"/>
<circle cx="96.2" cy="81.03" r="3.2" fill="rgb(40,180,40)" fill-opacity="0.04"/>
<circle cx="98.79" cy="112.83" r="3.2" fill="rgb(40,40,200)" fill-opacity="0.04"/>
<circle cx="103.88" cy="87.94" r="3.2" fill="rgb(225,40,40)" fill-opacity="0.04"/>
<circle cx="97.68" cy="91.49" r="3.2" fill="rgb(40,40,200)" fill-opacity="0.04"/>
<circle cx="86.61" cy="65.34" r="3.2" fill="rgb(225,40,40)" fill-opacity="0.04"/>
<circle cx="91.56" cy="85.32" r="3.2" fill="rgb(40,180,40)" fill-opacity="0.04"/>
<circle cx="107.85" cy="109.88" r="3.2" fill="rgb(40,40,200)" fill-opacity="0.04"/>
<circle cx="90.24" cy="85.21" r="3.2" fill="rgb(40,180,40)" fill-opacity="0.04"/>
<circle cx="88.9" cy="127.95" r="3.2" fill="rgb(40,180,40)" fill-opacity="0.04"/>
<circle cx="81.72" cy="117.29" r="3.2" fill="rgb(40,40,200)" fill-opacity="0.04"/>
<circle cx="101.46" cy="136.71" r="3.2" fill="rgb(40,180,40)" fill-opacity="0.04"/>
<circle cx="88.72" cy="131.67" r="3.2" fill="rgb(40,180,40)" fill-opacity="0.04"/>
<circle cx="89.94" cy="131.89" r="3.2" fill="rgb(110,110,110)" fill-opacity="0.04"/>
<circle cx="91.88" cy="131.42" r="3.2" fill="rgb(225,40,40)" fill-opacity="0.04"/>
<circle cx="97.34" cy="106.85" r="3.2" fill="rgb(40,40,200)" fill-opacity="0.04"/>
<circle cx="86.6" cy="56.2" r="3.2" fill="rgb(40,40,200)" fill-opacity="0.04"/>
<circle cx="95.27" cy="109.89" r="3.2" fill="rgb(40,180,40)" fill-opacity="0.04"/>
<circle cx="88.95" cy="68.83" r="3.2" fill="rgb(40,180,40)" fill-opacity="0.04"/>
<circle cx="80.54" cy="117.44" r="3.2" fill="rgb(40,180,40)" fill-opacity="0.04"/>
<circle cx="80.19" cy="103.77" r="3.2" fill="rgb(40,180,40)" fill-opacity="0.04"/>
<circle cx="92.02" cy="120.37" r="3.2" fill="rgb(110,110,110)" fill-opacity="0.04"/>
<circle cx="86.65" cy="125.62" r="3.2" fill="rgb(110,110,110)" fill-opacity="0.04"/>
<circle cx="86.97" cy="67.25" r="3.2" fill="rgb(40,180,40)" fill-opacity="0.04"/>
<circle cx="99.94" cy="132.83" r="3.2" fill="rgb(40,180,40)" fill-opacity="0.04"/>
<circle cx="100.61" cy="137.43" r="3.2" fill="rgb(40,40,200)" fill-opacity="0.04"/>
<circle cx="92.23" cy="71.96" r="3.2" fill="rgb(40,40,200)" fill-opacity="0.04"/>
<circle cx="96.31" cy="100.5" r="3.2" fill="rgb(110,110,110)" fill-opacity="0.04"/>
<circle cx="112.02" cy="88.43" r="3.2" fill="rgb(40,180,40)" fill-opacity="0.04"/>
<circle cx="80.89" cy="141.18" r="3.2" fill="rgb(110,110,110)" fill-opacity="0.04"/>
<circle cx="99.79" cy="122.84" r="3.2" fill="rgb(225,40,40)" fill-opacity="0.04"/>
<circle cx="99.86" cy="88.79" r="3.2" fill="rgb(225,40,40)" fill-opacity="0.04"/>
<circle cx="99.29" cy="115.73" r="3.2" fill="rgb(225,40,40)" fill-opacity="0.04"/>
<circle cx="91.23" cy="76.74" r="3.2" fill="rgb(110,110,110)" fill-opacity="0.04"/>
<circle cx="89.32" cy="94.32" r="3.2" fill="rgb(225,40,40)" fill-opacity="0.04"/>
<circle cx="97.41" cy="60.81" r="3.2" fill="rgb(40,180,40)" fill-opacity="0.04"/>
<circle cx="90.97" cy="117.78" r="3.2" fill="rgb(40,180,40)" fill-opacity="0.04"/>
<circle cx="94.28" cy="130.83" r="3.2" fill="rgb(110,110,110)" fill-opacity="0.04"/>
<circle cx="100.96" cy="66.37" r="3.2" fill="rgb(225,40,40)" fill-opacity="0.04"/>
<circle cx="94.51" cy="114.42" r="3.2" fill="rgb(40,40,200)" fill-opacity="0.04"/>
<circle cx="102.91" cy="130.09" r="3.2" fill="rgb(40,40,200)" fill-opacity="0.04"/>
<circle cx="103.2" cy="73.36" r="3.2" fill="rgb(110,110,110)" fill-opacity="0.04"/>
<circle cx="100.65" cy="80.99" r="3.2" fill="rgb(40,40,200)" fill-opacity="0.04"/>
<circle cx="87.47" cy="79.71" r="3.2" fill="rgb(110,110,110)" fill-opacity="0.04"/>
<circle cx="98.58" cy="115.37" r="3.2" fill="rgb(40,180,40)" fill-opacity="0.04"/>
<circle cx="98" cy="102.68" r="3.2" fill="rgb(225,40,40)" fill-opacity="0.04"/>
</g>
<g filter="url(#bl2)">
<ellipse cx="216" cy="62.6" rx="7.3" ry="8" fill="rgb(195,40,55)" fill-opacity="0.85"/>
<ellipse cx="218.2" cy="77" rx="7.3" ry="8" fill="rgb(40,165,50)" fill-opacity="0.85"/>
<ellipse cx="217" cy="91.3" rx="7.3" ry="8" fill="rgb(45,45,180)" fill-opacity="0.85"/>
<ellipse cx="217" cy="103.4" rx="7.3" ry="8" fill="rgb(195,40,55)" fill-opacity="0.85"/>
<ellipse cx="219.3" cy="117.8" rx="7.3" ry="8" fill="rgb(40,165,50)" fill-opacity="0.85"/>
<ellipse cx="220.4" cy="130" rx="7.3" ry="8" fill="rgb(45,45,180)" fill-opacity="0.85"/>
<ellipse cx="222.6" cy="143.2" rx="7.3" ry="8" fill="rgb(195,40,55)" fill-opacity="0.85"/>
<ellipse cx="227" cy="155.3" rx="7.3" ry="8" fill="rgb(40,165,50)" fill-opacity="0.85"/>
<ellipse cx="230.3" cy="165.3" rx="7.3" ry="8" fill="rgb(45,45,180)" fill-opacity="0.85"/>
<ellipse cx="277.8" cy="72.5" rx="7.3" ry="8" fill="rgb(195,40,55)" fill-opacity="0.55"/>
<ellipse cx="292.2" cy="71.4" rx="7.3" ry="8" fill="rgb(40,165,50)" fill-opacity="0.85"/>
<ellipse cx="293.3" cy="82.5" rx="7.3" ry="8" fill="rgb(45,45,180)" fill-opacity="0.85"/>
<ellipse cx="292.2" cy="93.5" rx="7.3" ry="8" fill="rgb(195,40,55)" fill-opacity="0.85"/>
<ellipse cx="291" cy="106.8" rx="7.3" ry="8" fill="rgb(40,165,50)" fill-opacity="0.85"/>
<ellipse cx="291" cy="122.2" rx="7.3" ry="8" fill="rgb(45,45,180)" fill-opacity="0.85"/>
<ellipse cx="292.2" cy="135.5" rx="7.3" ry="8" fill="rgb(195,40,55)" fill-opacity="0.85"/>
<ellipse cx="294.4" cy="149.8" rx="7.3" ry="8" fill="rgb(40,165,50)" fill-opacity="0.85"/>
<ellipse cx="287.7" cy="159.8" rx="7.3" ry="8" fill="rgb(45,45,180)" fill-opacity="0.85"/>
<ellipse cx="274.5" cy="155.3" rx="7.3" ry="8" fill="rgb(195,40,55)" fill-opacity="0.55"/>
<ellipse cx="231" cy="56" rx="8.5" ry="11" fill="rgb(110,110,110)" fill-opacity="0.55"/>
<ellipse cx="261.2" cy="88.5" rx="7" ry="9.5" fill="rgb(110,110,110)" fill-opacity="0.65"/>
<ellipse cx="244.7" cy="143.2" rx="6.5" ry="8.5" fill="rgb(195,40,55)" fill-opacity="0.5"/>
<ellipse cx="285.5" cy="176" rx="6" ry="7" fill="rgb(110,110,110)" fill-opacity="0.2"/>
<ellipse cx="230" cy="175" rx="6" ry="6" fill="rgb(110,110,110)" fill-opacity="0.25"/>
</g>
<g filter="url(#bl3)">
<circle cx="217.9" cy="62.39" r="2.6" fill="rgb(195,40,55)" fill-opacity="0.07"/>
<circle cx="215.53" cy="58.64" r="2.6" fill="rgb(195,40,55)" fill-opacity="0.07"/>
<circle cx="203.87" cy="66.04" r="2.6" fill="rgb(195,40,55)" fill-opacity="0.07"/>
<circle cx="219.64" cy="56.82" r="2.6" fill="rgb(195,40,55)" fill-opacity="0.07"/>
<circle cx="228.4" cy="55.64" r="2.6" fill="rgb(195,40,55)" fill-opacity="0.07"/>
<circle cx="222.48" cy="64.13" r="2.6" fill="rgb(195,40,55)" fill-opacity="0.07"/>
<circle cx="218.06" cy="69.42" r="2.6" fill="rgb(195,40,55)" fill-opacity="0.07"/>
<circle cx="221.99" cy="62.77" r="2.6" fill="rgb(195,40,55)" fill-opacity="0.07"/>
<circle cx="209.17" cy="55.32" r="2.6" fill="rgb(195,40,55)" fill-opacity="0.07"/>
<circle cx="217.25" cy="72.07" r="2.6" fill="rgb(195,40,55)" fill-opacity="0.07"/>
<circle cx="221.72" cy="62.43" r="2.6" fill="rgb(195,40,55)" fill-opacity="0.07"/>
<circle cx="218.17" cy="66.72" r="2.6" fill="rgb(195,40,55)" fill-opacity="0.07"/>
<circle cx="227.17" cy="58.08" r="2.6" fill="rgb(195,40,55)" fill-opacity="0.07"/>
<circle cx="220.72" cy="64.29" r="2.6" fill="rgb(195,40,55)" fill-opacity="0.07"/>
<circle cx="211.1" cy="56.54" r="2.6" fill="rgb(195,40,55)" fill-opacity="0.07"/>
<circle cx="224.25" cy="64.6" r="2.6" fill="rgb(195,40,55)" fill-opacity="0.07"/>
<circle cx="214.67" cy="63.23" r="2.6" fill="rgb(195,40,55)" fill-opacity="0.07"/>
<circle cx="222.4" cy="63.19" r="2.6" fill="rgb(195,40,55)" fill-opacity="0.07"/>
<circle cx="226.44" cy="61.07" r="2.6" fill="rgb(195,40,55)" fill-opacity="0.07"/>
<circle cx="210.95" cy="61.96" r="2.6" fill="rgb(195,40,55)" fill-opacity="0.07"/>
<circle cx="209.95" cy="60.54" r="2.6" fill="rgb(195,40,55)" fill-opacity="0.07"/>
<circle cx="223.97" cy="72.84" r="2.6" fill="rgb(195,40,55)" fill-opacity="0.07"/>
<circle cx="221.08" cy="64.02" r="2.8" fill="rgb(120,120,120)" fill-opacity="0.05"/>
<circle cx="208.78" cy="55.63" r="2.8" fill="rgb(120,120,120)" fill-opacity="0.05"/>
<circle cx="218.99" cy="63.8" r="2.8" fill="rgb(120,120,120)" fill-opacity="0.05"/>
<circle cx="211.41" cy="59.52" r="2.8" fill="rgb(120,120,120)" fill-opacity="0.05"/>
<circle cx="228.49" cy="69.56" r="2.8" fill="rgb(120,120,120)" fill-opacity="0.05"/>
<circle cx="216.47" cy="64.23" r="2.8" fill="rgb(120,120,120)" fill-opacity="0.05"/>
<circle cx="226.24" cy="65.16" r="2.8" fill="rgb(120,120,120)" fill-opacity="0.05"/>
<circle cx="217.95" cy="51.65" r="2.8" fill="rgb(120,120,120)" fill-opacity="0.05"/>
<circle cx="207.29" cy="65.6" r="2.6" fill="rgb(40,165,50)" fill-opacity="0.07"/>
<circle cx="203.61" cy="76.95" r="2.6" fill="rgb(40,165,50)" fill-opacity="0.07"/>
<circle cx="220.38" cy="71.81" r="2.6" fill="rgb(40,165,50)" fill-opacity="0.07"/>
<circle cx="221.1" cy="79.68" r="2.6" fill="rgb(40,165,50)" fill-opacity="0.07"/>
<circle cx="217.73" cy="68.2" r="2.6" fill="rgb(40,165,50)" fill-opacity="0.07"/>
<circle cx="227.6" cy="85.27" r="2.6" fill="rgb(40,165,50)" fill-opacity="0.07"/>
<circle cx="214.49" cy="88.66" r="2.6" fill="rgb(40,165,50)" fill-opacity="0.07"/>
<circle cx="218.53" cy="72.33" r="2.6" fill="rgb(40,165,50)" fill-opacity="0.07"/>
<circle cx="215.58" cy="65.91" r="2.6" fill="rgb(40,165,50)" fill-opacity="0.07"/>
<circle cx="215.96" cy="67.44" r="2.6" fill="rgb(40,165,50)" fill-opacity="0.07"/>
<circle cx="225.59" cy="78.95" r="2.6" fill="rgb(40,165,50)" fill-opacity="0.07"/>
<circle cx="209.22" cy="80.47" r="2.6" fill="rgb(40,165,50)" fill-opacity="0.07"/>
<circle cx="207.08" cy="77.97" r="2.6" fill="rgb(40,165,50)" fill-opacity="0.07"/>
<circle cx="221.34" cy="77.43" r="2.6" fill="rgb(40,165,50)" fill-opacity="0.07"/>
<circle cx="210.92" cy="76.36" r="2.6" fill="rgb(40,165,50)" fill-opacity="0.07"/>
<circle cx="217.04" cy="77.39" r="2.6" fill="rgb(40,165,50)" fill-opacity="0.07"/>
<circle cx="227.88" cy="87.18" r="2.6" fill="rgb(40,165,50)" fill-opacity="0.07"/>
<circle cx="228.49" cy="73.23" r="2.6" fill="rgb(40,165,50)" fill-opacity="0.07"/>
<circle cx="213.37" cy="77.16" r="2.6" fill="rgb(40,165,50)" fill-opacity="0.07"/>
<circle cx="221.05" cy="64.68" r="2.6" fill="rgb(40,165,50)" fill-opacity="0.07"/>
<circle cx="214.24" cy="87.77" r="2.6" fill="rgb(40,165,50)" fill-opacity="0.07"/>
<circle cx="210.15" cy="72.59" r="2.6" fill="rgb(40,165,50)" fill-opacity="0.07"/>
<circle cx="212.57" cy="80.44" r="2.8" fill="rgb(120,120,120)" fill-opacity="0.05"/>
<circle cx="217.71" cy="74.75" r="2.8" fill="rgb(120,120,120)" fill-opacity="0.05"/>
<circle cx="206.08" cy="81.29" r="2.8" fill="rgb(120,120,120)" fill-opacity="0.05"/>
<circle cx="218.24" cy="72.36" r="2.8" fill="rgb(120,120,120)" fill-opacity="0.05"/>
<circle cx="218.42" cy="82.54" r="2.8" fill="rgb(120,120,120)" fill-opacity="0.05"/>
<circle cx="206.4" cy="66.15" r="2.8" fill="rgb(120,120,120)" fill-opacity="0.05"/>
<circle cx="210.04" cy="70.89" r="2.8" fill="rgb(120,120,120)" fill-opacity="0.05"/>
<circle cx="193.81" cy="72.78" r="2.8" fill="rgb(120,120,120)" fill-opacity="0.05"/>
<circle cx="224.24" cy="89.32" r="2.6" fill="rgb(45,45,180)" fill-opacity="0.07"/>
<circle cx="223.62" cy="74.04" r="2.6" fill="rgb(45,45,180)" fill-opacity="0.07"/>
<circle cx="216.27" cy="99.63" r="2.6" fill="rgb(45,45,180)" fill-opacity="0.07"/>
<circle cx="227.23" cy="88.3" r="2.6" fill="rgb(45,45,180)" fill-opacity="0.07"/>
<circle cx="211.64" cy="93.61" r="2.6" fill="rgb(45,45,180)" fill-opacity="0.07"/>
<circle cx="209.08" cy="89.11" r="2.6" fill="rgb(45,45,180)" fill-opacity="0.07"/>
<circle cx="206.13" cy="91.8" r="2.6" fill="rgb(45,45,180)" fill-opacity="0.07"/>
<circle cx="217.04" cy="101.08" r="2.6" fill="rgb(45,45,180)" fill-opacity="0.07"/>
<circle cx="219.33" cy="87.34" r="2.6" fill="rgb(45,45,180)" fill-opacity="0.07"/>
<circle cx="216.4" cy="83.56" r="2.6" fill="rgb(45,45,180)" fill-opacity="0.07"/>
<circle cx="217.22" cy="90.01" r="2.6" fill="rgb(45,45,180)" fill-opacity="0.07"/>
<circle cx="219.74" cy="96.91" r="2.6" fill="rgb(45,45,180)" fill-opacity="0.07"/>
<circle cx="203.98" cy="93.27" r="2.6" fill="rgb(45,45,180)" fill-opacity="0.07"/>
<circle cx="221.8" cy="84.1" r="2.6" fill="rgb(45,45,180)" fill-opacity="0.07"/>
<circle cx="229.37" cy="86.97" r="2.6" fill="rgb(45,45,180)" fill-opacity="0.07"/>
<circle cx="233.04" cy="96.02" r="2.6" fill="rgb(45,45,180)" fill-opacity="0.07"/>
<circle cx="223.3" cy="92.92" r="2.6" fill="rgb(45,45,180)" fill-opacity="0.07"/>
<circle cx="223.58" cy="85.07" r="2.6" fill="rgb(45,45,180)" fill-opacity="0.07"/>
<circle cx="211.75" cy="79.51" r="2.6" fill="rgb(45,45,180)" fill-opacity="0.07"/>
<circle cx="220.53" cy="87.03" r="2.6" fill="rgb(45,45,180)" fill-opacity="0.07"/>
<circle cx="221.9" cy="94.89" r="2.6" fill="rgb(45,45,180)" fill-opacity="0.07"/>
<circle cx="208.27" cy="95.52" r="2.6" fill="rgb(45,45,180)" fill-opacity="0.07"/>
<circle cx="219.08" cy="92.71" r="2.8" fill="rgb(120,120,120)" fill-opacity="0.05"/>
<circle cx="220.69" cy="91.12" r="2.8" fill="rgb(120,120,120)" fill-opacity="0.05"/>
<circle cx="217.1" cy="98.7" r="2.8" fill="rgb(120,120,120)" fill-opacity="0.05"/>
<circle cx="209.02" cy="82.86" r="2.8" fill="rgb(120,120,120)" fill-opacity="0.05"/>
<circle cx="210.9" cy="98.56" r="2.8" fill="rgb(120,120,120)" fill-opacity="0.05"/>
<circle cx="214.42" cy="104.74" r="2.8" fill="rgb(120,120,120)" fill-opacity="0.05"/>
<circle cx="192.28" cy="86.29" r="2.8" fill="rgb(120,120,120)" fill-opacity="0.05"/>
<circle cx="213.42" cy="93.2" r="2.8" fill="rgb(120,120,120)" fill-opacity="0.05"/>
<circle cx="225.71" cy="102.28" r="2.6" fill="rgb(195,40,55)" fill-opacity="0.07"/>
<circle cx="210.37" cy="108.44" r="2.6" fill="rgb(195,40,55)" fill-opacity="0.07"/>
<circle cx="227.09" cy="88.03" r="2.6" fill="rgb(195,40,55)" fill-opacity="0.07"/>
<circle cx="220.78" cy="105.18" r="2.6" fill="rgb(195,40,55)" fill-opacity="0.07"/>
<circle cx="211.57" cy="100.54" r="2.6" fill="rgb(195,40,55)" fill-opacity="0.07"/>
<circle cx="218.88" cy="103.57" r="2.6" fill="rgb(195,40,55)" fill-opacity="0.07"/>
<circle cx="215.38" cy="96.38" r="2.6" fill="rgb(195,40,55)" fill-opacity="0.07"/>
<circle cx="218.86" cy="99.4" r="2.6" fill="rgb(195,40,55)" fill-opacity="0.07"/>
<circle cx="217.56" cy="99.87" r="2.6" fill="rgb(195,40,55)" fill-opacity="0.07"/>
<circle cx="218.29" cy="107.89" r="2.6" fill="rgb(195,40,55)" fill-opacity="0.07"/>
<circle cx="218.53" cy="107.35" r="2.6" fill="rgb(195,40,55)" fill-opacity="0.07"/>
<circle cx="207.96" cy="106.18" r="2.6" fill="rgb(195,40,55)" fill-opacity="0.07"/>
<circle cx="218.88" cy="99.63" r="2.6" fill="rgb(195,40,55)" fill-opacity="0.07"/>
<circle cx="215.92" cy="86.56" r="2.6" fill="rgb(195,40,55)" fill-opacity="0.07"/>
<circle cx="217.5" cy="100.92" r="2.6" fill="rgb(195,40,55)" fill-opacity="0.07"/>
<circle cx="202.22" cy="106.43" r="2.6" fill="rgb(195,40,55)" fill-opacity="0.07"/>
<circle cx="212.82" cy="105.05" r="2.6" fill="rgb(195,40,55)" fill-opacity="0.07"/>
<circle cx="215.42" cy="106.29" r="2.6" fill="rgb(195,40,55)" fill-opacity="0.07"/>
<circle cx="217.54" cy="101.65" r="2.6" fill="rgb(195,40,55)" fill-opacity="0.07"/>
<circle cx="220.19" cy="108.38" r="2.6" fill="rgb(195,40,55)" fill-opacity="0.07"/>
<circle cx="202.22" cy="103.53" r="2.6" fill="rgb(195,40,55)" fill-opacity="0.07"/>
<circle cx="213.1" cy="96.72" r="2.6" fill="rgb(195,40,55)" fill-opacity="0.07"/>
<circle cx="227.42" cy="110.1" r="2.8" fill="rgb(120,120,120)" fill-opacity="0.05"/>
<circle cx="208.67" cy="95.54" r="2.8" fill="rgb(120,120,120)" fill-opacity="0.05"/>
<circle cx="223.51" cy="98.97" r="2.8" fill="rgb(120,120,120)" fill-opacity="0.05"/>
<circle cx="214.34" cy="89.54" r="2.8" fill="rgb(120,120,120)" fill-opacity="0.05"/>
<circle cx="215.87" cy="111.32" r="2.8" fill="rgb(120,120,120)" fill-opacity="0.05"/>
<circle cx="213.26" cy="102.53" r="2.8" fill="rgb(120,120,120)" fill-opacity="0.05"/>
<circle cx="230.93" cy="109.51" r="2.8" fill="rgb(120,120,120)" fill-opacity="0.05"/>
<circle cx="228.35" cy="107.77" r="2.8" fill="rgb(120,120,120)" fill-opacity="0.05"/>
<circle cx="227.07" cy="107.77" r="2.6" fill="rgb(40,165,50)" fill-opacity="0.07"/>
<circle cx="213.92" cy="107.82" r="2.6" fill="rgb(40,165,50)" fill-opacity="0.07"/>
<circle cx="233.71" cy="118.85" r="2.6" fill="rgb(40,165,50)" fill-opacity="0.07"/>
<circle cx="218.44" cy="113.23" r="2.6" fill="rgb(40,165,50)" fill-opacity="0.07"/>
<circle cx="212.65" cy="100.92" r="2.6" fill="rgb(40,165,50)" fill-opacity="0.07"/>
<circle cx="233.84" cy="117.26" r="2.6" fill="rgb(40,165,50)" fill-opacity="0.07"/>
<circle cx="219.66" cy="109.31" r="2.6" fill="rgb(40,165,50)" fill-opacity="0.07"/>
<circle cx="218.86" cy="120.02" r="2.6" fill="rgb(40,165,50)" fill-opacity="0.07"/>
<circle cx="218.72" cy="121.46" r="2.6" fill="rgb(40,165,50)" fill-opacity="0.07"/>
<circle cx="213.79" cy="119.7" r="2.6" fill="rgb(40,165,50)" fill-opacity="0.07"/>
<circle cx="225.06" cy="121.12" r="2.6" fill="rgb(40,165,50)" fill-opacity="0.07"/>
<circle cx="221.73" cy="117.13" r="2.6" fill="rgb(40,165,50)" fill-opacity="0.07"/>
<circle cx="212.83" cy="121.07" r="2.6" fill="rgb(40,165,50)" fill-opacity="0.07"/>
<circle cx="216.7" cy="112.08" r="2.6" fill="rgb(40,165,50)" fill-opacity="0.07"/>
<circle cx="224.22" cy="108.1" r="2.6" fill="rgb(40,165,50)" fill-opacity="0.07"/>
<circle cx="215.62" cy="122.41" r="2.6" fill="rgb(40,165,50)" fill-opacity="0.07"/>
<circle cx="225.41" cy="115.51" r="2.6" fill="rgb(40,165,50)" fill-opacity="0.07"/>
<circle cx="219.66" cy="121.01" r="2.6" fill="rgb(40,165,50)" fill-opacity="0.07"/>
<circle cx="218.8" cy="113.12" r="2.6" fill="rgb(40,165,50)" fill-opacity="0.07"/>
<circle cx="222.07" cy="118.74" r="2.6" fill="rgb(40,165,50)" fill-opacity="0.07"/>
<circle cx="219.93" cy="124.44" r="2.6" fill="rgb(40,165,50)" fill-opacity="0.07"/>
<circle cx="221.24" cy="115" r="2.6" fill="rgb(40,165,50)" fill-opacity="0.07"/>
<circle cx="220.54" cy="131.34" r="2.8" fill="rgb(120,120,120)" fill-opacity="0.05"/>
<circle cx="213.5" cy="115.9" r="2.8" fill="rgb(120,120,120)" fill-opacity="0.05"/>
<circle cx="212.83" cy="120.22" r="2.8" fill="rgb(120,120,120)" fill-opacity="0.05"/>
<circle cx="209.14" cy="120.87" r="2.8" fill="rgb(120,120,120)" fill-opacity="0.05"/>
<circle cx="225.32" cy="112.32" r="2.8" fill="rgb(120,120,120)" fill-opacity="0.05"/>
<circle cx="212.45" cy="107.33" r="2.8" fill="rgb(120,120,120)" fill-opacity="0.05"/>
<circle cx="219.58" cy="109.91" r="2.8" fill="rgb(120,120,120)" fill-opacity="0.05"/>
<circle cx="214.23" cy="114.8" r="2.8" fill="rgb(120,120,120)" fill-opacity="0.05"/>
<circle cx="215.87" cy="134.96" r="2.6" fill="rgb(45,45,180)" fill-opacity="0.07"/>
<circle cx="230.72" cy="117.18" r="2.6" fill="rgb(45,45,180)" fill-opacity="0.07"/>
<circle cx="215.07" cy="131.45" r="2.6" fill="rgb(45,45,180)" fill-opacity="0.07"/>
<circle cx="213.51" cy="126.74" r="2.6" fill="rgb(45,45,180)" fill-opacity="0.07"/>
<circle cx="221.72" cy="138.31" r="2.6" fill="rgb(45,45,180)" fill-opacity="0.07"/>
<circle cx="227.99" cy="128.2" r="2.6" fill="rgb(45,45,180)" fill-opacity="0.07"/>
<circle cx="221.2" cy="127.78" r="2.6" fill="rgb(45,45,180)" fill-opacity="0.07"/>
<circle cx="219.22" cy="122.91" r="2.6" fill="rgb(45,45,180)" fill-opacity="0.07"/>
<circle cx="208.85" cy="127.75" r="2.6" fill="rgb(45,45,180)" fill-opacity="0.07"/>
<circle cx="226.71" cy="134.54" r="2.6" fill="rgb(45,45,180)" fill-opacity="0.07"/>
<circle cx="208.23" cy="128.81" r="2.6" fill="rgb(45,45,180)" fill-opacity="0.07"/>
<circle cx="216.28" cy="131.69" r="2.6" fill="rgb(45,45,180)" fill-opacity="0.07"/>
<circle cx="213.22" cy="135.44" r="2.6" fill="rgb(45,45,180)" fill-opacity="0.07"/>
<circle cx="219.02" cy="133.42" r="2.6" fill="rgb(45,45,180)" fill-opacity="0.07"/>
<circle cx="226.06" cy="118.32" r="2.6" fill="rgb(45,45,180)" fill-opacity="0.07"/>
<circle cx="218.95" cy="139.04" r="2.6" fill="rgb(45,45,180)" fill-opacity="0.07"/>
<circle cx="220.49" cy="136.22" r="2.6" fill="rgb(45,45,180)" fill-opacity="0.07"/>
<circle cx="223.1" cy="126.98" r="2.6" fill="rgb(45,45,180)" fill-opacity="0.07"/>
<circle cx="222.2" cy="136.28" r="2.6" fill="rgb(45,45,180)" fill-opacity="0.07"/>
<circle cx="228.75" cy="138.66" r="2.6" fill="rgb(45,45,180)" fill-opacity="0.07"/>
<circle cx="213.17" cy="134.94" r="2.6" fill="rgb(45,45,180)" fill-opacity="0.07"/>
<circle cx="211.43" cy="129.19" r="2.6" fill="rgb(45,45,180)" fill-opacity="0.07"/>
<circle cx="218.7" cy="134.36" r="2.8" fill="rgb(120,120,120)" fill-opacity="0.05"/>
<circle cx="222.88" cy="138.7" r="2.8" fill="rgb(120,120,120)" fill-opacity="0.05"/>
<circle cx="215.47" cy="135.86" r="2.8" fill="rgb(120,120,120)" fill-opacity="0.05"/>
<circle cx="223.49" cy="129.99" r="2.8" fill="rgb(120,120,120)" fill-opacity="0.05"/>
<circle cx="210.78" cy="133.96" r="2.8" fill="rgb(120,120,120)" fill-opacity="0.05"/>
<circle cx="222.89" cy="135.48" r="2.8" fill="rgb(120,120,120)" fill-opacity="0.05"/>
<circle cx="220.06" cy="128.18" r="2.8" fill="rgb(120,120,120)" fill-opacity="0.05"/>
<circle cx="223.48" cy="133.21" r="2.8" fill="rgb(120,120,120)" fill-opacity="0.05"/>
<circle cx="227.04" cy="154.53" r="2.6" fill="rgb(195,40,55)" fill-opacity="0.07"/>
<circle cx="218.57" cy="155.19" r="2.6" fill="rgb(195,40,55)" fill-opacity="0.07"/>
<circle cx="203.36" cy="148.93" r="2.6" fill="rgb(195,40,55)" fill-opacity="0.07"/>
<circle cx="217.26" cy="155.19" r="2.6" fill="rgb(195,40,55)" fill-opacity="0.07"/>
<circle cx="216.82" cy="149.54" r="2.6" fill="rgb(195,40,55)" fill-opacity="0.07"/>
<circle cx="216.16" cy="136.4" r="2.6" fill="rgb(195,40,55)" fill-opacity="0.07"/>
<circle cx="227.79" cy="148.38" r="2.6" fill="rgb(195,40,55)" fill-opacity="0.07"/>
<circle cx="218.04" cy="157.58" r="2.6" fill="rgb(195,40,55)" fill-opacity="0.07"/>
<circle cx="220.5" cy="152.54" r="2.6" fill="rgb(195,40,55)" fill-opacity="0.07"/>
<circle cx="216.01" cy="137.42" r="2.6" fill="rgb(195,40,55)" fill-opacity="0.07"/>
<circle cx="223.16" cy="137.12" r="2.6" fill="rgb(195,40,55)" fill-opacity="0.07"/>
<circle cx="225.54" cy="130.33" r="2.6" fill="rgb(195,40,55)" fill-opacity="0.07"/>
<circle cx="223.73" cy="139.82" r="2.6" fill="rgb(195,40,55)" fill-opacity="0.07"/>
<circle cx="216.35" cy="144.45" r="2.6" fill="rgb(195,40,55)" fill-opacity="0.07"/>
<circle cx="221.14" cy="140.49" r="2.6" fill="rgb(195,40,55)" fill-opacity="0.07"/>
<circle cx="227.83" cy="144.95" r="2.6" fill="rgb(195,40,55)" fill-opacity="0.07"/>
<circle cx="225.05" cy="151.14" r="2.6" fill="rgb(195,40,55)" fill-opacity="0.07"/>
<circle cx="222.11" cy="148.2" r="2.6" fill="rgb(195,40,55)" fill-opacity="0.07"/>
<circle cx="219.88" cy="146.82" r="2.6" fill="rgb(195,40,55)" fill-opacity="0.07"/>
<circle cx="226" cy="139.91" r="2.6" fill="rgb(195,40,55)" fill-opacity="0.07"/>
<circle cx="212.77" cy="135.53" r="2.6" fill="rgb(195,40,55)" fill-opacity="0.07"/>
<circle cx="216.48" cy="146.51" r="2.6" fill="rgb(195,40,55)" fill-opacity="0.07"/>
<circle cx="221.51" cy="141.11" r="2.8" fill="rgb(120,120,120)" fill-opacity="0.05"/>
<circle cx="226.38" cy="148.27" r="2.8" fill="rgb(120,120,120)" fill-opacity="0.05"/>
<circle cx="233.69" cy="139.03" r="2.8" fill="rgb(120,120,120)" fill-opacity="0.05"/>
<circle cx="226.96" cy="148.11" r="2.8" fill="rgb(120,120,120)" fill-opacity="0.05"/>
<circle cx="215" cy="144.05" r="2.8" fill="rgb(120,120,120)" fill-opacity="0.05"/>
<circle cx="215.28" cy="141.61" r="2.8" fill="rgb(120,120,120)" fill-opacity="0.05"/>
<circle cx="225.93" cy="131.33" r="2.8" fill="rgb(120,120,120)" fill-opacity="0.05"/>
<circle cx="215.63" cy="137.56" r="2.8" fill="rgb(120,120,120)" fill-opacity="0.05"/>
<circle cx="227.58" cy="150.89" r="2.6" fill="rgb(40,165,50)" fill-opacity="0.07"/>
<circle cx="229.4" cy="150.17" r="2.6" fill="rgb(40,165,50)" fill-opacity="0.07"/>
<circle cx="223.65" cy="158.9" r="2.6" fill="rgb(40,165,50)" fill-opacity="0.07"/>
<circle cx="229.04" cy="156.19" r="2.6" fill="rgb(40,165,50)" fill-opacity="0.07"/>
<circle cx="226.74" cy="161.27" r="2.6" fill="rgb(40,165,50)" fill-opacity="0.07"/>
<circle cx="235.87" cy="153.07" r="2.6" fill="rgb(40,165,50)" fill-opacity="0.07"/>
<circle cx="222.29" cy="149.08" r="2.6" fill="rgb(40,165,50)" fill-opacity="0.07"/>
<circle cx="238.19" cy="149.94" r="2.6" fill="rgb(40,165,50)" fill-opacity="0.07"/>
<circle cx="218.43" cy="156.88" r="2.6" fill="rgb(40,165,50)" fill-opacity="0.07"/>
<circle cx="233.78" cy="147.92" r="2.6" fill="rgb(40,165,50)" fill-opacity="0.07"/>
<circle cx="226.18" cy="146.73" r="2.6" fill="rgb(40,165,50)" fill-opacity="0.07"/>
<circle cx="222.49" cy="165" r="2.6" fill="rgb(40,165,50)" fill-opacity="0.07"/>
<circle cx="228.07" cy="153.73" r="2.6" fill="rgb(40,165,50)" fill-opacity="0.07"/>
<circle cx="227.45" cy="156.97" r="2.6" fill="rgb(40,165,50)" fill-opacity="0.07"/>
<circle cx="226.32" cy="148.2" r="2.6" fill="rgb(40,165,50)" fill-opacity="0.07"/>
<circle cx="219.35" cy="167.27" r="2.6" fill="rgb(40,165,50)" fill-opacity="0.07"/>
<circle cx="222.05" cy="162.43" r="2.6" fill="rgb(40,165,50)" fill-opacity="0.07"/>
<circle cx="222.35" cy="163.05" r="2.6" fill="rgb(40,165,50)" fill-opacity="0.07"/>
<circle cx="231.49" cy="154.03" r="2.6" fill="rgb(40,165,50)" fill-opacity="0.07"/>
<circle cx="239.97" cy="149.72" r="2.6" fill="rgb(40,165,50)" fill-opacity="0.07"/>
<circle cx="225.48" cy="150.17" r="2.6" fill="rgb(40,165,50)" fill-opacity="0.07"/>
<circle cx="221.97" cy="153.13" r="2.6" fill="rgb(40,165,50)" fill-opacity="0.07"/>
<circle cx="219.38" cy="153.02" r="2.8" fill="rgb(120,120,120)" fill-opacity="0.05"/>
<circle cx="239.55" cy="143.19" r="2.8" fill="rgb(120,120,120)" fill-opacity="0.05"/>
<circle cx="217.01" cy="148.66" r="2.8" fill="rgb(120,120,120)" fill-opacity="0.05"/>
<circle cx="223.28" cy="162.32" r="2.8" fill="rgb(120,120,120)" fill-opacity="0.05"/>
<circle cx="232.72" cy="158.62" r="2.8" fill="rgb(120,120,120)" fill-opacity="0.05"/>
<circle cx="228.61" cy="171.95" r="2.8" fill="rgb(120,120,120)" fill-opacity="0.05"/>
<circle cx="218.03" cy="147.28" r="2.8" fill="rgb(120,120,120)" fill-opacity="0.05"/>
<circle cx="226.79" cy="156.72" r="2.8" fill="rgb(120,120,120)" fill-opacity="0.05"/>
<circle cx="228.76" cy="160.28" r="2.6" fill="rgb(45,45,180)" fill-opacity="0.07"/>
<circle cx="221.84" cy="163.64" r="2.6" fill="rgb(45,45,180)" fill-opacity="0.07"/>
<circle cx="225.72" cy="162.42" r="2.6" fill="rgb(45,45,180)" fill-opacity="0.07"/>
<circle cx="223.31" cy="173.28" r="2.6" fill="rgb(45,45,180)" fill-opacity="0.07"/>
<circle cx="233.21" cy="176.34" r="2.6" fill="rgb(45,45,180)" fill-opacity="0.07"/>
<circle cx="226.96" cy="165.64" r="2.6" fill="rgb(45,45,180)" fill-opacity="0.07"/>
<circle cx="228.69" cy="165.42" r="2.6" fill="rgb(45,45,180)" fill-opacity="0.07"/>
<circle cx="228.64" cy="164.31" r="2.6" fill="rgb(45,45,180)" fill-opacity="0.07"/>
<circle cx="217.56" cy="163.67" r="2.6" fill="rgb(45,45,180)" fill-opacity="0.07"/>
<circle cx="234.76" cy="153.68" r="2.6" fill="rgb(45,45,180)" fill-opacity="0.07"/>
<circle cx="228.04" cy="168.71" r="2.6" fill="rgb(45,45,180)" fill-opacity="0.07"/>
<circle cx="238.47" cy="164.79" r="2.6" fill="rgb(45,45,180)" fill-opacity="0.07"/>
<circle cx="233.24" cy="175.74" r="2.6" fill="rgb(45,45,180)" fill-opacity="0.07"/>
<circle cx="238.67" cy="162.6" r="2.6" fill="rgb(45,45,180)" fill-opacity="0.07"/>
<circle cx="226.39" cy="171.37" r="2.6" fill="rgb(45,45,180)" fill-opacity="0.07"/>
<circle cx="231.73" cy="162.06" r="2.6" fill="rgb(45,45,180)" fill-opacity="0.07"/>
<circle cx="228.8" cy="167.18" r="2.6" fill="rgb(45,45,180)" fill-opacity="0.07"/>
<circle cx="229" cy="163.78" r="2.6" fill="rgb(45,45,180)" fill-opacity="0.07"/>
<circle cx="228.77" cy="156.41" r="2.6" fill="rgb(45,45,180)" fill-opacity="0.07"/>
<circle cx="241.5" cy="172.57" r="2.6" fill="rgb(45,45,180)" fill-opacity="0.07"/>
<circle cx="240.07" cy="164.49" r="2.6" fill="rgb(45,45,180)" fill-opacity="0.07"/>
<circle cx="231.1" cy="168.72" r="2.6" fill="rgb(45,45,180)" fill-opacity="0.07"/>
<circle cx="236.81" cy="152.59" r="2.8" fill="rgb(120,120,120)" fill-opacity="0.05"/>
<circle cx="233.11" cy="158.36" r="2.8" fill="rgb(120,120,120)" fill-opacity="0.05"/>
<circle cx="229.72" cy="160.69" r="2.8" fill="rgb(120,120,120)" fill-opacity="0.05"/>
<circle cx="243.83" cy="169.03" r="2.8" fill="rgb(120,120,120)" fill-opacity="0.05"/>
<circle cx="230.07" cy="174.98" r="2.8" fill="rgb(120,120,120)" fill-opacity="0.05"/>
<circle cx="229.73" cy="160.26" r="2.8" fill="rgb(120,120,120)" fill-opacity="0.05"/>
<circle cx="228.82" cy="162.76" r="2.8" fill="rgb(120,120,120)" fill-opacity="0.05"/>
<circle cx="230.67" cy="171.13" r="2.8" fill="rgb(120,120,120)" fill-opacity="0.05"/>
<circle cx="277.03" cy="72.11" r="2.6" fill="rgb(195,40,55)" fill-opacity="0.07"/>
<circle cx="284.33" cy="74.21" r="2.6" fill="rgb(195,40,55)" fill-opacity="0.07"/>
<circle cx="283.92" cy="73.3" r="2.6" fill="rgb(195,40,55)" fill-opacity="0.07"/>
<circle cx="269.39" cy="65.82" r="2.6" fill="rgb(195,40,55)" fill-opacity="0.07"/>
<circle cx="267.1" cy="79.27" r="2.6" fill="rgb(195,40,55)" fill-opacity="0.07"/>
<circle cx="280.47" cy="69.67" r="2.6" fill="rgb(195,40,55)" fill-opacity="0.07"/>
<circle cx="271.41" cy="74.65" r="2.6" fill="rgb(195,40,55)" fill-opacity="0.07"/>
<circle cx="276.94" cy="74.4" r="2.6" fill="rgb(195,40,55)" fill-opacity="0.07"/>
<circle cx="272.36" cy="65.9" r="2.6" fill="rgb(195,40,55)" fill-opacity="0.07"/>
<circle cx="287.92" cy="66.83" r="2.6" fill="rgb(195,40,55)" fill-opacity="0.07"/>
<circle cx="277.65" cy="80.45" r="2.6" fill="rgb(195,40,55)" fill-opacity="0.07"/>
<circle cx="265.98" cy="76.66" r="2.6" fill="rgb(195,40,55)" fill-opacity="0.07"/>
<circle cx="278.24" cy="71.64" r="2.6" fill="rgb(195,40,55)" fill-opacity="0.07"/>
<circle cx="279.54" cy="65.44" r="2.6" fill="rgb(195,40,55)" fill-opacity="0.07"/>
<circle cx="263.47" cy="83.73" r="2.6" fill="rgb(195,40,55)" fill-opacity="0.07"/>
<circle cx="275.95" cy="77.79" r="2.6" fill="rgb(195,40,55)" fill-opacity="0.07"/>
<circle cx="284.93" cy="74.21" r="2.6" fill="rgb(195,40,55)" fill-opacity="0.07"/>
<circle cx="280.74" cy="76.73" r="2.6" fill="rgb(195,40,55)" fill-opacity="0.07"/>
<circle cx="287.95" cy="75.42" r="2.6" fill="rgb(195,40,55)" fill-opacity="0.07"/>
<circle cx="285.92" cy="70.77" r="2.6" fill="rgb(195,40,55)" fill-opacity="0.07"/>
<circle cx="275.08" cy="73.01" r="2.6" fill="rgb(195,40,55)" fill-opacity="0.07"/>
<circle cx="280.38" cy="75.69" r="2.6" fill="rgb(195,40,55)" fill-opacity="0.07"/>
<circle cx="293.23" cy="78.32" r="2.8" fill="rgb(120,120,120)" fill-opacity="0.05"/>
<circle cx="278.32" cy="86.28" r="2.8" fill="rgb(120,120,120)" fill-opacity="0.05"/>
<circle cx="280.42" cy="74.99" r="2.8" fill="rgb(120,120,120)" fill-opacity="0.05"/>
<circle cx="281.71" cy="70.21" r="2.8" fill="rgb(120,120,120)" fill-opacity="0.05"/>
<circle cx="269.18" cy="73.43" r="2.8" fill="rgb(120,120,120)" fill-opacity="0.05"/>
<circle cx="275.36" cy="66.53" r="2.8" fill="rgb(120,120,120)" fill-opacity="0.05"/>
<circle cx="278.76" cy="71.14" r="2.8" fill="rgb(120,120,120)" fill-opacity="0.05"/>
<circle cx="273.13" cy="60.21" r="2.8" fill="rgb(120,120,120)" fill-opacity="0.05"/>
<circle cx="291.13" cy="81.85" r="2.6" fill="rgb(40,165,50)" fill-opacity="0.07"/>
<circle cx="297.92" cy="77.83" r="2.6" fill="rgb(40,165,50)" fill-opacity="0.07"/>
<circle cx="292.08" cy="77.68" r="2.6" fill="rgb(40,165,50)" fill-opacity="0.07"/>
<circle cx="287.89" cy="68.7" r="2.6" fill="rgb(40,165,50)" fill-opacity="0.07"/>
<circle cx="295.55" cy="62.95" r="2.6" fill="rgb(40,165,50)" fill-opacity="0.07"/>
<circle cx="292.58" cy="73.2" r="2.6" fill="rgb(40,165,50)" fill-opacity="0.07"/>
<circle cx="303.06" cy="67.27" r="2.6" fill="rgb(40,165,50)" fill-opacity="0.07"/>
<circle cx="294.92" cy="67.55" r="2.6" fill="rgb(40,165,50)" fill-opacity="0.07"/>
<circle cx="288.71" cy="55.41" r="2.6" fill="rgb(40,165,50)" fill-opacity="0.07"/>
<circle cx="286.18" cy="78.25" r="2.6" fill="rgb(40,165,50)" fill-opacity="0.07"/>
<circle cx="295.55" cy="72.35" r="2.6" fill="rgb(40,165,50)" fill-opacity="0.07"/>
<circle cx="308.07" cy="74.63" r="2.6" fill="rgb(40,165,50)" fill-opacity="0.07"/>
<circle cx="284.27" cy="70.22" r="2.6" fill="rgb(40,165,50)" fill-opacity="0.07"/>
<circle cx="291.85" cy="80.95" r="2.6" fill="rgb(40,165,50)" fill-opacity="0.07"/>
<circle cx="286.44" cy="73.93" r="2.6" fill="rgb(40,165,50)" fill-opacity="0.07"/>
<circle cx="298.51" cy="66.62" r="2.6" fill="rgb(40,165,50)" fill-opacity="0.07"/>
<circle cx="292.79" cy="59.5" r="2.6" fill="rgb(40,165,50)" fill-opacity="0.07"/>
<circle cx="292.87" cy="58.36" r="2.6" fill="rgb(40,165,50)" fill-opacity="0.07"/>
<circle cx="289.75" cy="81.63" r="2.6" fill="rgb(40,165,50)" fill-opacity="0.07"/>
<circle cx="294.86" cy="71.73" r="2.6" fill="rgb(40,165,50)" fill-opacity="0.07"/>
<circle cx="293.2" cy="84.22" r="2.6" fill="rgb(40,165,50)" fill-opacity="0.07"/>
<circle cx="295.79" cy="77.61" r="2.6" fill="rgb(40,165,50)" fill-opacity="0.07"/>
<circle cx="288.79" cy="68.44" r="2.8" fill="rgb(120,120,120)" fill-opacity="0.05"/>
<circle cx="283.98" cy="70.22" r="2.8" fill="rgb(120,120,120)" fill-opacity="0.05"/>
<circle cx="286.72" cy="78.26" r="2.8" fill="rgb(120,120,120)" fill-opacity="0.05"/>
<circle cx="297.32" cy="70.62" r="2.8" fill="rgb(120,120,120)" fill-opacity="0.05"/>
<circle cx="287.95" cy="51.42" r="2.8" fill="rgb(120,120,120)" fill-opacity="0.05"/>
<circle cx="287.56" cy="73.54" r="2.8" fill="rgb(120,120,120)" fill-opacity="0.05"/>
<circle cx="297.47" cy="50.09" r="2.8" fill="rgb(120,120,120)" fill-opacity="0.05"/>
<circle cx="273.25" cy="72.53" r="2.8" fill="rgb(120,120,120)" fill-opacity="0.05"/>
<circle cx="286.7" cy="81.24" r="2.6" fill="rgb(45,45,180)" fill-opacity="0.07"/>
<circle cx="290.29" cy="86.01" r="2.6" fill="rgb(45,45,180)" fill-opacity="0.07"/>
<circle cx="281.4" cy="79.15" r="2.6" fill="rgb(45,45,180)" fill-opacity="0.07"/>
<circle cx="299.39" cy="83.76" r="2.6" fill="rgb(45,45,180)" fill-opacity="0.07"/>
<circle cx="288.01" cy="85.22" r="2.6" fill="rgb(45,45,180)" fill-opacity="0.07"/>
<circle cx="295.16" cy="77.26" r="2.6" fill="rgb(45,45,180)" fill-opacity="0.07"/>
<circle cx="297.77" cy="86.53" r="2.6" fill="rgb(45,45,180)" fill-opacity="0.07"/>
<circle cx="292.49" cy="88.11" r="2.6" fill="rgb(45,45,180)" fill-opacity="0.07"/>
<circle cx="285.81" cy="87.07" r="2.6" fill="rgb(45,45,180)" fill-opacity="0.07"/>
<circle cx="292.1" cy="76.97" r="2.6" fill="rgb(45,45,180)" fill-opacity="0.07"/>
<circle cx="289.51" cy="89.45" r="2.6" fill="rgb(45,45,180)" fill-opacity="0.07"/>
<circle cx="289.77" cy="80.47" r="2.6" fill="rgb(45,45,180)" fill-opacity="0.07"/>
<circle cx="289.13" cy="77.83" r="2.6" fill="rgb(45,45,180)" fill-opacity="0.07"/>
<circle cx="299.51" cy="95.66" r="2.6" fill="rgb(45,45,180)" fill-opacity="0.07"/>
<circle cx="301.94" cy="85.54" r="2.6" fill="rgb(45,45,180)" fill-opacity="0.07"/>
<circle cx="298.19" cy="80.49" r="2.6" fill="rgb(45,45,180)" fill-opacity="0.07"/>
<circle cx="290.15" cy="75.57" r="2.6" fill="rgb(45,45,180)" fill-opacity="0.07"/>
<circle cx="302.59" cy="80.53" r="2.6" fill="rgb(45,45,180)" fill-opacity="0.07"/>
<circle cx="288.74" cy="78.76" r="2.6" fill="rgb(45,45,180)" fill-opacity="0.07"/>
<circle cx="294.56" cy="79.28" r="2.6" fill="rgb(45,45,180)" fill-opacity="0.07"/>
<circle cx="293.46" cy="83.53" r="2.6" fill="rgb(45,45,180)" fill-opacity="0.07"/>
<circle cx="301.93" cy="75.18" r="2.6" fill="rgb(45,45,180)" fill-opacity="0.07"/>
<circle cx="295.69" cy="77.74" r="2.8" fill="rgb(120,120,120)" fill-opacity="0.05"/>
<circle cx="289.96" cy="93.75" r="2.8" fill="rgb(120,120,120)" fill-opacity="0.05"/>
<circle cx="298.3" cy="79.87" r="2.8" fill="rgb(120,120,120)" fill-opacity="0.05"/>
<circle cx="297.24" cy="82.41" r="2.8" fill="rgb(120,120,120)" fill-opacity="0.05"/>
<circle cx="302.14" cy="79.19" r="2.8" fill="rgb(120,120,120)" fill-opacity="0.05"/>
<circle cx="297.22" cy="81.12" r="2.8" fill="rgb(120,120,120)" fill-opacity="0.05"/>
<circle cx="293.45" cy="81.5" r="2.8" fill="rgb(120,120,120)" fill-opacity="0.05"/>
<circle cx="288.46" cy="83.29" r="2.8" fill="rgb(120,120,120)" fill-opacity="0.05"/>
<circle cx="298.55" cy="89.96" r="2.6" fill="rgb(195,40,55)" fill-opacity="0.07"/>
<circle cx="289.77" cy="95.73" r="2.6" fill="rgb(195,40,55)" fill-opacity="0.07"/>
<circle cx="287.42" cy="98.71" r="2.6" fill="rgb(195,40,55)" fill-opacity="0.07"/>
<circle cx="296.79" cy="79.95" r="2.6" fill="rgb(195,40,55)" fill-opacity="0.07"/>
<circle cx="288.06" cy="87.16" r="2.6" fill="rgb(195,40,55)" fill-opacity="0.07"/>
<circle cx="297.57" cy="99.11" r="2.6" fill="rgb(195,40,55)" fill-opacity="0.07"/>
<circle cx="284.57" cy="89.49" r="2.6" fill="rgb(195,40,55)" fill-opacity="0.07"/>
<circle cx="291.74" cy="91.37" r="2.6" fill="rgb(195,40,55)" fill-opacity="0.07"/>
<circle cx="296.88" cy="99.35" r="2.6" fill="rgb(195,40,55)" fill-opacity="0.07"/>
<circle cx="296.06" cy="100.02" r="2.6" fill="rgb(195,40,55)" fill-opacity="0.07"/>
<circle cx="298.27" cy="93.14" r="2.6" fill="rgb(195,40,55)" fill-opacity="0.07"/>
<circle cx="289.48" cy="89.19" r="2.6" fill="rgb(195,40,55)" fill-opacity="0.07"/>
<circle cx="297.52" cy="98.83" r="2.6" fill="rgb(195,40,55)" fill-opacity="0.07"/>
<circle cx="298.78" cy="91.63" r="2.6" fill="rgb(195,40,55)" fill-opacity="0.07"/>
<circle cx="289.77" cy="95.14" r="2.6" fill="rgb(195,40,55)" fill-opacity="0.07"/>
<circle cx="300.3" cy="95.68" r="2.6" fill="rgb(195,40,55)" fill-opacity="0.07"/>
<circle cx="293.72" cy="88.69" r="2.6" fill="rgb(195,40,55)" fill-opacity="0.07"/>
<circle cx="295.12" cy="96.75" r="2.6" fill="rgb(195,40,55)" fill-opacity="0.07"/>
<circle cx="286.19" cy="103.96" r="2.6" fill="rgb(195,40,55)" fill-opacity="0.07"/>
<circle cx="286.39" cy="99.07" r="2.6" fill="rgb(195,40,55)" fill-opacity="0.07"/>
<circle cx="290.98" cy="94.53" r="2.6" fill="rgb(195,40,55)" fill-opacity="0.07"/>
<circle cx="287.24" cy="90.24" r="2.6" fill="rgb(195,40,55)" fill-opacity="0.07"/>
<circle cx="297.83" cy="92.25" r="2.8" fill="rgb(120,120,120)" fill-opacity="0.05"/>
<circle cx="289.61" cy="99.72" r="2.8" fill="rgb(120,120,120)" fill-opacity="0.05"/>
<circle cx="297.92" cy="94.73" r="2.8" fill="rgb(120,120,120)" fill-opacity="0.05"/>
<circle cx="294.14" cy="105.47" r="2.8" fill="rgb(120,120,120)" fill-opacity="0.05"/>
<circle cx="290.99" cy="96.28" r="2.8" fill="rgb(120,120,120)" fill-opacity="0.05"/>
<circle cx="295.67" cy="83.95" r="2.8" fill="rgb(120,120,120)" fill-opacity="0.05"/>
<circle cx="277.08" cy="94.48" r="2.8" fill="rgb(120,120,120)" fill-opacity="0.05"/>
<circle cx="299.15" cy="94.99" r="2.8" fill="rgb(120,120,120)" fill-opacity="0.05"/>
<circle cx="287.68" cy="103.01" r="2.6" fill="rgb(40,165,50)" fill-opacity="0.07"/>
<circle cx="296.3" cy="105.13" r="2.6" fill="rgb(40,165,50)" fill-opacity="0.07"/>
<circle cx="280.79" cy="110.91" r="2.6" fill="rgb(40,165,50)" fill-opacity="0.07"/>
<circle cx="292.62" cy="109.14" r="2.6" fill="rgb(40,165,50)" fill-opacity="0.07"/>
<circle cx="297.75" cy="114.71" r="2.6" fill="rgb(40,165,50)" fill-opacity="0.07"/>
<circle cx="294.68" cy="105.86" r="2.6" fill="rgb(40,165,50)" fill-opacity="0.07"/>
<circle cx="277.55" cy="108.63" r="2.6" fill="rgb(40,165,50)" fill-opacity="0.07"/>
<circle cx="290.14" cy="114.68" r="2.6" fill="rgb(40,165,50)" fill-opacity="0.07"/>
<circle cx="299.26" cy="109.7" r="2.6" fill="rgb(40,165,50)" fill-opacity="0.07"/>
<circle cx="299.86" cy="106.44" r="2.6" fill="rgb(40,165,50)" fill-opacity="0.07"/>
<circle cx="290.81" cy="101.89" r="2.6" fill="rgb(40,165,50)" fill-opacity="0.07"/>
<circle cx="289.1" cy="108.13" r="2.6" fill="rgb(40,165,50)" fill-opacity="0.07"/>
<circle cx="297.86" cy="102.54" r="2.6" fill="rgb(40,165,50)" fill-opacity="0.07"/>
<circle cx="296.21" cy="120.7" r="2.6" fill="rgb(40,165,50)" fill-opacity="0.07"/>
<circle cx="282.48" cy="105.36" r="2.6" fill="rgb(40,165,50)" fill-opacity="0.07"/>
<circle cx="291.22" cy="112.82" r="2.6" fill="rgb(40,165,50)" fill-opacity="0.07"/>
<circle cx="303.81" cy="114.17" r="2.6" fill="rgb(40,165,50)" fill-opacity="0.07"/>
<circle cx="290.85" cy="101.86" r="2.6" fill="rgb(40,165,50)" fill-opacity="0.07"/>
<circle cx="290.73" cy="106.65" r="2.6" fill="rgb(40,165,50)" fill-opacity="0.07"/>
<circle cx="292.64" cy="101.6" r="2.6" fill="rgb(40,165,50)" fill-opacity="0.07"/>
<circle cx="300.85" cy="102.61" r="2.6" fill="rgb(40,165,50)" fill-opacity="0.07"/>
<circle cx="295.44" cy="108.14" r="2.6" fill="rgb(40,165,50)" fill-opacity="0.07"/>
<circle cx="282.47" cy="107.34" r="2.8" fill="rgb(120,120,120)" fill-opacity="0.05"/>
<circle cx="291.25" cy="105.59" r="2.8" fill="rgb(120,120,120)" fill-opacity="0.05"/>
<circle cx="297.46" cy="103.61" r="2.8" fill="rgb(120,120,120)" fill-opacity="0.05"/>
<circle cx="311.16" cy="114.67" r="2.8" fill="rgb(120,120,120)" fill-opacity="0.05"/>
<circle cx="283.88" cy="89.7" r="2.8" fill="rgb(120,120,120)" fill-opacity="0.05"/>
<circle cx="300.99" cy="108.61" r="2.8" fill="rgb(120,120,120)" fill-opacity="0.05"/>
<circle cx="291.73" cy="100.14" r="2.8" fill="rgb(120,120,120)" fill-opacity="0.05"/>
<circle cx="279.72" cy="94" r="2.8" fill="rgb(120,120,120)" fill-opacity="0.05"/>
<circle cx="307.53" cy="131.76" r="2.6" fill="rgb(45,45,180)" fill-opacity="0.07"/>
<circle cx="287.53" cy="133.37" r="2.6" fill="rgb(45,45,180)" fill-opacity="0.07"/>
<circle cx="279.17" cy="126.4" r="2.6" fill="rgb(45,45,180)" fill-opacity="0.07"/>
<circle cx="295.59" cy="117.16" r="2.6" fill="rgb(45,45,180)" fill-opacity="0.07"/>
<circle cx="288.13" cy="116.07" r="2.6" fill="rgb(45,45,180)" fill-opacity="0.07"/>
<circle cx="291.32" cy="130.04" r="2.6" fill="rgb(45,45,180)" fill-opacity="0.07"/>
<circle cx="297.44" cy="124.72" r="2.6" fill="rgb(45,45,180)" fill-opacity="0.07"/>
<circle cx="298.23" cy="111.65" r="2.6" fill="rgb(45,45,180)" fill-opacity="0.07"/>
<circle cx="304.05" cy="121.94" r="2.6" fill="rgb(45,45,180)" fill-opacity="0.07"/>
<circle cx="282.57" cy="119.96" r="2.6" fill="rgb(45,45,180)" fill-opacity="0.07"/>
<circle cx="286.86" cy="122.79" r="2.6" fill="rgb(45,45,180)" fill-opacity="0.07"/>
<circle cx="293.05" cy="108.35" r="2.6" fill="rgb(45,45,180)" fill-opacity="0.07"/>
<circle cx="299.16" cy="132.51" r="2.6" fill="rgb(45,45,180)" fill-opacity="0.07"/>
<circle cx="284.36" cy="131.01" r="2.6" fill="rgb(45,45,180)" fill-opacity="0.07"/>
<circle cx="299.14" cy="128.26" r="2.6" fill="rgb(45,45,180)" fill-opacity="0.07"/>
<circle cx="301.56" cy="113.95" r="2.6" fill="rgb(45,45,180)" fill-opacity="0.07"/>
<circle cx="295.71" cy="116.2" r="2.6" fill="rgb(45,45,180)" fill-opacity="0.07"/>
<circle cx="306.32" cy="116.43" r="2.6" fill="rgb(45,45,180)" fill-opacity="0.07"/>
<circle cx="283.11" cy="128.92" r="2.6" fill="rgb(45,45,180)" fill-opacity="0.07"/>
<circle cx="295.04" cy="122.39" r="2.6" fill="rgb(45,45,180)" fill-opacity="0.07"/>
<circle cx="291.91" cy="125.88" r="2.6" fill="rgb(45,45,180)" fill-opacity="0.07"/>
<circle cx="302.19" cy="117.97" r="2.6" fill="rgb(45,45,180)" fill-opacity="0.07"/>
<circle cx="286.57" cy="118.2" r="2.8" fill="rgb(120,120,120)" fill-opacity="0.05"/>
<circle cx="290.44" cy="122.31" r="2.8" fill="rgb(120,120,120)" fill-opacity="0.05"/>
<circle cx="280.77" cy="124.33" r="2.8" fill="rgb(120,120,120)" fill-opacity="0.05"/>
<circle cx="280.95" cy="120.05" r="2.8" fill="rgb(120,120,120)" fill-opacity="0.05"/>
<circle cx="289.03" cy="120.52" r="2.8" fill="rgb(120,120,120)" fill-opacity="0.05"/>
<circle cx="302.84" cy="133.65" r="2.8" fill="rgb(120,120,120)" fill-opacity="0.05"/>
<circle cx="299.62" cy="133.27" r="2.8" fill="rgb(120,120,120)" fill-opacity="0.05"/>
<circle cx="288.73" cy="132.05" r="2.8" fill="rgb(120,120,120)" fill-opacity="0.05"/>
<circle cx="291.87" cy="136.88" r="2.6" fill="rgb(195,40,55)" fill-opacity="0.07"/>
<circle cx="293.98" cy="127.51" r="2.6" fill="rgb(195,40,55)" fill-opacity="0.07"/>
<circle cx="288.25" cy="134.56" r="2.6" fill="rgb(195,40,55)" fill-opacity="0.07"/>
<circle cx="294.58" cy="134.75" r="2.6" fill="rgb(195,40,55)" fill-opacity="0.07"/>
<circle cx="286.68" cy="128.57" r="2.6" fill="rgb(195,40,55)" fill-opacity="0.07"/>
<circle cx="292.27" cy="128.42" r="2.6" fill="rgb(195,40,55)" fill-opacity="0.07"/>
<circle cx="284.56" cy="134.89" r="2.6" fill="rgb(195,40,55)" fill-opacity="0.07"/>
<circle cx="293.36" cy="130.53" r="2.6" fill="rgb(195,40,55)" fill-opacity="0.07"/>
<circle cx="280.64" cy="137.22" r="2.6" fill="rgb(195,40,55)" fill-opacity="0.07"/>
<circle cx="297.51" cy="133.06" r="2.6" fill="rgb(195,40,55)" fill-opacity="0.07"/>
<circle cx="289.76" cy="121.57" r="2.6" fill="rgb(195,40,55)" fill-opacity="0.07"/>
<circle cx="298.06" cy="128.94" r="2.6" fill="rgb(195,40,55)" fill-opacity="0.07"/>
<circle cx="296.88" cy="131.97" r="2.6" fill="rgb(195,40,55)" fill-opacity="0.07"/>
<circle cx="291.28" cy="134.38" r="2.6" fill="rgb(195,40,55)" fill-opacity="0.07"/>
<circle cx="280.52" cy="152" r="2.6" fill="rgb(195,40,55)" fill-opacity="0.07"/>
<circle cx="282.04" cy="136.16" r="2.6" fill="rgb(195,40,55)" fill-opacity="0.07"/>
<circle cx="286.92" cy="134.08" r="2.6" fill="rgb(195,40,55)" fill-opacity="0.07"/>
<circle cx="301.15" cy="124.32" r="2.6" fill="rgb(195,40,55)" fill-opacity="0.07"/>
<circle cx="291.28" cy="138.46" r="2.6" fill="rgb(195,40,55)" fill-opacity="0.07"/>
<circle cx="292.98" cy="137.88" r="2.6" fill="rgb(195,40,55)" fill-opacity="0.07"/>
<circle cx="287.33" cy="125.66" r="2.6" fill="rgb(195,40,55)" fill-opacity="0.07"/>
<circle cx="283.68" cy="133.05" r="2.6" fill="rgb(195,40,55)" fill-opacity="0.07"/>
<circle cx="298.14" cy="136.06" r="2.8" fill="rgb(120,120,120)" fill-opacity="0.05"/>
<circle cx="305.03" cy="136.2" r="2.8" fill="rgb(120,120,120)" fill-opacity="0.05"/>
<circle cx="293.75" cy="136.9" r="2.8" fill="rgb(120,120,120)" fill-opacity="0.05"/>
<circle cx="278.35" cy="139.53" r="2.8" fill="rgb(120,120,120)" fill-opacity="0.05"/>
<circle cx="283.32" cy="132.84" r="2.8" fill="rgb(120,120,120)" fill-opacity="0.05"/>
<circle cx="310.95" cy="126.85" r="2.8" fill="rgb(120,120,120)" fill-opacity="0.05"/>
<circle cx="293.15" cy="137.54" r="2.8" fill="rgb(120,120,120)" fill-opacity="0.05"/>
<circle cx="293.23" cy="135.53" r="2.8" fill="rgb(120,120,120)" fill-opacity="0.05"/>
<circle cx="290.77" cy="161.75" r="2.6" fill="rgb(40,165,50)" fill-opacity="0.07"/>
<circle cx="281.36" cy="143.64" r="2.6" fill="rgb(40,165,50)" fill-opacity="0.07"/>
<circle cx="304.04" cy="153.09" r="2.6" fill="rgb(40,165,50)" fill-opacity="0.07"/>
<circle cx="289.43" cy="144.41" r="2.6" fill="rgb(40,165,50)" fill-opacity="0.07"/>
<circle cx="292.78" cy="165.64" r="2.6" fill="rgb(40,165,50)" fill-opacity="0.07"/>
<circle cx="297.61" cy="143.61" r="2.6" fill="rgb(40,165,50)" fill-opacity="0.07"/>
<circle cx="295.95" cy="146.04" r="2.6" fill="rgb(40,165,50)" fill-opacity="0.07"/>
<circle cx="304.14" cy="151.56" r="2.6" fill="rgb(40,165,50)" fill-opacity="0.07"/>
<circle cx="302.59" cy="150.77" r="2.6" fill="rgb(40,165,50)" fill-opacity="0.07"/>
<circle cx="307.65" cy="152.27" r="2.6" fill="rgb(40,165,50)" fill-opacity="0.07"/>
<circle cx="296.23" cy="143.68" r="2.6" fill="rgb(40,165,50)" fill-opacity="0.07"/>
<circle cx="291.66" cy="152.14" r="2.6" fill="rgb(40,165,50)" fill-opacity="0.07"/>
<circle cx="291.17" cy="164.73" r="2.6" fill="rgb(40,165,50)" fill-opacity="0.07"/>
<circle cx="294.33" cy="145.23" r="2.6" fill="rgb(40,165,50)" fill-opacity="0.07"/>
<circle cx="300.82" cy="146.62" r="2.6" fill="rgb(40,165,50)" fill-opacity="0.07"/>
<circle cx="297.05" cy="149.24" r="2.6" fill="rgb(40,165,50)" fill-opacity="0.07"/>
<circle cx="289.72" cy="158.13" r="2.6" fill="rgb(40,165,50)" fill-opacity="0.07"/>
<circle cx="295" cy="156.33" r="2.6" fill="rgb(40,165,50)" fill-opacity="0.07"/>
<circle cx="292.2" cy="141.24" r="2.6" fill="rgb(40,165,50)" fill-opacity="0.07"/>
<circle cx="286.32" cy="146.69" r="2.6" fill="rgb(40,165,50)" fill-opacity="0.07"/>
<circle cx="293.21" cy="150.13" r="2.6" fill="rgb(40,165,50)" fill-opacity="0.07"/>
<circle cx="297.74" cy="142.34" r="2.6" fill="rgb(40,165,50)" fill-opacity="0.07"/>
<circle cx="296.24" cy="141.27" r="2.8" fill="rgb(120,120,120)" fill-opacity="0.05"/>
<circle cx="288.93" cy="167.76" r="2.8" fill="rgb(120,120,120)" fill-opacity="0.05"/>
<circle cx="304.59" cy="147.26" r="2.8" fill="rgb(120,120,120)" fill-opacity="0.05"/>
<circle cx="308.74" cy="159.73" r="2.8" fill="rgb(120,120,120)" fill-opacity="0.05"/>
<circle cx="301.51" cy="160.07" r="2.8" fill="rgb(120,120,120)" fill-opacity="0.05"/>
<circle cx="292.42" cy="148.93" r="2.8" fill="rgb(120,120,120)" fill-opacity="0.05"/>
<circle cx="287.52" cy="153.88" r="2.8" fill="rgb(120,120,120)" fill-opacity="0.05"/>
<circle cx="284.37" cy="146.28" r="2.8" fill="rgb(120,120,120)" fill-opacity="0.05"/>
<circle cx="290.68" cy="156.77" r="2.6" fill="rgb(45,45,180)" fill-opacity="0.07"/>
<circle cx="289.96" cy="170.75" r="2.6" fill="rgb(45,45,180)" fill-opacity="0.07"/>
<circle cx="281.3" cy="168.22" r="2.6" fill="rgb(45,45,180)" fill-opacity="0.07"/>
<circle cx="283.26" cy="154.19" r="2.6" fill="rgb(45,45,180)" fill-opacity="0.07"/>
<circle cx="289.17" cy="165.97" r="2.6" fill="rgb(45,45,180)" fill-opacity="0.07"/>
<circle cx="283.06" cy="155.43" r="2.6" fill="rgb(45,45,180)" fill-opacity="0.07"/>
<circle cx="284.84" cy="155.48" r="2.6" fill="rgb(45,45,180)" fill-opacity="0.07"/>
<circle cx="288.93" cy="155.53" r="2.6" fill="rgb(45,45,180)" fill-opacity="0.07"/>
<circle cx="286.05" cy="161.92" r="2.6" fill="rgb(45,45,180)" fill-opacity="0.07"/>
<circle cx="284.99" cy="166.72" r="2.6" fill="rgb(45,45,180)" fill-opacity="0.07"/>
<circle cx="283.3" cy="155.17" r="2.6" fill="rgb(45,45,180)" fill-opacity="0.07"/>
<circle cx="300.95" cy="168.84" r="2.6" fill="rgb(45,45,180)" fill-opacity="0.07"/>
<circle cx="288.16" cy="164.78" r="2.6" fill="rgb(45,45,180)" fill-opacity="0.07"/>
<circle cx="289.91" cy="156.74" r="2.6" fill="rgb(45,45,180)" fill-opacity="0.07"/>
<circle cx="292.09" cy="161.63" r="2.6" fill="rgb(45,45,180)" fill-opacity="0.07"/>
<circle cx="296.03" cy="148.74" r="2.6" fill="rgb(45,45,180)" fill-opacity="0.07"/>
<circle cx="292.95" cy="160.8" r="2.6" fill="rgb(45,45,180)" fill-opacity="0.07"/>
<circle cx="283.23" cy="157.23" r="2.6" fill="rgb(45,45,180)" fill-opacity="0.07"/>
<circle cx="285.07" cy="151.86" r="2.6" fill="rgb(45,45,180)" fill-opacity="0.07"/>
<circle cx="283.97" cy="164.5" r="2.6" fill="rgb(45,45,180)" fill-opacity="0.07"/>
<circle cx="277.84" cy="157.54" r="2.6" fill="rgb(45,45,180)" fill-opacity="0.07"/>
<circle cx="272.33" cy="156.35" r="2.6" fill="rgb(45,45,180)" fill-opacity="0.07"/>
<circle cx="290.83" cy="159.45" r="2.8" fill="rgb(120,120,120)" fill-opacity="0.05"/>
<circle cx="288.05" cy="151.97" r="2.8" fill="rgb(120,120,120)" fill-opacity="0.05"/>
<circle cx="292.26" cy="153.48" r="2.8" fill="rgb(120,120,120)" fill-opacity="0.05"/>
<circle cx="294.97" cy="161.28" r="2.8" fill="rgb(120,120,120)" fill-opacity="0.05"/>
<circle cx="284.63" cy="170.2" r="2.8" fill="rgb(120,120,120)" fill-opacity="0.05"/>
<circle cx="284.54" cy="166.97" r="2.8" fill="rgb(120,120,120)" fill-opacity="0.05"/>
<circle cx="288.54" cy="159.8" r="2.8" fill="rgb(120,120,120)" fill-opacity="0.05"/>
<circle cx="295.71" cy="162.87" r="2.8" fill="rgb(120,120,120)" fill-opacity="0.05"/>
<circle cx="274.45" cy="154.59" r="2.6" fill="rgb(195,40,55)" fill-opacity="0.07"/>
<circle cx="275.88" cy="155.82" r="2.6" fill="rgb(195,40,55)" fill-opacity="0.07"/>
<circle cx="272.38" cy="149.08" r="2.6" fill="rgb(195,40,55)" fill-opacity="0.07"/>
<circle cx="257.66" cy="154.63" r="2.6" fill="rgb(195,40,55)" fill-opacity="0.07"/>
<circle cx="272.93" cy="162.59" r="2.6" fill="rgb(195,40,55)" fill-opacity="0.07"/>
<circle cx="277.42" cy="162.15" r="2.6" fill="rgb(195,40,55)" fill-opacity="0.07"/>
<circle cx="285.79" cy="154.66" r="2.6" fill="rgb(195,40,55)" fill-opacity="0.07"/>
<circle cx="269.04" cy="160.21" r="2.6" fill="rgb(195,40,55)" fill-opacity="0.07"/>
<circle cx="270.63" cy="153.78" r="2.6" fill="rgb(195,40,55)" fill-opacity="0.07"/>
<circle cx="283.86" cy="158.62" r="2.6" fill="rgb(195,40,55)" fill-opacity="0.07"/>
<circle cx="281.64" cy="147.21" r="2.6" fill="rgb(195,40,55)" fill-opacity="0.07"/>
<circle cx="274.74" cy="162.02" r="2.6" fill="rgb(195,40,55)" fill-opacity="0.07"/>
<circle cx="266.18" cy="156.5" r="2.6" fill="rgb(195,40,55)" fill-opacity="0.07"/>
<circle cx="277.14" cy="141.48" r="2.6" fill="rgb(195,40,55)" fill-opacity="0.07"/>
<circle cx="284.89" cy="151.03" r="2.6" fill="rgb(195,40,55)" fill-opacity="0.07"/>
<circle cx="273.62" cy="165.39" r="2.6" fill="rgb(195,40,55)" fill-opacity="0.07"/>
<circle cx="262.88" cy="158.1" r="2.6" fill="rgb(195,40,55)" fill-opacity="0.07"/>
<circle cx="271.61" cy="155.58" r="2.6" fill="rgb(195,40,55)" fill-opacity="0.07"/>
<circle cx="269.19" cy="163.5" r="2.6" fill="rgb(195,40,55)" fill-opacity="0.07"/>
<circle cx="267.24" cy="157.49" r="2.6" fill="rgb(195,40,55)" fill-opacity="0.07"/>
<circle cx="278.04" cy="154.77" r="2.6" fill="rgb(195,40,55)" fill-opacity="0.07"/>
<circle cx="272.74" cy="153.73" r="2.6" fill="rgb(195,40,55)" fill-opacity="0.07"/>
<circle cx="282.71" cy="158.49" r="2.8" fill="rgb(120,120,120)" fill-opacity="0.05"/>
<circle cx="273.87" cy="147.68" r="2.8" fill="rgb(120,120,120)" fill-opacity="0.05"/>
<circle cx="275.8" cy="159.06" r="2.8" fill="rgb(120,120,120)" fill-opacity="0.05"/>
<circle cx="274.27" cy="165.38" r="2.8" fill="rgb(120,120,120)" fill-opacity="0.05"/>
<circle cx="259.24" cy="172.78" r="2.8" fill="rgb(120,120,120)" fill-opacity="0.05"/>
<circle cx="273.06" cy="147.34" r="2.8" fill="rgb(120,120,120)" fill-opacity="0.05"/>
<circle cx="260.57" cy="161.4" r="2.8" fill="rgb(120,120,120)" fill-opacity="0.05"/>
<circle cx="279.11" cy="153.81" r="2.8" fill="rgb(120,120,120)" fill-opacity="0.05"/>
</g>
<line x1="26.5" y1="35" x2="26.5" y2="199.5" stroke="#1a1a1a" stroke-width="1.4"/>
<line x1="25.8" y1="198.8" x2="167.8" y2="198.8" stroke="#1a1a1a" stroke-width="1.4"/>
<line x1="196.9" y1="35" x2="196.9" y2="198.8" stroke="#1a1a1a" stroke-width="1.4"/>
<line x1="196.2" y1="198.1" x2="338" y2="198.1" stroke="#1a1a1a" stroke-width="1.4"/>
<line x1="30.9" y1="145" x2="30.9" y2="88.8" stroke="#111" stroke-width="2.4"/>
<polygon points="26.7,90.3 30.9,82.8 35.1,90.3" fill="#111"/>
<line x1="142.4" y1="85.2" x2="142.4" y2="141.4" stroke="#111" stroke-width="2.4"/>
<polygon points="138.2,139.9 142.4,147.4 146.6,139.9" fill="#111"/>
<line x1="201.2" y1="145.4" x2="201.2" y2="88.5" stroke="#111" stroke-width="2.4"/>
<polygon points="197,90 201.2,82.5 205.4,90" fill="#111"/>
<line x1="312.7" y1="84.7" x2="312.7" y2="141.2" stroke="#111" stroke-width="2.4"/>
<polygon points="308.5,139.7 312.7,147.2 316.9,139.7" fill="#111"/>
<text x="98.3" y="212.5" font-size="13.7" text-anchor="middle" fill="#000" stroke="#000" stroke-width="0.15">PLS1</text>
<text x="268.8" y="212.5" font-size="13.7" text-anchor="middle" fill="#000" stroke="#000" stroke-width="0.15">PLS1</text>
<text x="20.1" y="115" font-size="13.7" text-anchor="middle" fill="#000" stroke="#000" stroke-width="0.15" transform="rotate(-90 20.1 115)">PLS2</text>
<text x="190.9" y="114.8" font-size="13.7" text-anchor="middle" fill="#000" stroke="#000" stroke-width="0.15" transform="rotate(-90 190.9 114.8)">PLS2</text>
<defs><linearGradient id="tg" x1="0" x2="1" y1="0" y2="0"><stop offset="0" stop-color="#929292"/><stop offset="0.3" stop-color="#b8b8b8"/><stop offset="0.5" stop-color="#d8d8d8"/><stop offset="0.72" stop-color="#c4c4c4"/><stop offset="1" stop-color="#8c8c8c"/></linearGradient></defs>
<polygon points="50.4,235.1 300,235.1 308.4,242.2 41.3,242.2" fill="url(#tg)" stroke="#6a6a6a" stroke-width="0.8" stroke-linejoin="round"/>
<rect x="41" y="242.2" width="13.67" height="7.4" fill="#e8202a"/>
<rect x="54.37" y="242.2" width="13.67" height="7.4" fill="#000"/>
<rect x="67.74" y="242.2" width="13.67" height="7.4" fill="#3350b5"/>
<rect x="81.11" y="242.2" width="13.67" height="7.4" fill="#000"/>
<rect x="94.48" y="242.2" width="13.67" height="7.4" fill="#5cba48"/>
<rect x="107.85" y="242.2" width="13.67" height="7.4" fill="#000"/>
<rect x="121.22" y="242.2" width="13.67" height="7.4" fill="#e8202a"/>
<rect x="134.59" y="242.2" width="13.67" height="7.4" fill="#000"/>
<rect x="147.96" y="242.2" width="13.67" height="7.4" fill="#3350b5"/>
<rect x="161.33" y="242.2" width="13.67" height="7.4" fill="#000"/>
<rect x="174.7" y="242.2" width="13.67" height="7.4" fill="#5cba48"/>
<rect x="188.07" y="242.2" width="13.67" height="7.4" fill="#000"/>
<rect x="201.44" y="242.2" width="13.67" height="7.4" fill="#e8202a"/>
<rect x="214.81" y="242.2" width="13.67" height="7.4" fill="#000"/>
<rect x="228.18" y="242.2" width="13.67" height="7.4" fill="#3350b5"/>
<rect x="241.55" y="242.2" width="13.67" height="7.4" fill="#000"/>
<rect x="254.92" y="242.2" width="13.67" height="7.4" fill="#5cba48"/>
<rect x="268.29" y="242.2" width="13.67" height="7.4" fill="#000"/>
<rect x="281.66" y="242.2" width="13.67" height="7.4" fill="#e8202a"/>
<rect x="295.03" y="242.2" width="13.67" height="7.4" fill="#000"/>
<path d="M45.5,227 C44.9,229 42.85,230.5 42.85,232.2 A2.65,2.65 0 1 0 48.15,232.2 C48.15,230.5 46.1,229 45.5,227 Z" fill="#3a66b8"/>
<path d="M304.6,227 C304,229 301.95,230.5 301.95,232.2 A2.65,2.65 0 1 0 307.25,232.2 C307.25,230.5 305.2,229 304.6,227 Z" fill="#3a66b8"/>
<g transform="translate(146.8,234.8) scale(1)"><path d="M-30.8,-1.6 C-38,-2.3 -46,-2.6 -55.5,-2.4" stroke="#d8c4b8" stroke-width="1.4" fill="none"/><path d="M-32.1,3.8 C-32,1 -31.5,-1 -31,-2 C-30,-4.5 -29,-6 -27.4,-6.7 C-24,-7.8 -21,-7.6 -18.8,-7.5 C-14,-7.6 -10,-7.8 -7.6,-7.6 C-6,-7.2 -5.2,-6.3 -4.8,-5.3 C-3,-3.5 -1,-1.5 0,0 C-0.8,1.2 -2,1.7 -2.8,1.7 L-6.8,3.7 C-10,3.5 -12,3.4 -14.8,3.4 L-22.8,3.7 C-25,3.2 -27,2.6 -28.8,2.2 L-30.5,3.8 Z" fill="#433d39"/><path d="M-28,-3.5 C-24,-5.5 -18,-5.8 -12,-4.8 M-27,0 C-22,-1.5 -17,-1.5 -12,-0.5" stroke="#6a615a" stroke-width="1.1" fill="none" opacity="0.8"/><ellipse cx="-8.8" cy="-4.4" rx="1.7" ry="2.3" fill="#c4ab9c"/><path d="M-32.1,3.8 L-33,5 M-4,2.5 L-2.5,3.4" stroke="#c8b0a0" stroke-width="0.9"/></g>
<text x="349.5" y="23.2" font-size="32" text-anchor="start" fill="#000" font-weight="bold">b</text>
<text x="391.4" y="29.4" font-size="13.7" text-anchor="start" fill="#1f1ff0" stroke="#1f1ff0" stroke-width="0.15">ensemble</text>
<text x="534.5" y="29.6" font-size="13.7" text-anchor="start" fill="#ee2020" stroke="#ee2020" stroke-width="0.15">ensemble (shuff.)</text>
<path d="M363.6,64 A250.8,250.8 0 0 1 355.8,245.3" fill="none" stroke="#1a1a1a" stroke-width="1.3"/>
<path d="M415,44.6 A310.85,310.85 0 0 1 412.2,250.7" fill="none" stroke="#1a1a1a" stroke-width="1.3"/>
<ellipse cx="399.6" cy="88.4" rx="26.3" ry="43" transform="rotate(-5.1 399.6 88.4)" fill="none" stroke="#5a5a5a" stroke-width="1.45" stroke-dasharray="2.4,2.1" />
<ellipse cx="395.1" cy="210.3" rx="24.8" ry="44.4" transform="rotate(26 395.1 210.3)" fill="none" stroke="#5a5a5a" stroke-width="1.45" stroke-dasharray="2.4,2.1" />
<path d="M385.6,44.6 L387.06,49.17 L389.14,55.33 L391.57,62.71 L394.08,70.94 L396.38,79.66 L398.2,88.5 L399.65,97.74 L400.99,107.74 L402.11,118.22 L402.95,128.93 L403.41,139.61 L403.4,150 L402.86,160.35 L401.83,170.93 L400.42,181.48 L398.74,191.74 L396.9,201.46 L395,210.4 L392.79,218.84 L390.14,227.05 L387.32,234.73 L384.63,241.56 L382.32,247.25 L380.7,251.5" fill="none" stroke="#5a5a5a" stroke-width="1.45" stroke-dasharray="2.4,2.1" />
<ellipse cx="403.5" cy="152" rx="26.8" ry="43.4" transform="rotate(5.2 403.5 152)" fill="none" stroke="#2b2fa0" stroke-width="1.5"/>
<circle cx="398.2" cy="88.5" r="3.6" fill="#707070"/>
<circle cx="395" cy="210.4" r="3.6" fill="#707070"/>
<circle cx="403.4" cy="150" r="3.6" fill="#111"/>
<line x1="403.4" y1="150" x2="398.72" y2="94.48" stroke="#111" stroke-width="1.4"/>
<polygon points="398.3,89.5 403.08,98.63 398.95,97.26 395.11,99.3" fill="#111"/>
<text x="397.8" y="130.5" font-size="13.7" text-anchor="middle" fill="#000" stroke="#000" stroke-width="0.15" transform="rotate(-90 397.8 130.5)">Δμ</text>
<polygon points="478,98.7 477.86,99.72 477.71,101.17 477.51,102.86 477.24,104.64 476.88,106.35 476.4,107.8 475.78,109.02 475.04,110.15 474.2,111.2 473.31,112.18 472.4,113.11 471.5,114 470.54,114.88 469.48,115.73 468.39,116.54 467.38,117.26 466.52,117.85 465.9,118.3 465.9,118.3 466.69,119.37 467.79,120.88 469.09,122.66 470.48,124.51 471.85,126.25 473.1,127.7 474.31,128.91 475.59,130.03 476.85,131.04 478.01,131.92 478.99,132.65 479.7,133.2" fill="#8c8cc8"/>
<polygon points="483,163.2 482.46,164.21 481.72,165.63 480.84,167.3 479.88,169.07 478.91,170.79 478,172.3 477.06,173.69 476.03,175.11 474.99,176.47 474.01,177.7 473.19,178.74 472.6,179.5 472.6,179.5 473.39,180.27 474.49,181.34 475.79,182.6 477.17,183.96 478.51,185.33 479.7,186.6 480.81,187.88 481.94,189.26 483.04,190.64 484.04,191.93 484.88,193.02 485.5,193.8" fill="#8c8cc8"/>
<path d="M473.4,44.9 L472.98,45.47 L472.46,46.22 L471.82,47.12 L471.03,48.18 L470.06,49.38 L468.9,50.7 L467.49,52.2 L465.83,53.9 L463.99,55.74 L462.06,57.66 L460.11,59.6 L458.2,61.5 L456.26,63.39 L454.2,65.31 L452.12,67.25 L450.11,69.2 L448.24,71.16 L446.6,73.1 L445.16,75.03 L443.83,76.97 L442.64,78.9 L441.64,80.83 L440.85,82.77 L440.3,84.7 L440,86.65 L439.91,88.63 L440.04,90.61 L440.37,92.56 L440.89,94.47 L441.6,96.3 L442.49,98.02 L443.56,99.64 L444.83,101.22 L446.3,102.8 L447.99,104.44 L449.9,106.2 L452.22,108.12 L454.99,110.17 L457.97,112.28 L460.93,114.39 L463.65,116.41 L465.9,118.3 L467.62,120.07 L468.97,121.78 L470.09,123.41 L471.07,124.96 L472.04,126.39 L473.1,127.7 L474.31,128.91 L475.59,130.03 L476.85,131.04 L478.01,131.92 L478.99,132.65 L479.7,133.2" fill="none" stroke="#5a5a5a" stroke-width="1.45" stroke-dasharray="2.4,2.1" />
<path d="M483,163.2 L482.46,164.21 L481.72,165.63 L480.84,167.3 L479.88,169.07 L478.91,170.79 L478,172.3 L477.21,173.59 L476.5,174.79 L475.79,175.94 L474.96,177.07 L473.93,178.25 L472.6,179.5 L470.83,180.82 L468.68,182.18 L466.33,183.57 L463.94,185.01 L461.71,186.48 L459.8,188 L458.19,189.56 L456.72,191.16 L455.41,192.81 L454.24,194.49 L453.24,196.22 L452.4,198 L451.74,199.86 L451.26,201.81 L450.93,203.81 L450.74,205.8 L450.67,207.75 L450.7,209.6 L450.79,211.33 L450.95,212.96 L451.22,214.55 L451.66,216.14 L452.31,217.77 L453.2,219.5 L454.36,221.33 L455.77,223.24 L457.38,225.19 L459.16,227.17 L461.07,229.15 L463.1,231.1 L465.33,233.05 L467.82,235.03 L470.44,237.01 L473.09,238.96 L475.65,240.87 L478,242.7 L480.26,244.56 L482.54,246.49 L484.73,248.37 L486.71,250.1 L488.38,251.54 L489.6,252.6" fill="none" stroke="#5a5a5a" stroke-width="1.45" stroke-dasharray="2.4,2.1" />
<path d="M478,98.7 L477.86,99.72 L477.71,101.17 L477.51,102.86 L477.24,104.64 L476.88,106.35 L476.4,107.8 L475.78,109.02 L475.04,110.15 L474.2,111.2 L473.31,112.18 L472.4,113.11 L471.5,114 L470.68,114.77 L469.91,115.39 L469.12,115.95 L468.24,116.56 L467.19,117.31 L465.9,118.3 L464.26,119.57 L462.31,121.04 L460.19,122.65 L458.06,124.34 L456.04,126.05 L454.3,127.7 L452.8,129.33 L451.42,131 L450.16,132.69 L449.04,134.36 L448.05,136.01 L447.2,137.6 L446.51,139.13 L445.96,140.61 L445.56,142.06 L445.27,143.5 L445.09,144.94 L445,146.4 L444.98,147.87 L445.03,149.32 L445.18,150.78 L445.47,152.26 L445.94,153.76 L446.6,155.3 L447.5,156.9 L448.63,158.57 L449.93,160.26 L451.34,161.94 L452.81,163.6 L454.3,165.2 L455.85,166.77 L457.53,168.34 L459.26,169.88 L461.01,171.35 L462.71,172.74 L464.3,174 L465.8,175.09 L467.24,176.02 L468.63,176.86 L469.99,177.67 L471.31,178.53 L472.6,179.5 L473.87,180.59 L475.1,181.74 L476.31,182.94 L477.47,184.17 L478.61,185.39 L479.7,186.6 L480.81,187.88 L481.94,189.26 L483.04,190.64 L484.04,191.93 L484.88,193.02 L485.5,193.8" fill="none" stroke="#2b2fa0" stroke-width="1.5"/>
<line x1="472.8" y1="35" x2="492.2" y2="259" stroke="#1a1a1a" stroke-width="1.3"/>
<line x1="466.5" y1="124.57" x2="471.4" y2="173.23" stroke="#111" stroke-width="1.2"/>
<polygon points="471.9,178.2 467.47,170.1 471.2,171.27 474.63,169.38" fill="#111"/>
<polygon points="466,119.6 470.43,127.7 466.7,126.53 463.27,128.42" fill="#111"/>
<text x="466.2" y="147.9" font-size="15.5" text-anchor="middle" fill="#000" stroke="#000" stroke-width="0.15" transform="rotate(-90 466.2 147.9)">σ</text>
<text x="505.8" y="253.5" font-size="13.7" text-anchor="start" fill="#000" stroke="#000" stroke-width="0.15" transform="rotate(-95.2 505.8 253.5)">direction locally parallel to the signal</text>
<path d="M535.3,64 A256.36,256.36 0 0 1 527.3,246" fill="none" stroke="#1a1a1a" stroke-width="1.3"/>
<path d="M599.3,45.3 A329.04,329.04 0 0 1 596.6,251.5" fill="none" stroke="#1a1a1a" stroke-width="1.3"/>
<circle cx="576.2" cy="88" r="32.5" fill="none" stroke="#5a5a5a" stroke-width="1.45" stroke-dasharray="2.4,2.1" />
<circle cx="573.4" cy="210.3" r="32.7" fill="none" stroke="#5a5a5a" stroke-width="1.45" stroke-dasharray="2.4,2.1" />
<path d="M565.6,50.7 L566.74,54.6 L568.35,59.77 L570.24,66.01 L572.21,73.09 L574.07,80.79 L575.6,88.9 L576.97,97.7 L578.36,107.44 L579.62,117.79 L580.63,128.46 L581.24,139.13 L581.3,149.5 L580.71,159.88 L579.55,170.57 L577.99,181.27 L576.19,191.66 L574.31,201.41 L572.5,210.2 L570.57,218.26 L568.35,225.9 L566.05,232.89 L563.87,239.05 L562.02,244.15 L560.7,248" fill="none" stroke="#5a5a5a" stroke-width="1.45" stroke-dasharray="2.4,2.1" />
<circle cx="581.2" cy="149.5" r="32.5" fill="none" stroke="#e8262a" stroke-width="1.6"/>
<circle cx="575.6" cy="88.7" r="3.6" fill="#707070"/>
<circle cx="572.5" cy="210.3" r="3.6" fill="#707070"/>
<circle cx="581.3" cy="149.5" r="3.6" fill="#111"/>
<line x1="581.3" y1="149.5" x2="576.25" y2="94.28" stroke="#111" stroke-width="1.4"/>
<polygon points="575.8,89.3 580.65,98.4 576.51,97.06 572.68,99.12" fill="#111"/>
<text x="573.2" y="132.4" font-size="13.7" text-anchor="middle" fill="#000" stroke="#000" stroke-width="0.15" transform="rotate(-90 573.2 132.4)">Δμ</text>
<polygon points="656.3,111.7 655.2,116.1 657,118 " fill="#f0a0a0"/>
<path d="M650.8,49.9 L648.73,51.42 L645.83,53.47 L642.42,55.93 L638.79,58.65 L635.25,61.48 L632.1,64.3 L629.08,67.22 L625.88,70.37 L622.77,73.65 L620.01,76.93 L617.87,80.08 L616.6,83 L616.29,85.69 L616.75,88.24 L617.83,90.68 L619.36,93.01 L621.2,95.25 L623.2,97.4 L625.55,99.47 L628.4,101.44 L631.57,103.32 L634.84,105.1 L638.02,106.8 L640.9,108.4 L643.65,109.96 L646.45,111.5 L649.16,112.94 L651.62,114.23 L653.68,115.3 L655.2,116.1" fill="none" stroke="#5a5a5a" stroke-width="1.45" stroke-dasharray="2.4,2.1" />
<path d="M659.6,175.7 L657.74,176.76 L655.12,178.23 L652.04,179.96 L648.8,181.85 L645.72,183.77 L643.1,185.6 L640.89,187.33 L638.83,189.05 L636.92,190.81 L635.16,192.63 L633.56,194.55 L632.1,196.6 L630.7,198.83 L629.35,201.23 L628.14,203.72 L627.2,206.26 L626.61,208.77 L626.5,211.2 L626.89,213.58 L627.71,215.96 L628.9,218.32 L630.39,220.64 L632.11,222.87 L634,225 L636.16,227.01 L638.66,228.91 L641.4,230.74 L644.27,232.51 L647.17,234.26 L650,236 L652.98,237.84 L656.25,239.78 L659.55,241.69 L662.63,243.44 L665.23,244.92 L667.1,246" fill="none" stroke="#5a5a5a" stroke-width="1.45" stroke-dasharray="2.4,2.1" />
<path d="M656.3,111.7 L655.15,113.03 L653.61,114.87 L651.76,117.06 L649.7,119.39 L647.52,121.7 L645.3,123.8 L642.91,125.68 L640.23,127.5 L637.44,129.28 L634.68,131.08 L632.11,132.94 L629.9,134.9 L627.93,136.99 L626.04,139.19 L624.36,141.44 L622.97,143.7 L621.98,145.94 L621.5,148.1 L621.52,150.18 L621.95,152.21 L622.78,154.21 L624.01,156.2 L625.62,158.19 L627.6,160.2 L630.18,162.23 L633.42,164.26 L637.04,166.3 L640.77,168.34 L644.35,170.37 L647.5,172.4 L650.37,174.56 L653.21,176.89 L655.89,179.21 L658.3,181.37 L660.31,183.18 L661.8,184.5" fill="none" stroke="#e8262a" stroke-width="1.6"/>
<line x1="650.3" y1="35" x2="669.8" y2="259" stroke="#1a1a1a" stroke-width="1.3"/>
<line x1="644.74" y1="129.58" x2="648.06" y2="167.22" stroke="#111" stroke-width="1.2"/>
<polygon points="648.5,172.2 644.17,164.05 647.89,165.26 651.34,163.42" fill="#111"/>
<polygon points="644.3,124.6 648.63,132.75 644.91,131.54 641.46,133.38" fill="#111"/>
<text x="644.2" y="150.2" font-size="15.5" text-anchor="middle" fill="#000" stroke="#000" stroke-width="0.15" transform="rotate(-90 644.2 150.2)">σ</text>
<text x="683" y="254.8" font-size="13.7" text-anchor="start" fill="#000" stroke="#000" stroke-width="0.15" transform="rotate(-95.2 683 254.8)">direction locally parallel to the signal</text>
<text x="4.8" y="283.5" font-size="32" text-anchor="start" fill="#000" font-weight="bold">c</text>
<line x1="54.5" y1="288.3" x2="54.5" y2="448.7" stroke="#1a1a1a" stroke-width="1.1"/>
<line x1="54" y1="448.2" x2="221.4" y2="448.2" stroke="#1a1a1a" stroke-width="1.1"/>
<text x="52.3" y="453.5" font-size="13.7" text-anchor="end" fill="#000" stroke="#000" stroke-width="0.15">0</text>
<line x1="54.5" y1="415.1" x2="57.5" y2="415.1" stroke="#1a1a1a" stroke-width="1"/>
<text x="52.3" y="420.4" font-size="13.7" text-anchor="end" fill="#000" stroke="#000" stroke-width="0.15">5</text>
<line x1="54.5" y1="382" x2="57.5" y2="382" stroke="#1a1a1a" stroke-width="1"/>
<text x="52.3" y="387.3" font-size="13.7" text-anchor="end" fill="#000" stroke="#000" stroke-width="0.15">10</text>
<line x1="54.5" y1="348.9" x2="57.5" y2="348.9" stroke="#1a1a1a" stroke-width="1"/>
<text x="52.3" y="354.2" font-size="13.7" text-anchor="end" fill="#000" stroke="#000" stroke-width="0.15">15</text>
<line x1="54.5" y1="315.8" x2="57.5" y2="315.8" stroke="#1a1a1a" stroke-width="1"/>
<text x="52.3" y="321.1" font-size="13.7" text-anchor="end" fill="#000" stroke="#000" stroke-width="0.15">20</text>
<text x="55.1" y="464.1" font-size="13.7" text-anchor="middle" fill="#000" stroke="#000" stroke-width="0.15">0</text>
<line x1="120.9" y1="448.2" x2="120.9" y2="444.7" stroke="#1a1a1a" stroke-width="1"/>
<text x="121.5" y="464.1" font-size="13.7" text-anchor="middle" fill="#000" stroke="#000" stroke-width="0.15">200</text>
<line x1="187.3" y1="448.2" x2="187.3" y2="444.7" stroke="#1a1a1a" stroke-width="1"/>
<text x="187.9" y="464.1" font-size="13.7" text-anchor="middle" fill="#000" stroke="#000" stroke-width="0.15">400</text>
<text x="135.2" y="481" font-size="13.7" text-anchor="middle" fill="#000" stroke="#000" stroke-width="0.15">number of cells</text>
<text x="28.7" y="384.3" font-size="13.7" text-anchor="middle" transform="rotate(-90 28.7 384.3)">(Δμ)<tspan dy="-6" font-size="10.5">2</tspan><tspan dy="6"> = signal [(event rate)</tspan><tspan dy="-6" font-size="10.5">2</tspan><tspan dy="6">]</tspan></text>
<polyline points="54.5,448.2 56.53,446.57 58.55,444.89 60.58,443.43 62.6,441.63 64.63,439.84 66.65,438.31 68.68,436.45 70.71,434.71 72.73,432.99 74.76,431.36 76.78,429.55 78.81,428.2 80.83,426.65 82.86,425.21 84.89,423.38 86.91,421.75 88.94,420.25 90.96,418.92 92.99,417.4 95.01,415.78 97.04,414.27 99.06,412.18 101.09,410.2 103.12,409.58 105.14,408.65 107.17,407.1 109.19,405.64 111.22,403.95 113.24,402.26 115.27,399.87 117.3,398.66 119.32,397.19 121.35,394.83 123.37,392.98 125.4,391.13 127.42,389.7 129.45,388.69 131.48,387.01 133.5,385.36 135.53,384.19 137.55,382.83 139.58,381.24 141.6,379.97 143.63,378.39 145.66,376.75 147.68,375.12 149.71,373.69 151.73,371.86 153.76,369.92 155.78,368.19 157.81,366.88 159.84,365 161.86,363.57 163.89,361.63 165.91,360.41 167.94,358.46 169.96,356.86 171.99,355.7 174.02,354.2 176.04,352.57 178.07,350.85 180.09,349.6 182.12,348.39 184.14,346.7 186.17,345.26 188.19,343.56 190.22,341.67 192.25,340.65 194.27,338.95" fill="none" stroke="#bbb" stroke-width="2.6" stroke-linejoin="round" stroke-linecap="round"/>
<polyline points="54.5,448.2 56.53,446.57 58.55,444.89 60.58,443.43 62.6,441.63 64.63,439.84 66.65,438.31 68.68,436.45 70.71,434.71 72.73,432.99 74.76,431.36 76.78,429.55 78.81,428.2 80.83,426.65 82.86,425.21 84.89,423.38 86.91,421.75 88.94,420.25 90.96,418.92 92.99,417.4 95.01,415.78 97.04,414.27 99.06,412.18 101.09,410.2 103.12,409.58 105.14,408.65 107.17,407.1 109.19,405.64 111.22,403.95 113.24,402.26 115.27,399.87 117.3,398.66 119.32,397.19 121.35,394.83 123.37,392.98 125.4,391.13 127.42,389.7 129.45,388.69 131.48,387.01 133.5,385.36 135.53,384.19 137.55,382.83 139.58,381.24 141.6,379.97 143.63,378.39 145.66,376.75 147.68,375.12 149.71,373.69 151.73,371.86 153.76,369.92 155.78,368.19 157.81,366.88 159.84,365 161.86,363.57 163.89,361.63 165.91,360.41 167.94,358.46 169.96,356.86 171.99,355.7 174.02,354.2 176.04,352.57 178.07,350.85 180.09,349.6 182.12,348.39 184.14,346.7 186.17,345.26 188.19,343.56 190.22,341.67 192.25,340.65 194.27,338.95" fill="none" stroke="#222" stroke-width="1.3" stroke-linejoin="round" stroke-linecap="round"/>
<polyline points="54.5,448.2 56.43,447.14 58.36,446.09 60.29,445.21 62.23,444.04 64.16,442.87 66.09,441.85 68.02,440.67 69.95,439.54 71.88,438.56 73.82,437.33 75.75,436.3 77.68,435.27 79.61,434.32 81.54,433.18 83.47,432.12 85.41,430.95 87.34,429.97 89.27,428.88 91.2,427.94 93.13,426.73 95.06,425.63 97,424.5 98.93,423.36 100.86,422.44 102.79,421.24 104.72,419.84 106.65,419.02 108.59,418.22 110.52,417.38 112.45,416.17 114.38,415.08 116.31,413.83 118.24,412.64 120.18,411.53 122.11,410.41 124.04,409.36 125.97,408.15 127.9,407.25 129.83,406.24 131.77,405.13 133.7,403.76 135.63,402.81 137.56,401.9 139.49,400.92" fill="none" stroke="#222" stroke-width="1.1" stroke-linejoin="round" stroke-linecap="round"/>
<polyline points="54.5,448.2 56.59,447.3 58.68,446.38 60.77,445.51 62.85,444.64 64.94,443.77 67.03,443.19 69.12,442.3 71.21,441.46 73.3,439.9 75.39,438.88 77.48,437.96 79.56,437.02 81.65,436.16 83.74,435.36 85.83,434.44 87.92,433.37 90.01,432.43 92.1,431.28 94.18,430.33 96.27,429.35 98.36,428.09 100.45,427.02 102.54,426.12 104.63,425.17 106.72,424.09 108.81,422.77 110.89,421.83 112.98,420.89 115.07,419.74 117.16,418.91 119.25,417.97 121.34,416.84 123.43,415.75 125.51,414.75 127.6,413.65 129.69,413.16 131.78,412 133.87,411.19 135.96,410.49 138.05,409.46 140.13,408.36 142.22,407.45 144.31,406.65 146.4,405.67 148.49,404.69 150.58,403.46 152.67,402.35 154.76,401.33 156.84,400.16 158.93,399.21 161.02,398.39 163.11,397.3 165.2,396.22 167.29,395.27 169.38,394.43 171.46,393.4 173.55,392.85 175.64,391.75 177.73,390.68 179.82,389.98 181.91,388.99 184,388.17 186.09,387.06 188.17,386.43 190.26,385.6 192.35,384.5 194.44,383.31 196.53,382.7 198.62,381.81 200.71,380.77 202.79,379.89 204.88,378.63 206.97,377.85 209.06,376.81 211.15,376.01 213.24,374.78 215.33,373.8 217.42,372.88 219.5,372.2" fill="none" stroke="#222" stroke-width="1.1" stroke-linejoin="round" stroke-linecap="round"/>
<text x="243.5" y="283.5" font-size="32" text-anchor="start" fill="#000" font-weight="bold">d</text>
<line x1="288.4" y1="289" x2="288.4" y2="448.7" stroke="#1a1a1a" stroke-width="1.1"/>
<line x1="287.9" y1="448.2" x2="454.5" y2="448.2" stroke="#1a1a1a" stroke-width="1.1"/>
<text x="285.9" y="453.5" font-size="13.7" text-anchor="end" fill="#000" stroke="#000" stroke-width="0.15">0</text>
<line x1="288.4" y1="415.9" x2="291.4" y2="415.9" stroke="#1a1a1a" stroke-width="1"/>
<text x="285.9" y="421.2" font-size="13.7" text-anchor="end" fill="#000" stroke="#000" stroke-width="0.15">2</text>
<line x1="288.4" y1="383.6" x2="291.4" y2="383.6" stroke="#1a1a1a" stroke-width="1"/>
<text x="285.9" y="388.9" font-size="13.7" text-anchor="end" fill="#000" stroke="#000" stroke-width="0.15">4</text>
<line x1="288.4" y1="351.3" x2="291.4" y2="351.3" stroke="#1a1a1a" stroke-width="1"/>
<text x="285.9" y="356.6" font-size="13.7" text-anchor="end" fill="#000" stroke="#000" stroke-width="0.15">6</text>
<line x1="288.4" y1="319" x2="291.4" y2="319" stroke="#1a1a1a" stroke-width="1"/>
<text x="285.9" y="324.3" font-size="13.7" text-anchor="end" fill="#000" stroke="#000" stroke-width="0.15">8</text>
<text x="289" y="464.1" font-size="13.7" text-anchor="middle" fill="#000" stroke="#000" stroke-width="0.15">0</text>
<line x1="354.8" y1="448.2" x2="354.8" y2="444.7" stroke="#1a1a1a" stroke-width="1"/>
<text x="355.4" y="464.1" font-size="13.7" text-anchor="middle" fill="#000" stroke="#000" stroke-width="0.15">200</text>
<line x1="421.2" y1="448.2" x2="421.2" y2="444.7" stroke="#1a1a1a" stroke-width="1"/>
<text x="421.8" y="464.1" font-size="13.7" text-anchor="middle" fill="#000" stroke="#000" stroke-width="0.15">400</text>
<text x="370.35" y="481" font-size="13.7" text-anchor="middle" fill="#000" stroke="#000" stroke-width="0.15">number of cells</text>
<text x="266.3" y="376.2" font-size="13.7" text-anchor="middle" transform="rotate(-90 266.3 376.2)">σ<tspan dy="-6" font-size="10.5">2</tspan><tspan dy="6"> = noise [(event rate)</tspan><tspan dy="-6" font-size="10.5">2</tspan><tspan dy="6">]</tspan></text>
<polyline points="288.4,439.32 288.5,438.35 288.63,437.01 288.79,435.44 288.98,434.2 289.18,432.45 289.4,430.26 289.61,428.88 289.81,427.39 290.04,426.36 290.31,424.7 290.64,423.45 291.06,420.91 291.57,420.3 292.17,417.79 292.84,416.06 293.55,413.75 294.29,411.68 295.04,410.09 295.82,408.42 296.64,406.31 297.49,404.61 298.35,403.23 299.2,401.05 300.02,399.22 300.77,398.33 301.45,396.46 302.12,394.56 302.84,393.5 303.67,392.17 304.67,390.45 305.88,388.85 307.26,387.87 308.76,386.65 310.3,384.76 311.83,383.12 313.3,382.12 314.69,380.93 316.05,379.34 317.41,378.45 318.77,377.44 320.16,375.78 321.6,374.27 323.09,373.27 324.62,371.72 326.19,370.48 327.76,368.12 329.34,366.9 330.9,365.54 332.38,364.16 333.8,363.94 335.21,363.29 336.7,362.02 338.34,361.78 340.19,360.31 342.3,358.64 344.59,356.72 347.04,354.9 349.59,352.02 352.19,350.61 354.8,348.6 357.43,345.85 360.12,344.7 362.87,342.59 365.67,341.03 368.51,338.64 371.4,336.76 374.35,334.79 377.36,332.21 380.43,330.53 383.51,328.06 386.6,325.99 389.66,323.34 392.69,321.58 395.7,319.08 398.71,316.43 401.73,314.29 404.8,312.01 407.92,309.61 411.33,305.53 415.08,303.15 418.86,299.68 422.38,296.37 425.36,293.41 427.51,291.87" fill="none" stroke="#c8c8ff" stroke-width="3" stroke-linejoin="round" stroke-linecap="round"/>
<polyline points="288.4,439.32 288.54,438 288.71,436.17 288.93,434.01 289.21,432.05 289.58,429.61 290.06,427.46 290.63,425.71 291.26,422.59 291.98,420.67 292.81,418.37 293.78,416.9 294.91,415.6 296.17,413.86 297.53,412.92 299.03,411.1 300.7,410.89 302.57,409.51 304.67,409.25 307.06,407.56 309.72,406.09 312.58,404.17 315.57,402.81 318.6,401.22 321.6,399.31 324.61,397.7 327.69,396.27 330.81,394.53 333.96,392.99 337.09,391.58 340.19,389.97 343.27,389.08 346.36,386.88 349.45,386.38 352.5,384.57 355.51,383.34 358.45,381.84 361.34,381.11 364.18,380.01 366.98,379.13 369.73,377.86 372.42,377.02 375.05,376.48 377.56,374.79 379.93,373.21 382.25,372.48 384.59,370.79 387.04,369.69 389.66,368.31 392.49,366.49 395.48,364.41 398.56,363.38 401.7,362.11 404.83,360.23 407.92,359.04 410.87,357.88 413.71,356.11 416.55,355.53 419.5,354.42 422.68,352.88 426.18,351.38 430.39,349.48 435.3,347.69 440.44,344.65 445.31,342.39 449.46,340.73 452.41,339.19" fill="none" stroke="#c8c8ff" stroke-width="3" stroke-linejoin="round" stroke-linecap="round"/>
<polyline points="288.4,439.32 288.57,437.97 288.79,436.09 289.05,434.51 289.36,430.43 289.7,429.56 290.06,427.23 290.43,425.88 290.82,423.84 291.23,422.7 291.7,420.49 292.24,418.78 292.88,417.72 293.56,416.34 294.24,414.88 294.99,413.79 295.89,413.01 296.99,411.82 298.36,410.07 300.06,408.6 302.06,406.42 304.27,405.89 306.59,403.5 308.93,402.43 311.21,400.7 313.46,400.05 315.77,398.88 318.1,397.54 320.42,397.1 322.71,395.42 324.92,395.35 326.99,393.54 328.94,393.38 330.85,392.86 332.81,391.78 334.89,390.78 337.2,389.78 339.76,389.06 342.49,388.66 345.35,387.7 348.3,386.35 351.3,385.02 354.3,384.64 357.55,382.7 361.13,381.65 364.75,380.16 368.14,379.34 371,378.03 373.06,377.14" fill="none" stroke="#c8c8ff" stroke-width="3" stroke-linejoin="round" stroke-linecap="round"/>
<polyline points="288.4,439.32 288.51,438.12 288.66,436.42 288.84,434.49 289.03,432.65 289.22,430.05 289.4,429.16 289.53,427.66 289.62,426.66 289.71,425.93 289.83,425.13 290.02,424.38 290.29,423.33 290.66,421.59 291.1,419.57 291.6,416.89 292.15,414.68 292.75,413.2 293.38,411.25 294.06,409.93 294.79,408.32 295.56,406.58 296.37,405.86 297.2,404.63 298.03,403.51 298.85,402.36 299.65,401.69 300.48,400.91 301.36,400.43 302.3,399.62 303.34,399.26 304.29,398.15 305.1,397.81 305.98,397.26 307.15,396.44 308.82,395.85 311.21,395.75 314.4,395.11 318.23,394.41 322.56,393.97 327.26,393.24 332.19,392.94 337.2,392.36 342.18,392.19 347.18,392.09 352.42,391.62 358.07,391.66 364.34,391.07 371.4,390.97 380.13,390.44 390.56,390.33 401.59,389.98 412.15,389.57 421.15,389.25 427.51,389.09" fill="none" stroke="#ffcccc" stroke-width="2.4" stroke-linejoin="round" stroke-linecap="round"/>
<polyline points="288.4,439.32 288.51,438.12 288.66,436.42 288.84,434.49 289.03,432.65 289.22,430.05 289.4,429.16 289.53,427.66 289.62,426.66 289.71,425.93 289.83,425.13 290.02,424.38 290.29,423.33 290.66,421.59 291.1,419.57 291.6,416.89 292.15,414.68 292.75,413.2 293.38,411.25 294.06,409.93 294.79,408.32 295.56,406.58 296.37,405.86 297.2,404.63 298.03,403.51 298.85,402.36 299.65,401.69 300.48,400.91 301.36,400.43 302.3,399.62 303.34,399.26 304.29,398.15 305.1,397.81 305.98,397.26 307.15,396.44 308.82,395.85 311.21,395.75 314.4,395.11 318.23,394.41 322.56,393.97 327.26,393.24 332.19,392.94 337.2,392.36 342.18,392.19 347.18,392.09 352.42,391.62 358.07,391.66 364.34,391.07 371.4,390.97 380.13,390.44 390.56,390.33 401.59,389.98 412.15,389.57 421.15,389.25 427.51,389.09" fill="none" stroke="#ee2a2a" stroke-width="1.2" stroke-linejoin="round" stroke-linecap="round"/>
<polyline points="288.4,439.32 288.5,438.32 288.63,436.92 288.79,435 288.98,433.3 289.18,431.62 289.4,430.31 289.61,429.5 289.81,427.75 290.04,427.19 290.31,426.23 290.64,424.91 291.06,423.83 291.55,423.06 292.11,422.2 292.74,421.41 293.43,420.21 294.2,419.46 295.04,418.23 295.96,417.41 296.95,416.58 298.01,416.08 299.15,415.67 300.37,415.22 301.68,414.35 302.91,414.19 304.03,413.42 305.23,412.74 306.71,412.18 308.67,412.23 311.31,411.41 314.7,410.81 318.71,410.48 323.2,410.75 328.03,410 333.08,410.1 338.2,409.89 343.91,408.86 350.42,409.31 357.14,408.72 363.49,408.3 368.88,408.19 372.73,408.15" fill="none" stroke="#ffcccc" stroke-width="2.4" stroke-linejoin="round" stroke-linecap="round"/>
<polyline points="288.4,439.32 288.5,438.32 288.63,436.92 288.79,435 288.98,433.3 289.18,431.62 289.4,430.31 289.61,429.5 289.81,427.75 290.04,427.19 290.31,426.23 290.64,424.91 291.06,423.83 291.55,423.06 292.11,422.2 292.74,421.41 293.43,420.21 294.2,419.46 295.04,418.23 295.96,417.41 296.95,416.58 298.01,416.08 299.15,415.67 300.37,415.22 301.68,414.35 302.91,414.19 304.03,413.42 305.23,412.74 306.71,412.18 308.67,412.23 311.31,411.41 314.7,410.81 318.71,410.48 323.2,410.75 328.03,410 333.08,410.1 338.2,409.89 343.91,408.86 350.42,409.31 357.14,408.72 363.49,408.3 368.88,408.19 372.73,408.15" fill="none" stroke="#ee2a2a" stroke-width="1.2" stroke-linejoin="round" stroke-linecap="round"/>
<polyline points="288.4,439.32 288.5,438.31 288.63,436.89 288.79,435.34 288.98,433.53 289.18,431.82 289.4,429.97 289.61,429.38 289.81,427.86 290.04,427.54 290.31,426.61 290.64,425.81 291.06,424.95 291.55,423.97 292.11,422.95 292.74,422.16 293.43,421.72 294.2,420.54 295.04,419.89 295.96,419.13 296.95,418.54 298.01,418 299.15,417.57 300.37,416.95 301.68,416.48 302.91,416 304.03,415.77 305.23,415.15 306.71,415.13 308.67,415.11 311.31,414.45 314.53,414.4 318.14,414.82 322.24,413.94 326.9,413.7 332.19,413.84 338.2,414.16 345.01,414.08 352.56,413.3 360.76,413.53 369.47,413.29 378.59,413.03 388,412.6 398.63,413.02 410.77,412.43 423.32,412.44 435.17,412.18 445.23,412.36 452.41,411.86" fill="none" stroke="#ffcccc" stroke-width="2.4" stroke-linejoin="round" stroke-linecap="round"/>
<polyline points="288.4,439.32 288.5,438.31 288.63,436.89 288.79,435.34 288.98,433.53 289.18,431.82 289.4,429.97 289.61,429.38 289.81,427.86 290.04,427.54 290.31,426.61 290.64,425.81 291.06,424.95 291.55,423.97 292.11,422.95 292.74,422.16 293.43,421.72 294.2,420.54 295.04,419.89 295.96,419.13 296.95,418.54 298.01,418 299.15,417.57 300.37,416.95 301.68,416.48 302.91,416 304.03,415.77 305.23,415.15 306.71,415.13 308.67,415.11 311.31,414.45 314.53,414.4 318.14,414.82 322.24,413.94 326.9,413.7 332.19,413.84 338.2,414.16 345.01,414.08 352.56,413.3 360.76,413.53 369.47,413.29 378.59,413.03 388,412.6 398.63,413.02 410.77,412.43 423.32,412.44 435.17,412.18 445.23,412.36 452.41,411.86" fill="none" stroke="#ee2a2a" stroke-width="1.2" stroke-linejoin="round" stroke-linecap="round"/>
<polyline points="288.4,439.32 288.5,438.35 288.63,437.01 288.79,435.44 288.98,434.2 289.18,432.45 289.4,430.26 289.61,428.88 289.81,427.39 290.04,426.36 290.31,424.7 290.64,423.45 291.06,420.91 291.57,420.3 292.17,417.79 292.84,416.06 293.55,413.75 294.29,411.68 295.04,410.09 295.82,408.42 296.64,406.31 297.49,404.61 298.35,403.23 299.2,401.05 300.02,399.22 300.77,398.33 301.45,396.46 302.12,394.56 302.84,393.5 303.67,392.17 304.67,390.45 305.88,388.85 307.26,387.87 308.76,386.65 310.3,384.76 311.83,383.12 313.3,382.12 314.69,380.93 316.05,379.34 317.41,378.45 318.77,377.44 320.16,375.78 321.6,374.27 323.09,373.27 324.62,371.72 326.19,370.48 327.76,368.12 329.34,366.9 330.9,365.54 332.38,364.16 333.8,363.94 335.21,363.29 336.7,362.02 338.34,361.78 340.19,360.31 342.3,358.64 344.59,356.72 347.04,354.9 349.59,352.02 352.19,350.61 354.8,348.6 357.43,345.85 360.12,344.7 362.87,342.59 365.67,341.03 368.51,338.64 371.4,336.76 374.35,334.79 377.36,332.21 380.43,330.53 383.51,328.06 386.6,325.99 389.66,323.34 392.69,321.58 395.7,319.08 398.71,316.43 401.73,314.29 404.8,312.01 407.92,309.61 411.33,305.53 415.08,303.15 418.86,299.68 422.38,296.37 425.36,293.41 427.51,291.87" fill="none" stroke="#1f1ff5" stroke-width="1.25" stroke-linejoin="round" stroke-linecap="round"/>
<polyline points="288.4,439.32 288.54,438 288.71,436.17 288.93,434.01 289.21,432.05 289.58,429.61 290.06,427.46 290.63,425.71 291.26,422.59 291.98,420.67 292.81,418.37 293.78,416.9 294.91,415.6 296.17,413.86 297.53,412.92 299.03,411.1 300.7,410.89 302.57,409.51 304.67,409.25 307.06,407.56 309.72,406.09 312.58,404.17 315.57,402.81 318.6,401.22 321.6,399.31 324.61,397.7 327.69,396.27 330.81,394.53 333.96,392.99 337.09,391.58 340.19,389.97 343.27,389.08 346.36,386.88 349.45,386.38 352.5,384.57 355.51,383.34 358.45,381.84 361.34,381.11 364.18,380.01 366.98,379.13 369.73,377.86 372.42,377.02 375.05,376.48 377.56,374.79 379.93,373.21 382.25,372.48 384.59,370.79 387.04,369.69 389.66,368.31 392.49,366.49 395.48,364.41 398.56,363.38 401.7,362.11 404.83,360.23 407.92,359.04 410.87,357.88 413.71,356.11 416.55,355.53 419.5,354.42 422.68,352.88 426.18,351.38 430.39,349.48 435.3,347.69 440.44,344.65 445.31,342.39 449.46,340.73 452.41,339.19" fill="none" stroke="#1f1ff5" stroke-width="1.25" stroke-linejoin="round" stroke-linecap="round"/>
<polyline points="288.4,439.32 288.57,437.97 288.79,436.09 289.05,434.51 289.36,430.43 289.7,429.56 290.06,427.23 290.43,425.88 290.82,423.84 291.23,422.7 291.7,420.49 292.24,418.78 292.88,417.72 293.56,416.34 294.24,414.88 294.99,413.79 295.89,413.01 296.99,411.82 298.36,410.07 300.06,408.6 302.06,406.42 304.27,405.89 306.59,403.5 308.93,402.43 311.21,400.7 313.46,400.05 315.77,398.88 318.1,397.54 320.42,397.1 322.71,395.42 324.92,395.35 326.99,393.54 328.94,393.38 330.85,392.86 332.81,391.78 334.89,390.78 337.2,389.78 339.76,389.06 342.49,388.66 345.35,387.7 348.3,386.35 351.3,385.02 354.3,384.64 357.55,382.7 361.13,381.65 364.75,380.16 368.14,379.34 371,378.03 373.06,377.14" fill="none" stroke="#1f1ff5" stroke-width="1.25" stroke-linejoin="round" stroke-linecap="round"/>
<text x="306.2" y="332.6" font-size="13.7" text-anchor="start" fill="#1f1ff0" stroke="#1f1ff0" stroke-width="0.15">ensemble</text>
<text x="350.2" y="427" font-size="13.7" text-anchor="start" fill="#ee2020" stroke="#ee2020" stroke-width="0.15">ensemble (shuff.)</text>
<text x="477.3" y="284.5" font-size="32" text-anchor="start" fill="#000" font-weight="bold">e</text>
<line x1="513.3" y1="288.3" x2="513.3" y2="448.7" stroke="#1a1a1a" stroke-width="1.1"/>
<line x1="512.8" y1="448.2" x2="679" y2="448.2" stroke="#1a1a1a" stroke-width="1.1"/>
<text x="509.1" y="453.5" font-size="13.7" text-anchor="end" fill="#000" stroke="#000" stroke-width="0.15">0</text>
<line x1="513.3" y1="386.2" x2="516.3" y2="386.2" stroke="#1a1a1a" stroke-width="1"/>
<text x="509.1" y="391.5" font-size="13.7" text-anchor="end" fill="#000" stroke="#000" stroke-width="0.15">2</text>
<line x1="513.3" y1="324.2" x2="516.3" y2="324.2" stroke="#1a1a1a" stroke-width="1"/>
<text x="509.1" y="329.5" font-size="13.7" text-anchor="end" fill="#000" stroke="#000" stroke-width="0.15">4</text>
<text x="513.9" y="464.1" font-size="13.7" text-anchor="middle" fill="#000" stroke="#000" stroke-width="0.15">0</text>
<line x1="579.5" y1="448.2" x2="579.5" y2="444.7" stroke="#1a1a1a" stroke-width="1"/>
<text x="580.1" y="464.1" font-size="13.7" text-anchor="middle" fill="#000" stroke="#000" stroke-width="0.15">200</text>
<line x1="645.7" y1="448.2" x2="645.7" y2="444.7" stroke="#1a1a1a" stroke-width="1"/>
<text x="646.3" y="464.1" font-size="13.7" text-anchor="middle" fill="#000" stroke="#000" stroke-width="0.15">400</text>
<text x="596.2" y="481" font-size="13.7" text-anchor="middle" fill="#000" stroke="#000" stroke-width="0.15">number of cells</text>
<text x="493.3" y="365.7" font-size="13.7" text-anchor="middle" fill="#000" stroke="#000" stroke-width="0.15" transform="rotate(-90 493.3 365.7)">SNR</text>
<polyline points="513.3,448.2 514.2,447.12 515.43,445.62 516.9,443.64 518.49,442.06 520.08,440.33 521.57,437.79 522.91,437.1 524.17,435.35 525.44,434.14 526.81,432.34 528.36,431.12 530.18,428.2 532.34,427.47 534.77,424.92 537.38,421.63 540.09,419.78 542.79,417.15 545.41,413.54 547.86,412.17 550.2,409 552.54,406.53 554.99,403.7 557.65,401.09 560.63,398.64 564.02,395.94 567.74,392.39 571.68,390.29 575.7,386.96 579.67,384.15 583.47,381.69 587.17,379.25 590.88,376 594.54,372.18 598.1,368.91 601.49,365.66 604.66,363.02 607.42,360.45 609.78,357.17 611.98,354.71 614.24,351.64 616.8,349.14 619.88,343.97 623.5,340.15 627.48,337.1 631.76,333.3 636.26,328.39 640.93,324.32 645.7,318.96 651.02,313.9 657.03,308.58 663.2,303.66 669.02,298.23 673.95,292.99 677.48,290.1" fill="none" stroke="#ffb8b8" stroke-width="3.6" stroke-linejoin="round" stroke-linecap="round"/>
<polyline points="513.3,448.2 514.2,447.12 515.43,445.62 516.9,443.64 518.49,442.06 520.08,440.33 521.57,437.79 522.91,437.1 524.17,435.35 525.44,434.14 526.81,432.34 528.36,431.12 530.18,428.2 532.34,427.47 534.77,424.92 537.38,421.63 540.09,419.78 542.79,417.15 545.41,413.54 547.86,412.17 550.2,409 552.54,406.53 554.99,403.7 557.65,401.09 560.63,398.64 564.02,395.94 567.74,392.39 571.68,390.29 575.7,386.96 579.67,384.15 583.47,381.69 587.17,379.25 590.88,376 594.54,372.18 598.1,368.91 601.49,365.66 604.66,363.02 607.42,360.45 609.78,357.17 611.98,354.71 614.24,351.64 616.8,349.14 619.88,343.97 623.5,340.15 627.48,337.1 631.76,333.3 636.26,328.39 640.93,324.32 645.7,318.96 651.02,313.9 657.03,308.58 663.2,303.66 669.02,298.23 673.95,292.99 677.48,290.1" fill="none" stroke="#f02828" stroke-width="1.2" stroke-linejoin="round" stroke-linecap="round"/>
<polyline points="513.3,448.2 514.2,447.08 515.43,445.54 516.9,444.16 518.49,442.11 520.08,439.76 521.57,438.3 522.91,436.04 524.17,433.93 525.44,434.18 526.81,432 528.36,428.99 530.18,427.52 532.34,425.49 534.77,423.5 537.38,421.37 540.09,418.15 542.79,415.04 545.41,412.78 547.86,409.79 550.2,407.34 552.54,404.23 554.99,401.23 557.65,399.67 560.63,395.96 564.02,393.18 567.74,389.75 571.68,386.63 575.7,383.49 579.67,380.66 583.47,377.51 587.17,373.51 590.88,369.06 594.54,366.73 598.1,361.81 601.49,358.12 604.66,354 607.33,351.37 609.5,349.55 611.5,346.33 613.68,344.65 616.36,342.64 619.88,340.29 624.79,334.68 630.92,328.25 637.55,322.02 643.97,317.19 649.47,311.23 653.31,308.08" fill="none" stroke="#ffb8b8" stroke-width="3.6" stroke-linejoin="round" stroke-linecap="round"/>
<polyline points="513.3,448.2 514.2,447.08 515.43,445.54 516.9,444.16 518.49,442.11 520.08,439.76 521.57,438.3 522.91,436.04 524.17,433.93 525.44,434.18 526.81,432 528.36,428.99 530.18,427.52 532.34,425.49 534.77,423.5 537.38,421.37 540.09,418.15 542.79,415.04 545.41,412.78 547.86,409.79 550.2,407.34 552.54,404.23 554.99,401.23 557.65,399.67 560.63,395.96 564.02,393.18 567.74,389.75 571.68,386.63 575.7,383.49 579.67,380.66 583.47,377.51 587.17,373.51 590.88,369.06 594.54,366.73 598.1,361.81 601.49,358.12 604.66,354 607.33,351.37 609.5,349.55 611.5,346.33 613.68,344.65 616.36,342.64 619.88,340.29 624.79,334.68 630.92,328.25 637.55,322.02 643.97,317.19 649.47,311.23 653.31,308.08" fill="none" stroke="#f02828" stroke-width="1.2" stroke-linejoin="round" stroke-linecap="round"/>
<polyline points="513.3,448.2 514.2,447.05 515.43,445.44 516.9,443.75 518.49,441.24 520.08,439.8 521.57,437.68 522.91,435.26 524.17,435.05 525.44,433.02 526.81,431.82 528.36,430.68 530.18,427.87 532.34,424.85 534.77,422.44 537.38,420.5 540.09,416.37 542.79,414.31 545.41,411.5 547.86,407.91 550.2,405.73 552.54,403.06 554.99,399.5 557.65,396.7 560.63,394.22 564.09,390.21 567.98,387.22 572.07,384.89 576.17,381.24 580.04,377.34 583.47,375.05 586.59,372.98 589.58,368.11 592.35,366.21 594.8,363.38 596.84,360.55 598.37,358.92" fill="none" stroke="#ffb8b8" stroke-width="3.6" stroke-linejoin="round" stroke-linecap="round"/>
<polyline points="513.3,448.2 514.2,447.05 515.43,445.44 516.9,443.75 518.49,441.24 520.08,439.8 521.57,437.68 522.91,435.26 524.17,435.05 525.44,433.02 526.81,431.82 528.36,430.68 530.18,427.87 532.34,424.85 534.77,422.44 537.38,420.5 540.09,416.37 542.79,414.31 545.41,411.5 547.86,407.91 550.2,405.73 552.54,403.06 554.99,399.5 557.65,396.7 560.63,394.22 564.09,390.21 567.98,387.22 572.07,384.89 576.17,381.24 580.04,377.34 583.47,375.05 586.59,372.98 589.58,368.11 592.35,366.21 594.8,363.38 596.84,360.55 598.37,358.92" fill="none" stroke="#f02828" stroke-width="1.2" stroke-linejoin="round" stroke-linecap="round"/>
<polyline points="513.3,448.2 514.2,447.13 515.43,445.64 516.9,443.39 518.49,442.12 520.08,440.19 521.57,438.79 522.91,436.71 524.17,436.46 525.44,434.89 526.81,433.18 528.36,431.8 530.18,430.32 532.34,428.74 534.77,427.42 537.38,425.11 540.09,422.39 542.79,420.44 545.41,419.83 547.86,418.22 550.2,416.61 552.54,416.15 554.99,415.43 557.65,415.09 560.63,414.76 563.93,413.7 567.45,413.46 571.18,413.07 575.11,412.66 579.21,411.5 583.47,410.91 587.92,410.84 592.57,408.86 597.39,407.74 602.36,406.66 607.44,405.05 612.6,404.02 617.9,403.82 623.38,402.67 628.96,400.74 634.59,400.28 640.19,398.87 645.7,397.99 651.48,397.87 657.67,397.79 663.82,396.51 669.52,396.58 674.33,395.11 677.81,395.19" fill="none" stroke="#b8b8ff" stroke-width="3.4" stroke-linejoin="round" stroke-linecap="round"/>
<polyline points="513.3,448.2 514.2,447.13 515.43,445.64 516.9,443.39 518.49,442.12 520.08,440.19 521.57,438.79 522.91,436.71 524.17,436.46 525.44,434.89 526.81,433.18 528.36,431.8 530.18,430.32 532.34,428.74 534.77,427.42 537.38,425.11 540.09,422.39 542.79,420.44 545.41,419.83 547.86,418.22 550.2,416.61 552.54,416.15 554.99,415.43 557.65,415.09 560.63,414.76 563.93,413.7 567.45,413.46 571.18,413.07 575.11,412.66 579.21,411.5 583.47,410.91 587.92,410.84 592.57,408.86 597.39,407.74 602.36,406.66 607.44,405.05 612.6,404.02 617.9,403.82 623.38,402.67 628.96,400.74 634.59,400.28 640.19,398.87 645.7,397.99 651.48,397.87 657.67,397.79 663.82,396.51 669.52,396.58 674.33,395.11 677.81,395.19" fill="none" stroke="#1f1ff5" stroke-width="1.2" stroke-linejoin="round" stroke-linecap="round"/>
<polyline points="513.3,448.2 514.2,447.1 515.43,445.56 516.9,443.87 518.49,441.4 520.08,440.24 521.57,438.66 522.91,436.1 524.17,435.08 525.44,434.44 526.81,433.01 528.36,431.77 530.18,429.88 532.34,428.71 534.77,426.56 537.38,424.05 540.09,422.28 542.79,420 545.41,417.79 547.86,416.96 550.2,415.37 552.54,415.23 554.99,414.08 557.65,413.28 560.63,412.28 563.93,412.23 567.45,410.93 571.18,410.09 575.11,409.39 579.21,408.97 583.47,408.05 587.83,407.12 592.29,406.12 596.92,405.75 601.8,403.66 607,402.55 612.6,401.37 619.19,400.84 626.82,399.86 634.78,398.17 642.33,396.77 648.75,395.84 653.31,395.5" fill="none" stroke="#b8b8ff" stroke-width="3.4" stroke-linejoin="round" stroke-linecap="round"/>
<polyline points="513.3,448.2 514.2,447.1 515.43,445.56 516.9,443.87 518.49,441.4 520.08,440.24 521.57,438.66 522.91,436.1 524.17,435.08 525.44,434.44 526.81,433.01 528.36,431.77 530.18,429.88 532.34,428.71 534.77,426.56 537.38,424.05 540.09,422.28 542.79,420 545.41,417.79 547.86,416.96 550.2,415.37 552.54,415.23 554.99,414.08 557.65,413.28 560.63,412.28 563.93,412.23 567.45,410.93 571.18,410.09 575.11,409.39 579.21,408.97 583.47,408.05 587.83,407.12 592.29,406.12 596.92,405.75 601.8,403.66 607,402.55 612.6,401.37 619.19,400.84 626.82,399.86 634.78,398.17 642.33,396.77 648.75,395.84 653.31,395.5" fill="none" stroke="#1f1ff5" stroke-width="1.2" stroke-linejoin="round" stroke-linecap="round"/>
<polyline points="513.3,448.2 514.2,447.07 515.43,445.48 516.9,443.71 518.49,441.89 520.08,439.45 521.57,437.61 522.91,435.72 524.17,435.59 525.44,433.95 526.81,432.72 528.36,430.91 530.18,430.09 532.34,428.04 534.77,425.42 537.38,422.93 540.09,420.71 542.79,418.4 545.41,416.9 547.86,415.15 550.2,414.37 552.54,412.89 554.99,411.89 557.65,411.68 560.63,409.78 564.09,408.44 567.98,408.28 572.07,406.39 576.17,406.43 580.04,405.82 583.47,404.52 586.59,403.46 589.58,401.51 592.35,401.42 594.8,400.3 596.84,398.78 598.37,398.6" fill="none" stroke="#b8b8ff" stroke-width="3.4" stroke-linejoin="round" stroke-linecap="round"/>
<polyline points="513.3,448.2 514.2,447.07 515.43,445.48 516.9,443.71 518.49,441.89 520.08,439.45 521.57,437.61 522.91,435.72 524.17,435.59 525.44,433.95 526.81,432.72 528.36,430.91 530.18,430.09 532.34,428.04 534.77,425.42 537.38,422.93 540.09,420.71 542.79,418.4 545.41,416.9 547.86,415.15 550.2,414.37 552.54,412.89 554.99,411.89 557.65,411.68 560.63,409.78 564.09,408.44 567.98,408.28 572.07,406.39 576.17,406.43 580.04,405.82 583.47,404.52 586.59,403.46 589.58,401.51 592.35,401.42 594.8,400.3 596.84,398.78 598.37,398.6" fill="none" stroke="#1f1ff5" stroke-width="1.2" stroke-linejoin="round" stroke-linecap="round"/>
<text x="531.6" y="315" font-size="13.7" text-anchor="start" fill="#ee2020" stroke="#ee2020" stroke-width="0.15">ensemble (shuff.)</text>
<text x="607.9" y="419.6" font-size="13.7" text-anchor="start" fill="#1f1ff0" stroke="#1f1ff0" stroke-width="0.15">ensemble</text>
<text x="11" y="517.2" font-size="33" text-anchor="start" fill="#000" font-weight="bold">f</text>
<polygon points="67.01,548.8 75.35,568.7 83.69,587.5 92.03,602.9 100.37,610.7 108.71,616.2 117.05,617.7 125.39,619.5 133.73,620.6 142.07,620.1 150.41,621.7 158.75,622.4 167.09,621.7 175.43,617.3 183.77,612.9 192.11,607.3 200.45,594.1 208.79,568.7 217.13,538.4 217.13,605.1 208.79,625 200.45,644.9 192.11,674.7 183.77,682.5 175.43,676.3 167.09,682.5 158.75,685.3 150.41,681.3 142.07,675.8 133.73,682.5 125.39,685.3 117.05,682.5 108.71,677 100.37,673.2 92.03,674.8 83.69,650.4 75.35,635 67.01,621.7" fill="#eef7e9"/>
<polyline points="67.01,548.8 75.35,568.7 83.69,587.5 92.03,602.9 100.37,610.7 108.71,616.2 117.05,617.7 125.39,619.5 133.73,620.6 142.07,620.1 150.41,621.7 158.75,622.4 167.09,621.7 175.43,617.3 183.77,612.9 192.11,607.3 200.45,594.1 208.79,568.7 217.13,538.4" fill="none" stroke="#9fd68a" stroke-width="0.9" stroke-linejoin="round" stroke-linecap="round"/>
<polyline points="67.01,621.7 75.35,635 83.69,650.4 92.03,674.8 100.37,673.2 108.71,677 117.05,682.5 125.39,685.3 133.73,682.5 142.07,675.8 150.41,681.3 158.75,685.3 167.09,682.5 175.43,676.3 183.77,682.5 192.11,674.7 200.45,644.9 208.79,625 217.13,605.1" fill="none" stroke="#9fd68a" stroke-width="0.9" stroke-linejoin="round" stroke-linecap="round"/>
<polyline points="67.01,576.4 75.35,594.1 83.69,611.8 92.03,629.4 100.37,637.2 108.71,642.7 117.05,645.4 125.39,647.1 133.73,648.2 142.07,647.5 150.41,648.9 158.75,647.8 167.09,647.8 175.43,642.7 183.77,639.4 192.11,632.7 200.45,618.4 208.79,594.1 217.13,563.1" fill="none" stroke="#117a38" stroke-width="2.6" stroke-linejoin="round" stroke-linecap="round"/>
<line x1="54.5" y1="526" x2="54.5" y2="686.1" stroke="#1a1a1a" stroke-width="1.1"/>
<line x1="54" y1="685.6" x2="221.3" y2="685.6" stroke="#1a1a1a" stroke-width="1.1"/>
<line x1="54.5" y1="526.4" x2="58" y2="526.4" stroke="#1a1a1a" stroke-width="1"/>
<line x1="54.5" y1="596.6" x2="58" y2="596.6" stroke="#1a1a1a" stroke-width="1"/>
<line x1="54.5" y1="666.8" x2="58" y2="666.8" stroke="#1a1a1a" stroke-width="1"/>
<line x1="54.5" y1="682.37" x2="56.5" y2="682.37" stroke="#1a1a1a" stroke-width="0.9"/>
<line x1="54.5" y1="677.67" x2="56.5" y2="677.67" stroke="#1a1a1a" stroke-width="0.9"/>
<line x1="54.5" y1="673.6" x2="56.5" y2="673.6" stroke="#1a1a1a" stroke-width="0.9"/>
<line x1="54.5" y1="670.01" x2="56.5" y2="670.01" stroke="#1a1a1a" stroke-width="0.9"/>
<line x1="54.5" y1="645.67" x2="56.5" y2="645.67" stroke="#1a1a1a" stroke-width="0.9"/>
<line x1="54.5" y1="633.31" x2="56.5" y2="633.31" stroke="#1a1a1a" stroke-width="0.9"/>
<line x1="54.5" y1="624.54" x2="56.5" y2="624.54" stroke="#1a1a1a" stroke-width="0.9"/>
<line x1="54.5" y1="617.73" x2="56.5" y2="617.73" stroke="#1a1a1a" stroke-width="0.9"/>
<line x1="54.5" y1="612.17" x2="56.5" y2="612.17" stroke="#1a1a1a" stroke-width="0.9"/>
<line x1="54.5" y1="607.47" x2="56.5" y2="607.47" stroke="#1a1a1a" stroke-width="0.9"/>
<line x1="54.5" y1="603.4" x2="56.5" y2="603.4" stroke="#1a1a1a" stroke-width="0.9"/>
<line x1="54.5" y1="599.81" x2="56.5" y2="599.81" stroke="#1a1a1a" stroke-width="0.9"/>
<line x1="54.5" y1="575.47" x2="56.5" y2="575.47" stroke="#1a1a1a" stroke-width="0.9"/>
<line x1="54.5" y1="563.11" x2="56.5" y2="563.11" stroke="#1a1a1a" stroke-width="0.9"/>
<line x1="54.5" y1="554.34" x2="56.5" y2="554.34" stroke="#1a1a1a" stroke-width="0.9"/>
<line x1="54.5" y1="547.53" x2="56.5" y2="547.53" stroke="#1a1a1a" stroke-width="0.9"/>
<line x1="54.5" y1="541.97" x2="56.5" y2="541.97" stroke="#1a1a1a" stroke-width="0.9"/>
<line x1="54.5" y1="537.27" x2="56.5" y2="537.27" stroke="#1a1a1a" stroke-width="0.9"/>
<line x1="54.5" y1="533.2" x2="56.5" y2="533.2" stroke="#1a1a1a" stroke-width="0.9"/>
<line x1="54.5" y1="529.61" x2="56.5" y2="529.61" stroke="#1a1a1a" stroke-width="0.9"/>
<text x="52.4" y="532" font-size="13.7" text-anchor="end">10<tspan dy="-5.6" font-size="8">0</tspan></text>
<text x="52.4" y="602.2" font-size="13.7" text-anchor="end">10<tspan dy="-5.6" font-size="8">-1</tspan></text>
<text x="52.4" y="672.4" font-size="13.7" text-anchor="end">10<tspan dy="-5.6" font-size="8">-2</tspan></text>
<text x="54.5" y="702.2" font-size="13.7" text-anchor="middle" fill="#000" stroke="#000" stroke-width="0.15">0</text>
<line x1="96.2" y1="685.6" x2="96.2" y2="682.1" stroke="#1a1a1a" stroke-width="1"/>
<text x="96.2" y="702.2" font-size="13.7" text-anchor="middle" fill="#000" stroke="#000" stroke-width="0.15">5</text>
<line x1="137.9" y1="685.6" x2="137.9" y2="682.1" stroke="#1a1a1a" stroke-width="1"/>
<text x="139.7" y="702.2" font-size="13.7" text-anchor="middle" fill="#000" stroke="#000" stroke-width="0.15">10</text>
<line x1="179.6" y1="685.6" x2="179.6" y2="682.1" stroke="#1a1a1a" stroke-width="1"/>
<text x="181.4" y="702.2" font-size="13.7" text-anchor="middle" fill="#000" stroke="#000" stroke-width="0.15">15</text>
<line x1="221.3" y1="685.6" x2="221.3" y2="682.1" stroke="#1a1a1a" stroke-width="1"/>
<text x="223.1" y="702.2" font-size="13.7" text-anchor="middle" fill="#000" stroke="#000" stroke-width="0.15">20</text>
<text x="139" y="720.4" font-size="13.7" text-anchor="middle" fill="#000" stroke="#000" stroke-width="0.15">spatial bin</text>
<line x1="64.9" y1="520.8" x2="218.2" y2="520.8" stroke="#8a8a8a" stroke-width="1.8"/>
<line x1="65.9" y1="520.8" x2="65.9" y2="546.8" stroke="#3a3a3a" stroke-width="1.2"/>
<line x1="217.6" y1="520.8" x2="217.6" y2="536" stroke="#3a3a3a" stroke-width="1.2"/>
<polygon points="134.75,511.1 135.43,512.87 137.32,512.97 135.84,514.16 136.34,515.98 134.75,514.95 133.16,515.98 133.66,514.16 132.18,512.97 134.07,512.87" fill="#111" stroke="#111" stroke-width="0.3" stroke-linejoin="round"/>
<polygon points="141.15,511.1 141.83,512.87 143.72,512.97 142.24,514.16 142.74,515.98 141.15,514.95 139.56,515.98 140.06,514.16 138.58,512.97 140.47,512.87" fill="#111" stroke="#111" stroke-width="0.3" stroke-linejoin="round"/>
<polygon points="147.55,511.1 148.23,512.87 150.12,512.97 148.64,514.16 149.14,515.98 147.55,514.95 145.96,515.98 146.46,514.16 144.98,512.97 146.87,512.87" fill="#111" stroke="#111" stroke-width="0.3" stroke-linejoin="round"/>
<text x="10.3" y="603.7" font-size="13.7" fill="#1f1ff0" text-anchor="middle" transform="rotate(-90 10.3 603.7)">ensemble signal slope</text>
<text x="28.4" y="601.5" font-size="13.7" fill="#1f1ff0" text-anchor="middle" transform="rotate(-90 28.4 601.5)">[events<tspan dy="-5.5" font-size="10">2</tspan><tspan dy="5.5">/neuron]</tspan></text>
<g transform="translate(107.5,541.5) scale(0.65)"><path d="M-30.8,-1.6 C-38,-2.3 -46,-2.6 -55.5,-2.4" stroke="#d8c4b8" stroke-width="1.4" fill="none"/><path d="M-32.1,3.8 C-32,1 -31.5,-1 -31,-2 C-30,-4.5 -29,-6 -27.4,-6.7 C-24,-7.8 -21,-7.6 -18.8,-7.5 C-14,-7.6 -10,-7.8 -7.6,-7.6 C-6,-7.2 -5.2,-6.3 -4.8,-5.3 C-3,-3.5 -1,-1.5 0,0 C-0.8,1.2 -2,1.7 -2.8,1.7 L-6.8,3.7 C-10,3.5 -12,3.4 -14.8,3.4 L-22.8,3.7 C-25,3.2 -27,2.6 -28.8,2.2 L-30.5,3.8 Z" fill="#433d39"/><path d="M-28,-3.5 C-24,-5.5 -18,-5.8 -12,-4.8 M-27,0 C-22,-1.5 -17,-1.5 -12,-0.5" stroke="#6a615a" stroke-width="1.1" fill="none" opacity="0.8"/><ellipse cx="-8.8" cy="-4.4" rx="1.7" ry="2.3" fill="#c4ab9c"/><path d="M-32.1,3.8 L-33,5 M-4,2.5 L-2.5,3.4" stroke="#c8b0a0" stroke-width="0.9"/></g>
<polygon points="75,551.6 116.3,551.6 116.3,545.6 134.2,555.6 116.3,565.7 116.3,559.6 75,559.6" fill="#222"/>
<text x="247.2" y="514.6" font-size="32" text-anchor="start" fill="#000" font-weight="bold">g</text>
<polygon points="304.23,526.8 312.51,535.1 320.8,535.1 329.08,535.9 337.37,529 345.65,534 353.94,543.3 362.22,546.1 370.51,541.4 378.79,543.3 387.08,537.3 395.36,541.4 403.65,545.6 411.93,538.7 420.22,534.5 428.5,545.6 436.79,541.4 445.07,550.5 453.36,553.3 453.36,676.1 445.07,677.2 436.79,645 428.5,678.1 420.22,660.1 411.93,660.1 403.65,683.6 395.36,669 387.08,673.4 378.79,669.8 370.51,653.8 362.22,685.2 353.94,680.8 345.65,664.3 337.37,649.6 329.08,660.1 320.8,650.5 312.51,652.4 304.23,656.5" fill="#eef7e9"/>
<polyline points="304.23,526.8 312.51,535.1 320.8,535.1 329.08,535.9 337.37,529 345.65,534 353.94,543.3 362.22,546.1 370.51,541.4 378.79,543.3 387.08,537.3 395.36,541.4 403.65,545.6 411.93,538.7 420.22,534.5 428.5,545.6 436.79,541.4 445.07,550.5 453.36,553.3" fill="none" stroke="#9fd68a" stroke-width="0.9" stroke-linejoin="round" stroke-linecap="round"/>
<polyline points="304.23,656.5 312.51,652.4 320.8,650.5 329.08,660.1 337.37,649.6 345.65,664.3 353.94,680.8 362.22,685.2 370.51,653.8 378.79,669.8 387.08,673.4 395.36,669 403.65,683.6 411.93,660.1 420.22,660.1 428.5,678.1 436.79,645 445.07,677.2 453.36,676.1" fill="none" stroke="#9fd68a" stroke-width="0.9" stroke-linejoin="round" stroke-linecap="round"/>
<polyline points="304.23,587.8 312.51,594.4 320.8,596.6 329.08,601 337.37,593 345.65,600.8 353.94,608.5 362.22,612.1 370.51,604.1 378.79,604.1 387.08,609.3 395.36,611 403.65,606.8 411.93,601 420.22,600.2 428.5,607.7 436.79,605.2 445.07,616 453.36,614.6" fill="none" stroke="#117a38" stroke-width="2.6" stroke-linejoin="round" stroke-linecap="round"/>
<line x1="291.8" y1="526.2" x2="291.8" y2="686" stroke="#1a1a1a" stroke-width="1.1"/>
<line x1="291.3" y1="685.5" x2="457.5" y2="685.5" stroke="#1a1a1a" stroke-width="1.1"/>
<line x1="291.8" y1="531.63" x2="295.3" y2="531.63" stroke="#1a1a1a" stroke-width="1"/>
<line x1="291.8" y1="577.56" x2="295.3" y2="577.56" stroke="#1a1a1a" stroke-width="1"/>
<line x1="291.8" y1="623.5" x2="295.3" y2="623.5" stroke="#1a1a1a" stroke-width="1"/>
<line x1="291.8" y1="669.44" x2="295.3" y2="669.44" stroke="#1a1a1a" stroke-width="1"/>
<line x1="291.8" y1="550.69" x2="293.8" y2="550.69" stroke="#1a1a1a" stroke-width="0.9"/>
<line x1="291.8" y1="630.48" x2="293.8" y2="630.48" stroke="#1a1a1a" stroke-width="0.9"/>
<line x1="291.8" y1="638.29" x2="293.8" y2="638.29" stroke="#1a1a1a" stroke-width="0.9"/>
<line x1="291.8" y1="647.14" x2="293.8" y2="647.14" stroke="#1a1a1a" stroke-width="0.9"/>
<line x1="291.8" y1="657.35" x2="293.8" y2="657.35" stroke="#1a1a1a" stroke-width="0.9"/>
<line x1="291.8" y1="684.23" x2="293.8" y2="684.23" stroke="#1a1a1a" stroke-width="0.9"/>
<text x="288.3" y="536.23" font-size="13.7" text-anchor="end" fill="#000" stroke="#000" stroke-width="0.15">0.04</text>
<text x="288.3" y="582.16" font-size="13.7" text-anchor="end" fill="#000" stroke="#000" stroke-width="0.15">0.02</text>
<text x="288.3" y="628.1" font-size="13.7" text-anchor="end" fill="#000" stroke="#000" stroke-width="0.15">0.01</text>
<text x="288.3" y="674.04" font-size="13.7" text-anchor="end" fill="#000" stroke="#000" stroke-width="0.15">0.005</text>
<text x="291.8" y="702.2" font-size="13.7" text-anchor="middle" fill="#000" stroke="#000" stroke-width="0.15">0</text>
<line x1="333.23" y1="685.5" x2="333.23" y2="682" stroke="#1a1a1a" stroke-width="1"/>
<text x="333.23" y="702.2" font-size="13.7" text-anchor="middle" fill="#000" stroke="#000" stroke-width="0.15">5</text>
<line x1="374.65" y1="685.5" x2="374.65" y2="682" stroke="#1a1a1a" stroke-width="1"/>
<text x="376.45" y="702.2" font-size="13.7" text-anchor="middle" fill="#000" stroke="#000" stroke-width="0.15">10</text>
<line x1="416.08" y1="685.5" x2="416.08" y2="682" stroke="#1a1a1a" stroke-width="1"/>
<text x="417.88" y="702.2" font-size="13.7" text-anchor="middle" fill="#000" stroke="#000" stroke-width="0.15">15</text>
<line x1="457.5" y1="685.5" x2="457.5" y2="682" stroke="#1a1a1a" stroke-width="1"/>
<text x="459.3" y="702.2" font-size="13.7" text-anchor="middle" fill="#000" stroke="#000" stroke-width="0.15">20</text>
<text x="376" y="720.4" font-size="13.7" text-anchor="middle" fill="#000" stroke="#000" stroke-width="0.15">spatial bin</text>
<line x1="303.4" y1="520.8" x2="456.8" y2="520.8" stroke="#8a8a8a" stroke-width="1.8"/>
<line x1="304.4" y1="520.8" x2="304.4" y2="525.4" stroke="#3a3a3a" stroke-width="1.2"/>
<line x1="456.2" y1="520.8" x2="456.2" y2="551" stroke="#3a3a3a" stroke-width="1.2"/>
<polygon points="373.3,511.1 373.98,512.87 375.87,512.97 374.39,514.16 374.89,515.98 373.3,514.95 371.71,515.98 372.21,514.16 370.73,512.97 372.62,512.87" fill="#111" stroke="#111" stroke-width="0.3" stroke-linejoin="round"/>
<polygon points="379.7,511.1 380.38,512.87 382.27,512.97 380.79,514.16 381.29,515.98 379.7,514.95 378.11,515.98 378.61,514.16 377.13,512.97 379.02,512.87" fill="#111" stroke="#111" stroke-width="0.3" stroke-linejoin="round"/>
<polygon points="386.1,511.1 386.78,512.87 388.67,512.97 387.19,514.16 387.69,515.98 386.1,514.95 384.51,515.98 385.01,514.16 383.53,512.97 385.42,512.87" fill="#111" stroke="#111" stroke-width="0.3" stroke-linejoin="round"/>
<text x="241.3" y="603.8" font-size="13.7" fill="#1f1ff0" text-anchor="middle" transform="rotate(-90 241.3 603.8)">ensembre noise slope</text>
<text x="258.9" y="600.7" font-size="13.7" fill="#1f1ff0" text-anchor="middle" transform="rotate(-90 258.9 600.7)">[events<tspan dy="-5.5" font-size="10">2</tspan><tspan dy="5.5">/neuron]</tspan></text>
<text x="466.8" y="517.8" font-size="32" text-anchor="start" fill="#000" font-weight="bold">h</text>
<polygon points="523.58,564.9 531.83,580.1 540.08,596.6 548.33,607.7 556.58,619.3 564.83,623.4 573.08,622.3 581.33,622.9 589.58,623.7 597.83,625.1 606.08,624.8 614.33,626.4 622.58,626.4 630.83,625.1 639.08,619.3 647.33,612.6 655.58,598 663.83,571.8 672.08,540 672.08,593.9 663.83,624.2 655.58,649.1 647.33,667.9 639.08,673.9 630.83,676.1 622.58,682.2 614.33,685 606.08,678.9 597.83,674.5 589.58,685.2 581.33,679.5 573.08,676.1 564.83,678.1 556.58,673.4 548.33,668.4 540.08,667.9 531.83,639.4 523.58,627" fill="#eef7e9"/>
<polyline points="523.58,564.9 531.83,580.1 540.08,596.6 548.33,607.7 556.58,619.3 564.83,623.4 573.08,622.3 581.33,622.9 589.58,623.7 597.83,625.1 606.08,624.8 614.33,626.4 622.58,626.4 630.83,625.1 639.08,619.3 647.33,612.6 655.58,598 663.83,571.8 672.08,540" fill="none" stroke="#9fd68a" stroke-width="0.9" stroke-linejoin="round" stroke-linecap="round"/>
<polyline points="523.58,627 531.83,639.4 540.08,667.9 548.33,668.4 556.58,673.4 564.83,678.1 573.08,676.1 581.33,679.5 589.58,685.2 597.83,674.5 606.08,678.9 614.33,685 622.58,682.2 630.83,676.1 639.08,673.9 647.33,667.9 655.58,649.1 663.83,624.2 672.08,593.9" fill="none" stroke="#9fd68a" stroke-width="0.9" stroke-linejoin="round" stroke-linecap="round"/>
<polyline points="523.58,591.7 531.83,610.4 540.08,628.4 548.33,639.4 556.58,650.5 564.83,656 573.08,653.8 581.33,654.6 589.58,657.9 597.83,655.4 606.08,655.2 614.33,659.3 622.58,656.3 630.83,653.2 639.08,648.5 647.33,640.8 655.58,627 663.83,599.4 672.08,567.6" fill="none" stroke="#117a38" stroke-width="2.6" stroke-linejoin="round" stroke-linecap="round"/>
<line x1="511.2" y1="526" x2="511.2" y2="686" stroke="#1a1a1a" stroke-width="1.1"/>
<line x1="510.7" y1="685.5" x2="676.2" y2="685.5" stroke="#1a1a1a" stroke-width="1.1"/>
<line x1="511.2" y1="526.2" x2="514.7" y2="526.2" stroke="#1a1a1a" stroke-width="1"/>
<line x1="511.2" y1="596.2" x2="514.7" y2="596.2" stroke="#1a1a1a" stroke-width="1"/>
<line x1="511.2" y1="666.2" x2="514.7" y2="666.2" stroke="#1a1a1a" stroke-width="1"/>
<line x1="511.2" y1="681.73" x2="513.2" y2="681.73" stroke="#1a1a1a" stroke-width="0.9"/>
<line x1="511.2" y1="677.04" x2="513.2" y2="677.04" stroke="#1a1a1a" stroke-width="0.9"/>
<line x1="511.2" y1="672.98" x2="513.2" y2="672.98" stroke="#1a1a1a" stroke-width="0.9"/>
<line x1="511.2" y1="669.4" x2="513.2" y2="669.4" stroke="#1a1a1a" stroke-width="0.9"/>
<line x1="511.2" y1="645.13" x2="513.2" y2="645.13" stroke="#1a1a1a" stroke-width="0.9"/>
<line x1="511.2" y1="632.8" x2="513.2" y2="632.8" stroke="#1a1a1a" stroke-width="0.9"/>
<line x1="511.2" y1="624.06" x2="513.2" y2="624.06" stroke="#1a1a1a" stroke-width="0.9"/>
<line x1="511.2" y1="617.27" x2="513.2" y2="617.27" stroke="#1a1a1a" stroke-width="0.9"/>
<line x1="511.2" y1="611.73" x2="513.2" y2="611.73" stroke="#1a1a1a" stroke-width="0.9"/>
<line x1="511.2" y1="607.04" x2="513.2" y2="607.04" stroke="#1a1a1a" stroke-width="0.9"/>
<line x1="511.2" y1="602.98" x2="513.2" y2="602.98" stroke="#1a1a1a" stroke-width="0.9"/>
<line x1="511.2" y1="599.4" x2="513.2" y2="599.4" stroke="#1a1a1a" stroke-width="0.9"/>
<line x1="511.2" y1="575.13" x2="513.2" y2="575.13" stroke="#1a1a1a" stroke-width="0.9"/>
<line x1="511.2" y1="562.8" x2="513.2" y2="562.8" stroke="#1a1a1a" stroke-width="0.9"/>
<line x1="511.2" y1="554.06" x2="513.2" y2="554.06" stroke="#1a1a1a" stroke-width="0.9"/>
<line x1="511.2" y1="547.27" x2="513.2" y2="547.27" stroke="#1a1a1a" stroke-width="0.9"/>
<line x1="511.2" y1="541.73" x2="513.2" y2="541.73" stroke="#1a1a1a" stroke-width="0.9"/>
<line x1="511.2" y1="537.04" x2="513.2" y2="537.04" stroke="#1a1a1a" stroke-width="0.9"/>
<line x1="511.2" y1="532.98" x2="513.2" y2="532.98" stroke="#1a1a1a" stroke-width="0.9"/>
<line x1="511.2" y1="529.4" x2="513.2" y2="529.4" stroke="#1a1a1a" stroke-width="0.9"/>
<text x="509.3" y="531.8" font-size="13.7" text-anchor="end">10<tspan dy="-5.6" font-size="8">2</tspan></text>
<text x="509.3" y="601.8" font-size="13.7" text-anchor="end">10<tspan dy="-5.6" font-size="8">1</tspan></text>
<text x="509.3" y="671.8" font-size="13.7" text-anchor="end">10<tspan dy="-5.6" font-size="8">0</tspan></text>
<text x="511.2" y="702.2" font-size="13.7" text-anchor="middle" fill="#000" stroke="#000" stroke-width="0.15">0</text>
<line x1="552.45" y1="685.5" x2="552.45" y2="682" stroke="#1a1a1a" stroke-width="1"/>
<text x="552.45" y="702.2" font-size="13.7" text-anchor="middle" fill="#000" stroke="#000" stroke-width="0.15">5</text>
<line x1="593.7" y1="685.5" x2="593.7" y2="682" stroke="#1a1a1a" stroke-width="1"/>
<text x="595.5" y="702.2" font-size="13.7" text-anchor="middle" fill="#000" stroke="#000" stroke-width="0.15">10</text>
<line x1="634.95" y1="685.5" x2="634.95" y2="682" stroke="#1a1a1a" stroke-width="1"/>
<text x="636.75" y="702.2" font-size="13.7" text-anchor="middle" fill="#000" stroke="#000" stroke-width="0.15">15</text>
<line x1="676.2" y1="685.5" x2="676.2" y2="682" stroke="#1a1a1a" stroke-width="1"/>
<text x="678" y="702.2" font-size="13.7" text-anchor="middle" fill="#000" stroke="#000" stroke-width="0.15">20</text>
<text x="595.1" y="720.4" font-size="13.7" text-anchor="middle" fill="#000" stroke="#000" stroke-width="0.15">spatial bin</text>
<line x1="522.5" y1="520.8" x2="673.2" y2="520.8" stroke="#8a8a8a" stroke-width="1.8"/>
<line x1="523.5" y1="520.8" x2="523.5" y2="562.1" stroke="#3a3a3a" stroke-width="1.2"/>
<line x1="672.6" y1="520.8" x2="672.6" y2="537.3" stroke="#3a3a3a" stroke-width="1.2"/>
<polygon points="591.05,511.1 591.73,512.87 593.62,512.97 592.14,514.16 592.64,515.98 591.05,514.95 589.46,515.98 589.96,514.16 588.48,512.97 590.37,512.87" fill="#111" stroke="#111" stroke-width="0.3" stroke-linejoin="round"/>
<polygon points="597.45,511.1 598.13,512.87 600.02,512.97 598.54,514.16 599.04,515.98 597.45,514.95 595.86,515.98 596.36,514.16 594.88,512.97 596.77,512.87" fill="#111" stroke="#111" stroke-width="0.3" stroke-linejoin="round"/>
<polygon points="603.85,511.1 604.53,512.87 606.42,512.97 604.94,514.16 605.44,515.98 603.85,514.95 602.26,515.98 602.76,514.16 601.28,512.97 603.17,512.87" fill="#111" stroke="#111" stroke-width="0.3" stroke-linejoin="round"/>
<text x="481.8" y="602.4" font-size="13.7" fill="#1f1ff0" text-anchor="middle" transform="rotate(-90 481.8 602.4)">ensemble asymptotic SNR</text>
</svg></body></html>
